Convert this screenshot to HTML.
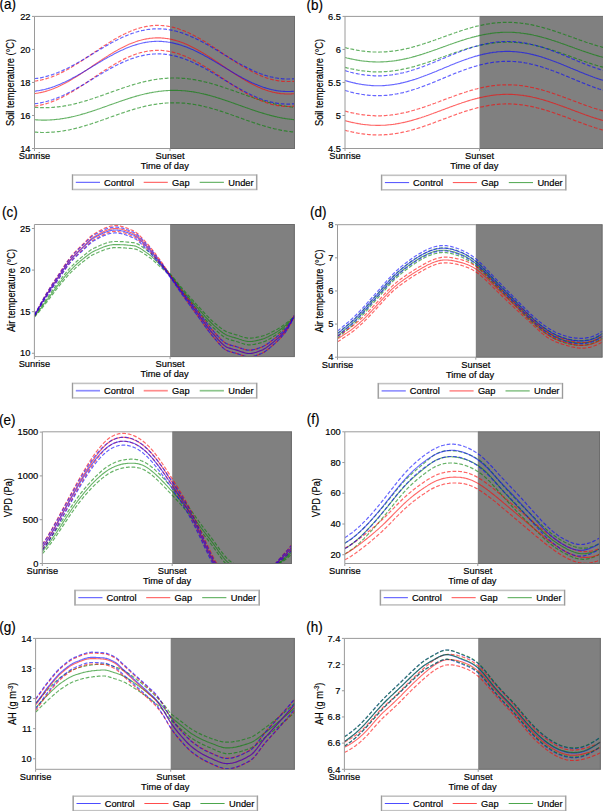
<!DOCTYPE html><html><head><meta charset="utf-8"><style>html,body{margin:0;padding:0;background:#fff;width:603px;height:811px;overflow:hidden}svg{display:block}text{font-family:"Liberation Sans", sans-serif;fill:#000;stroke:#000;stroke-width:0.18px}</style></head><body>
<svg width="603" height="811" viewBox="0 0 603 811">
<defs>
<clipPath id="cpa"><rect x="34.5" y="16.4" width="260.5" height="132.1"/></clipPath>
<clipPath id="cpb"><rect x="345" y="16.4" width="258" height="132.1"/></clipPath>
<clipPath id="cpc"><rect x="34.4" y="224.5" width="260.4" height="132.1"/></clipPath>
<clipPath id="cpd"><rect x="337.5" y="224.7" width="265" height="132.5"/></clipPath>
<clipPath id="cpe"><rect x="42.3" y="431.8" width="249.6" height="131.7"/></clipPath>
<clipPath id="cpf"><rect x="344.8" y="431.8" width="255.2" height="131.7"/></clipPath>
<clipPath id="cpg"><rect x="35.6" y="638.4" width="259.2" height="130.9"/></clipPath>
<clipPath id="cph"><rect x="344.4" y="638.4" width="256.4" height="130.9"/></clipPath>
</defs>
<g><rect x="170" y="16.4" width="125" height="132.1" fill="#808080"/><g clip-path="url(#cpa)" fill="none"><path d="M34.5,107.3 L35.5,107.4 L36.5,107.5 L37.5,107.5 L38.5,107.6 L39.5,107.6 L40.5,107.7 L41.5,107.7 L42.5,107.7 L43.5,107.7 L44.5,107.7 L45.5,107.7 L46.5,107.7 L47.5,107.7 L48.5,107.6 L49.5,107.6 L50.5,107.5 L51.5,107.5 L52.5,107.4 L53.5,107.3 L54.5,107.2 L55.5,107.1 L56.5,107 L57.5,106.9 L58.5,106.8 L59.5,106.7 L60.5,106.6 L61.5,106.4 L62.5,106.3 L63.5,106.1 L64.5,105.9 L65.5,105.8 L66.5,105.6 L67.5,105.4 L68.5,105.2 L69.5,105 L70.5,104.8 L71.5,104.6 L72.5,104.3 L73.5,104.1 L74.5,103.9 L75.5,103.6 L76.5,103.4 L77.5,103.1 L78.5,102.9 L79.5,102.6 L80.5,102.3 L81.5,102 L82.5,101.8 L83.5,101.5 L84.5,101.2 L85.5,100.9 L86.5,100.6 L87.5,100.3 L88.5,99.9 L89.5,99.6 L90.5,99.3 L91.5,99 L92.5,98.7 L93.5,98.3 L94.5,98 L95.5,97.6 L96.5,97.3 L97.5,97 L98.5,96.6 L99.5,96.3 L100.5,95.9 L101.5,95.6 L102.5,95.2 L103.5,94.9 L104.5,94.5 L105.5,94.2 L106.5,93.8 L107.5,93.4 L108.5,93.1 L109.5,92.7 L110.5,92.4 L111.5,92 L112.5,91.6 L113.5,91.3 L114.5,90.9 L115.5,90.6 L116.5,90.2 L117.5,89.9 L118.5,89.5 L119.5,89.2 L120.5,88.8 L121.5,88.5 L122.5,88.1 L123.5,87.8 L124.5,87.5 L125.5,87.1 L126.5,86.8 L127.5,86.5 L128.5,86.2 L129.5,85.8 L130.5,85.5 L131.5,85.2 L132.5,84.9 L133.5,84.6 L134.5,84.3 L135.5,84 L136.5,83.7 L137.5,83.5 L138.5,83.2 L139.5,82.9 L140.5,82.6 L141.5,82.4 L142.5,82.1 L143.5,81.9 L144.5,81.7 L145.5,81.4 L146.5,81.2 L147.5,81 L148.5,80.8 L149.5,80.6 L150.5,80.4 L151.5,80.2 L152.5,80 L153.5,79.8 L154.5,79.6 L155.5,79.5 L156.5,79.3 L157.5,79.2 L158.5,79.1 L159.5,78.9 L160.5,78.8 L161.5,78.7 L162.5,78.6 L163.5,78.5 L164.5,78.4 L165.5,78.3 L166.5,78.3 L167.5,78.2 L168.5,78.1 L169.5,78.1 L170.5,78.1 L171.5,78 L172.5,78 L173.5,78 L174.5,78 L175.5,78 L176.5,78 L177.5,78 L178.5,78.1 L179.5,78.1 L180.5,78.2 L181.5,78.2 L182.5,78.3 L183.5,78.4 L184.5,78.4 L185.5,78.5 L186.5,78.6 L187.5,78.7 L188.5,78.9 L189.5,79 L190.5,79.1 L191.5,79.3 L192.5,79.4 L193.5,79.6 L194.5,79.7 L195.5,79.9 L196.5,80.1 L197.5,80.3 L198.5,80.5 L199.5,80.7 L200.5,80.9 L201.5,81.1 L202.5,81.3 L203.5,81.5 L204.5,81.8 L205.5,82 L206.5,82.3 L207.5,82.5 L208.5,82.8 L209.5,83 L210.5,83.3 L211.5,83.6 L212.5,83.9 L213.5,84.2 L214.5,84.5 L215.5,84.8 L216.5,85.1 L217.5,85.4 L218.5,85.7 L219.5,86 L220.5,86.3 L221.5,86.6 L222.5,87 L223.5,87.3 L224.5,87.6 L225.5,88 L226.5,88.3 L227.5,88.7 L228.5,89 L229.5,89.3 L230.5,89.7 L231.5,90 L232.5,90.4 L233.5,90.8 L234.5,91.1 L235.5,91.5 L236.5,91.8 L237.5,92.2 L238.5,92.5 L239.5,92.9 L240.5,93.3 L241.5,93.6 L242.5,94 L243.5,94.3 L244.5,94.7 L245.5,95 L246.5,95.4 L247.5,95.7 L248.5,96.1 L249.5,96.4 L250.5,96.8 L251.5,97.1 L252.5,97.5 L253.5,97.8 L254.5,98.2 L255.5,98.5 L256.5,98.8 L257.5,99.1 L258.5,99.5 L259.5,99.8 L260.5,100.1 L261.5,100.4 L262.5,100.7 L263.5,101 L264.5,101.3 L265.5,101.6 L266.5,101.9 L267.5,102.2 L268.5,102.5 L269.5,102.7 L270.5,103 L271.5,103.2 L272.5,103.5 L273.5,103.7 L274.5,104 L275.5,104.2 L276.5,104.5 L277.5,104.7 L278.5,104.9 L279.5,105.1 L280.5,105.3 L281.5,105.5 L282.5,105.7 L283.5,105.8 L284.5,106 L285.5,106.2 L286.5,106.3 L287.5,106.5 L288.5,106.6 L289.5,106.8 L290.5,106.9 L291.5,107 L292.5,107.1 L293.5,107.2 L294.5,107.3" stroke="#008000" stroke-opacity="0.6" stroke-width="1.2" stroke-dasharray="3.8 1.8"/><path d="M34.5,132.1 L35.5,132.2 L36.5,132.2 L37.5,132.3 L38.5,132.4 L39.5,132.4 L40.5,132.4 L41.5,132.5 L42.5,132.5 L43.5,132.5 L44.5,132.5 L45.5,132.5 L46.5,132.5 L47.5,132.4 L48.5,132.4 L49.5,132.4 L50.5,132.3 L51.5,132.2 L52.5,132.2 L53.5,132.1 L54.5,132 L55.5,131.9 L56.5,131.8 L57.5,131.7 L58.5,131.6 L59.5,131.5 L60.5,131.3 L61.5,131.2 L62.5,131 L63.5,130.9 L64.5,130.7 L65.5,130.5 L66.5,130.3 L67.5,130.2 L68.5,130 L69.5,129.8 L70.5,129.5 L71.5,129.3 L72.5,129.1 L73.5,128.9 L74.5,128.6 L75.5,128.4 L76.5,128.1 L77.5,127.9 L78.5,127.6 L79.5,127.4 L80.5,127.1 L81.5,126.8 L82.5,126.5 L83.5,126.2 L84.5,125.9 L85.5,125.6 L86.5,125.3 L87.5,125 L88.5,124.7 L89.5,124.4 L90.5,124.1 L91.5,123.8 L92.5,123.4 L93.5,123.1 L94.5,122.8 L95.5,122.4 L96.5,122.1 L97.5,121.7 L98.5,121.4 L99.5,121 L100.5,120.7 L101.5,120.3 L102.5,120 L103.5,119.6 L104.5,119.3 L105.5,118.9 L106.5,118.6 L107.5,118.2 L108.5,117.8 L109.5,117.5 L110.5,117.1 L111.5,116.8 L112.5,116.4 L113.5,116.1 L114.5,115.7 L115.5,115.3 L116.5,115 L117.5,114.6 L118.5,114.3 L119.5,113.9 L120.5,113.6 L121.5,113.3 L122.5,112.9 L123.5,112.6 L124.5,112.2 L125.5,111.9 L126.5,111.6 L127.5,111.2 L128.5,110.9 L129.5,110.6 L130.5,110.3 L131.5,110 L132.5,109.7 L133.5,109.4 L134.5,109.1 L135.5,108.8 L136.5,108.5 L137.5,108.2 L138.5,108 L139.5,107.7 L140.5,107.4 L141.5,107.2 L142.5,106.9 L143.5,106.7 L144.5,106.4 L145.5,106.2 L146.5,106 L147.5,105.7 L148.5,105.5 L149.5,105.3 L150.5,105.1 L151.5,104.9 L152.5,104.8 L153.5,104.6 L154.5,104.4 L155.5,104.3 L156.5,104.1 L157.5,104 L158.5,103.8 L159.5,103.7 L160.5,103.6 L161.5,103.5 L162.5,103.4 L163.5,103.3 L164.5,103.2 L165.5,103.1 L166.5,103 L167.5,103 L168.5,102.9 L169.5,102.9 L170.5,102.8 L171.5,102.8 L172.5,102.8 L173.5,102.8 L174.5,102.8 L175.5,102.8 L176.5,102.8 L177.5,102.8 L178.5,102.8 L179.5,102.9 L180.5,102.9 L181.5,103 L182.5,103.1 L183.5,103.1 L184.5,103.2 L185.5,103.3 L186.5,103.4 L187.5,103.5 L188.5,103.6 L189.5,103.8 L190.5,103.9 L191.5,104 L192.5,104.2 L193.5,104.3 L194.5,104.5 L195.5,104.7 L196.5,104.8 L197.5,105 L198.5,105.2 L199.5,105.4 L200.5,105.6 L201.5,105.9 L202.5,106.1 L203.5,106.3 L204.5,106.5 L205.5,106.8 L206.5,107 L207.5,107.3 L208.5,107.5 L209.5,107.8 L210.5,108.1 L211.5,108.4 L212.5,108.6 L213.5,108.9 L214.5,109.2 L215.5,109.5 L216.5,109.8 L217.5,110.1 L218.5,110.5 L219.5,110.8 L220.5,111.1 L221.5,111.4 L222.5,111.7 L223.5,112.1 L224.5,112.4 L225.5,112.7 L226.5,113.1 L227.5,113.4 L228.5,113.8 L229.5,114.1 L230.5,114.5 L231.5,114.8 L232.5,115.2 L233.5,115.5 L234.5,115.9 L235.5,116.2 L236.5,116.6 L237.5,116.9 L238.5,117.3 L239.5,117.7 L240.5,118 L241.5,118.4 L242.5,118.7 L243.5,119.1 L244.5,119.5 L245.5,119.8 L246.5,120.2 L247.5,120.5 L248.5,120.9 L249.5,121.2 L250.5,121.6 L251.5,121.9 L252.5,122.2 L253.5,122.6 L254.5,122.9 L255.5,123.3 L256.5,123.6 L257.5,123.9 L258.5,124.2 L259.5,124.6 L260.5,124.9 L261.5,125.2 L262.5,125.5 L263.5,125.8 L264.5,126.1 L265.5,126.4 L266.5,126.7 L267.5,126.9 L268.5,127.2 L269.5,127.5 L270.5,127.8 L271.5,128 L272.5,128.3 L273.5,128.5 L274.5,128.8 L275.5,129 L276.5,129.2 L277.5,129.4 L278.5,129.7 L279.5,129.9 L280.5,130.1 L281.5,130.3 L282.5,130.4 L283.5,130.6 L284.5,130.8 L285.5,130.9 L286.5,131.1 L287.5,131.3 L288.5,131.4 L289.5,131.5 L290.5,131.6 L291.5,131.8 L292.5,131.9 L293.5,132 L294.5,132.1" stroke="#008000" stroke-opacity="0.6" stroke-width="1.2" stroke-dasharray="3.8 1.8"/><path d="M34.5,119.7 L35.5,119.8 L36.5,119.9 L37.5,119.9 L38.5,120 L39.5,120 L40.5,120 L41.5,120.1 L42.5,120.1 L43.5,120.1 L44.5,120.1 L45.5,120.1 L46.5,120.1 L47.5,120 L48.5,120 L49.5,120 L50.5,119.9 L51.5,119.9 L52.5,119.8 L53.5,119.7 L54.5,119.6 L55.5,119.5 L56.5,119.4 L57.5,119.3 L58.5,119.2 L59.5,119.1 L60.5,118.9 L61.5,118.8 L62.5,118.6 L63.5,118.5 L64.5,118.3 L65.5,118.1 L66.5,118 L67.5,117.8 L68.5,117.6 L69.5,117.4 L70.5,117.2 L71.5,116.9 L72.5,116.7 L73.5,116.5 L74.5,116.3 L75.5,116 L76.5,115.8 L77.5,115.5 L78.5,115.2 L79.5,115 L80.5,114.7 L81.5,114.4 L82.5,114.1 L83.5,113.8 L84.5,113.6 L85.5,113.3 L86.5,113 L87.5,112.6 L88.5,112.3 L89.5,112 L90.5,111.7 L91.5,111.4 L92.5,111 L93.5,110.7 L94.5,110.4 L95.5,110 L96.5,109.7 L97.5,109.3 L98.5,109 L99.5,108.7 L100.5,108.3 L101.5,108 L102.5,107.6 L103.5,107.2 L104.5,106.9 L105.5,106.5 L106.5,106.2 L107.5,105.8 L108.5,105.5 L109.5,105.1 L110.5,104.7 L111.5,104.4 L112.5,104 L113.5,103.7 L114.5,103.3 L115.5,103 L116.5,102.6 L117.5,102.3 L118.5,101.9 L119.5,101.6 L120.5,101.2 L121.5,100.9 L122.5,100.5 L123.5,100.2 L124.5,99.9 L125.5,99.5 L126.5,99.2 L127.5,98.9 L128.5,98.5 L129.5,98.2 L130.5,97.9 L131.5,97.6 L132.5,97.3 L133.5,97 L134.5,96.7 L135.5,96.4 L136.5,96.1 L137.5,95.8 L138.5,95.6 L139.5,95.3 L140.5,95 L141.5,94.8 L142.5,94.5 L143.5,94.3 L144.5,94 L145.5,93.8 L146.5,93.6 L147.5,93.4 L148.5,93.2 L149.5,92.9 L150.5,92.7 L151.5,92.6 L152.5,92.4 L153.5,92.2 L154.5,92 L155.5,91.9 L156.5,91.7 L157.5,91.6 L158.5,91.4 L159.5,91.3 L160.5,91.2 L161.5,91.1 L162.5,91 L163.5,90.9 L164.5,90.8 L165.5,90.7 L166.5,90.6 L167.5,90.6 L168.5,90.5 L169.5,90.5 L170.5,90.4 L171.5,90.4 L172.5,90.4 L173.5,90.4 L174.5,90.4 L175.5,90.4 L176.5,90.4 L177.5,90.4 L178.5,90.5 L179.5,90.5 L180.5,90.5 L181.5,90.6 L182.5,90.7 L183.5,90.7 L184.5,90.8 L185.5,90.9 L186.5,91 L187.5,91.1 L188.5,91.2 L189.5,91.4 L190.5,91.5 L191.5,91.6 L192.5,91.8 L193.5,91.9 L194.5,92.1 L195.5,92.3 L196.5,92.5 L197.5,92.7 L198.5,92.8 L199.5,93 L200.5,93.3 L201.5,93.5 L202.5,93.7 L203.5,93.9 L204.5,94.2 L205.5,94.4 L206.5,94.6 L207.5,94.9 L208.5,95.2 L209.5,95.4 L210.5,95.7 L211.5,96 L212.5,96.3 L213.5,96.6 L214.5,96.8 L215.5,97.1 L216.5,97.4 L217.5,97.8 L218.5,98.1 L219.5,98.4 L220.5,98.7 L221.5,99 L222.5,99.4 L223.5,99.7 L224.5,100 L225.5,100.4 L226.5,100.7 L227.5,101 L228.5,101.4 L229.5,101.7 L230.5,102.1 L231.5,102.4 L232.5,102.8 L233.5,103.1 L234.5,103.5 L235.5,103.9 L236.5,104.2 L237.5,104.6 L238.5,104.9 L239.5,105.3 L240.5,105.6 L241.5,106 L242.5,106.4 L243.5,106.7 L244.5,107.1 L245.5,107.4 L246.5,107.8 L247.5,108.1 L248.5,108.5 L249.5,108.8 L250.5,109.2 L251.5,109.5 L252.5,109.9 L253.5,110.2 L254.5,110.5 L255.5,110.9 L256.5,111.2 L257.5,111.5 L258.5,111.9 L259.5,112.2 L260.5,112.5 L261.5,112.8 L262.5,113.1 L263.5,113.4 L264.5,113.7 L265.5,114 L266.5,114.3 L267.5,114.6 L268.5,114.8 L269.5,115.1 L270.5,115.4 L271.5,115.6 L272.5,115.9 L273.5,116.1 L274.5,116.4 L275.5,116.6 L276.5,116.8 L277.5,117.1 L278.5,117.3 L279.5,117.5 L280.5,117.7 L281.5,117.9 L282.5,118.1 L283.5,118.2 L284.5,118.4 L285.5,118.6 L286.5,118.7 L287.5,118.9 L288.5,119 L289.5,119.1 L290.5,119.3 L291.5,119.4 L292.5,119.5 L293.5,119.6 L294.5,119.7" stroke="#008000" stroke-opacity="0.6" stroke-width="1.1"/><path d="M34.5,81.1 L35.5,81 L36.5,80.9 L37.5,80.7 L38.5,80.6 L39.5,80.4 L40.5,80.2 L41.5,80 L42.5,79.7 L43.5,79.5 L44.5,79.2 L45.5,78.9 L46.5,78.6 L47.5,78.3 L48.5,78 L49.5,77.7 L50.5,77.3 L51.5,77 L52.5,76.6 L53.5,76.2 L54.5,75.8 L55.5,75.4 L56.5,75 L57.5,74.5 L58.5,74.1 L59.5,73.6 L60.5,73.1 L61.5,72.6 L62.5,72.1 L63.5,71.6 L64.5,71.1 L65.5,70.6 L66.5,70 L67.5,69.5 L68.5,68.9 L69.5,68.3 L70.5,67.7 L71.5,67.2 L72.5,66.6 L73.5,66 L74.5,65.4 L75.5,64.7 L76.5,64.1 L77.5,63.5 L78.5,62.9 L79.5,62.2 L80.5,61.6 L81.5,60.9 L82.5,60.3 L83.5,59.6 L84.5,58.9 L85.5,58.3 L86.5,57.6 L87.5,56.9 L88.5,56.3 L89.5,55.6 L90.5,54.9 L91.5,54.2 L92.5,53.6 L93.5,52.9 L94.5,52.2 L95.5,51.5 L96.5,50.9 L97.5,50.2 L98.5,49.5 L99.5,48.8 L100.5,48.2 L101.5,47.5 L102.5,46.8 L103.5,46.2 L104.5,45.5 L105.5,44.9 L106.5,44.3 L107.5,43.6 L108.5,43 L109.5,42.4 L110.5,41.7 L111.5,41.1 L112.5,40.5 L113.5,39.9 L114.5,39.3 L115.5,38.8 L116.5,38.2 L117.5,37.6 L118.5,37.1 L119.5,36.5 L120.5,36 L121.5,35.5 L122.5,34.9 L123.5,34.4 L124.5,34 L125.5,33.5 L126.5,33 L127.5,32.5 L128.5,32.1 L129.5,31.7 L130.5,31.2 L131.5,30.8 L132.5,30.4 L133.5,30.1 L134.5,29.7 L135.5,29.3 L136.5,29 L137.5,28.7 L138.5,28.4 L139.5,28.1 L140.5,27.8 L141.5,27.5 L142.5,27.3 L143.5,27 L144.5,26.8 L145.5,26.6 L146.5,26.4 L147.5,26.3 L148.5,26.1 L149.5,26 L150.5,25.8 L151.5,25.7 L152.5,25.6 L153.5,25.5 L154.5,25.5 L155.5,25.4 L156.5,25.4 L157.5,25.4 L158.5,25.4 L159.5,25.4 L160.5,25.5 L161.5,25.5 L162.5,25.6 L163.5,25.7 L164.5,25.8 L165.5,25.9 L166.5,26 L167.5,26.2 L168.5,26.3 L169.5,26.5 L170.5,26.7 L171.5,26.9 L172.5,27.2 L173.5,27.4 L174.5,27.7 L175.5,27.9 L176.5,28.2 L177.5,28.5 L178.5,28.8 L179.5,29.2 L180.5,29.5 L181.5,29.9 L182.5,30.3 L183.5,30.6 L184.5,31 L185.5,31.5 L186.5,31.9 L187.5,32.3 L188.5,32.8 L189.5,33.2 L190.5,33.7 L191.5,34.2 L192.5,34.7 L193.5,35.2 L194.5,35.7 L195.5,36.3 L196.5,36.8 L197.5,37.3 L198.5,37.9 L199.5,38.5 L200.5,39 L201.5,39.6 L202.5,40.2 L203.5,40.8 L204.5,41.4 L205.5,42 L206.5,42.7 L207.5,43.3 L208.5,43.9 L209.5,44.6 L210.5,45.2 L211.5,45.9 L212.5,46.5 L213.5,47.2 L214.5,47.8 L215.5,48.5 L216.5,49.2 L217.5,49.8 L218.5,50.5 L219.5,51.2 L220.5,51.9 L221.5,52.5 L222.5,53.2 L223.5,53.9 L224.5,54.6 L225.5,55.2 L226.5,55.9 L227.5,56.6 L228.5,57.3 L229.5,57.9 L230.5,58.6 L231.5,59.3 L232.5,59.9 L233.5,60.6 L234.5,61.2 L235.5,61.9 L236.5,62.5 L237.5,63.2 L238.5,63.8 L239.5,64.4 L240.5,65 L241.5,65.7 L242.5,66.3 L243.5,66.9 L244.5,67.5 L245.5,68 L246.5,68.6 L247.5,69.2 L248.5,69.7 L249.5,70.3 L250.5,70.8 L251.5,71.3 L252.5,71.9 L253.5,72.4 L254.5,72.9 L255.5,73.3 L256.5,73.8 L257.5,74.3 L258.5,74.7 L259.5,75.2 L260.5,75.6 L261.5,76 L262.5,76.4 L263.5,76.8 L264.5,77.2 L265.5,77.5 L266.5,77.9 L267.5,78.2 L268.5,78.5 L269.5,78.8 L270.5,79.1 L271.5,79.3 L272.5,79.6 L273.5,79.8 L274.5,80.1 L275.5,80.3 L276.5,80.5 L277.5,80.6 L278.5,80.8 L279.5,81 L280.5,81.1 L281.5,81.2 L282.5,81.3 L283.5,81.4 L284.5,81.4 L285.5,81.5 L286.5,81.5 L287.5,81.5 L288.5,81.5 L289.5,81.5 L290.5,81.5 L291.5,81.4 L292.5,81.4 L293.5,81.3 L294.5,81.2" stroke="#ff0000" stroke-opacity="0.6" stroke-width="1.2" stroke-dasharray="3.8 1.8"/><path d="M34.5,106.1 L35.5,106 L36.5,105.8 L37.5,105.7 L38.5,105.5 L39.5,105.3 L40.5,105.1 L41.5,104.9 L42.5,104.7 L43.5,104.4 L44.5,104.1 L45.5,103.9 L46.5,103.6 L47.5,103.3 L48.5,103 L49.5,102.6 L50.5,102.3 L51.5,101.9 L52.5,101.5 L53.5,101.1 L54.5,100.7 L55.5,100.3 L56.5,99.9 L57.5,99.4 L58.5,99 L59.5,98.5 L60.5,98 L61.5,97.6 L62.5,97.1 L63.5,96.5 L64.5,96 L65.5,95.5 L66.5,94.9 L67.5,94.4 L68.5,93.8 L69.5,93.3 L70.5,92.7 L71.5,92.1 L72.5,91.5 L73.5,90.9 L74.5,90.3 L75.5,89.7 L76.5,89 L77.5,88.4 L78.5,87.8 L79.5,87.1 L80.5,86.5 L81.5,85.8 L82.5,85.2 L83.5,84.5 L84.5,83.9 L85.5,83.2 L86.5,82.5 L87.5,81.9 L88.5,81.2 L89.5,80.5 L90.5,79.8 L91.5,79.2 L92.5,78.5 L93.5,77.8 L94.5,77.1 L95.5,76.5 L96.5,75.8 L97.5,75.1 L98.5,74.4 L99.5,73.8 L100.5,73.1 L101.5,72.4 L102.5,71.8 L103.5,71.1 L104.5,70.5 L105.5,69.8 L106.5,69.2 L107.5,68.5 L108.5,67.9 L109.5,67.3 L110.5,66.7 L111.5,66.1 L112.5,65.5 L113.5,64.9 L114.5,64.3 L115.5,63.7 L116.5,63.1 L117.5,62.6 L118.5,62 L119.5,61.5 L120.5,60.9 L121.5,60.4 L122.5,59.9 L123.5,59.4 L124.5,58.9 L125.5,58.4 L126.5,57.9 L127.5,57.5 L128.5,57 L129.5,56.6 L130.5,56.2 L131.5,55.8 L132.5,55.4 L133.5,55 L134.5,54.6 L135.5,54.3 L136.5,53.9 L137.5,53.6 L138.5,53.3 L139.5,53 L140.5,52.7 L141.5,52.5 L142.5,52.2 L143.5,52 L144.5,51.8 L145.5,51.5 L146.5,51.4 L147.5,51.2 L148.5,51 L149.5,50.9 L150.5,50.8 L151.5,50.7 L152.5,50.6 L153.5,50.5 L154.5,50.4 L155.5,50.4 L156.5,50.3 L157.5,50.3 L158.5,50.3 L159.5,50.4 L160.5,50.4 L161.5,50.4 L162.5,50.5 L163.5,50.6 L164.5,50.7 L165.5,50.8 L166.5,51 L167.5,51.1 L168.5,51.3 L169.5,51.5 L170.5,51.7 L171.5,51.9 L172.5,52.1 L173.5,52.3 L174.5,52.6 L175.5,52.9 L176.5,53.2 L177.5,53.5 L178.5,53.8 L179.5,54.1 L180.5,54.5 L181.5,54.8 L182.5,55.2 L183.5,55.6 L184.5,56 L185.5,56.4 L186.5,56.8 L187.5,57.3 L188.5,57.7 L189.5,58.2 L190.5,58.6 L191.5,59.1 L192.5,59.6 L193.5,60.1 L194.5,60.7 L195.5,61.2 L196.5,61.7 L197.5,62.3 L198.5,62.8 L199.5,63.4 L200.5,64 L201.5,64.6 L202.5,65.2 L203.5,65.8 L204.5,66.4 L205.5,67 L206.5,67.6 L207.5,68.2 L208.5,68.9 L209.5,69.5 L210.5,70.1 L211.5,70.8 L212.5,71.5 L213.5,72.1 L214.5,72.8 L215.5,73.4 L216.5,74.1 L217.5,74.8 L218.5,75.4 L219.5,76.1 L220.5,76.8 L221.5,77.5 L222.5,78.2 L223.5,78.8 L224.5,79.5 L225.5,80.2 L226.5,80.9 L227.5,81.5 L228.5,82.2 L229.5,82.9 L230.5,83.5 L231.5,84.2 L232.5,84.9 L233.5,85.5 L234.5,86.2 L235.5,86.8 L236.5,87.5 L237.5,88.1 L238.5,88.7 L239.5,89.4 L240.5,90 L241.5,90.6 L242.5,91.2 L243.5,91.8 L244.5,92.4 L245.5,93 L246.5,93.5 L247.5,94.1 L248.5,94.7 L249.5,95.2 L250.5,95.8 L251.5,96.3 L252.5,96.8 L253.5,97.3 L254.5,97.8 L255.5,98.3 L256.5,98.8 L257.5,99.2 L258.5,99.7 L259.5,100.1 L260.5,100.5 L261.5,100.9 L262.5,101.3 L263.5,101.7 L264.5,102.1 L265.5,102.4 L266.5,102.8 L267.5,103.1 L268.5,103.4 L269.5,103.7 L270.5,104 L271.5,104.3 L272.5,104.5 L273.5,104.8 L274.5,105 L275.5,105.2 L276.5,105.4 L277.5,105.6 L278.5,105.7 L279.5,105.9 L280.5,106 L281.5,106.1 L282.5,106.2 L283.5,106.3 L284.5,106.4 L285.5,106.4 L286.5,106.5 L287.5,106.5 L288.5,106.5 L289.5,106.5 L290.5,106.4 L291.5,106.4 L292.5,106.3 L293.5,106.2 L294.5,106.1" stroke="#ff0000" stroke-opacity="0.6" stroke-width="1.2" stroke-dasharray="3.8 1.8"/><path d="M34.5,93.6 L35.5,93.5 L36.5,93.3 L37.5,93.2 L38.5,93 L39.5,92.8 L40.5,92.6 L41.5,92.4 L42.5,92.2 L43.5,91.9 L44.5,91.7 L45.5,91.4 L46.5,91.1 L47.5,90.8 L48.5,90.5 L49.5,90.1 L50.5,89.8 L51.5,89.4 L52.5,89.1 L53.5,88.7 L54.5,88.3 L55.5,87.8 L56.5,87.4 L57.5,87 L58.5,86.5 L59.5,86.1 L60.5,85.6 L61.5,85.1 L62.5,84.6 L63.5,84.1 L64.5,83.6 L65.5,83 L66.5,82.5 L67.5,81.9 L68.5,81.4 L69.5,80.8 L70.5,80.2 L71.5,79.6 L72.5,79 L73.5,78.4 L74.5,77.8 L75.5,77.2 L76.5,76.6 L77.5,76 L78.5,75.3 L79.5,74.7 L80.5,74 L81.5,73.4 L82.5,72.7 L83.5,72.1 L84.5,71.4 L85.5,70.7 L86.5,70.1 L87.5,69.4 L88.5,68.7 L89.5,68.1 L90.5,67.4 L91.5,66.7 L92.5,66 L93.5,65.3 L94.5,64.7 L95.5,64 L96.5,63.3 L97.5,62.6 L98.5,62 L99.5,61.3 L100.5,60.6 L101.5,60 L102.5,59.3 L103.5,58.7 L104.5,58 L105.5,57.4 L106.5,56.7 L107.5,56.1 L108.5,55.4 L109.5,54.8 L110.5,54.2 L111.5,53.6 L112.5,53 L113.5,52.4 L114.5,51.8 L115.5,51.2 L116.5,50.7 L117.5,50.1 L118.5,49.5 L119.5,49 L120.5,48.5 L121.5,47.9 L122.5,47.4 L123.5,46.9 L124.5,46.4 L125.5,45.9 L126.5,45.5 L127.5,45 L128.5,44.6 L129.5,44.1 L130.5,43.7 L131.5,43.3 L132.5,42.9 L133.5,42.5 L134.5,42.2 L135.5,41.8 L136.5,41.5 L137.5,41.1 L138.5,40.8 L139.5,40.5 L140.5,40.3 L141.5,40 L142.5,39.7 L143.5,39.5 L144.5,39.3 L145.5,39.1 L146.5,38.9 L147.5,38.7 L148.5,38.6 L149.5,38.4 L150.5,38.3 L151.5,38.2 L152.5,38.1 L153.5,38 L154.5,38 L155.5,37.9 L156.5,37.9 L157.5,37.9 L158.5,37.9 L159.5,37.9 L160.5,37.9 L161.5,38 L162.5,38.1 L163.5,38.1 L164.5,38.2 L165.5,38.4 L166.5,38.5 L167.5,38.6 L168.5,38.8 L169.5,39 L170.5,39.2 L171.5,39.4 L172.5,39.6 L173.5,39.9 L174.5,40.1 L175.5,40.4 L176.5,40.7 L177.5,41 L178.5,41.3 L179.5,41.6 L180.5,42 L181.5,42.3 L182.5,42.7 L183.5,43.1 L184.5,43.5 L185.5,43.9 L186.5,44.3 L187.5,44.8 L188.5,45.2 L189.5,45.7 L190.5,46.2 L191.5,46.7 L192.5,47.2 L193.5,47.7 L194.5,48.2 L195.5,48.7 L196.5,49.3 L197.5,49.8 L198.5,50.4 L199.5,50.9 L200.5,51.5 L201.5,52.1 L202.5,52.7 L203.5,53.3 L204.5,53.9 L205.5,54.5 L206.5,55.1 L207.5,55.8 L208.5,56.4 L209.5,57 L210.5,57.7 L211.5,58.3 L212.5,59 L213.5,59.6 L214.5,60.3 L215.5,61 L216.5,61.6 L217.5,62.3 L218.5,63 L219.5,63.7 L220.5,64.3 L221.5,65 L222.5,65.7 L223.5,66.4 L224.5,67 L225.5,67.7 L226.5,68.4 L227.5,69.1 L228.5,69.7 L229.5,70.4 L230.5,71.1 L231.5,71.7 L232.5,72.4 L233.5,73.1 L234.5,73.7 L235.5,74.4 L236.5,75 L237.5,75.6 L238.5,76.3 L239.5,76.9 L240.5,77.5 L241.5,78.1 L242.5,78.7 L243.5,79.3 L244.5,79.9 L245.5,80.5 L246.5,81.1 L247.5,81.6 L248.5,82.2 L249.5,82.8 L250.5,83.3 L251.5,83.8 L252.5,84.3 L253.5,84.8 L254.5,85.3 L255.5,85.8 L256.5,86.3 L257.5,86.7 L258.5,87.2 L259.5,87.6 L260.5,88.1 L261.5,88.5 L262.5,88.9 L263.5,89.2 L264.5,89.6 L265.5,90 L266.5,90.3 L267.5,90.6 L268.5,91 L269.5,91.3 L270.5,91.5 L271.5,91.8 L272.5,92.1 L273.5,92.3 L274.5,92.5 L275.5,92.7 L276.5,92.9 L277.5,93.1 L278.5,93.3 L279.5,93.4 L280.5,93.6 L281.5,93.7 L282.5,93.8 L283.5,93.8 L284.5,93.9 L285.5,94 L286.5,94 L287.5,94 L288.5,94 L289.5,94 L290.5,94 L291.5,93.9 L292.5,93.8 L293.5,93.8 L294.5,93.7" stroke="#ff0000" stroke-opacity="0.6" stroke-width="1.1"/><path d="M34.5,78.6 L35.5,78.5 L36.5,78.4 L37.5,78.3 L38.5,78.1 L39.5,77.9 L40.5,77.8 L41.5,77.6 L42.5,77.4 L43.5,77.1 L44.5,76.9 L45.5,76.7 L46.5,76.4 L47.5,76.1 L48.5,75.8 L49.5,75.5 L50.5,75.2 L51.5,74.9 L52.5,74.6 L53.5,74.2 L54.5,73.8 L55.5,73.5 L56.5,73.1 L57.5,72.7 L58.5,72.3 L59.5,71.9 L60.5,71.4 L61.5,71 L62.5,70.6 L63.5,70.1 L64.5,69.6 L65.5,69.2 L66.5,68.7 L67.5,68.2 L68.5,67.7 L69.5,67.2 L70.5,66.7 L71.5,66.1 L72.5,65.6 L73.5,65.1 L74.5,64.5 L75.5,64 L76.5,63.4 L77.5,62.8 L78.5,62.3 L79.5,61.7 L80.5,61.1 L81.5,60.5 L82.5,60 L83.5,59.4 L84.5,58.8 L85.5,58.2 L86.5,57.6 L87.5,57 L88.5,56.4 L89.5,55.8 L90.5,55.2 L91.5,54.6 L92.5,54 L93.5,53.4 L94.5,52.7 L95.5,52.1 L96.5,51.5 L97.5,50.9 L98.5,50.3 L99.5,49.7 L100.5,49.1 L101.5,48.6 L102.5,48 L103.5,47.4 L104.5,46.8 L105.5,46.2 L106.5,45.6 L107.5,45.1 L108.5,44.5 L109.5,43.9 L110.5,43.4 L111.5,42.8 L112.5,42.3 L113.5,41.8 L114.5,41.2 L115.5,40.7 L116.5,40.2 L117.5,39.7 L118.5,39.2 L119.5,38.7 L120.5,38.3 L121.5,37.8 L122.5,37.3 L123.5,36.9 L124.5,36.4 L125.5,36 L126.5,35.6 L127.5,35.2 L128.5,34.8 L129.5,34.4 L130.5,34 L131.5,33.6 L132.5,33.3 L133.5,33 L134.5,32.6 L135.5,32.3 L136.5,32 L137.5,31.7 L138.5,31.4 L139.5,31.2 L140.5,30.9 L141.5,30.7 L142.5,30.5 L143.5,30.3 L144.5,30.1 L145.5,29.9 L146.5,29.7 L147.5,29.5 L148.5,29.4 L149.5,29.3 L150.5,29.2 L151.5,29.1 L152.5,29 L153.5,28.9 L154.5,28.9 L155.5,28.8 L156.5,28.8 L157.5,28.8 L158.5,28.8 L159.5,28.8 L160.5,28.8 L161.5,28.9 L162.5,28.9 L163.5,29 L164.5,29.1 L165.5,29.2 L166.5,29.3 L167.5,29.5 L168.5,29.6 L169.5,29.8 L170.5,30 L171.5,30.2 L172.5,30.4 L173.5,30.6 L174.5,30.8 L175.5,31 L176.5,31.3 L177.5,31.6 L178.5,31.9 L179.5,32.2 L180.5,32.5 L181.5,32.8 L182.5,33.1 L183.5,33.5 L184.5,33.8 L185.5,34.2 L186.5,34.6 L187.5,35 L188.5,35.4 L189.5,35.8 L190.5,36.2 L191.5,36.7 L192.5,37.1 L193.5,37.6 L194.5,38 L195.5,38.5 L196.5,39 L197.5,39.5 L198.5,40 L199.5,40.5 L200.5,41 L201.5,41.5 L202.5,42 L203.5,42.6 L204.5,43.1 L205.5,43.7 L206.5,44.2 L207.5,44.8 L208.5,45.4 L209.5,45.9 L210.5,46.5 L211.5,47.1 L212.5,47.7 L213.5,48.3 L214.5,48.8 L215.5,49.4 L216.5,50 L217.5,50.6 L218.5,51.2 L219.5,51.8 L220.5,52.4 L221.5,53.1 L222.5,53.7 L223.5,54.3 L224.5,54.9 L225.5,55.5 L226.5,56.1 L227.5,56.7 L228.5,57.3 L229.5,57.9 L230.5,58.5 L231.5,59.1 L232.5,59.7 L233.5,60.2 L234.5,60.8 L235.5,61.4 L236.5,62 L237.5,62.6 L238.5,63.1 L239.5,63.7 L240.5,64.2 L241.5,64.8 L242.5,65.3 L243.5,65.9 L244.5,66.4 L245.5,66.9 L246.5,67.4 L247.5,67.9 L248.5,68.4 L249.5,68.9 L250.5,69.4 L251.5,69.9 L252.5,70.3 L253.5,70.8 L254.5,71.2 L255.5,71.7 L256.5,72.1 L257.5,72.5 L258.5,72.9 L259.5,73.3 L260.5,73.7 L261.5,74 L262.5,74.4 L263.5,74.7 L264.5,75.1 L265.5,75.4 L266.5,75.7 L267.5,76 L268.5,76.3 L269.5,76.5 L270.5,76.8 L271.5,77 L272.5,77.2 L273.5,77.5 L274.5,77.7 L275.5,77.9 L276.5,78 L277.5,78.2 L278.5,78.3 L279.5,78.5 L280.5,78.6 L281.5,78.7 L282.5,78.8 L283.5,78.8 L284.5,78.9 L285.5,78.9 L286.5,79 L287.5,79 L288.5,79 L289.5,79 L290.5,78.9 L291.5,78.9 L292.5,78.8 L293.5,78.8 L294.5,78.7" stroke="#0000ff" stroke-opacity="0.6" stroke-width="1.2" stroke-dasharray="3.8 1.8"/><path d="M34.5,103.7 L35.5,103.6 L36.5,103.5 L37.5,103.4 L38.5,103.2 L39.5,103 L40.5,102.9 L41.5,102.7 L42.5,102.5 L43.5,102.2 L44.5,102 L45.5,101.8 L46.5,101.5 L47.5,101.2 L48.5,100.9 L49.5,100.6 L50.5,100.3 L51.5,100 L52.5,99.7 L53.5,99.3 L54.5,98.9 L55.5,98.6 L56.5,98.2 L57.5,97.8 L58.5,97.4 L59.5,97 L60.5,96.5 L61.5,96.1 L62.5,95.7 L63.5,95.2 L64.5,94.7 L65.5,94.3 L66.5,93.8 L67.5,93.3 L68.5,92.8 L69.5,92.3 L70.5,91.7 L71.5,91.2 L72.5,90.7 L73.5,90.2 L74.5,89.6 L75.5,89.1 L76.5,88.5 L77.5,87.9 L78.5,87.4 L79.5,86.8 L80.5,86.2 L81.5,85.6 L82.5,85.1 L83.5,84.5 L84.5,83.9 L85.5,83.3 L86.5,82.7 L87.5,82.1 L88.5,81.5 L89.5,80.9 L90.5,80.3 L91.5,79.7 L92.5,79.1 L93.5,78.5 L94.5,77.8 L95.5,77.2 L96.5,76.6 L97.5,76 L98.5,75.4 L99.5,74.8 L100.5,74.2 L101.5,73.7 L102.5,73.1 L103.5,72.5 L104.5,71.9 L105.5,71.3 L106.5,70.7 L107.5,70.2 L108.5,69.6 L109.5,69 L110.5,68.5 L111.5,67.9 L112.5,67.4 L113.5,66.9 L114.5,66.3 L115.5,65.8 L116.5,65.3 L117.5,64.8 L118.5,64.3 L119.5,63.8 L120.5,63.4 L121.5,62.9 L122.5,62.4 L123.5,62 L124.5,61.5 L125.5,61.1 L126.5,60.7 L127.5,60.3 L128.5,59.9 L129.5,59.5 L130.5,59.1 L131.5,58.7 L132.5,58.4 L133.5,58.1 L134.5,57.7 L135.5,57.4 L136.5,57.1 L137.5,56.8 L138.5,56.5 L139.5,56.3 L140.5,56 L141.5,55.8 L142.5,55.6 L143.5,55.4 L144.5,55.2 L145.5,55 L146.5,54.8 L147.5,54.6 L148.5,54.5 L149.5,54.4 L150.5,54.3 L151.5,54.2 L152.5,54.1 L153.5,54 L154.5,54 L155.5,53.9 L156.5,53.9 L157.5,53.9 L158.5,53.9 L159.5,53.9 L160.5,53.9 L161.5,54 L162.5,54 L163.5,54.1 L164.5,54.2 L165.5,54.3 L166.5,54.4 L167.5,54.6 L168.5,54.7 L169.5,54.9 L170.5,55.1 L171.5,55.3 L172.5,55.5 L173.5,55.7 L174.5,55.9 L175.5,56.1 L176.5,56.4 L177.5,56.7 L178.5,57 L179.5,57.3 L180.5,57.6 L181.5,57.9 L182.5,58.2 L183.5,58.6 L184.5,58.9 L185.5,59.3 L186.5,59.7 L187.5,60.1 L188.5,60.5 L189.5,60.9 L190.5,61.3 L191.5,61.8 L192.5,62.2 L193.5,62.7 L194.5,63.1 L195.5,63.6 L196.5,64.1 L197.5,64.6 L198.5,65.1 L199.5,65.6 L200.5,66.1 L201.5,66.6 L202.5,67.1 L203.5,67.7 L204.5,68.2 L205.5,68.8 L206.5,69.3 L207.5,69.9 L208.5,70.5 L209.5,71 L210.5,71.6 L211.5,72.2 L212.5,72.8 L213.5,73.4 L214.5,73.9 L215.5,74.5 L216.5,75.1 L217.5,75.7 L218.5,76.3 L219.5,76.9 L220.5,77.5 L221.5,78.2 L222.5,78.8 L223.5,79.4 L224.5,80 L225.5,80.6 L226.5,81.2 L227.5,81.8 L228.5,82.4 L229.5,83 L230.5,83.6 L231.5,84.2 L232.5,84.8 L233.5,85.3 L234.5,85.9 L235.5,86.5 L236.5,87.1 L237.5,87.7 L238.5,88.2 L239.5,88.8 L240.5,89.3 L241.5,89.9 L242.5,90.4 L243.5,91 L244.5,91.5 L245.5,92 L246.5,92.5 L247.5,93 L248.5,93.5 L249.5,94 L250.5,94.5 L251.5,95 L252.5,95.4 L253.5,95.9 L254.5,96.3 L255.5,96.8 L256.5,97.2 L257.5,97.6 L258.5,98 L259.5,98.4 L260.5,98.8 L261.5,99.1 L262.5,99.5 L263.5,99.8 L264.5,100.2 L265.5,100.5 L266.5,100.8 L267.5,101.1 L268.5,101.4 L269.5,101.6 L270.5,101.9 L271.5,102.1 L272.5,102.3 L273.5,102.6 L274.5,102.8 L275.5,102.9 L276.5,103.1 L277.5,103.3 L278.5,103.4 L279.5,103.6 L280.5,103.7 L281.5,103.8 L282.5,103.9 L283.5,103.9 L284.5,104 L285.5,104 L286.5,104.1 L287.5,104.1 L288.5,104.1 L289.5,104.1 L290.5,104 L291.5,104 L292.5,103.9 L293.5,103.9 L294.5,103.8" stroke="#0000ff" stroke-opacity="0.6" stroke-width="1.2" stroke-dasharray="3.8 1.8"/><path d="M34.5,91.2 L35.5,91.1 L36.5,90.9 L37.5,90.8 L38.5,90.7 L39.5,90.5 L40.5,90.3 L41.5,90.1 L42.5,89.9 L43.5,89.7 L44.5,89.5 L45.5,89.2 L46.5,88.9 L47.5,88.7 L48.5,88.4 L49.5,88.1 L50.5,87.8 L51.5,87.4 L52.5,87.1 L53.5,86.8 L54.5,86.4 L55.5,86 L56.5,85.6 L57.5,85.2 L58.5,84.8 L59.5,84.4 L60.5,84 L61.5,83.6 L62.5,83.1 L63.5,82.6 L64.5,82.2 L65.5,81.7 L66.5,81.2 L67.5,80.7 L68.5,80.2 L69.5,79.7 L70.5,79.2 L71.5,78.7 L72.5,78.1 L73.5,77.6 L74.5,77.1 L75.5,76.5 L76.5,76 L77.5,75.4 L78.5,74.8 L79.5,74.2 L80.5,73.7 L81.5,73.1 L82.5,72.5 L83.5,71.9 L84.5,71.3 L85.5,70.7 L86.5,70.1 L87.5,69.5 L88.5,68.9 L89.5,68.3 L90.5,67.7 L91.5,67.1 L92.5,66.5 L93.5,65.9 L94.5,65.3 L95.5,64.7 L96.5,64.1 L97.5,63.5 L98.5,62.9 L99.5,62.3 L100.5,61.7 L101.5,61.1 L102.5,60.5 L103.5,59.9 L104.5,59.3 L105.5,58.8 L106.5,58.2 L107.5,57.6 L108.5,57.1 L109.5,56.5 L110.5,55.9 L111.5,55.4 L112.5,54.9 L113.5,54.3 L114.5,53.8 L115.5,53.3 L116.5,52.8 L117.5,52.3 L118.5,51.8 L119.5,51.3 L120.5,50.8 L121.5,50.3 L122.5,49.9 L123.5,49.4 L124.5,49 L125.5,48.6 L126.5,48.1 L127.5,47.7 L128.5,47.3 L129.5,46.9 L130.5,46.6 L131.5,46.2 L132.5,45.8 L133.5,45.5 L134.5,45.2 L135.5,44.9 L136.5,44.6 L137.5,44.3 L138.5,44 L139.5,43.7 L140.5,43.5 L141.5,43.2 L142.5,43 L143.5,42.8 L144.5,42.6 L145.5,42.4 L146.5,42.3 L147.5,42.1 L148.5,42 L149.5,41.8 L150.5,41.7 L151.5,41.6 L152.5,41.5 L153.5,41.5 L154.5,41.4 L155.5,41.4 L156.5,41.3 L157.5,41.3 L158.5,41.3 L159.5,41.4 L160.5,41.4 L161.5,41.4 L162.5,41.5 L163.5,41.6 L164.5,41.7 L165.5,41.8 L166.5,41.9 L167.5,42 L168.5,42.2 L169.5,42.3 L170.5,42.5 L171.5,42.7 L172.5,42.9 L173.5,43.1 L174.5,43.4 L175.5,43.6 L176.5,43.9 L177.5,44.1 L178.5,44.4 L179.5,44.7 L180.5,45 L181.5,45.3 L182.5,45.7 L183.5,46 L184.5,46.4 L185.5,46.7 L186.5,47.1 L187.5,47.5 L188.5,47.9 L189.5,48.3 L190.5,48.8 L191.5,49.2 L192.5,49.6 L193.5,50.1 L194.5,50.6 L195.5,51 L196.5,51.5 L197.5,52 L198.5,52.5 L199.5,53 L200.5,53.5 L201.5,54.1 L202.5,54.6 L203.5,55.1 L204.5,55.7 L205.5,56.2 L206.5,56.8 L207.5,57.3 L208.5,57.9 L209.5,58.5 L210.5,59.1 L211.5,59.6 L212.5,60.2 L213.5,60.8 L214.5,61.4 L215.5,62 L216.5,62.6 L217.5,63.2 L218.5,63.8 L219.5,64.4 L220.5,65 L221.5,65.6 L222.5,66.2 L223.5,66.8 L224.5,67.4 L225.5,68 L226.5,68.6 L227.5,69.2 L228.5,69.8 L229.5,70.4 L230.5,71 L231.5,71.6 L232.5,72.2 L233.5,72.8 L234.5,73.4 L235.5,74 L236.5,74.5 L237.5,75.1 L238.5,75.7 L239.5,76.2 L240.5,76.8 L241.5,77.3 L242.5,77.9 L243.5,78.4 L244.5,78.9 L245.5,79.5 L246.5,80 L247.5,80.5 L248.5,81 L249.5,81.5 L250.5,81.9 L251.5,82.4 L252.5,82.9 L253.5,83.3 L254.5,83.8 L255.5,84.2 L256.5,84.6 L257.5,85 L258.5,85.4 L259.5,85.8 L260.5,86.2 L261.5,86.6 L262.5,86.9 L263.5,87.3 L264.5,87.6 L265.5,87.9 L266.5,88.2 L267.5,88.5 L268.5,88.8 L269.5,89.1 L270.5,89.3 L271.5,89.6 L272.5,89.8 L273.5,90 L274.5,90.2 L275.5,90.4 L276.5,90.6 L277.5,90.7 L278.5,90.9 L279.5,91 L280.5,91.1 L281.5,91.2 L282.5,91.3 L283.5,91.4 L284.5,91.4 L285.5,91.5 L286.5,91.5 L287.5,91.5 L288.5,91.5 L289.5,91.5 L290.5,91.5 L291.5,91.4 L292.5,91.4 L293.5,91.3 L294.5,91.2" stroke="#0000ff" stroke-opacity="0.6" stroke-width="1.1"/></g><path d="M34.5,16.4 H170 M34.5,16.4 V148.5 H170" stroke="#9a9a9a" stroke-width="1" fill="none"/><path d="M170,16.4 H295 M170,148.5 H295" stroke="#6c6c6c" stroke-width="1" fill="none"/><path d="M294.5,16.4 V148.5" stroke="#6c6c6c" stroke-width="1" fill="none"/><path d="M32,148.5 H34.5" stroke="#9a9a9a" stroke-width="1"/><text x="30.5" y="151.7" font-size="9.3" text-anchor="end">14</text><path d="M32,115.47 H34.5" stroke="#9a9a9a" stroke-width="1"/><text x="30.5" y="118.67" font-size="9.3" text-anchor="end">16</text><path d="M32,82.45 H34.5" stroke="#9a9a9a" stroke-width="1"/><text x="30.5" y="85.65" font-size="9.3" text-anchor="end">18</text><path d="M32,49.43 H34.5" stroke="#9a9a9a" stroke-width="1"/><text x="30.5" y="52.63" font-size="9.3" text-anchor="end">20</text><path d="M32,16.4 H34.5" stroke="#9a9a9a" stroke-width="1"/><text x="30.5" y="19.6" font-size="9.3" text-anchor="end">22</text><path d="M34.5,148.5 V151 M170,148.5 V151" stroke="#9a9a9a" stroke-width="1"/><text x="34.5" y="159.3" font-size="9.3" text-anchor="middle">Sunrise</text><text x="170" y="159.1" font-size="9.3" text-anchor="middle">Sunset</text><text x="164.75" y="168.9" font-size="9.3" text-anchor="middle">Time of day</text><text transform="translate(13.6,82.45) rotate(-90) scale(0.92,1)" font-size="10.1" text-anchor="middle">Soil temperature (°C)</text><text transform="translate(-0.5,9.4) scale(0.93,1)" font-size="14.5">(a)</text><rect x="72.5" y="175" width="184.2" height="14.5" fill="#fff" stroke="#c2c2c2" stroke-width="1.6"/><path d="M72.5,174.5 V190 M256.7,174.5 V190" stroke="#9a9a9a" stroke-width="1" fill="none"/><path d="M75.8,182.3 H100" stroke="#0000ff" stroke-opacity="0.7" stroke-width="1.0"/><text x="104" y="185.5" font-size="9.3">Control</text><path d="M143.7,182.3 H167.8" stroke="#ff0000" stroke-opacity="0.7" stroke-width="1.0"/><text x="172.1" y="185.5" font-size="9.3">Gap</text><path d="M199.7,182.3 H223.9" stroke="#008000" stroke-opacity="0.7" stroke-width="1.0"/><text x="228.3" y="185.5" font-size="9.3">Under</text></g>
<g><rect x="479.5" y="16.4" width="123.5" height="132.1" fill="#808080"/><g clip-path="url(#cpb)" fill="none"><path d="M345,47.5 L346,47.8 L347,48.1 L348,48.3 L349,48.5 L350,48.8 L351,49 L352,49.2 L353,49.4 L354,49.6 L355,49.8 L356,50 L357,50.2 L358,50.3 L359,50.5 L360,50.7 L361,50.8 L362,51 L363,51.1 L364,51.2 L365,51.3 L366,51.4 L367,51.5 L368,51.6 L369,51.7 L370,51.8 L371,51.9 L372,51.9 L373,52 L374,52 L375,52 L376,52 L377,52.1 L378,52.1 L379,52.1 L380,52 L381,52 L382,52 L383,52 L384,51.9 L385,51.9 L386,51.8 L387,51.7 L388,51.6 L389,51.5 L390,51.4 L391,51.3 L392,51.2 L393,51.1 L394,51 L395,50.8 L396,50.7 L397,50.5 L398,50.3 L399,50.2 L400,50 L401,49.8 L402,49.6 L403,49.4 L404,49.2 L405,49 L406,48.8 L407,48.5 L408,48.3 L409,48.1 L410,47.8 L411,47.5 L412,47.3 L413,47 L414,46.7 L415,46.5 L416,46.2 L417,45.9 L418,45.6 L419,45.3 L420,45 L421,44.7 L422,44.4 L423,44 L424,43.7 L425,43.4 L426,43.1 L427,42.7 L428,42.4 L429,42.1 L430,41.7 L431,41.4 L432,41 L433,40.7 L434,40.3 L435,40 L436,39.6 L437,39.2 L438,38.9 L439,38.5 L440,38.2 L441,37.8 L442,37.4 L443,37.1 L444,36.7 L445,36.4 L446,36 L447,35.6 L448,35.3 L449,34.9 L450,34.6 L451,34.2 L452,33.9 L453,33.5 L454,33.2 L455,32.8 L456,32.5 L457,32.1 L458,31.8 L459,31.5 L460,31.1 L461,30.8 L462,30.5 L463,30.2 L464,29.8 L465,29.5 L466,29.2 L467,28.9 L468,28.6 L469,28.3 L470,28.1 L471,27.8 L472,27.5 L473,27.2 L474,27 L475,26.7 L476,26.4 L477,26.2 L478,26 L479,25.7 L480,25.5 L481,25.3 L482,25.1 L483,24.9 L484,24.7 L485,24.5 L486,24.3 L487,24.1 L488,24 L489,23.8 L490,23.6 L491,23.5 L492,23.4 L493,23.2 L494,23.1 L495,23 L496,22.9 L497,22.8 L498,22.7 L499,22.6 L500,22.6 L501,22.5 L502,22.5 L503,22.4 L504,22.4 L505,22.4 L506,22.4 L507,22.3 L508,22.3 L509,22.4 L510,22.4 L511,22.4 L512,22.4 L513,22.5 L514,22.5 L515,22.6 L516,22.7 L517,22.8 L518,22.8 L519,22.9 L520,23 L521,23.2 L522,23.3 L523,23.4 L524,23.5 L525,23.7 L526,23.8 L527,24 L528,24.2 L529,24.4 L530,24.5 L531,24.7 L532,24.9 L533,25.1 L534,25.4 L535,25.6 L536,25.8 L537,26 L538,26.3 L539,26.5 L540,26.8 L541,27 L542,27.3 L543,27.6 L544,27.9 L545,28.1 L546,28.4 L547,28.7 L548,29 L549,29.3 L550,29.6 L551,29.9 L552,30.3 L553,30.6 L554,30.9 L555,31.2 L556,31.6 L557,31.9 L558,32.2 L559,32.6 L560,32.9 L561,33.3 L562,33.6 L563,34 L564,34.3 L565,34.7 L566,35 L567,35.4 L568,35.8 L569,36.1 L570,36.5 L571,36.8 L572,37.2 L573,37.6 L574,37.9 L575,38.3 L576,38.6 L577,39 L578,39.4 L579,39.7 L580,40.1 L581,40.4 L582,40.8 L583,41.1 L584,41.5 L585,41.8 L586,42.2 L587,42.5 L588,42.8 L589,43.2 L590,43.5 L591,43.8 L592,44.1 L593,44.5 L594,44.8 L595,45.1 L596,45.4 L597,45.7 L598,46 L599,46.3 L600,46.5 L601,46.8 L602,47.1 L603,47.4" stroke="#008000" stroke-opacity="0.6" stroke-width="1.2" stroke-dasharray="3.8 1.8"/><path d="M345,67.4 L346,67.6 L347,67.9 L348,68.1 L349,68.3 L350,68.6 L351,68.8 L352,69 L353,69.2 L354,69.4 L355,69.6 L356,69.8 L357,70 L358,70.2 L359,70.3 L360,70.5 L361,70.6 L362,70.8 L363,70.9 L364,71 L365,71.1 L366,71.3 L367,71.4 L368,71.4 L369,71.5 L370,71.6 L371,71.7 L372,71.7 L373,71.8 L374,71.8 L375,71.8 L376,71.9 L377,71.9 L378,71.9 L379,71.9 L380,71.9 L381,71.8 L382,71.8 L383,71.8 L384,71.7 L385,71.7 L386,71.6 L387,71.5 L388,71.4 L389,71.4 L390,71.3 L391,71.1 L392,71 L393,70.9 L394,70.8 L395,70.6 L396,70.5 L397,70.3 L398,70.2 L399,70 L400,69.8 L401,69.6 L402,69.4 L403,69.2 L404,69 L405,68.8 L406,68.6 L407,68.3 L408,68.1 L409,67.9 L410,67.6 L411,67.4 L412,67.1 L413,66.8 L414,66.6 L415,66.3 L416,66 L417,65.7 L418,65.4 L419,65.1 L420,64.8 L421,64.5 L422,64.2 L423,63.9 L424,63.5 L425,63.2 L426,62.9 L427,62.5 L428,62.2 L429,61.9 L430,61.5 L431,61.2 L432,60.8 L433,60.5 L434,60.1 L435,59.8 L436,59.4 L437,59.1 L438,58.7 L439,58.3 L440,58 L441,57.6 L442,57.3 L443,56.9 L444,56.5 L445,56.2 L446,55.8 L447,55.5 L448,55.1 L449,54.7 L450,54.4 L451,54 L452,53.7 L453,53.3 L454,53 L455,52.6 L456,52.3 L457,52 L458,51.6 L459,51.3 L460,51 L461,50.6 L462,50.3 L463,50 L464,49.7 L465,49.4 L466,49 L467,48.7 L468,48.4 L469,48.2 L470,47.9 L471,47.6 L472,47.3 L473,47 L474,46.8 L475,46.5 L476,46.3 L477,46 L478,45.8 L479,45.5 L480,45.3 L481,45.1 L482,44.9 L483,44.7 L484,44.5 L485,44.3 L486,44.1 L487,43.9 L488,43.8 L489,43.6 L490,43.5 L491,43.3 L492,43.2 L493,43.1 L494,42.9 L495,42.8 L496,42.7 L497,42.6 L498,42.5 L499,42.5 L500,42.4 L501,42.3 L502,42.3 L503,42.2 L504,42.2 L505,42.2 L506,42.2 L507,42.2 L508,42.2 L509,42.2 L510,42.2 L511,42.2 L512,42.3 L513,42.3 L514,42.4 L515,42.4 L516,42.5 L517,42.6 L518,42.7 L519,42.8 L520,42.9 L521,43 L522,43.1 L523,43.2 L524,43.4 L525,43.5 L526,43.7 L527,43.8 L528,44 L529,44.2 L530,44.4 L531,44.5 L532,44.7 L533,45 L534,45.2 L535,45.4 L536,45.6 L537,45.8 L538,46.1 L539,46.3 L540,46.6 L541,46.9 L542,47.1 L543,47.4 L544,47.7 L545,48 L546,48.2 L547,48.5 L548,48.8 L549,49.1 L550,49.4 L551,49.8 L552,50.1 L553,50.4 L554,50.7 L555,51 L556,51.4 L557,51.7 L558,52.1 L559,52.4 L560,52.7 L561,53.1 L562,53.4 L563,53.8 L564,54.1 L565,54.5 L566,54.9 L567,55.2 L568,55.6 L569,55.9 L570,56.3 L571,56.7 L572,57 L573,57.4 L574,57.7 L575,58.1 L576,58.5 L577,58.8 L578,59.2 L579,59.5 L580,59.9 L581,60.2 L582,60.6 L583,60.9 L584,61.3 L585,61.6 L586,62 L587,62.3 L588,62.6 L589,63 L590,63.3 L591,63.6 L592,64 L593,64.3 L594,64.6 L595,64.9 L596,65.2 L597,65.5 L598,65.8 L599,66.1 L600,66.4 L601,66.6 L602,66.9 L603,67.2" stroke="#008000" stroke-opacity="0.6" stroke-width="1.2" stroke-dasharray="3.8 1.8"/><path d="M345,57.5 L346,57.7 L347,58 L348,58.2 L349,58.4 L350,58.7 L351,58.9 L352,59.1 L353,59.3 L354,59.5 L355,59.7 L356,59.9 L357,60.1 L358,60.3 L359,60.4 L360,60.6 L361,60.7 L362,60.9 L363,61 L364,61.1 L365,61.2 L366,61.3 L367,61.4 L368,61.5 L369,61.6 L370,61.7 L371,61.8 L372,61.8 L373,61.9 L374,61.9 L375,61.9 L376,62 L377,62 L378,62 L379,62 L380,62 L381,61.9 L382,61.9 L383,61.9 L384,61.8 L385,61.8 L386,61.7 L387,61.6 L388,61.5 L389,61.4 L390,61.3 L391,61.2 L392,61.1 L393,61 L394,60.9 L395,60.7 L396,60.6 L397,60.4 L398,60.3 L399,60.1 L400,59.9 L401,59.7 L402,59.5 L403,59.3 L404,59.1 L405,58.9 L406,58.7 L407,58.4 L408,58.2 L409,58 L410,57.7 L411,57.5 L412,57.2 L413,56.9 L414,56.6 L415,56.4 L416,56.1 L417,55.8 L418,55.5 L419,55.2 L420,54.9 L421,54.6 L422,54.3 L423,53.9 L424,53.6 L425,53.3 L426,53 L427,52.6 L428,52.3 L429,52 L430,51.6 L431,51.3 L432,50.9 L433,50.6 L434,50.2 L435,49.9 L436,49.5 L437,49.2 L438,48.8 L439,48.4 L440,48.1 L441,47.7 L442,47.4 L443,47 L444,46.6 L445,46.3 L446,45.9 L447,45.6 L448,45.2 L449,44.8 L450,44.5 L451,44.1 L452,43.8 L453,43.4 L454,43.1 L455,42.7 L456,42.4 L457,42 L458,41.7 L459,41.4 L460,41 L461,40.7 L462,40.4 L463,40.1 L464,39.8 L465,39.4 L466,39.1 L467,38.8 L468,38.5 L469,38.2 L470,38 L471,37.7 L472,37.4 L473,37.1 L474,36.9 L475,36.6 L476,36.4 L477,36.1 L478,35.9 L479,35.6 L480,35.4 L481,35.2 L482,35 L483,34.8 L484,34.6 L485,34.4 L486,34.2 L487,34 L488,33.9 L489,33.7 L490,33.6 L491,33.4 L492,33.3 L493,33.1 L494,33 L495,32.9 L496,32.8 L497,32.7 L498,32.6 L499,32.6 L500,32.5 L501,32.4 L502,32.4 L503,32.3 L504,32.3 L505,32.3 L506,32.3 L507,32.3 L508,32.3 L509,32.3 L510,32.3 L511,32.3 L512,32.3 L513,32.4 L514,32.4 L515,32.5 L516,32.6 L517,32.7 L518,32.7 L519,32.8 L520,32.9 L521,33.1 L522,33.2 L523,33.3 L524,33.5 L525,33.6 L526,33.8 L527,33.9 L528,34.1 L529,34.3 L530,34.4 L531,34.6 L532,34.8 L533,35 L534,35.3 L535,35.5 L536,35.7 L537,35.9 L538,36.2 L539,36.4 L540,36.7 L541,36.9 L542,37.2 L543,37.5 L544,37.8 L545,38 L546,38.3 L547,38.6 L548,38.9 L549,39.2 L550,39.5 L551,39.8 L552,40.2 L553,40.5 L554,40.8 L555,41.1 L556,41.5 L557,41.8 L558,42.1 L559,42.5 L560,42.8 L561,43.2 L562,43.5 L563,43.9 L564,44.2 L565,44.6 L566,44.9 L567,45.3 L568,45.7 L569,46 L570,46.4 L571,46.7 L572,47.1 L573,47.5 L574,47.8 L575,48.2 L576,48.5 L577,48.9 L578,49.3 L579,49.6 L580,50 L581,50.3 L582,50.7 L583,51 L584,51.4 L585,51.7 L586,52.1 L587,52.4 L588,52.7 L589,53.1 L590,53.4 L591,53.7 L592,54 L593,54.4 L594,54.7 L595,55 L596,55.3 L597,55.6 L598,55.9 L599,56.2 L600,56.5 L601,56.7 L602,57 L603,57.3" stroke="#008000" stroke-opacity="0.6" stroke-width="1.1"/><path d="M345,111.1 L346,111.3 L347,111.6 L348,111.9 L349,112.1 L350,112.4 L351,112.6 L352,112.8 L353,113 L354,113.2 L355,113.4 L356,113.6 L357,113.8 L358,114 L359,114.2 L360,114.3 L361,114.5 L362,114.6 L363,114.8 L364,114.9 L365,115 L366,115.2 L367,115.3 L368,115.3 L369,115.4 L370,115.5 L371,115.6 L372,115.6 L373,115.7 L374,115.7 L375,115.8 L376,115.8 L377,115.8 L378,115.8 L379,115.8 L380,115.8 L381,115.8 L382,115.7 L383,115.7 L384,115.6 L385,115.6 L386,115.5 L387,115.4 L388,115.3 L389,115.3 L390,115.2 L391,115 L392,114.9 L393,114.8 L394,114.6 L395,114.5 L396,114.3 L397,114.2 L398,114 L399,113.8 L400,113.6 L401,113.4 L402,113.2 L403,113 L404,112.8 L405,112.6 L406,112.4 L407,112.1 L408,111.9 L409,111.6 L410,111.3 L411,111.1 L412,110.8 L413,110.5 L414,110.2 L415,109.9 L416,109.7 L417,109.3 L418,109 L419,108.7 L420,108.4 L421,108.1 L422,107.8 L423,107.4 L424,107.1 L425,106.7 L426,106.4 L427,106.1 L428,105.7 L429,105.3 L430,105 L431,104.6 L432,104.3 L433,103.9 L434,103.5 L435,103.2 L436,102.8 L437,102.4 L438,102 L439,101.7 L440,101.3 L441,100.9 L442,100.5 L443,100.2 L444,99.8 L445,99.4 L446,99 L447,98.7 L448,98.3 L449,97.9 L450,97.5 L451,97.2 L452,96.8 L453,96.4 L454,96.1 L455,95.7 L456,95.3 L457,95 L458,94.6 L459,94.3 L460,93.9 L461,93.6 L462,93.3 L463,92.9 L464,92.6 L465,92.3 L466,92 L467,91.6 L468,91.3 L469,91 L470,90.7 L471,90.4 L472,90.1 L473,89.9 L474,89.6 L475,89.3 L476,89 L477,88.8 L478,88.5 L479,88.3 L480,88.1 L481,87.8 L482,87.6 L483,87.4 L484,87.2 L485,87 L486,86.8 L487,86.6 L488,86.4 L489,86.3 L490,86.1 L491,86 L492,85.8 L493,85.7 L494,85.6 L495,85.5 L496,85.3 L497,85.2 L498,85.2 L499,85.1 L500,85 L501,84.9 L502,84.9 L503,84.8 L504,84.8 L505,84.8 L506,84.8 L507,84.8 L508,84.8 L509,84.8 L510,84.8 L511,84.8 L512,84.9 L513,84.9 L514,85 L515,85 L516,85.1 L517,85.2 L518,85.3 L519,85.4 L520,85.5 L521,85.6 L522,85.7 L523,85.9 L524,86 L525,86.2 L526,86.3 L527,86.5 L528,86.7 L529,86.9 L530,87.1 L531,87.3 L532,87.5 L533,87.7 L534,87.9 L535,88.1 L536,88.4 L537,88.6 L538,88.9 L539,89.1 L540,89.4 L541,89.7 L542,89.9 L543,90.2 L544,90.5 L545,90.8 L546,91.1 L547,91.4 L548,91.7 L549,92 L550,92.4 L551,92.7 L552,93 L553,93.4 L554,93.7 L555,94 L556,94.4 L557,94.7 L558,95.1 L559,95.5 L560,95.8 L561,96.2 L562,96.5 L563,96.9 L564,97.3 L565,97.6 L566,98 L567,98.4 L568,98.8 L569,99.1 L570,99.5 L571,99.9 L572,100.3 L573,100.7 L574,101 L575,101.4 L576,101.8 L577,102.2 L578,102.5 L579,102.9 L580,103.3 L581,103.6 L582,104 L583,104.4 L584,104.7 L585,105.1 L586,105.5 L587,105.8 L588,106.2 L589,106.5 L590,106.8 L591,107.2 L592,107.5 L593,107.9 L594,108.2 L595,108.5 L596,108.8 L597,109.1 L598,109.4 L599,109.7 L600,110 L601,110.3 L602,110.6 L603,110.9" stroke="#ff0000" stroke-opacity="0.6" stroke-width="1.2" stroke-dasharray="3.8 1.8"/><path d="M345,130.2 L346,130.5 L347,130.8 L348,131 L349,131.3 L350,131.5 L351,131.7 L352,132 L353,132.2 L354,132.4 L355,132.6 L356,132.8 L357,133 L358,133.2 L359,133.3 L360,133.5 L361,133.7 L362,133.8 L363,133.9 L364,134.1 L365,134.2 L366,134.3 L367,134.4 L368,134.5 L369,134.6 L370,134.7 L371,134.7 L372,134.8 L373,134.8 L374,134.9 L375,134.9 L376,134.9 L377,135 L378,135 L379,135 L380,134.9 L381,134.9 L382,134.9 L383,134.8 L384,134.8 L385,134.7 L386,134.7 L387,134.6 L388,134.5 L389,134.4 L390,134.3 L391,134.2 L392,134.1 L393,133.9 L394,133.8 L395,133.7 L396,133.5 L397,133.3 L398,133.2 L399,133 L400,132.8 L401,132.6 L402,132.4 L403,132.2 L404,132 L405,131.7 L406,131.5 L407,131.3 L408,131 L409,130.8 L410,130.5 L411,130.2 L412,130 L413,129.7 L414,129.4 L415,129.1 L416,128.8 L417,128.5 L418,128.2 L419,127.9 L420,127.6 L421,127.2 L422,126.9 L423,126.6 L424,126.2 L425,125.9 L426,125.6 L427,125.2 L428,124.9 L429,124.5 L430,124.1 L431,123.8 L432,123.4 L433,123.1 L434,122.7 L435,122.3 L436,121.9 L437,121.6 L438,121.2 L439,120.8 L440,120.4 L441,120.1 L442,119.7 L443,119.3 L444,118.9 L445,118.6 L446,118.2 L447,117.8 L448,117.4 L449,117.1 L450,116.7 L451,116.3 L452,116 L453,115.6 L454,115.2 L455,114.9 L456,114.5 L457,114.1 L458,113.8 L459,113.4 L460,113.1 L461,112.8 L462,112.4 L463,112.1 L464,111.8 L465,111.4 L466,111.1 L467,110.8 L468,110.5 L469,110.2 L470,109.9 L471,109.6 L472,109.3 L473,109 L474,108.7 L475,108.5 L476,108.2 L477,107.9 L478,107.7 L479,107.5 L480,107.2 L481,107 L482,106.8 L483,106.6 L484,106.3 L485,106.1 L486,106 L487,105.8 L488,105.6 L489,105.4 L490,105.3 L491,105.1 L492,105 L493,104.8 L494,104.7 L495,104.6 L496,104.5 L497,104.4 L498,104.3 L499,104.2 L500,104.2 L501,104.1 L502,104 L503,104 L504,104 L505,103.9 L506,103.9 L507,103.9 L508,103.9 L509,103.9 L510,103.9 L511,104 L512,104 L513,104.1 L514,104.1 L515,104.2 L516,104.3 L517,104.3 L518,104.4 L519,104.5 L520,104.6 L521,104.8 L522,104.9 L523,105 L524,105.2 L525,105.3 L526,105.5 L527,105.7 L528,105.8 L529,106 L530,106.2 L531,106.4 L532,106.6 L533,106.8 L534,107.1 L535,107.3 L536,107.5 L537,107.8 L538,108 L539,108.3 L540,108.5 L541,108.8 L542,109.1 L543,109.4 L544,109.7 L545,110 L546,110.3 L547,110.6 L548,110.9 L549,111.2 L550,111.5 L551,111.9 L552,112.2 L553,112.5 L554,112.9 L555,113.2 L556,113.5 L557,113.9 L558,114.3 L559,114.6 L560,115 L561,115.3 L562,115.7 L563,116.1 L564,116.4 L565,116.8 L566,117.2 L567,117.5 L568,117.9 L569,118.3 L570,118.7 L571,119.1 L572,119.4 L573,119.8 L574,120.2 L575,120.6 L576,120.9 L577,121.3 L578,121.7 L579,122.1 L580,122.4 L581,122.8 L582,123.2 L583,123.5 L584,123.9 L585,124.2 L586,124.6 L587,125 L588,125.3 L589,125.7 L590,126 L591,126.3 L592,126.7 L593,127 L594,127.3 L595,127.7 L596,128 L597,128.3 L598,128.6 L599,128.9 L600,129.2 L601,129.5 L602,129.8 L603,130" stroke="#ff0000" stroke-opacity="0.6" stroke-width="1.2" stroke-dasharray="3.8 1.8"/><path d="M345,120.7 L346,120.9 L347,121.2 L348,121.4 L349,121.7 L350,121.9 L351,122.2 L352,122.4 L353,122.6 L354,122.8 L355,123 L356,123.2 L357,123.4 L358,123.6 L359,123.8 L360,123.9 L361,124.1 L362,124.2 L363,124.4 L364,124.5 L365,124.6 L366,124.7 L367,124.8 L368,124.9 L369,125 L370,125.1 L371,125.2 L372,125.2 L373,125.3 L374,125.3 L375,125.3 L376,125.4 L377,125.4 L378,125.4 L379,125.4 L380,125.4 L381,125.3 L382,125.3 L383,125.3 L384,125.2 L385,125.2 L386,125.1 L387,125 L388,124.9 L389,124.8 L390,124.7 L391,124.6 L392,124.5 L393,124.4 L394,124.2 L395,124.1 L396,123.9 L397,123.8 L398,123.6 L399,123.4 L400,123.2 L401,123 L402,122.8 L403,122.6 L404,122.4 L405,122.2 L406,121.9 L407,121.7 L408,121.4 L409,121.2 L410,120.9 L411,120.7 L412,120.4 L413,120.1 L414,119.8 L415,119.5 L416,119.2 L417,118.9 L418,118.6 L419,118.3 L420,118 L421,117.7 L422,117.3 L423,117 L424,116.7 L425,116.3 L426,116 L427,115.6 L428,115.3 L429,114.9 L430,114.6 L431,114.2 L432,113.8 L433,113.5 L434,113.1 L435,112.7 L436,112.4 L437,112 L438,111.6 L439,111.2 L440,110.9 L441,110.5 L442,110.1 L443,109.7 L444,109.4 L445,109 L446,108.6 L447,108.2 L448,107.9 L449,107.5 L450,107.1 L451,106.7 L452,106.4 L453,106 L454,105.6 L455,105.3 L456,104.9 L457,104.6 L458,104.2 L459,103.9 L460,103.5 L461,103.2 L462,102.8 L463,102.5 L464,102.2 L465,101.9 L466,101.5 L467,101.2 L468,100.9 L469,100.6 L470,100.3 L471,100 L472,99.7 L473,99.4 L474,99.2 L475,98.9 L476,98.6 L477,98.4 L478,98.1 L479,97.9 L480,97.6 L481,97.4 L482,97.2 L483,97 L484,96.8 L485,96.6 L486,96.4 L487,96.2 L488,96 L489,95.9 L490,95.7 L491,95.5 L492,95.4 L493,95.3 L494,95.1 L495,95 L496,94.9 L497,94.8 L498,94.7 L499,94.7 L500,94.6 L501,94.5 L502,94.5 L503,94.4 L504,94.4 L505,94.4 L506,94.3 L507,94.3 L508,94.3 L509,94.4 L510,94.4 L511,94.4 L512,94.4 L513,94.5 L514,94.5 L515,94.6 L516,94.7 L517,94.8 L518,94.9 L519,95 L520,95.1 L521,95.2 L522,95.3 L523,95.4 L524,95.6 L525,95.7 L526,95.9 L527,96.1 L528,96.3 L529,96.4 L530,96.6 L531,96.8 L532,97 L533,97.3 L534,97.5 L535,97.7 L536,97.9 L537,98.2 L538,98.4 L539,98.7 L540,99 L541,99.2 L542,99.5 L543,99.8 L544,100.1 L545,100.4 L546,100.7 L547,101 L548,101.3 L549,101.6 L550,101.9 L551,102.3 L552,102.6 L553,102.9 L554,103.3 L555,103.6 L556,104 L557,104.3 L558,104.7 L559,105 L560,105.4 L561,105.8 L562,106.1 L563,106.5 L564,106.9 L565,107.2 L566,107.6 L567,108 L568,108.3 L569,108.7 L570,109.1 L571,109.5 L572,109.9 L573,110.2 L574,110.6 L575,111 L576,111.4 L577,111.7 L578,112.1 L579,112.5 L580,112.8 L581,113.2 L582,113.6 L583,113.9 L584,114.3 L585,114.7 L586,115 L587,115.4 L588,115.7 L589,116.1 L590,116.4 L591,116.8 L592,117.1 L593,117.4 L594,117.8 L595,118.1 L596,118.4 L597,118.7 L598,119 L599,119.3 L600,119.6 L601,119.9 L602,120.2 L603,120.5" stroke="#ff0000" stroke-opacity="0.6" stroke-width="1.1"/><path d="M345,70.6 L346,70.9 L347,71.2 L348,71.5 L349,71.8 L350,72 L351,72.3 L352,72.5 L353,72.8 L354,73 L355,73.2 L356,73.5 L357,73.7 L358,73.9 L359,74 L360,74.2 L361,74.4 L362,74.6 L363,74.7 L364,74.9 L365,75 L366,75.1 L367,75.2 L368,75.3 L369,75.4 L370,75.5 L371,75.6 L372,75.7 L373,75.7 L374,75.8 L375,75.8 L376,75.8 L377,75.8 L378,75.8 L379,75.8 L380,75.8 L381,75.8 L382,75.8 L383,75.7 L384,75.7 L385,75.6 L386,75.5 L387,75.4 L388,75.3 L389,75.2 L390,75.1 L391,75 L392,74.9 L393,74.7 L394,74.6 L395,74.4 L396,74.2 L397,74 L398,73.9 L399,73.7 L400,73.5 L401,73.2 L402,73 L403,72.8 L404,72.5 L405,72.3 L406,72 L407,71.8 L408,71.5 L409,71.2 L410,70.9 L411,70.6 L412,70.3 L413,70 L414,69.7 L415,69.4 L416,69 L417,68.7 L418,68.4 L419,68 L420,67.7 L421,67.3 L422,66.9 L423,66.6 L424,66.2 L425,65.8 L426,65.4 L427,65.1 L428,64.7 L429,64.3 L430,63.9 L431,63.5 L432,63.1 L433,62.7 L434,62.3 L435,61.9 L436,61.4 L437,61 L438,60.6 L439,60.2 L440,59.8 L441,59.4 L442,59 L443,58.5 L444,58.1 L445,57.7 L446,57.3 L447,56.9 L448,56.5 L449,56 L450,55.6 L451,55.2 L452,54.8 L453,54.4 L454,54 L455,53.6 L456,53.2 L457,52.8 L458,52.4 L459,52 L460,51.7 L461,51.3 L462,50.9 L463,50.5 L464,50.2 L465,49.8 L466,49.5 L467,49.1 L468,48.8 L469,48.4 L470,48.1 L471,47.8 L472,47.4 L473,47.1 L474,46.8 L475,46.5 L476,46.2 L477,46 L478,45.7 L479,45.4 L480,45.2 L481,44.9 L482,44.7 L483,44.4 L484,44.2 L485,44 L486,43.8 L487,43.6 L488,43.4 L489,43.2 L490,43 L491,42.8 L492,42.7 L493,42.5 L494,42.4 L495,42.3 L496,42.1 L497,42 L498,41.9 L499,41.9 L500,41.8 L501,41.7 L502,41.6 L503,41.6 L504,41.6 L505,41.5 L506,41.5 L507,41.5 L508,41.5 L509,41.5 L510,41.5 L511,41.6 L512,41.6 L513,41.7 L514,41.7 L515,41.8 L516,41.9 L517,42 L518,42.1 L519,42.2 L520,42.3 L521,42.4 L522,42.6 L523,42.7 L524,42.9 L525,43.1 L526,43.2 L527,43.4 L528,43.6 L529,43.8 L530,44 L531,44.3 L532,44.5 L533,44.7 L534,45 L535,45.2 L536,45.5 L537,45.8 L538,46 L539,46.3 L540,46.6 L541,46.9 L542,47.2 L543,47.5 L544,47.9 L545,48.2 L546,48.5 L547,48.9 L548,49.2 L549,49.6 L550,49.9 L551,50.3 L552,50.6 L553,51 L554,51.4 L555,51.8 L556,52.2 L557,52.5 L558,52.9 L559,53.3 L560,53.7 L561,54.1 L562,54.5 L563,54.9 L564,55.3 L565,55.8 L566,56.2 L567,56.6 L568,57 L569,57.4 L570,57.8 L571,58.2 L572,58.7 L573,59.1 L574,59.5 L575,59.9 L576,60.3 L577,60.7 L578,61.2 L579,61.6 L580,62 L581,62.4 L582,62.8 L583,63.2 L584,63.6 L585,64 L586,64.4 L587,64.8 L588,65.2 L589,65.6 L590,65.9 L591,66.3 L592,66.7 L593,67 L594,67.4 L595,67.8 L596,68.1 L597,68.5 L598,68.8 L599,69.1 L600,69.5 L601,69.8 L602,70.1 L603,70.4" stroke="#0000ff" stroke-opacity="0.6" stroke-width="1.2" stroke-dasharray="3.8 1.8"/><path d="M345,90.4 L346,90.7 L347,91 L348,91.3 L349,91.6 L350,91.8 L351,92.1 L352,92.3 L353,92.6 L354,92.8 L355,93 L356,93.3 L357,93.5 L358,93.7 L359,93.9 L360,94 L361,94.2 L362,94.4 L363,94.5 L364,94.7 L365,94.8 L366,94.9 L367,95.1 L368,95.2 L369,95.3 L370,95.3 L371,95.4 L372,95.5 L373,95.5 L374,95.6 L375,95.6 L376,95.6 L377,95.7 L378,95.7 L379,95.7 L380,95.6 L381,95.6 L382,95.6 L383,95.5 L384,95.5 L385,95.4 L386,95.3 L387,95.3 L388,95.2 L389,95.1 L390,94.9 L391,94.8 L392,94.7 L393,94.5 L394,94.4 L395,94.2 L396,94 L397,93.9 L398,93.7 L399,93.5 L400,93.3 L401,93 L402,92.8 L403,92.6 L404,92.3 L405,92.1 L406,91.8 L407,91.6 L408,91.3 L409,91 L410,90.7 L411,90.4 L412,90.1 L413,89.8 L414,89.5 L415,89.2 L416,88.9 L417,88.5 L418,88.2 L419,87.8 L420,87.5 L421,87.1 L422,86.8 L423,86.4 L424,86 L425,85.6 L426,85.3 L427,84.9 L428,84.5 L429,84.1 L430,83.7 L431,83.3 L432,82.9 L433,82.5 L434,82.1 L435,81.7 L436,81.3 L437,80.8 L438,80.4 L439,80 L440,79.6 L441,79.2 L442,78.8 L443,78.4 L444,77.9 L445,77.5 L446,77.1 L447,76.7 L448,76.3 L449,75.9 L450,75.4 L451,75 L452,74.6 L453,74.2 L454,73.8 L455,73.4 L456,73 L457,72.6 L458,72.2 L459,71.9 L460,71.5 L461,71.1 L462,70.7 L463,70.3 L464,70 L465,69.6 L466,69.3 L467,68.9 L468,68.6 L469,68.2 L470,67.9 L471,67.6 L472,67.3 L473,67 L474,66.6 L475,66.3 L476,66.1 L477,65.8 L478,65.5 L479,65.2 L480,65 L481,64.7 L482,64.5 L483,64.2 L484,64 L485,63.8 L486,63.6 L487,63.4 L488,63.2 L489,63 L490,62.8 L491,62.7 L492,62.5 L493,62.3 L494,62.2 L495,62.1 L496,62 L497,61.9 L498,61.8 L499,61.7 L500,61.6 L501,61.5 L502,61.5 L503,61.4 L504,61.4 L505,61.3 L506,61.3 L507,61.3 L508,61.3 L509,61.3 L510,61.3 L511,61.4 L512,61.4 L513,61.5 L514,61.5 L515,61.6 L516,61.7 L517,61.8 L518,61.9 L519,62 L520,62.1 L521,62.2 L522,62.4 L523,62.5 L524,62.7 L525,62.9 L526,63 L527,63.2 L528,63.4 L529,63.6 L530,63.8 L531,64.1 L532,64.3 L533,64.5 L534,64.8 L535,65 L536,65.3 L537,65.6 L538,65.9 L539,66.1 L540,66.4 L541,66.7 L542,67 L543,67.4 L544,67.7 L545,68 L546,68.3 L547,68.7 L548,69 L549,69.4 L550,69.7 L551,70.1 L552,70.5 L553,70.8 L554,71.2 L555,71.6 L556,72 L557,72.4 L558,72.7 L559,73.1 L560,73.5 L561,73.9 L562,74.3 L563,74.8 L564,75.2 L565,75.6 L566,76 L567,76.4 L568,76.8 L569,77.2 L570,77.6 L571,78.1 L572,78.5 L573,78.9 L574,79.3 L575,79.7 L576,80.1 L577,80.6 L578,81 L579,81.4 L580,81.8 L581,82.2 L582,82.6 L583,83 L584,83.4 L585,83.8 L586,84.2 L587,84.6 L588,85 L589,85.4 L590,85.7 L591,86.1 L592,86.5 L593,86.9 L594,87.2 L595,87.6 L596,87.9 L597,88.3 L598,88.6 L599,89 L600,89.3 L601,89.6 L602,89.9 L603,90.2" stroke="#0000ff" stroke-opacity="0.6" stroke-width="1.2" stroke-dasharray="3.8 1.8"/><path d="M345,80.5 L346,80.8 L347,81.1 L348,81.4 L349,81.7 L350,81.9 L351,82.2 L352,82.4 L353,82.7 L354,82.9 L355,83.1 L356,83.4 L357,83.6 L358,83.8 L359,84 L360,84.1 L361,84.3 L362,84.5 L363,84.6 L364,84.8 L365,84.9 L366,85 L367,85.1 L368,85.2 L369,85.3 L370,85.4 L371,85.5 L372,85.6 L373,85.6 L374,85.7 L375,85.7 L376,85.7 L377,85.7 L378,85.8 L379,85.7 L380,85.7 L381,85.7 L382,85.7 L383,85.6 L384,85.6 L385,85.5 L386,85.4 L387,85.3 L388,85.2 L389,85.1 L390,85 L391,84.9 L392,84.8 L393,84.6 L394,84.5 L395,84.3 L396,84.1 L397,84 L398,83.8 L399,83.6 L400,83.4 L401,83.1 L402,82.9 L403,82.7 L404,82.4 L405,82.2 L406,81.9 L407,81.7 L408,81.4 L409,81.1 L410,80.8 L411,80.5 L412,80.2 L413,79.9 L414,79.6 L415,79.3 L416,78.9 L417,78.6 L418,78.3 L419,77.9 L420,77.6 L421,77.2 L422,76.8 L423,76.5 L424,76.1 L425,75.7 L426,75.3 L427,75 L428,74.6 L429,74.2 L430,73.8 L431,73.4 L432,73 L433,72.6 L434,72.2 L435,71.8 L436,71.4 L437,70.9 L438,70.5 L439,70.1 L440,69.7 L441,69.3 L442,68.9 L443,68.4 L444,68 L445,67.6 L446,67.2 L447,66.8 L448,66.4 L449,66 L450,65.5 L451,65.1 L452,64.7 L453,64.3 L454,63.9 L455,63.5 L456,63.1 L457,62.7 L458,62.3 L459,61.9 L460,61.6 L461,61.2 L462,60.8 L463,60.4 L464,60.1 L465,59.7 L466,59.4 L467,59 L468,58.7 L469,58.3 L470,58 L471,57.7 L472,57.4 L473,57 L474,56.7 L475,56.4 L476,56.1 L477,55.9 L478,55.6 L479,55.3 L480,55.1 L481,54.8 L482,54.6 L483,54.3 L484,54.1 L485,53.9 L486,53.7 L487,53.5 L488,53.3 L489,53.1 L490,52.9 L491,52.7 L492,52.6 L493,52.4 L494,52.3 L495,52.2 L496,52.1 L497,51.9 L498,51.8 L499,51.8 L500,51.7 L501,51.6 L502,51.6 L503,51.5 L504,51.5 L505,51.4 L506,51.4 L507,51.4 L508,51.4 L509,51.4 L510,51.4 L511,51.5 L512,51.5 L513,51.6 L514,51.6 L515,51.7 L516,51.8 L517,51.9 L518,52 L519,52.1 L520,52.2 L521,52.3 L522,52.5 L523,52.6 L524,52.8 L525,53 L526,53.1 L527,53.3 L528,53.5 L529,53.7 L530,53.9 L531,54.2 L532,54.4 L533,54.6 L534,54.9 L535,55.1 L536,55.4 L537,55.7 L538,55.9 L539,56.2 L540,56.5 L541,56.8 L542,57.1 L543,57.5 L544,57.8 L545,58.1 L546,58.4 L547,58.8 L548,59.1 L549,59.5 L550,59.8 L551,60.2 L552,60.6 L553,60.9 L554,61.3 L555,61.7 L556,62.1 L557,62.5 L558,62.8 L559,63.2 L560,63.6 L561,64 L562,64.4 L563,64.8 L564,65.3 L565,65.7 L566,66.1 L567,66.5 L568,66.9 L569,67.3 L570,67.7 L571,68.2 L572,68.6 L573,69 L574,69.4 L575,69.8 L576,70.2 L577,70.6 L578,71.1 L579,71.5 L580,71.9 L581,72.3 L582,72.7 L583,73.1 L584,73.5 L585,73.9 L586,74.3 L587,74.7 L588,75.1 L589,75.5 L590,75.8 L591,76.2 L592,76.6 L593,77 L594,77.3 L595,77.7 L596,78 L597,78.4 L598,78.7 L599,79 L600,79.4 L601,79.7 L602,80 L603,80.3" stroke="#0000ff" stroke-opacity="0.6" stroke-width="1.1"/></g><path d="M345,16.4 H479.5 M345,16.4 V148.5 H479.5" stroke="#9a9a9a" stroke-width="1" fill="none"/><path d="M479.5,16.4 H603 M479.5,148.5 H603" stroke="#6c6c6c" stroke-width="1" fill="none"/><path d="M342.5,148.5 H345" stroke="#9a9a9a" stroke-width="1"/><text x="341" y="151.7" font-size="9.3" text-anchor="end">4.5</text><path d="M342.5,115.47 H345" stroke="#9a9a9a" stroke-width="1"/><text x="341" y="118.67" font-size="9.3" text-anchor="end">5</text><path d="M342.5,82.45 H345" stroke="#9a9a9a" stroke-width="1"/><text x="341" y="85.65" font-size="9.3" text-anchor="end">5.5</text><path d="M342.5,49.43 H345" stroke="#9a9a9a" stroke-width="1"/><text x="341" y="52.63" font-size="9.3" text-anchor="end">6</text><path d="M342.5,16.4 H345" stroke="#9a9a9a" stroke-width="1"/><text x="341" y="19.6" font-size="9.3" text-anchor="end">6.5</text><path d="M345,148.5 V151 M479.5,148.5 V151" stroke="#9a9a9a" stroke-width="1"/><text x="345" y="159.3" font-size="9.3" text-anchor="middle">Sunrise</text><text x="479.5" y="159.1" font-size="9.3" text-anchor="middle">Sunset</text><text x="474.35" y="168.9" font-size="9.3" text-anchor="middle">Time of day</text><text transform="translate(322.6,82.45) rotate(-90) scale(0.92,1)" font-size="10.1" text-anchor="middle">Soil temperature (°C)</text><text transform="translate(306.6,9.6) scale(0.93,1)" font-size="14.5">(b)</text><rect x="381.6" y="175.3" width="184.2" height="14.5" fill="#fff" stroke="#c2c2c2" stroke-width="1.6"/><path d="M381.6,174.8 V190.3 M565.8,174.8 V190.3" stroke="#9a9a9a" stroke-width="1" fill="none"/><path d="M384.9,182.6 H409.1" stroke="#0000ff" stroke-opacity="0.7" stroke-width="1.0"/><text x="413.1" y="185.8" font-size="9.3">Control</text><path d="M452.8,182.6 H476.9" stroke="#ff0000" stroke-opacity="0.7" stroke-width="1.0"/><text x="481.2" y="185.8" font-size="9.3">Gap</text><path d="M508.8,182.6 H533" stroke="#008000" stroke-opacity="0.7" stroke-width="1.0"/><text x="537.4" y="185.8" font-size="9.3">Under</text></g>
<g><rect x="170.1" y="224.5" width="124.7" height="132.1" fill="#808080"/><g clip-path="url(#cpc)" fill="none"><path d="M34.4,315.4 L35.4,314.3 L36.4,313.1 L37.4,311.8 L38.4,310.5 L39.4,309.1 L40.4,307.7 L41.4,306.3 L42.4,304.9 L43.4,303.4 L44.4,302 L45.4,300.6 L46.4,299.2 L47.4,297.8 L48.4,296.4 L49.4,295 L50.4,293.6 L51.4,292.1 L52.4,290.7 L53.4,289.3 L54.4,287.8 L55.4,286.4 L56.4,285.1 L57.4,283.7 L58.4,282.4 L59.4,281.1 L60.4,279.8 L61.4,278.5 L62.4,277.2 L63.4,275.9 L64.4,274.6 L65.4,273.4 L66.4,272.2 L67.4,271 L68.4,269.8 L69.4,268.7 L70.4,267.6 L71.4,266.6 L72.4,265.6 L73.4,264.6 L74.4,263.6 L75.4,262.7 L76.4,261.7 L77.4,260.8 L78.4,260 L79.4,259.1 L80.4,258.2 L81.4,257.4 L82.4,256.6 L83.4,255.8 L84.4,255 L85.4,254.2 L86.4,253.4 L87.4,252.6 L88.4,251.8 L89.4,251 L90.4,250.3 L91.4,249.6 L92.4,249 L93.4,248.5 L94.4,248 L95.4,247.6 L96.4,247.1 L97.4,246.6 L98.4,246.2 L99.4,245.7 L100.4,245.3 L101.4,244.9 L102.4,244.5 L103.4,244.1 L104.4,243.7 L105.4,243.3 L106.4,243 L107.4,242.7 L108.4,242.4 L109.4,242.2 L110.4,242 L111.4,241.8 L112.4,241.6 L113.4,241.5 L114.4,241.5 L115.4,241.5 L116.4,241.5 L117.4,241.5 L118.4,241.5 L119.4,241.5 L120.4,241.6 L121.4,241.6 L122.4,241.7 L123.4,241.7 L124.4,241.8 L125.4,241.9 L126.4,242 L127.4,242.1 L128.4,242.2 L129.4,242.3 L130.4,242.4 L131.4,242.5 L132.4,242.6 L133.4,242.7 L134.4,242.9 L135.4,243.2 L136.4,243.5 L137.4,243.9 L138.4,244.4 L139.4,245 L140.4,245.6 L141.4,246.3 L142.4,247 L143.4,247.7 L144.4,248.5 L145.4,249.2 L146.4,249.9 L147.4,250.7 L148.4,251.4 L149.4,252.2 L150.4,253.1 L151.4,253.9 L152.4,254.9 L153.4,255.8 L154.4,256.8 L155.4,257.8 L156.4,258.8 L157.4,259.8 L158.4,260.8 L159.4,261.8 L160.4,262.9 L161.4,263.9 L162.4,265 L163.4,266.1 L164.4,267.3 L165.4,268.4 L166.4,269.6 L167.4,270.7 L168.4,271.9 L169.4,273.1 L170.4,274.2 L171.4,275.3 L172.4,276.5 L173.4,277.7 L174.4,278.9 L175.4,280.1 L176.4,281.4 L177.4,282.6 L178.4,283.8 L179.4,285.1 L180.4,286.3 L181.4,287.5 L182.4,288.7 L183.4,289.8 L184.4,291 L185.4,292.1 L186.4,293.3 L187.4,294.4 L188.4,295.5 L189.4,296.6 L190.4,297.7 L191.4,298.8 L192.4,299.9 L193.4,301 L194.4,302.1 L195.4,303.2 L196.4,304.3 L197.4,305.3 L198.4,306.4 L199.4,307.5 L200.4,308.6 L201.4,309.7 L202.4,310.8 L203.4,311.9 L204.4,313 L205.4,314.1 L206.4,315.2 L207.4,316.2 L208.4,317.2 L209.4,318.3 L210.4,319.2 L211.4,320.2 L212.4,321.1 L213.4,322 L214.4,322.8 L215.4,323.7 L216.4,324.5 L217.4,325.4 L218.4,326.2 L219.4,327 L220.4,327.8 L221.4,328.5 L222.4,329.3 L223.4,329.9 L224.4,330.5 L225.4,331.1 L226.4,331.6 L227.4,332.1 L228.4,332.5 L229.4,332.8 L230.4,333.1 L231.4,333.4 L232.4,333.7 L233.4,334 L234.4,334.3 L235.4,334.6 L236.4,334.8 L237.4,335.2 L238.4,335.5 L239.4,335.8 L240.4,336.2 L241.4,336.5 L242.4,336.9 L243.4,337.2 L244.4,337.5 L245.4,337.7 L246.4,337.9 L247.4,338.1 L248.4,338.2 L249.4,338.2 L250.4,338.2 L251.4,338.1 L252.4,338 L253.4,337.9 L254.4,337.8 L255.4,337.6 L256.4,337.4 L257.4,337.2 L258.4,337 L259.4,336.7 L260.4,336.5 L261.4,336.3 L262.4,336 L263.4,335.7 L264.4,335.4 L265.4,335 L266.4,334.6 L267.4,334.2 L268.4,333.8 L269.4,333.3 L270.4,332.8 L271.4,332.3 L272.4,331.8 L273.4,331.3 L274.4,330.8 L275.4,330.3 L276.4,329.7 L277.4,329.2 L278.4,328.6 L279.4,328 L280.4,327.3 L281.4,326.7 L282.4,326 L283.4,325.3 L284.4,324.5 L285.4,323.8 L286.4,323 L287.4,322.3 L288.4,321.5 L289.4,320.6 L290.4,319.8 L291.4,318.9 L292.4,317.9 L293.4,316.9 L294.4,315.9" stroke="#008000" stroke-opacity="0.6" stroke-width="1.2" stroke-dasharray="3.8 1.8"/><path d="M34.4,317.1 L35.4,316 L36.4,314.8 L37.4,313.6 L38.4,312.5 L39.4,311.3 L40.4,310 L41.4,308.8 L42.4,307.6 L43.4,306.3 L44.4,305 L45.4,303.8 L46.4,302.5 L47.4,301.3 L48.4,300 L49.4,298.6 L50.4,297.3 L51.4,296 L52.4,294.6 L53.4,293.3 L54.4,292 L55.4,290.7 L56.4,289.4 L57.4,288.1 L58.4,286.8 L59.4,285.6 L60.4,284.4 L61.4,283.2 L62.4,282 L63.4,280.8 L64.4,279.6 L65.4,278.4 L66.4,277.3 L67.4,276.1 L68.4,275 L69.4,274 L70.4,272.9 L71.4,271.9 L72.4,271 L73.4,270 L74.4,269.1 L75.4,268.1 L76.4,267.2 L77.4,266.3 L78.4,265.5 L79.4,264.6 L80.4,263.8 L81.4,263 L82.4,262.2 L83.4,261.4 L84.4,260.7 L85.4,259.9 L86.4,259.1 L87.4,258.4 L88.4,257.6 L89.4,256.9 L90.4,256.2 L91.4,255.6 L92.4,255 L93.4,254.5 L94.4,254 L95.4,253.6 L96.4,253.1 L97.4,252.7 L98.4,252.2 L99.4,251.8 L100.4,251.4 L101.4,251 L102.4,250.6 L103.4,250.2 L104.4,249.8 L105.4,249.5 L106.4,249.1 L107.4,248.8 L108.4,248.6 L109.4,248.3 L110.4,248.1 L111.4,247.9 L112.4,247.8 L113.4,247.7 L114.4,247.6 L115.4,247.6 L116.4,247.6 L117.4,247.6 L118.4,247.7 L119.4,247.7 L120.4,247.7 L121.4,247.8 L122.4,247.8 L123.4,247.9 L124.4,247.9 L125.4,248 L126.4,248.1 L127.4,248.1 L128.4,248.2 L129.4,248.3 L130.4,248.4 L131.4,248.5 L132.4,248.6 L133.4,248.7 L134.4,248.9 L135.4,249.1 L136.4,249.4 L137.4,249.8 L138.4,250.3 L139.4,250.8 L140.4,251.4 L141.4,252 L142.4,252.6 L143.4,253.3 L144.4,254 L145.4,254.6 L146.4,255.3 L147.4,256 L148.4,256.6 L149.4,257.4 L150.4,258.1 L151.4,258.9 L152.4,259.8 L153.4,260.6 L154.4,261.5 L155.4,262.4 L156.4,263.3 L157.4,264.2 L158.4,265.1 L159.4,266 L160.4,266.8 L161.4,267.7 L162.4,268.6 L163.4,269.5 L164.4,270.3 L165.4,271.2 L166.4,272.1 L167.4,273.1 L168.4,274 L169.4,275.1 L170.4,276.2 L171.4,277.4 L172.4,278.6 L173.4,279.8 L174.4,281.1 L175.4,282.5 L176.4,283.8 L177.4,285.2 L178.4,286.5 L179.4,287.9 L180.4,289.3 L181.4,290.6 L182.4,291.9 L183.4,293.2 L184.4,294.4 L185.4,295.7 L186.4,296.9 L187.4,298.1 L188.4,299.4 L189.4,300.6 L190.4,301.8 L191.4,303 L192.4,304.2 L193.4,305.4 L194.4,306.6 L195.4,307.7 L196.4,308.9 L197.4,310.1 L198.4,311.2 L199.4,312.4 L200.4,313.6 L201.4,314.8 L202.4,315.9 L203.4,317.1 L204.4,318.3 L205.4,319.4 L206.4,320.5 L207.4,321.6 L208.4,322.7 L209.4,323.8 L210.4,324.8 L211.4,325.9 L212.4,326.8 L213.4,327.8 L214.4,328.7 L215.4,329.6 L216.4,330.6 L217.4,331.5 L218.4,332.4 L219.4,333.3 L220.4,334.1 L221.4,335 L222.4,335.7 L223.4,336.5 L224.4,337.1 L225.4,337.7 L226.4,338.3 L227.4,338.7 L228.4,339.1 L229.4,339.5 L230.4,339.8 L231.4,340.1 L232.4,340.4 L233.4,340.7 L234.4,340.9 L235.4,341.2 L236.4,341.5 L237.4,341.8 L238.4,342.1 L239.4,342.5 L240.4,342.8 L241.4,343.2 L242.4,343.5 L243.4,343.8 L244.4,344.1 L245.4,344.4 L246.4,344.6 L247.4,344.7 L248.4,344.8 L249.4,344.9 L250.4,344.8 L251.4,344.8 L252.4,344.7 L253.4,344.5 L254.4,344.3 L255.4,344.1 L256.4,343.9 L257.4,343.6 L258.4,343.4 L259.4,343.1 L260.4,342.8 L261.4,342.6 L262.4,342.3 L263.4,341.9 L264.4,341.5 L265.4,341.1 L266.4,340.6 L267.4,340.1 L268.4,339.5 L269.4,339 L270.4,338.4 L271.4,337.8 L272.4,337.2 L273.4,336.6 L274.4,336 L275.4,335.3 L276.4,334.7 L277.4,334 L278.4,333.2 L279.4,332.5 L280.4,331.6 L281.4,330.8 L282.4,329.9 L283.4,329 L284.4,328.1 L285.4,327.2 L286.4,326.2 L287.4,325.3 L288.4,324.2 L289.4,323.1 L290.4,322 L291.4,320.9 L292.4,319.8 L293.4,318.7 L294.4,317.5" stroke="#008000" stroke-opacity="0.6" stroke-width="1.2" stroke-dasharray="3.8 1.8"/><path d="M34.4,316.3 L35.4,315.1 L36.4,313.9 L37.4,312.7 L38.4,311.5 L39.4,310.2 L40.4,308.9 L41.4,307.5 L42.4,306.2 L43.4,304.9 L44.4,303.5 L45.4,302.2 L46.4,300.9 L47.4,299.5 L48.4,298.2 L49.4,296.8 L50.4,295.4 L51.4,294.1 L52.4,292.7 L53.4,291.3 L54.4,289.9 L55.4,288.6 L56.4,287.2 L57.4,285.9 L58.4,284.6 L59.4,283.3 L60.4,282.1 L61.4,280.8 L62.4,279.6 L63.4,278.3 L64.4,277.1 L65.4,275.9 L66.4,274.7 L67.4,273.6 L68.4,272.4 L69.4,271.3 L70.4,270.3 L71.4,269.3 L72.4,268.3 L73.4,267.3 L74.4,266.3 L75.4,265.4 L76.4,264.5 L77.4,263.6 L78.4,262.7 L79.4,261.9 L80.4,261 L81.4,260.2 L82.4,259.4 L83.4,258.6 L84.4,257.8 L85.4,257 L86.4,256.2 L87.4,255.5 L88.4,254.7 L89.4,254 L90.4,253.3 L91.4,252.6 L92.4,252 L93.4,251.5 L94.4,251 L95.4,250.6 L96.4,250.1 L97.4,249.7 L98.4,249.2 L99.4,248.8 L100.4,248.3 L101.4,247.9 L102.4,247.5 L103.4,247.1 L104.4,246.7 L105.4,246.4 L106.4,246.1 L107.4,245.8 L108.4,245.5 L109.4,245.2 L110.4,245 L111.4,244.9 L112.4,244.7 L113.4,244.6 L114.4,244.6 L115.4,244.5 L116.4,244.6 L117.4,244.6 L118.4,244.6 L119.4,244.6 L120.4,244.7 L121.4,244.7 L122.4,244.8 L123.4,244.8 L124.4,244.9 L125.4,244.9 L126.4,245 L127.4,245.1 L128.4,245.2 L129.4,245.3 L130.4,245.4 L131.4,245.5 L132.4,245.6 L133.4,245.7 L134.4,245.9 L135.4,246.1 L136.4,246.5 L137.4,246.9 L138.4,247.4 L139.4,247.9 L140.4,248.5 L141.4,249.1 L142.4,249.8 L143.4,250.5 L144.4,251.2 L145.4,251.9 L146.4,252.6 L147.4,253.3 L148.4,254 L149.4,254.8 L150.4,255.6 L151.4,256.4 L152.4,257.3 L153.4,258.2 L154.4,259.1 L155.4,260.1 L156.4,261 L157.4,262 L158.4,262.9 L159.4,263.9 L160.4,264.9 L161.4,265.8 L162.4,266.8 L163.4,267.8 L164.4,268.8 L165.4,269.8 L166.4,270.8 L167.4,271.9 L168.4,273 L169.4,274.1 L170.4,275.2 L171.4,276.3 L172.4,277.5 L173.4,278.8 L174.4,280 L175.4,281.3 L176.4,282.6 L177.4,283.9 L178.4,285.2 L179.4,286.5 L180.4,287.8 L181.4,289 L182.4,290.3 L183.4,291.5 L184.4,292.7 L185.4,293.9 L186.4,295.1 L187.4,296.3 L188.4,297.4 L189.4,298.6 L190.4,299.8 L191.4,300.9 L192.4,302.1 L193.4,303.2 L194.4,304.3 L195.4,305.5 L196.4,306.6 L197.4,307.7 L198.4,308.8 L199.4,310 L200.4,311.1 L201.4,312.2 L202.4,313.4 L203.4,314.5 L204.4,315.6 L205.4,316.8 L206.4,317.8 L207.4,318.9 L208.4,320 L209.4,321 L210.4,322 L211.4,323 L212.4,324 L213.4,324.9 L214.4,325.8 L215.4,326.7 L216.4,327.5 L217.4,328.4 L218.4,329.3 L219.4,330.1 L220.4,331 L221.4,331.8 L222.4,332.5 L223.4,333.2 L224.4,333.8 L225.4,334.4 L226.4,334.9 L227.4,335.4 L228.4,335.8 L229.4,336.1 L230.4,336.5 L231.4,336.8 L232.4,337.1 L233.4,337.3 L234.4,337.6 L235.4,337.9 L236.4,338.2 L237.4,338.5 L238.4,338.8 L239.4,339.2 L240.4,339.5 L241.4,339.8 L242.4,340.2 L243.4,340.5 L244.4,340.8 L245.4,341 L246.4,341.2 L247.4,341.4 L248.4,341.5 L249.4,341.5 L250.4,341.5 L251.4,341.5 L252.4,341.4 L253.4,341.2 L254.4,341 L255.4,340.9 L256.4,340.6 L257.4,340.4 L258.4,340.2 L259.4,339.9 L260.4,339.7 L261.4,339.4 L262.4,339.1 L263.4,338.8 L264.4,338.4 L265.4,338 L266.4,337.6 L267.4,337.1 L268.4,336.7 L269.4,336.1 L270.4,335.6 L271.4,335.1 L272.4,334.5 L273.4,333.9 L274.4,333.4 L275.4,332.8 L276.4,332.2 L277.4,331.6 L278.4,330.9 L279.4,330.2 L280.4,329.5 L281.4,328.7 L282.4,328 L283.4,327.2 L284.4,326.3 L285.4,325.5 L286.4,324.6 L287.4,323.8 L288.4,322.8 L289.4,321.9 L290.4,320.9 L291.4,319.9 L292.4,318.9 L293.4,317.8 L294.4,316.7" stroke="#008000" stroke-opacity="0.6" stroke-width="1.1"/><path d="M34.4,314.6 L35.4,312.9 L36.4,311.2 L37.4,309.4 L38.4,307.7 L39.4,305.9 L40.4,304.1 L41.4,302.3 L42.4,300.5 L43.4,298.7 L44.4,296.9 L45.4,295.2 L46.4,293.5 L47.4,291.9 L48.4,290.3 L49.4,288.7 L50.4,287.1 L51.4,285.5 L52.4,283.9 L53.4,282.4 L54.4,280.8 L55.4,279.3 L56.4,277.8 L57.4,276.3 L58.4,274.8 L59.4,273.3 L60.4,271.8 L61.4,270.2 L62.4,268.7 L63.4,267.2 L64.4,265.6 L65.4,264.2 L66.4,262.7 L67.4,261.3 L68.4,259.9 L69.4,258.5 L70.4,257.3 L71.4,256 L72.4,254.9 L73.4,253.8 L74.4,252.7 L75.4,251.6 L76.4,250.6 L77.4,249.6 L78.4,248.6 L79.4,247.6 L80.4,246.6 L81.4,245.6 L82.4,244.7 L83.4,243.7 L84.4,242.7 L85.4,241.7 L86.4,240.7 L87.4,239.6 L88.4,238.6 L89.4,237.6 L90.4,236.7 L91.4,235.8 L92.4,235.1 L93.4,234.4 L94.4,233.8 L95.4,233.2 L96.4,232.6 L97.4,232 L98.4,231.4 L99.4,230.9 L100.4,230.3 L101.4,229.8 L102.4,229.3 L103.4,228.8 L104.4,228.3 L105.4,227.9 L106.4,227.5 L107.4,227.1 L108.4,226.8 L109.4,226.5 L110.4,226.2 L111.4,226 L112.4,225.8 L113.4,225.7 L114.4,225.6 L115.4,225.6 L116.4,225.6 L117.4,225.7 L118.4,225.8 L119.4,226 L120.4,226.1 L121.4,226.4 L122.4,226.6 L123.4,226.9 L124.4,227.2 L125.4,227.6 L126.4,227.9 L127.4,228.3 L128.4,228.7 L129.4,229.1 L130.4,229.5 L131.4,230 L132.4,230.4 L133.4,230.9 L134.4,231.4 L135.4,232 L136.4,232.7 L137.4,233.4 L138.4,234.3 L139.4,235.3 L140.4,236.3 L141.4,237.3 L142.4,238.4 L143.4,239.5 L144.4,240.6 L145.4,241.7 L146.4,242.8 L147.4,243.9 L148.4,245 L149.4,246.2 L150.4,247.4 L151.4,248.6 L152.4,249.8 L153.4,251.1 L154.4,252.4 L155.4,253.7 L156.4,255.1 L157.4,256.4 L158.4,257.8 L159.4,259.1 L160.4,260.5 L161.4,261.9 L162.4,263.3 L163.4,264.8 L164.4,266.3 L165.4,267.8 L166.4,269.4 L167.4,270.9 L168.4,272.3 L169.4,273.8 L170.4,275.2 L171.4,276.6 L172.4,278 L173.4,279.3 L174.4,280.7 L175.4,282.1 L176.4,283.4 L177.4,284.7 L178.4,286.1 L179.4,287.4 L180.4,288.7 L181.4,290 L182.4,291.4 L183.4,292.7 L184.4,294 L185.4,295.3 L186.4,296.6 L187.4,297.9 L188.4,299.2 L189.4,300.4 L190.4,301.7 L191.4,303 L192.4,304.3 L193.4,305.5 L194.4,306.8 L195.4,308.1 L196.4,309.4 L197.4,310.7 L198.4,312 L199.4,313.3 L200.4,314.7 L201.4,316 L202.4,317.4 L203.4,318.7 L204.4,320 L205.4,321.4 L206.4,322.7 L207.4,324 L208.4,325.3 L209.4,326.5 L210.4,327.8 L211.4,329 L212.4,330.1 L213.4,331.2 L214.4,332.3 L215.4,333.4 L216.4,334.5 L217.4,335.6 L218.4,336.7 L219.4,337.7 L220.4,338.8 L221.4,339.8 L222.4,340.7 L223.4,341.5 L224.4,342.3 L225.4,343 L226.4,343.6 L227.4,344 L228.4,344.4 L229.4,344.8 L230.4,345.1 L231.4,345.4 L232.4,345.7 L233.4,345.9 L234.4,346.2 L235.4,346.4 L236.4,346.7 L237.4,347 L238.4,347.4 L239.4,347.7 L240.4,348.1 L241.4,348.4 L242.4,348.8 L243.4,349.1 L244.4,349.4 L245.4,349.7 L246.4,349.9 L247.4,350.1 L248.4,350.2 L249.4,350.2 L250.4,350.2 L251.4,350.1 L252.4,349.9 L253.4,349.7 L254.4,349.5 L255.4,349.2 L256.4,348.9 L257.4,348.6 L258.4,348.2 L259.4,347.9 L260.4,347.5 L261.4,347.2 L262.4,346.8 L263.4,346.3 L264.4,345.8 L265.4,345.2 L266.4,344.6 L267.4,343.9 L268.4,343.2 L269.4,342.5 L270.4,341.7 L271.4,341 L272.4,340.2 L273.4,339.4 L274.4,338.6 L275.4,337.9 L276.4,337.1 L277.4,336.3 L278.4,335.5 L279.4,334.7 L280.4,333.8 L281.4,332.9 L282.4,332 L283.4,331 L284.4,330 L285.4,328.9 L286.4,327.7 L287.4,326.4 L288.4,325 L289.4,323.5 L290.4,321.9 L291.4,320.3 L292.4,318.6 L293.4,316.9 L294.4,315.3" stroke="#ff0000" stroke-opacity="0.6" stroke-width="1.2" stroke-dasharray="3.8 1.8"/><path d="M34.4,316.3 L35.4,314.6 L36.4,312.9 L37.4,311.2 L38.4,309.6 L39.4,307.9 L40.4,306.2 L41.4,304.6 L42.4,302.9 L43.4,301.3 L44.4,299.7 L45.4,298.1 L46.4,296.5 L47.4,295 L48.4,293.5 L49.4,291.9 L50.4,290.4 L51.4,288.9 L52.4,287.5 L53.4,286 L54.4,284.5 L55.4,283.1 L56.4,281.6 L57.4,280.2 L58.4,278.8 L59.4,277.3 L60.4,275.8 L61.4,274.4 L62.4,272.9 L63.4,271.4 L64.4,270 L65.4,268.5 L66.4,267.1 L67.4,265.7 L68.4,264.4 L69.4,263.1 L70.4,261.9 L71.4,260.7 L72.4,259.6 L73.4,258.5 L74.4,257.5 L75.4,256.5 L76.4,255.5 L77.4,254.6 L78.4,253.6 L79.4,252.7 L80.4,251.8 L81.4,250.9 L82.4,250 L83.4,249 L84.4,248.1 L85.4,247.1 L86.4,246.1 L87.4,245.1 L88.4,244.1 L89.4,243.2 L90.4,242.3 L91.4,241.4 L92.4,240.7 L93.4,240 L94.4,239.4 L95.4,238.8 L96.4,238.3 L97.4,237.7 L98.4,237.2 L99.4,236.6 L100.4,236.1 L101.4,235.6 L102.4,235.1 L103.4,234.6 L104.4,234.1 L105.4,233.7 L106.4,233.3 L107.4,232.9 L108.4,232.6 L109.4,232.3 L110.4,232 L111.4,231.8 L112.4,231.6 L113.4,231.5 L114.4,231.4 L115.4,231.4 L116.4,231.4 L117.4,231.5 L118.4,231.6 L119.4,231.8 L120.4,232 L121.4,232.2 L122.4,232.4 L123.4,232.7 L124.4,233 L125.4,233.3 L126.4,233.7 L127.4,234 L128.4,234.4 L129.4,234.8 L130.4,235.2 L131.4,235.7 L132.4,236.1 L133.4,236.6 L134.4,237 L135.4,237.6 L136.4,238.2 L137.4,239 L138.4,239.8 L139.4,240.7 L140.4,241.7 L141.4,242.6 L142.4,243.7 L143.4,244.7 L144.4,245.8 L145.4,246.8 L146.4,247.8 L147.4,248.9 L148.4,249.9 L149.4,251 L150.4,252.1 L151.4,253.2 L152.4,254.4 L153.4,255.6 L154.4,256.8 L155.4,258 L156.4,259.2 L157.4,260.4 L158.4,261.7 L159.4,262.9 L160.4,264.1 L161.4,265.4 L162.4,266.6 L163.4,267.9 L164.4,269.2 L165.4,270.5 L166.4,271.8 L167.4,273.1 L168.4,274.5 L169.4,275.8 L170.4,277.2 L171.4,278.6 L172.4,280 L173.4,281.5 L174.4,282.9 L175.4,284.4 L176.4,285.8 L177.4,287.3 L178.4,288.8 L179.4,290.2 L180.4,291.7 L181.4,293.2 L182.4,294.6 L183.4,296 L184.4,297.4 L185.4,298.8 L186.4,300.2 L187.4,301.6 L188.4,303 L189.4,304.4 L190.4,305.8 L191.4,307.2 L192.4,308.6 L193.4,309.9 L194.4,311.3 L195.4,312.7 L196.4,314 L197.4,315.4 L198.4,316.8 L199.4,318.2 L200.4,319.6 L201.4,321 L202.4,322.5 L203.4,323.9 L204.4,325.3 L205.4,326.7 L206.4,328.1 L207.4,329.4 L208.4,330.8 L209.4,332.1 L210.4,333.4 L211.4,334.6 L212.4,335.8 L213.4,337 L214.4,338.2 L215.4,339.3 L216.4,340.5 L217.4,341.7 L218.4,342.9 L219.4,344 L220.4,345.1 L221.4,346.2 L222.4,347.2 L223.4,348.1 L224.4,348.9 L225.4,349.6 L226.4,350.2 L227.4,350.7 L228.4,351.1 L229.4,351.5 L230.4,351.8 L231.4,352.1 L232.4,352.3 L233.4,352.6 L234.4,352.8 L235.4,353.1 L236.4,353.4 L237.4,353.7 L238.4,354 L239.4,354.4 L240.4,354.7 L241.4,355.1 L242.4,355.4 L243.4,355.8 L244.4,356.1 L245.4,356.3 L246.4,356.5 L247.4,356.7 L248.4,356.8 L249.4,356.8 L250.4,356.8 L251.4,356.7 L252.4,356.5 L253.4,356.3 L254.4,356.1 L255.4,355.8 L256.4,355.4 L257.4,355.1 L258.4,354.7 L259.4,354.3 L260.4,353.9 L261.4,353.5 L262.4,353 L263.4,352.5 L264.4,351.9 L265.4,351.2 L266.4,350.5 L267.4,349.8 L268.4,349 L269.4,348.2 L270.4,347.3 L271.4,346.5 L272.4,345.6 L273.4,344.7 L274.4,343.8 L275.4,342.9 L276.4,342 L277.4,341.1 L278.4,340.1 L279.4,339.1 L280.4,338.1 L281.4,337 L282.4,335.9 L283.4,334.7 L284.4,333.5 L285.4,332.3 L286.4,330.9 L287.4,329.4 L288.4,327.7 L289.4,326 L290.4,324.2 L291.4,322.3 L292.4,320.5 L293.4,318.7 L294.4,316.9" stroke="#ff0000" stroke-opacity="0.6" stroke-width="1.2" stroke-dasharray="3.8 1.8"/><path d="M34.4,315.4 L35.4,313.7 L36.4,312.1 L37.4,310.3 L38.4,308.6 L39.4,306.9 L40.4,305.2 L41.4,303.4 L42.4,301.7 L43.4,300 L44.4,298.3 L45.4,296.7 L46.4,295 L47.4,293.4 L48.4,291.9 L49.4,290.3 L50.4,288.8 L51.4,287.2 L52.4,285.7 L53.4,284.2 L54.4,282.7 L55.4,281.2 L56.4,279.7 L57.4,278.2 L58.4,276.8 L59.4,275.3 L60.4,273.8 L61.4,272.3 L62.4,270.8 L63.4,269.3 L64.4,267.8 L65.4,266.3 L66.4,264.9 L67.4,263.5 L68.4,262.1 L69.4,260.8 L70.4,259.6 L71.4,258.4 L72.4,257.2 L73.4,256.2 L74.4,255.1 L75.4,254.1 L76.4,253.1 L77.4,252.1 L78.4,251.1 L79.4,250.1 L80.4,249.2 L81.4,248.3 L82.4,247.3 L83.4,246.4 L84.4,245.4 L85.4,244.4 L86.4,243.4 L87.4,242.4 L88.4,241.4 L89.4,240.4 L90.4,239.5 L91.4,238.6 L92.4,237.9 L93.4,237.2 L94.4,236.6 L95.4,236 L96.4,235.4 L97.4,234.9 L98.4,234.3 L99.4,233.8 L100.4,233.2 L101.4,232.7 L102.4,232.2 L103.4,231.7 L104.4,231.2 L105.4,230.8 L106.4,230.4 L107.4,230 L108.4,229.7 L109.4,229.4 L110.4,229.1 L111.4,228.9 L112.4,228.7 L113.4,228.6 L114.4,228.5 L115.4,228.5 L116.4,228.5 L117.4,228.6 L118.4,228.7 L119.4,228.9 L120.4,229 L121.4,229.3 L122.4,229.5 L123.4,229.8 L124.4,230.1 L125.4,230.4 L126.4,230.8 L127.4,231.2 L128.4,231.6 L129.4,232 L130.4,232.4 L131.4,232.8 L132.4,233.3 L133.4,233.7 L134.4,234.2 L135.4,234.8 L136.4,235.5 L137.4,236.2 L138.4,237.1 L139.4,238 L140.4,239 L141.4,240 L142.4,241 L143.4,242.1 L144.4,243.2 L145.4,244.3 L146.4,245.3 L147.4,246.4 L148.4,247.5 L149.4,248.6 L150.4,249.7 L151.4,250.9 L152.4,252.1 L153.4,253.3 L154.4,254.6 L155.4,255.8 L156.4,257.1 L157.4,258.4 L158.4,259.7 L159.4,261 L160.4,262.3 L161.4,263.6 L162.4,265 L163.4,266.4 L164.4,267.8 L165.4,269.2 L166.4,270.6 L167.4,272 L168.4,273.4 L169.4,274.8 L170.4,276.2 L171.4,277.6 L172.4,279 L173.4,280.4 L174.4,281.8 L175.4,283.2 L176.4,284.6 L177.4,286 L178.4,287.4 L179.4,288.8 L180.4,290.2 L181.4,291.6 L182.4,293 L183.4,294.3 L184.4,295.7 L185.4,297.1 L186.4,298.4 L187.4,299.8 L188.4,301.1 L189.4,302.4 L190.4,303.8 L191.4,305.1 L192.4,306.4 L193.4,307.7 L194.4,309.1 L195.4,310.4 L196.4,311.7 L197.4,313 L198.4,314.4 L199.4,315.8 L200.4,317.1 L201.4,318.5 L202.4,319.9 L203.4,321.3 L204.4,322.7 L205.4,324 L206.4,325.4 L207.4,326.7 L208.4,328 L209.4,329.3 L210.4,330.6 L211.4,331.8 L212.4,333 L213.4,334.1 L214.4,335.2 L215.4,336.4 L216.4,337.5 L217.4,338.6 L218.4,339.8 L219.4,340.9 L220.4,342 L221.4,343 L222.4,343.9 L223.4,344.8 L224.4,345.6 L225.4,346.3 L226.4,346.9 L227.4,347.4 L228.4,347.8 L229.4,348.1 L230.4,348.4 L231.4,348.7 L232.4,349 L233.4,349.3 L234.4,349.5 L235.4,349.8 L236.4,350.1 L237.4,350.4 L238.4,350.7 L239.4,351.1 L240.4,351.4 L241.4,351.8 L242.4,352.1 L243.4,352.4 L244.4,352.7 L245.4,353 L246.4,353.2 L247.4,353.4 L248.4,353.5 L249.4,353.5 L250.4,353.5 L251.4,353.4 L252.4,353.2 L253.4,353 L254.4,352.8 L255.4,352.5 L256.4,352.2 L257.4,351.8 L258.4,351.5 L259.4,351.1 L260.4,350.7 L261.4,350.3 L262.4,349.9 L263.4,349.4 L264.4,348.8 L265.4,348.2 L266.4,347.6 L267.4,346.8 L268.4,346.1 L269.4,345.3 L270.4,344.5 L271.4,343.7 L272.4,342.9 L273.4,342.1 L274.4,341.2 L275.4,340.4 L276.4,339.5 L277.4,338.7 L278.4,337.8 L279.4,336.9 L280.4,336 L281.4,335 L282.4,333.9 L283.4,332.9 L284.4,331.7 L285.4,330.6 L286.4,329.3 L287.4,327.9 L288.4,326.4 L289.4,324.7 L290.4,323 L291.4,321.3 L292.4,319.6 L293.4,317.8 L294.4,316.1" stroke="#ff0000" stroke-opacity="0.6" stroke-width="1.1"/><path d="M34.4,314.6 L35.4,312.9 L36.4,311.2 L37.4,309.5 L38.4,307.7 L39.4,305.9 L40.4,304.2 L41.4,302.4 L42.4,300.6 L43.4,298.9 L44.4,297.1 L45.4,295.4 L46.4,293.8 L47.4,292.2 L48.4,290.6 L49.4,289 L50.4,287.4 L51.4,285.9 L52.4,284.4 L53.4,282.8 L54.4,281.3 L55.4,279.8 L56.4,278.3 L57.4,276.8 L58.4,275.4 L59.4,273.9 L60.4,272.4 L61.4,270.8 L62.4,269.3 L63.4,267.8 L64.4,266.3 L65.4,264.8 L66.4,263.3 L67.4,261.9 L68.4,260.5 L69.4,259.2 L70.4,257.9 L71.4,256.7 L72.4,255.6 L73.4,254.4 L74.4,253.4 L75.4,252.3 L76.4,251.3 L77.4,250.3 L78.4,249.3 L79.4,248.3 L80.4,247.4 L81.4,246.4 L82.4,245.5 L83.4,244.5 L84.4,243.6 L85.4,242.6 L86.4,241.6 L87.4,240.6 L88.4,239.6 L89.4,238.6 L90.4,237.7 L91.4,236.9 L92.4,236.1 L93.4,235.4 L94.4,234.8 L95.4,234.3 L96.4,233.7 L97.4,233.2 L98.4,232.6 L99.4,232.1 L100.4,231.6 L101.4,231.1 L102.4,230.6 L103.4,230.1 L104.4,229.7 L105.4,229.3 L106.4,228.9 L107.4,228.5 L108.4,228.2 L109.4,227.9 L110.4,227.7 L111.4,227.4 L112.4,227.3 L113.4,227.2 L114.4,227.1 L115.4,227.1 L116.4,227.1 L117.4,227.2 L118.4,227.3 L119.4,227.4 L120.4,227.6 L121.4,227.9 L122.4,228.1 L123.4,228.4 L124.4,228.7 L125.4,229 L126.4,229.4 L127.4,229.8 L128.4,230.1 L129.4,230.6 L130.4,231 L131.4,231.4 L132.4,231.9 L133.4,232.3 L134.4,232.8 L135.4,233.4 L136.4,234 L137.4,234.8 L138.4,235.7 L139.4,236.6 L140.4,237.6 L141.4,238.6 L142.4,239.7 L143.4,240.8 L144.4,241.9 L145.4,243 L146.4,244.1 L147.4,245.1 L148.4,246.2 L149.4,247.4 L150.4,248.6 L151.4,249.8 L152.4,251 L153.4,252.3 L154.4,253.6 L155.4,254.9 L156.4,256.2 L157.4,257.5 L158.4,258.8 L159.4,260.2 L160.4,261.5 L161.4,262.8 L162.4,264.2 L163.4,265.6 L164.4,267.1 L165.4,268.5 L166.4,270 L167.4,271.4 L168.4,272.8 L169.4,274.3 L170.4,275.6 L171.4,277 L172.4,278.4 L173.4,279.7 L174.4,281.1 L175.4,282.4 L176.4,283.8 L177.4,285.1 L178.4,286.5 L179.4,287.8 L180.4,289.1 L181.4,290.5 L182.4,291.8 L183.4,293.1 L184.4,294.4 L185.4,295.7 L186.4,297 L187.4,298.2 L188.4,299.5 L189.4,300.8 L190.4,302 L191.4,303.3 L192.4,304.5 L193.4,305.8 L194.4,307 L195.4,308.3 L196.4,309.6 L197.4,310.8 L198.4,312.1 L199.4,313.4 L200.4,314.8 L201.4,316.1 L202.4,317.4 L203.4,318.8 L204.4,320.1 L205.4,321.4 L206.4,322.7 L207.4,324 L208.4,325.3 L209.4,326.6 L210.4,327.8 L211.4,329 L212.4,330.1 L213.4,331.2 L214.4,332.3 L215.4,333.4 L216.4,334.5 L217.4,335.6 L218.4,336.7 L219.4,337.7 L220.4,338.8 L221.4,339.8 L222.4,340.7 L223.4,341.5 L224.4,342.3 L225.4,343 L226.4,343.6 L227.4,344 L228.4,344.4 L229.4,344.8 L230.4,345.1 L231.4,345.4 L232.4,345.7 L233.4,345.9 L234.4,346.2 L235.4,346.4 L236.4,346.7 L237.4,347 L238.4,347.4 L239.4,347.7 L240.4,348.1 L241.4,348.4 L242.4,348.8 L243.4,349.1 L244.4,349.4 L245.4,349.7 L246.4,349.9 L247.4,350.1 L248.4,350.2 L249.4,350.2 L250.4,350.2 L251.4,350.1 L252.4,349.9 L253.4,349.7 L254.4,349.5 L255.4,349.2 L256.4,348.9 L257.4,348.6 L258.4,348.2 L259.4,347.9 L260.4,347.5 L261.4,347.2 L262.4,346.8 L263.4,346.3 L264.4,345.8 L265.4,345.2 L266.4,344.6 L267.4,343.9 L268.4,343.2 L269.4,342.5 L270.4,341.7 L271.4,341 L272.4,340.2 L273.4,339.4 L274.4,338.6 L275.4,337.9 L276.4,337.1 L277.4,336.3 L278.4,335.5 L279.4,334.7 L280.4,333.8 L281.4,332.9 L282.4,332 L283.4,331 L284.4,330 L285.4,328.9 L286.4,327.7 L287.4,326.4 L288.4,325 L289.4,323.5 L290.4,321.9 L291.4,320.3 L292.4,318.6 L293.4,316.9 L294.4,315.3" stroke="#0000ff" stroke-opacity="0.6" stroke-width="1.2" stroke-dasharray="3.8 1.8"/><path d="M34.4,316.3 L35.4,314.6 L36.4,312.9 L37.4,311.3 L38.4,309.6 L39.4,308 L40.4,306.3 L41.4,304.7 L42.4,303.1 L43.4,301.5 L44.4,299.9 L45.4,298.3 L46.4,296.8 L47.4,295.3 L48.4,293.8 L49.4,292.3 L50.4,290.8 L51.4,289.3 L52.4,287.9 L53.4,286.4 L54.4,285 L55.4,283.6 L56.4,282.2 L57.4,280.7 L58.4,279.3 L59.4,277.9 L60.4,276.5 L61.4,275 L62.4,273.5 L63.4,272.1 L64.4,270.6 L65.4,269.2 L66.4,267.7 L67.4,266.4 L68.4,265 L69.4,263.8 L70.4,262.5 L71.4,261.4 L72.4,260.3 L73.4,259.2 L74.4,258.2 L75.4,257.2 L76.4,256.3 L77.4,255.3 L78.4,254.4 L79.4,253.5 L80.4,252.6 L81.4,251.7 L82.4,250.8 L83.4,249.9 L84.4,248.9 L85.4,248 L86.4,247 L87.4,246 L88.4,245.1 L89.4,244.2 L90.4,243.3 L91.4,242.5 L92.4,241.7 L93.4,241.1 L94.4,240.5 L95.4,240 L96.4,239.4 L97.4,238.9 L98.4,238.4 L99.4,237.8 L100.4,237.3 L101.4,236.8 L102.4,236.4 L103.4,235.9 L104.4,235.5 L105.4,235.1 L106.4,234.7 L107.4,234.3 L108.4,234 L109.4,233.7 L110.4,233.5 L111.4,233.3 L112.4,233.1 L113.4,233 L114.4,232.9 L115.4,232.9 L116.4,232.9 L117.4,233 L118.4,233.1 L119.4,233.3 L120.4,233.4 L121.4,233.7 L122.4,233.9 L123.4,234.2 L124.4,234.5 L125.4,234.8 L126.4,235.1 L127.4,235.5 L128.4,235.9 L129.4,236.3 L130.4,236.7 L131.4,237.1 L132.4,237.5 L133.4,238 L134.4,238.4 L135.4,239 L136.4,239.6 L137.4,240.4 L138.4,241.2 L139.4,242.1 L140.4,243 L141.4,244 L142.4,245 L143.4,246 L144.4,247 L145.4,248.1 L146.4,249.1 L147.4,250.1 L148.4,251.1 L149.4,252.2 L150.4,253.3 L151.4,254.4 L152.4,255.6 L153.4,256.7 L154.4,257.9 L155.4,259.1 L156.4,260.3 L157.4,261.5 L158.4,262.7 L159.4,263.9 L160.4,265.1 L161.4,266.3 L162.4,267.5 L163.4,268.7 L164.4,270 L165.4,271.2 L166.4,272.4 L167.4,273.7 L168.4,275 L169.4,276.3 L170.4,277.6 L171.4,279 L172.4,280.4 L173.4,281.8 L174.4,283.3 L175.4,284.8 L176.4,286.2 L177.4,287.7 L178.4,289.2 L179.4,290.7 L180.4,292.1 L181.4,293.6 L182.4,295 L183.4,296.4 L184.4,297.8 L185.4,299.2 L186.4,300.6 L187.4,302 L188.4,303.4 L189.4,304.7 L190.4,306.1 L191.4,307.4 L192.4,308.8 L193.4,310.2 L194.4,311.5 L195.4,312.9 L196.4,314.2 L197.4,315.6 L198.4,316.9 L199.4,318.3 L200.4,319.7 L201.4,321.1 L202.4,322.5 L203.4,323.9 L204.4,325.3 L205.4,326.7 L206.4,328.1 L207.4,329.5 L208.4,330.8 L209.4,332.1 L210.4,333.4 L211.4,334.6 L212.4,335.8 L213.4,337 L214.4,338.2 L215.4,339.3 L216.4,340.5 L217.4,341.7 L218.4,342.9 L219.4,344 L220.4,345.1 L221.4,346.2 L222.4,347.2 L223.4,348.1 L224.4,348.9 L225.4,349.6 L226.4,350.2 L227.4,350.7 L228.4,351.1 L229.4,351.5 L230.4,351.8 L231.4,352.1 L232.4,352.3 L233.4,352.6 L234.4,352.8 L235.4,353.1 L236.4,353.4 L237.4,353.7 L238.4,354 L239.4,354.4 L240.4,354.7 L241.4,355.1 L242.4,355.4 L243.4,355.8 L244.4,356.1 L245.4,356.3 L246.4,356.5 L247.4,356.7 L248.4,356.8 L249.4,356.8 L250.4,356.8 L251.4,356.7 L252.4,356.5 L253.4,356.3 L254.4,356.1 L255.4,355.8 L256.4,355.4 L257.4,355.1 L258.4,354.7 L259.4,354.3 L260.4,353.9 L261.4,353.5 L262.4,353 L263.4,352.5 L264.4,351.9 L265.4,351.2 L266.4,350.5 L267.4,349.8 L268.4,349 L269.4,348.2 L270.4,347.3 L271.4,346.5 L272.4,345.6 L273.4,344.7 L274.4,343.8 L275.4,342.9 L276.4,342 L277.4,341.1 L278.4,340.1 L279.4,339.1 L280.4,338.1 L281.4,337 L282.4,335.9 L283.4,334.7 L284.4,333.5 L285.4,332.3 L286.4,330.9 L287.4,329.4 L288.4,327.7 L289.4,326 L290.4,324.2 L291.4,322.3 L292.4,320.5 L293.4,318.7 L294.4,316.9" stroke="#0000ff" stroke-opacity="0.6" stroke-width="1.2" stroke-dasharray="3.8 1.8"/><path d="M34.4,315.4 L35.4,313.8 L36.4,312.1 L37.4,310.4 L38.4,308.7 L39.4,307 L40.4,305.3 L41.4,303.5 L42.4,301.9 L43.4,300.2 L44.4,298.5 L45.4,296.9 L46.4,295.3 L47.4,293.7 L48.4,292.2 L49.4,290.6 L50.4,289.1 L51.4,287.6 L52.4,286.1 L53.4,284.6 L54.4,283.2 L55.4,281.7 L56.4,280.3 L57.4,278.8 L58.4,277.3 L59.4,275.9 L60.4,274.4 L61.4,272.9 L62.4,271.4 L63.4,269.9 L64.4,268.4 L65.4,267 L66.4,265.5 L67.4,264.1 L68.4,262.8 L69.4,261.5 L70.4,260.2 L71.4,259.1 L72.4,257.9 L73.4,256.8 L74.4,255.8 L75.4,254.8 L76.4,253.8 L77.4,252.8 L78.4,251.9 L79.4,250.9 L80.4,250 L81.4,249.1 L82.4,248.1 L83.4,247.2 L84.4,246.3 L85.4,245.3 L86.4,244.3 L87.4,243.3 L88.4,242.3 L89.4,241.4 L90.4,240.5 L91.4,239.7 L92.4,238.9 L93.4,238.2 L94.4,237.7 L95.4,237.1 L96.4,236.6 L97.4,236 L98.4,235.5 L99.4,235 L100.4,234.5 L101.4,234 L102.4,233.5 L103.4,233 L104.4,232.6 L105.4,232.2 L106.4,231.8 L107.4,231.4 L108.4,231.1 L109.4,230.8 L110.4,230.6 L111.4,230.4 L112.4,230.2 L113.4,230.1 L114.4,230 L115.4,230 L116.4,230 L117.4,230.1 L118.4,230.2 L119.4,230.4 L120.4,230.5 L121.4,230.8 L122.4,231 L123.4,231.3 L124.4,231.6 L125.4,231.9 L126.4,232.3 L127.4,232.6 L128.4,233 L129.4,233.4 L130.4,233.8 L131.4,234.3 L132.4,234.7 L133.4,235.1 L134.4,235.6 L135.4,236.2 L136.4,236.8 L137.4,237.6 L138.4,238.4 L139.4,239.3 L140.4,240.3 L141.4,241.3 L142.4,242.3 L143.4,243.4 L144.4,244.5 L145.4,245.5 L146.4,246.6 L147.4,247.6 L148.4,248.7 L149.4,249.8 L150.4,250.9 L151.4,252.1 L152.4,253.3 L153.4,254.5 L154.4,255.7 L155.4,257 L156.4,258.2 L157.4,259.5 L158.4,260.8 L159.4,262 L160.4,263.3 L161.4,264.6 L162.4,265.9 L163.4,267.2 L164.4,268.5 L165.4,269.9 L166.4,271.2 L167.4,272.5 L168.4,273.9 L169.4,275.3 L170.4,276.6 L171.4,278 L172.4,279.4 L173.4,280.8 L174.4,282.2 L175.4,283.6 L176.4,285 L177.4,286.4 L178.4,287.8 L179.4,289.2 L180.4,290.6 L181.4,292 L182.4,293.4 L183.4,294.8 L184.4,296.1 L185.4,297.5 L186.4,298.8 L187.4,300.1 L188.4,301.4 L189.4,302.7 L190.4,304 L191.4,305.4 L192.4,306.7 L193.4,308 L194.4,309.3 L195.4,310.6 L196.4,311.9 L197.4,313.2 L198.4,314.5 L199.4,315.9 L200.4,317.3 L201.4,318.6 L202.4,320 L203.4,321.4 L204.4,322.7 L205.4,324.1 L206.4,325.4 L207.4,326.8 L208.4,328.1 L209.4,329.3 L210.4,330.6 L211.4,331.8 L212.4,333 L213.4,334.1 L214.4,335.2 L215.4,336.3 L216.4,337.5 L217.4,338.6 L218.4,339.8 L219.4,340.9 L220.4,341.9 L221.4,343 L222.4,343.9 L223.4,344.8 L224.4,345.6 L225.4,346.3 L226.4,346.9 L227.4,347.4 L228.4,347.8 L229.4,348.1 L230.4,348.4 L231.4,348.7 L232.4,349 L233.4,349.3 L234.4,349.5 L235.4,349.8 L236.4,350.1 L237.4,350.4 L238.4,350.7 L239.4,351.1 L240.4,351.4 L241.4,351.8 L242.4,352.1 L243.4,352.4 L244.4,352.7 L245.4,353 L246.4,353.2 L247.4,353.4 L248.4,353.5 L249.4,353.5 L250.4,353.5 L251.4,353.4 L252.4,353.2 L253.4,353 L254.4,352.8 L255.4,352.5 L256.4,352.2 L257.4,351.8 L258.4,351.5 L259.4,351.1 L260.4,350.7 L261.4,350.3 L262.4,349.9 L263.4,349.4 L264.4,348.8 L265.4,348.2 L266.4,347.6 L267.4,346.8 L268.4,346.1 L269.4,345.3 L270.4,344.5 L271.4,343.7 L272.4,342.9 L273.4,342.1 L274.4,341.2 L275.4,340.4 L276.4,339.5 L277.4,338.7 L278.4,337.8 L279.4,336.9 L280.4,336 L281.4,335 L282.4,333.9 L283.4,332.9 L284.4,331.7 L285.4,330.6 L286.4,329.3 L287.4,327.9 L288.4,326.4 L289.4,324.7 L290.4,323 L291.4,321.3 L292.4,319.5 L293.4,317.8 L294.4,316.1" stroke="#0000ff" stroke-opacity="0.6" stroke-width="1.1"/></g><path d="M34.4,224.5 H170.1 M34.4,224.5 V356.6 H170.1" stroke="#9a9a9a" stroke-width="1" fill="none"/><path d="M170.1,224.5 H294.8 M170.1,356.6 H294.8" stroke="#6c6c6c" stroke-width="1" fill="none"/><path d="M294.3,224.5 V356.6" stroke="#6c6c6c" stroke-width="1" fill="none"/><path d="M31.9,353.27 H34.4" stroke="#9a9a9a" stroke-width="1"/><text x="30.4" y="356.47" font-size="9.3" text-anchor="end">10</text><path d="M31.9,311.68 H34.4" stroke="#9a9a9a" stroke-width="1"/><text x="30.4" y="314.88" font-size="9.3" text-anchor="end">15</text><path d="M31.9,270.09 H34.4" stroke="#9a9a9a" stroke-width="1"/><text x="30.4" y="273.29" font-size="9.3" text-anchor="end">20</text><path d="M31.9,228.49 H34.4" stroke="#9a9a9a" stroke-width="1"/><text x="30.4" y="231.69" font-size="9.3" text-anchor="end">25</text><path d="M34.4,356.6 V359.1 M170.1,356.6 V359.1" stroke="#9a9a9a" stroke-width="1"/><text x="34.4" y="367.4" font-size="9.3" text-anchor="middle">Sunrise</text><text x="170.1" y="367.2" font-size="9.3" text-anchor="middle">Sunset</text><text x="164.6" y="377" font-size="9.3" text-anchor="middle">Time of day</text><text transform="translate(14.7,290.55) rotate(-90) scale(0.92,1)" font-size="10.1" text-anchor="middle">Air temperature (°C)</text><text transform="translate(1.9,216.9) scale(0.93,1)" font-size="14.5">(c)</text><rect x="72.5" y="383.4" width="184.2" height="14.5" fill="#fff" stroke="#c2c2c2" stroke-width="1.6"/><path d="M72.5,382.9 V398.4 M256.7,382.9 V398.4" stroke="#9a9a9a" stroke-width="1" fill="none"/><path d="M75.8,390.7 H100" stroke="#0000ff" stroke-opacity="0.45" stroke-width="1.7"/><text x="104" y="393.9" font-size="9.3">Control</text><path d="M143.7,390.7 H167.8" stroke="#ff0000" stroke-opacity="0.45" stroke-width="1.7"/><text x="172.1" y="393.9" font-size="9.3">Gap</text><path d="M199.7,390.7 H223.9" stroke="#008000" stroke-opacity="0.45" stroke-width="1.7"/><text x="228.3" y="393.9" font-size="9.3">Under</text></g>
<g><rect x="475.8" y="224.7" width="126.7" height="132.5" fill="#808080"/><g clip-path="url(#cpd)" fill="none"><path d="M337.5,333.3 L338.5,332.6 L339.5,331.8 L340.5,330.9 L341.5,330.1 L342.5,329.2 L343.5,328.3 L344.5,327.5 L345.5,326.6 L346.5,325.8 L347.5,325 L348.5,324.2 L349.5,323.4 L350.5,322.5 L351.5,321.6 L352.5,320.7 L353.5,319.8 L354.5,318.8 L355.5,317.8 L356.5,316.8 L357.5,315.8 L358.5,314.8 L359.5,313.7 L360.5,312.7 L361.5,311.7 L362.5,310.6 L363.5,309.5 L364.5,308.4 L365.5,307.3 L366.5,306.1 L367.5,305 L368.5,303.8 L369.5,302.7 L370.5,301.5 L371.5,300.4 L372.5,299.3 L373.5,298.2 L374.5,297.1 L375.5,296 L376.5,294.9 L377.5,293.8 L378.5,292.6 L379.5,291.5 L380.5,290.4 L381.5,289.2 L382.5,288.1 L383.5,286.9 L384.5,285.8 L385.5,284.7 L386.5,283.5 L387.5,282.4 L388.5,281.3 L389.5,280.2 L390.5,279.1 L391.5,278 L392.5,277 L393.5,276 L394.5,275 L395.5,274.1 L396.5,273.1 L397.5,272.2 L398.5,271.3 L399.5,270.5 L400.5,269.6 L401.5,268.8 L402.5,267.9 L403.5,267.1 L404.5,266.3 L405.5,265.6 L406.5,264.8 L407.5,264 L408.5,263.3 L409.5,262.6 L410.5,261.8 L411.5,261.1 L412.5,260.5 L413.5,259.8 L414.5,259.1 L415.5,258.5 L416.5,257.8 L417.5,257.2 L418.5,256.6 L419.5,256 L420.5,255.4 L421.5,254.8 L422.5,254.2 L423.5,253.7 L424.5,253.2 L425.5,252.7 L426.5,252.2 L427.5,251.7 L428.5,251.3 L429.5,250.9 L430.5,250.5 L431.5,250.1 L432.5,249.7 L433.5,249.4 L434.5,249.1 L435.5,248.9 L436.5,248.6 L437.5,248.4 L438.5,248.2 L439.5,248.1 L440.5,248 L441.5,247.9 L442.5,247.9 L443.5,247.9 L444.5,247.9 L445.5,248 L446.5,248.1 L447.5,248.2 L448.5,248.3 L449.5,248.5 L450.5,248.7 L451.5,249 L452.5,249.2 L453.5,249.5 L454.5,249.8 L455.5,250.1 L456.5,250.4 L457.5,250.8 L458.5,251.2 L459.5,251.5 L460.5,251.9 L461.5,252.4 L462.5,252.8 L463.5,253.3 L464.5,253.8 L465.5,254.3 L466.5,254.8 L467.5,255.4 L468.5,256 L469.5,256.6 L470.5,257.2 L471.5,257.9 L472.5,258.6 L473.5,259.3 L474.5,260.1 L475.5,260.9 L476.5,261.7 L477.5,262.6 L478.5,263.5 L479.5,264.4 L480.5,265.3 L481.5,266.3 L482.5,267.2 L483.5,268.2 L484.5,269.3 L485.5,270.3 L486.5,271.3 L487.5,272.4 L488.5,273.4 L489.5,274.5 L490.5,275.6 L491.5,276.6 L492.5,277.7 L493.5,278.8 L494.5,279.8 L495.5,280.9 L496.5,281.9 L497.5,283 L498.5,284 L499.5,285 L500.5,286 L501.5,287.1 L502.5,288.1 L503.5,289.1 L504.5,290.1 L505.5,291.1 L506.5,292.1 L507.5,293.1 L508.5,294.1 L509.5,295.1 L510.5,296.1 L511.5,297.2 L512.5,298.2 L513.5,299.2 L514.5,300.2 L515.5,301.2 L516.5,302.2 L517.5,303.3 L518.5,304.3 L519.5,305.3 L520.5,306.3 L521.5,307.3 L522.5,308.3 L523.5,309.4 L524.5,310.4 L525.5,311.3 L526.5,312.3 L527.5,313.3 L528.5,314.3 L529.5,315.2 L530.5,316.2 L531.5,317.1 L532.5,318 L533.5,318.9 L534.5,319.8 L535.5,320.7 L536.5,321.6 L537.5,322.4 L538.5,323.3 L539.5,324.1 L540.5,324.9 L541.5,325.6 L542.5,326.4 L543.5,327.2 L544.5,327.9 L545.5,328.6 L546.5,329.3 L547.5,329.9 L548.5,330.6 L549.5,331.2 L550.5,331.8 L551.5,332.4 L552.5,332.9 L553.5,333.5 L554.5,334 L555.5,334.5 L556.5,334.9 L557.5,335.4 L558.5,335.8 L559.5,336.2 L560.5,336.6 L561.5,337 L562.5,337.4 L563.5,337.7 L564.5,338 L565.5,338.3 L566.5,338.6 L567.5,338.9 L568.5,339.1 L569.5,339.4 L570.5,339.6 L571.5,339.8 L572.5,340 L573.5,340.1 L574.5,340.3 L575.5,340.4 L576.5,340.5 L577.5,340.6 L578.5,340.6 L579.5,340.6 L580.5,340.7 L581.5,340.7 L582.5,340.6 L583.5,340.6 L584.5,340.5 L585.5,340.4 L586.5,340.2 L587.5,340.1 L588.5,339.9 L589.5,339.6 L590.5,339.4 L591.5,339.1 L592.5,338.8 L593.5,338.4 L594.5,338 L595.5,337.6 L596.5,337.1 L597.5,336.6 L598.5,336 L599.5,335.4 L600.5,334.8 L601.5,334.1 L602.5,333.3" stroke="#008000" stroke-opacity="0.6" stroke-width="1.2" stroke-dasharray="3.8 1.8"/><path d="M337.5,338 L338.5,337.2 L339.5,336.4 L340.5,335.6 L341.5,334.7 L342.5,333.8 L343.5,333 L344.5,332.1 L345.5,331.3 L346.5,330.5 L347.5,329.6 L348.5,328.8 L349.5,328 L350.5,327.1 L351.5,326.3 L352.5,325.3 L353.5,324.4 L354.5,323.4 L355.5,322.4 L356.5,321.4 L357.5,320.4 L358.5,319.4 L359.5,318.4 L360.5,317.3 L361.5,316.3 L362.5,315.2 L363.5,314.1 L364.5,313 L365.5,311.9 L366.5,310.8 L367.5,309.6 L368.5,308.5 L369.5,307.3 L370.5,306.2 L371.5,305.1 L372.5,303.9 L373.5,302.8 L374.5,301.7 L375.5,300.6 L376.5,299.5 L377.5,298.4 L378.5,297.3 L379.5,296.2 L380.5,295 L381.5,293.9 L382.5,292.7 L383.5,291.6 L384.5,290.4 L385.5,289.3 L386.5,288.2 L387.5,287 L388.5,285.9 L389.5,284.8 L390.5,283.7 L391.5,282.7 L392.5,281.7 L393.5,280.7 L394.5,279.7 L395.5,278.7 L396.5,277.8 L397.5,276.9 L398.5,276 L399.5,275.1 L400.5,274.2 L401.5,273.4 L402.5,272.6 L403.5,271.8 L404.5,271 L405.5,270.2 L406.5,269.4 L407.5,268.7 L408.5,267.9 L409.5,267.2 L410.5,266.5 L411.5,265.8 L412.5,265.1 L413.5,264.4 L414.5,263.7 L415.5,263.1 L416.5,262.4 L417.5,261.8 L418.5,261.2 L419.5,260.6 L420.5,260 L421.5,259.4 L422.5,258.9 L423.5,258.3 L424.5,257.8 L425.5,257.3 L426.5,256.8 L427.5,256.4 L428.5,255.9 L429.5,255.5 L430.5,255.1 L431.5,254.7 L432.5,254.4 L433.5,254.1 L434.5,253.8 L435.5,253.5 L436.5,253.3 L437.5,253.1 L438.5,252.9 L439.5,252.7 L440.5,252.6 L441.5,252.6 L442.5,252.5 L443.5,252.5 L444.5,252.5 L445.5,252.6 L446.5,252.7 L447.5,252.8 L448.5,253 L449.5,253.2 L450.5,253.4 L451.5,253.6 L452.5,253.8 L453.5,254.1 L454.5,254.4 L455.5,254.7 L456.5,255.1 L457.5,255.4 L458.5,255.8 L459.5,256.2 L460.5,256.6 L461.5,257 L462.5,257.5 L463.5,257.9 L464.5,258.4 L465.5,258.9 L466.5,259.5 L467.5,260 L468.5,260.6 L469.5,261.2 L470.5,261.9 L471.5,262.5 L472.5,263.2 L473.5,264 L474.5,264.7 L475.5,265.5 L476.5,266.4 L477.5,267.2 L478.5,268.1 L479.5,269 L480.5,269.9 L481.5,270.9 L482.5,271.9 L483.5,272.9 L484.5,273.9 L485.5,274.9 L486.5,276 L487.5,277 L488.5,278.1 L489.5,279.1 L490.5,280.2 L491.5,281.3 L492.5,282.3 L493.5,283.4 L494.5,284.5 L495.5,285.5 L496.5,286.6 L497.5,287.6 L498.5,288.6 L499.5,289.7 L500.5,290.7 L501.5,291.7 L502.5,292.7 L503.5,293.7 L504.5,294.7 L505.5,295.7 L506.5,296.8 L507.5,297.8 L508.5,298.8 L509.5,299.8 L510.5,300.8 L511.5,301.8 L512.5,302.8 L513.5,303.8 L514.5,304.8 L515.5,305.9 L516.5,306.9 L517.5,307.9 L518.5,308.9 L519.5,309.9 L520.5,311 L521.5,312 L522.5,313 L523.5,314 L524.5,315 L525.5,316 L526.5,317 L527.5,317.9 L528.5,318.9 L529.5,319.9 L530.5,320.8 L531.5,321.7 L532.5,322.7 L533.5,323.6 L534.5,324.5 L535.5,325.3 L536.5,326.2 L537.5,327.1 L538.5,327.9 L539.5,328.7 L540.5,329.5 L541.5,330.3 L542.5,331 L543.5,331.8 L544.5,332.5 L545.5,333.2 L546.5,333.9 L547.5,334.6 L548.5,335.2 L549.5,335.8 L550.5,336.4 L551.5,337 L552.5,337.6 L553.5,338.1 L554.5,338.6 L555.5,339.1 L556.5,339.6 L557.5,340 L558.5,340.5 L559.5,340.9 L560.5,341.3 L561.5,341.7 L562.5,342 L563.5,342.3 L564.5,342.7 L565.5,343 L566.5,343.3 L567.5,343.5 L568.5,343.8 L569.5,344 L570.5,344.2 L571.5,344.4 L572.5,344.6 L573.5,344.8 L574.5,344.9 L575.5,345 L576.5,345.1 L577.5,345.2 L578.5,345.2 L579.5,345.3 L580.5,345.3 L581.5,345.3 L582.5,345.3 L583.5,345.2 L584.5,345.1 L585.5,345 L586.5,344.9 L587.5,344.7 L588.5,344.5 L589.5,344.3 L590.5,344 L591.5,343.7 L592.5,343.4 L593.5,343 L594.5,342.6 L595.5,342.2 L596.5,341.7 L597.5,341.2 L598.5,340.6 L599.5,340 L600.5,339.4 L601.5,338.7 L602.5,338" stroke="#008000" stroke-opacity="0.6" stroke-width="1.2" stroke-dasharray="3.8 1.8"/><path d="M337.5,335.7 L338.5,334.9 L339.5,334.1 L340.5,333.2 L341.5,332.4 L342.5,331.5 L343.5,330.7 L344.5,329.8 L345.5,329 L346.5,328.1 L347.5,327.3 L348.5,326.5 L349.5,325.7 L350.5,324.8 L351.5,323.9 L352.5,323 L353.5,322.1 L354.5,321.1 L355.5,320.1 L356.5,319.1 L357.5,318.1 L358.5,317.1 L359.5,316.1 L360.5,315 L361.5,314 L362.5,312.9 L363.5,311.8 L364.5,310.7 L365.5,309.6 L366.5,308.5 L367.5,307.3 L368.5,306.2 L369.5,305 L370.5,303.9 L371.5,302.7 L372.5,301.6 L373.5,300.5 L374.5,299.4 L375.5,298.3 L376.5,297.2 L377.5,296.1 L378.5,295 L379.5,293.8 L380.5,292.7 L381.5,291.6 L382.5,290.4 L383.5,289.3 L384.5,288.1 L385.5,287 L386.5,285.8 L387.5,284.7 L388.5,283.6 L389.5,282.5 L390.5,281.4 L391.5,280.4 L392.5,279.3 L393.5,278.3 L394.5,277.4 L395.5,276.4 L396.5,275.5 L397.5,274.6 L398.5,273.7 L399.5,272.8 L400.5,271.9 L401.5,271.1 L402.5,270.3 L403.5,269.5 L404.5,268.7 L405.5,267.9 L406.5,267.1 L407.5,266.4 L408.5,265.6 L409.5,264.9 L410.5,264.2 L411.5,263.5 L412.5,262.8 L413.5,262.1 L414.5,261.4 L415.5,260.8 L416.5,260.1 L417.5,259.5 L418.5,258.9 L419.5,258.3 L420.5,257.7 L421.5,257.1 L422.5,256.6 L423.5,256 L424.5,255.5 L425.5,255 L426.5,254.5 L427.5,254 L428.5,253.6 L429.5,253.2 L430.5,252.8 L431.5,252.4 L432.5,252.1 L433.5,251.7 L434.5,251.4 L435.5,251.2 L436.5,250.9 L437.5,250.7 L438.5,250.6 L439.5,250.4 L440.5,250.3 L441.5,250.2 L442.5,250.2 L443.5,250.2 L444.5,250.2 L445.5,250.3 L446.5,250.4 L447.5,250.5 L448.5,250.7 L449.5,250.8 L450.5,251 L451.5,251.3 L452.5,251.5 L453.5,251.8 L454.5,252.1 L455.5,252.4 L456.5,252.8 L457.5,253.1 L458.5,253.5 L459.5,253.9 L460.5,254.3 L461.5,254.7 L462.5,255.1 L463.5,255.6 L464.5,256.1 L465.5,256.6 L466.5,257.1 L467.5,257.7 L468.5,258.3 L469.5,258.9 L470.5,259.5 L471.5,260.2 L472.5,260.9 L473.5,261.6 L474.5,262.4 L475.5,263.2 L476.5,264 L477.5,264.9 L478.5,265.8 L479.5,266.7 L480.5,267.6 L481.5,268.6 L482.5,269.6 L483.5,270.6 L484.5,271.6 L485.5,272.6 L486.5,273.6 L487.5,274.7 L488.5,275.7 L489.5,276.8 L490.5,277.9 L491.5,278.9 L492.5,280 L493.5,281.1 L494.5,282.1 L495.5,283.2 L496.5,284.2 L497.5,285.3 L498.5,286.3 L499.5,287.3 L500.5,288.4 L501.5,289.4 L502.5,290.4 L503.5,291.4 L504.5,292.4 L505.5,293.4 L506.5,294.4 L507.5,295.4 L508.5,296.4 L509.5,297.5 L510.5,298.5 L511.5,299.5 L512.5,300.5 L513.5,301.5 L514.5,302.5 L515.5,303.5 L516.5,304.6 L517.5,305.6 L518.5,306.6 L519.5,307.6 L520.5,308.6 L521.5,309.7 L522.5,310.7 L523.5,311.7 L524.5,312.7 L525.5,313.7 L526.5,314.6 L527.5,315.6 L528.5,316.6 L529.5,317.5 L530.5,318.5 L531.5,319.4 L532.5,320.3 L533.5,321.3 L534.5,322.1 L535.5,323 L536.5,323.9 L537.5,324.7 L538.5,325.6 L539.5,326.4 L540.5,327.2 L541.5,328 L542.5,328.7 L543.5,329.5 L544.5,330.2 L545.5,330.9 L546.5,331.6 L547.5,332.3 L548.5,332.9 L549.5,333.5 L550.5,334.1 L551.5,334.7 L552.5,335.2 L553.5,335.8 L554.5,336.3 L555.5,336.8 L556.5,337.3 L557.5,337.7 L558.5,338.1 L559.5,338.6 L560.5,339 L561.5,339.3 L562.5,339.7 L563.5,340 L564.5,340.4 L565.5,340.7 L566.5,340.9 L567.5,341.2 L568.5,341.5 L569.5,341.7 L570.5,341.9 L571.5,342.1 L572.5,342.3 L573.5,342.4 L574.5,342.6 L575.5,342.7 L576.5,342.8 L577.5,342.9 L578.5,342.9 L579.5,343 L580.5,343 L581.5,343 L582.5,342.9 L583.5,342.9 L584.5,342.8 L585.5,342.7 L586.5,342.6 L587.5,342.4 L588.5,342.2 L589.5,342 L590.5,341.7 L591.5,341.4 L592.5,341.1 L593.5,340.7 L594.5,340.3 L595.5,339.9 L596.5,339.4 L597.5,338.9 L598.5,338.3 L599.5,337.7 L600.5,337.1 L601.5,336.4 L602.5,335.7" stroke="#008000" stroke-opacity="0.6" stroke-width="1.1"/><path d="M337.5,336.2 L338.5,335.5 L339.5,334.9 L340.5,334.2 L341.5,333.5 L342.5,332.9 L343.5,332.2 L344.5,331.5 L345.5,330.9 L346.5,330.2 L347.5,329.6 L348.5,329 L349.5,328.3 L350.5,327.6 L351.5,326.9 L352.5,326.1 L353.5,325.3 L354.5,324.5 L355.5,323.6 L356.5,322.8 L357.5,321.9 L358.5,321.1 L359.5,320.2 L360.5,319.3 L361.5,318.4 L362.5,317.5 L363.5,316.5 L364.5,315.6 L365.5,314.6 L366.5,313.6 L367.5,312.5 L368.5,311.5 L369.5,310.4 L370.5,309.3 L371.5,308.3 L372.5,307.2 L373.5,306.1 L374.5,305 L375.5,304 L376.5,302.9 L377.5,301.8 L378.5,300.7 L379.5,299.6 L380.5,298.5 L381.5,297.4 L382.5,296.3 L383.5,295.2 L384.5,294.1 L385.5,293 L386.5,291.9 L387.5,290.9 L388.5,289.8 L389.5,288.8 L390.5,287.8 L391.5,286.9 L392.5,285.9 L393.5,285 L394.5,284.1 L395.5,283.3 L396.5,282.4 L397.5,281.6 L398.5,280.8 L399.5,280.1 L400.5,279.3 L401.5,278.6 L402.5,277.8 L403.5,277.1 L404.5,276.4 L405.5,275.7 L406.5,275 L407.5,274.4 L408.5,273.7 L409.5,273 L410.5,272.4 L411.5,271.7 L412.5,271.1 L413.5,270.4 L414.5,269.8 L415.5,269.2 L416.5,268.6 L417.5,268 L418.5,267.3 L419.5,266.7 L420.5,266.2 L421.5,265.6 L422.5,265 L423.5,264.4 L424.5,263.9 L425.5,263.3 L426.5,262.8 L427.5,262.3 L428.5,261.8 L429.5,261.3 L430.5,260.9 L431.5,260.4 L432.5,260 L433.5,259.6 L434.5,259.2 L435.5,258.9 L436.5,258.6 L437.5,258.3 L438.5,258 L439.5,257.8 L440.5,257.6 L441.5,257.4 L442.5,257.3 L443.5,257.2 L444.5,257.2 L445.5,257.1 L446.5,257.2 L447.5,257.2 L448.5,257.3 L449.5,257.4 L450.5,257.5 L451.5,257.6 L452.5,257.8 L453.5,258 L454.5,258.2 L455.5,258.4 L456.5,258.6 L457.5,258.8 L458.5,259 L459.5,259.3 L460.5,259.5 L461.5,259.8 L462.5,260.1 L463.5,260.4 L464.5,260.7 L465.5,261.1 L466.5,261.4 L467.5,261.8 L468.5,262.2 L469.5,262.7 L470.5,263.2 L471.5,263.7 L472.5,264.2 L473.5,264.8 L474.5,265.4 L475.5,266 L476.5,266.7 L477.5,267.4 L478.5,268.1 L479.5,268.9 L480.5,269.7 L481.5,270.6 L482.5,271.4 L483.5,272.3 L484.5,273.2 L485.5,274.2 L486.5,275.1 L487.5,276.1 L488.5,277 L489.5,278 L490.5,279 L491.5,280 L492.5,281 L493.5,282 L494.5,283 L495.5,284 L496.5,285 L497.5,286 L498.5,287 L499.5,287.9 L500.5,288.9 L501.5,289.9 L502.5,290.9 L503.5,291.8 L504.5,292.8 L505.5,293.7 L506.5,294.7 L507.5,295.6 L508.5,296.6 L509.5,297.5 L510.5,298.5 L511.5,299.4 L512.5,300.3 L513.5,301.3 L514.5,302.2 L515.5,303.1 L516.5,304.1 L517.5,305 L518.5,305.9 L519.5,306.8 L520.5,307.7 L521.5,308.7 L522.5,309.6 L523.5,310.5 L524.5,311.4 L525.5,312.3 L526.5,313.3 L527.5,314.2 L528.5,315.1 L529.5,316.1 L530.5,317 L531.5,317.9 L532.5,318.9 L533.5,319.8 L534.5,320.8 L535.5,321.7 L536.5,322.6 L537.5,323.6 L538.5,324.5 L539.5,325.4 L540.5,326.2 L541.5,327.1 L542.5,327.9 L543.5,328.7 L544.5,329.5 L545.5,330.3 L546.5,331 L547.5,331.7 L548.5,332.4 L549.5,333 L550.5,333.6 L551.5,334.2 L552.5,334.7 L553.5,335.2 L554.5,335.7 L555.5,336.1 L556.5,336.5 L557.5,336.9 L558.5,337.3 L559.5,337.6 L560.5,338 L561.5,338.3 L562.5,338.6 L563.5,338.9 L564.5,339.2 L565.5,339.5 L566.5,339.8 L567.5,340.1 L568.5,340.3 L569.5,340.6 L570.5,340.9 L571.5,341.1 L572.5,341.4 L573.5,341.6 L574.5,341.8 L575.5,342 L576.5,342.1 L577.5,342.3 L578.5,342.4 L579.5,342.5 L580.5,342.5 L581.5,342.6 L582.5,342.6 L583.5,342.5 L584.5,342.5 L585.5,342.4 L586.5,342.2 L587.5,342.1 L588.5,341.9 L589.5,341.7 L590.5,341.4 L591.5,341.2 L592.5,340.8 L593.5,340.5 L594.5,340.1 L595.5,339.8 L596.5,339.3 L597.5,338.9 L598.5,338.4 L599.5,337.9 L600.5,337.3 L601.5,336.8 L602.5,336.2" stroke="#ff0000" stroke-opacity="0.6" stroke-width="1.2" stroke-dasharray="3.8 1.8"/><path d="M337.5,341.8 L338.5,341.2 L339.5,340.5 L340.5,339.9 L341.5,339.2 L342.5,338.5 L343.5,337.8 L344.5,337.2 L345.5,336.5 L346.5,335.9 L347.5,335.2 L348.5,334.6 L349.5,333.9 L350.5,333.3 L351.5,332.5 L352.5,331.8 L353.5,331 L354.5,330.1 L355.5,329.3 L356.5,328.4 L357.5,327.6 L358.5,326.7 L359.5,325.8 L360.5,324.9 L361.5,324 L362.5,323.1 L363.5,322.2 L364.5,321.2 L365.5,320.2 L366.5,319.2 L367.5,318.1 L368.5,317.1 L369.5,316 L370.5,315 L371.5,313.9 L372.5,312.8 L373.5,311.8 L374.5,310.7 L375.5,309.6 L376.5,308.5 L377.5,307.4 L378.5,306.3 L379.5,305.2 L380.5,304.1 L381.5,303 L382.5,301.9 L383.5,300.8 L384.5,299.7 L385.5,298.6 L386.5,297.6 L387.5,296.5 L388.5,295.5 L389.5,294.4 L390.5,293.5 L391.5,292.5 L392.5,291.5 L393.5,290.6 L394.5,289.8 L395.5,288.9 L396.5,288.1 L397.5,287.3 L398.5,286.5 L399.5,285.7 L400.5,284.9 L401.5,284.2 L402.5,283.5 L403.5,282.8 L404.5,282.1 L405.5,281.4 L406.5,280.7 L407.5,280 L408.5,279.3 L409.5,278.7 L410.5,278 L411.5,277.3 L412.5,276.7 L413.5,276.1 L414.5,275.4 L415.5,274.8 L416.5,274.2 L417.5,273.6 L418.5,273 L419.5,272.4 L420.5,271.8 L421.5,271.2 L422.5,270.6 L423.5,270.1 L424.5,269.5 L425.5,269 L426.5,268.5 L427.5,267.9 L428.5,267.5 L429.5,267 L430.5,266.5 L431.5,266.1 L432.5,265.6 L433.5,265.2 L434.5,264.9 L435.5,264.5 L436.5,264.2 L437.5,263.9 L438.5,263.6 L439.5,263.4 L440.5,263.2 L441.5,263.1 L442.5,262.9 L443.5,262.8 L444.5,262.8 L445.5,262.8 L446.5,262.8 L447.5,262.8 L448.5,262.9 L449.5,263 L450.5,263.1 L451.5,263.3 L452.5,263.4 L453.5,263.6 L454.5,263.8 L455.5,264 L456.5,264.2 L457.5,264.4 L458.5,264.7 L459.5,264.9 L460.5,265.2 L461.5,265.4 L462.5,265.7 L463.5,266 L464.5,266.4 L465.5,266.7 L466.5,267.1 L467.5,267.5 L468.5,267.9 L469.5,268.3 L470.5,268.8 L471.5,269.3 L472.5,269.8 L473.5,270.4 L474.5,271 L475.5,271.6 L476.5,272.3 L477.5,273 L478.5,273.8 L479.5,274.6 L480.5,275.4 L481.5,276.2 L482.5,277.1 L483.5,278 L484.5,278.9 L485.5,279.8 L486.5,280.7 L487.5,281.7 L488.5,282.7 L489.5,283.7 L490.5,284.6 L491.5,285.6 L492.5,286.6 L493.5,287.6 L494.5,288.6 L495.5,289.6 L496.5,290.6 L497.5,291.6 L498.5,292.6 L499.5,293.6 L500.5,294.5 L501.5,295.5 L502.5,296.5 L503.5,297.5 L504.5,298.4 L505.5,299.4 L506.5,300.3 L507.5,301.3 L508.5,302.2 L509.5,303.2 L510.5,304.1 L511.5,305 L512.5,306 L513.5,306.9 L514.5,307.8 L515.5,308.8 L516.5,309.7 L517.5,310.6 L518.5,311.5 L519.5,312.5 L520.5,313.4 L521.5,314.3 L522.5,315.2 L523.5,316.1 L524.5,317.1 L525.5,318 L526.5,318.9 L527.5,319.8 L528.5,320.8 L529.5,321.7 L530.5,322.6 L531.5,323.6 L532.5,324.5 L533.5,325.5 L534.5,326.4 L535.5,327.3 L536.5,328.3 L537.5,329.2 L538.5,330.1 L539.5,331 L540.5,331.9 L541.5,332.7 L542.5,333.6 L543.5,334.4 L544.5,335.2 L545.5,335.9 L546.5,336.7 L547.5,337.4 L548.5,338 L549.5,338.7 L550.5,339.2 L551.5,339.8 L552.5,340.3 L553.5,340.8 L554.5,341.3 L555.5,341.7 L556.5,342.1 L557.5,342.5 L558.5,342.9 L559.5,343.3 L560.5,343.6 L561.5,343.9 L562.5,344.2 L563.5,344.5 L564.5,344.8 L565.5,345.1 L566.5,345.4 L567.5,345.7 L568.5,346 L569.5,346.2 L570.5,346.5 L571.5,346.8 L572.5,347 L573.5,347.2 L574.5,347.4 L575.5,347.6 L576.5,347.8 L577.5,347.9 L578.5,348 L579.5,348.1 L580.5,348.2 L581.5,348.2 L582.5,348.2 L583.5,348.1 L584.5,348.1 L585.5,348 L586.5,347.9 L587.5,347.7 L588.5,347.5 L589.5,347.3 L590.5,347.1 L591.5,346.8 L592.5,346.5 L593.5,346.1 L594.5,345.8 L595.5,345.4 L596.5,345 L597.5,344.5 L598.5,344 L599.5,343.5 L600.5,343 L601.5,342.4 L602.5,341.8" stroke="#ff0000" stroke-opacity="0.6" stroke-width="1.2" stroke-dasharray="3.8 1.8"/><path d="M337.5,339 L338.5,338.4 L339.5,337.7 L340.5,337 L341.5,336.4 L342.5,335.7 L343.5,335 L344.5,334.3 L345.5,333.7 L346.5,333.1 L347.5,332.4 L348.5,331.8 L349.5,331.1 L350.5,330.4 L351.5,329.7 L352.5,328.9 L353.5,328.1 L354.5,327.3 L355.5,326.5 L356.5,325.6 L357.5,324.7 L358.5,323.9 L359.5,323 L360.5,322.1 L361.5,321.2 L362.5,320.3 L363.5,319.4 L364.5,318.4 L365.5,317.4 L366.5,316.4 L367.5,315.3 L368.5,314.3 L369.5,313.2 L370.5,312.1 L371.5,311.1 L372.5,310 L373.5,308.9 L374.5,307.9 L375.5,306.8 L376.5,305.7 L377.5,304.6 L378.5,303.5 L379.5,302.4 L380.5,301.3 L381.5,300.2 L382.5,299.1 L383.5,298 L384.5,296.9 L385.5,295.8 L386.5,294.8 L387.5,293.7 L388.5,292.7 L389.5,291.6 L390.5,290.6 L391.5,289.7 L392.5,288.7 L393.5,287.8 L394.5,286.9 L395.5,286.1 L396.5,285.3 L397.5,284.4 L398.5,283.6 L399.5,282.9 L400.5,282.1 L401.5,281.4 L402.5,280.7 L403.5,279.9 L404.5,279.2 L405.5,278.5 L406.5,277.9 L407.5,277.2 L408.5,276.5 L409.5,275.8 L410.5,275.2 L411.5,274.5 L412.5,273.9 L413.5,273.3 L414.5,272.6 L415.5,272 L416.5,271.4 L417.5,270.8 L418.5,270.2 L419.5,269.6 L420.5,269 L421.5,268.4 L422.5,267.8 L423.5,267.3 L424.5,266.7 L425.5,266.2 L426.5,265.6 L427.5,265.1 L428.5,264.6 L429.5,264.2 L430.5,263.7 L431.5,263.3 L432.5,262.8 L433.5,262.4 L434.5,262.1 L435.5,261.7 L436.5,261.4 L437.5,261.1 L438.5,260.8 L439.5,260.6 L440.5,260.4 L441.5,260.2 L442.5,260.1 L443.5,260 L444.5,260 L445.5,260 L446.5,260 L447.5,260 L448.5,260.1 L449.5,260.2 L450.5,260.3 L451.5,260.4 L452.5,260.6 L453.5,260.8 L454.5,261 L455.5,261.2 L456.5,261.4 L457.5,261.6 L458.5,261.9 L459.5,262.1 L460.5,262.4 L461.5,262.6 L462.5,262.9 L463.5,263.2 L464.5,263.5 L465.5,263.9 L466.5,264.3 L467.5,264.6 L468.5,265.1 L469.5,265.5 L470.5,266 L471.5,266.5 L472.5,267 L473.5,267.6 L474.5,268.2 L475.5,268.8 L476.5,269.5 L477.5,270.2 L478.5,271 L479.5,271.7 L480.5,272.6 L481.5,273.4 L482.5,274.3 L483.5,275.1 L484.5,276.1 L485.5,277 L486.5,277.9 L487.5,278.9 L488.5,279.9 L489.5,280.8 L490.5,281.8 L491.5,282.8 L492.5,283.8 L493.5,284.8 L494.5,285.8 L495.5,286.8 L496.5,287.8 L497.5,288.8 L498.5,289.8 L499.5,290.8 L500.5,291.7 L501.5,292.7 L502.5,293.7 L503.5,294.6 L504.5,295.6 L505.5,296.6 L506.5,297.5 L507.5,298.5 L508.5,299.4 L509.5,300.4 L510.5,301.3 L511.5,302.2 L512.5,303.2 L513.5,304.1 L514.5,305 L515.5,306 L516.5,306.9 L517.5,307.8 L518.5,308.7 L519.5,309.6 L520.5,310.6 L521.5,311.5 L522.5,312.4 L523.5,313.3 L524.5,314.2 L525.5,315.2 L526.5,316.1 L527.5,317 L528.5,317.9 L529.5,318.9 L530.5,319.8 L531.5,320.8 L532.5,321.7 L533.5,322.6 L534.5,323.6 L535.5,324.5 L536.5,325.5 L537.5,326.4 L538.5,327.3 L539.5,328.2 L540.5,329.1 L541.5,329.9 L542.5,330.7 L543.5,331.6 L544.5,332.4 L545.5,333.1 L546.5,333.8 L547.5,334.5 L548.5,335.2 L549.5,335.8 L550.5,336.4 L551.5,337 L552.5,337.5 L553.5,338 L554.5,338.5 L555.5,338.9 L556.5,339.3 L557.5,339.7 L558.5,340.1 L559.5,340.4 L560.5,340.8 L561.5,341.1 L562.5,341.4 L563.5,341.7 L564.5,342 L565.5,342.3 L566.5,342.6 L567.5,342.9 L568.5,343.2 L569.5,343.4 L570.5,343.7 L571.5,343.9 L572.5,344.2 L573.5,344.4 L574.5,344.6 L575.5,344.8 L576.5,345 L577.5,345.1 L578.5,345.2 L579.5,345.3 L580.5,345.4 L581.5,345.4 L582.5,345.4 L583.5,345.3 L584.5,345.3 L585.5,345.2 L586.5,345 L587.5,344.9 L588.5,344.7 L589.5,344.5 L590.5,344.2 L591.5,344 L592.5,343.7 L593.5,343.3 L594.5,343 L595.5,342.6 L596.5,342.1 L597.5,341.7 L598.5,341.2 L599.5,340.7 L600.5,340.2 L601.5,339.6 L602.5,339" stroke="#ff0000" stroke-opacity="0.6" stroke-width="1.1"/><path d="M337.5,331 L338.5,330.3 L339.5,329.4 L340.5,328.6 L341.5,327.7 L342.5,326.9 L343.5,326 L344.5,325.2 L345.5,324.3 L346.5,323.5 L347.5,322.7 L348.5,321.9 L349.5,321 L350.5,320.2 L351.5,319.3 L352.5,318.4 L353.5,317.4 L354.5,316.5 L355.5,315.5 L356.5,314.5 L357.5,313.5 L358.5,312.5 L359.5,311.4 L360.5,310.4 L361.5,309.3 L362.5,308.3 L363.5,307.2 L364.5,306.1 L365.5,305 L366.5,303.8 L367.5,302.7 L368.5,301.5 L369.5,300.4 L370.5,299.2 L371.5,298.1 L372.5,297 L373.5,295.9 L374.5,294.8 L375.5,293.6 L376.5,292.5 L377.5,291.4 L378.5,290.3 L379.5,289.2 L380.5,288.1 L381.5,286.9 L382.5,285.8 L383.5,284.6 L384.5,283.5 L385.5,282.3 L386.5,281.2 L387.5,280.1 L388.5,279 L389.5,277.9 L390.5,276.8 L391.5,275.7 L392.5,274.7 L393.5,273.7 L394.5,272.7 L395.5,271.8 L396.5,270.8 L397.5,269.9 L398.5,269 L399.5,268.1 L400.5,267.3 L401.5,266.4 L402.5,265.6 L403.5,264.8 L404.5,264 L405.5,263.2 L406.5,262.5 L407.5,261.7 L408.5,261 L409.5,260.2 L410.5,259.5 L411.5,258.8 L412.5,258.1 L413.5,257.5 L414.5,256.8 L415.5,256.1 L416.5,255.5 L417.5,254.9 L418.5,254.2 L419.5,253.6 L420.5,253.1 L421.5,252.5 L422.5,251.9 L423.5,251.4 L424.5,250.9 L425.5,250.3 L426.5,249.9 L427.5,249.4 L428.5,249 L429.5,248.5 L430.5,248.1 L431.5,247.8 L432.5,247.4 L433.5,247.1 L434.5,246.8 L435.5,246.5 L436.5,246.3 L437.5,246.1 L438.5,245.9 L439.5,245.8 L440.5,245.7 L441.5,245.6 L442.5,245.6 L443.5,245.6 L444.5,245.6 L445.5,245.6 L446.5,245.7 L447.5,245.9 L448.5,246 L449.5,246.2 L450.5,246.4 L451.5,246.6 L452.5,246.9 L453.5,247.2 L454.5,247.5 L455.5,247.8 L456.5,248.1 L457.5,248.5 L458.5,248.8 L459.5,249.2 L460.5,249.6 L461.5,250.1 L462.5,250.5 L463.5,251 L464.5,251.5 L465.5,252 L466.5,252.5 L467.5,253.1 L468.5,253.7 L469.5,254.3 L470.5,254.9 L471.5,255.6 L472.5,256.3 L473.5,257 L474.5,257.8 L475.5,258.6 L476.5,259.4 L477.5,260.3 L478.5,261.1 L479.5,262.1 L480.5,263 L481.5,263.9 L482.5,264.9 L483.5,265.9 L484.5,266.9 L485.5,268 L486.5,269 L487.5,270.1 L488.5,271.1 L489.5,272.2 L490.5,273.2 L491.5,274.3 L492.5,275.4 L493.5,276.4 L494.5,277.5 L495.5,278.6 L496.5,279.6 L497.5,280.6 L498.5,281.7 L499.5,282.7 L500.5,283.7 L501.5,284.7 L502.5,285.8 L503.5,286.8 L504.5,287.8 L505.5,288.8 L506.5,289.8 L507.5,290.8 L508.5,291.8 L509.5,292.8 L510.5,293.8 L511.5,294.8 L512.5,295.8 L513.5,296.9 L514.5,297.9 L515.5,298.9 L516.5,299.9 L517.5,300.9 L518.5,302 L519.5,303 L520.5,304 L521.5,305 L522.5,306 L523.5,307 L524.5,308 L525.5,309 L526.5,310 L527.5,311 L528.5,312 L529.5,312.9 L530.5,313.9 L531.5,314.8 L532.5,315.7 L533.5,316.6 L534.5,317.5 L535.5,318.4 L536.5,319.3 L537.5,320.1 L538.5,320.9 L539.5,321.7 L540.5,322.5 L541.5,323.3 L542.5,324.1 L543.5,324.8 L544.5,325.6 L545.5,326.3 L546.5,326.9 L547.5,327.6 L548.5,328.3 L549.5,328.9 L550.5,329.5 L551.5,330.1 L552.5,330.6 L553.5,331.1 L554.5,331.7 L555.5,332.2 L556.5,332.6 L557.5,333.1 L558.5,333.5 L559.5,333.9 L560.5,334.3 L561.5,334.7 L562.5,335.1 L563.5,335.4 L564.5,335.7 L565.5,336 L566.5,336.3 L567.5,336.6 L568.5,336.8 L569.5,337.1 L570.5,337.3 L571.5,337.5 L572.5,337.6 L573.5,337.8 L574.5,337.9 L575.5,338.1 L576.5,338.2 L577.5,338.2 L578.5,338.3 L579.5,338.3 L580.5,338.3 L581.5,338.3 L582.5,338.3 L583.5,338.2 L584.5,338.2 L585.5,338.1 L586.5,337.9 L587.5,337.7 L588.5,337.5 L589.5,337.3 L590.5,337.1 L591.5,336.8 L592.5,336.4 L593.5,336.1 L594.5,335.7 L595.5,335.2 L596.5,334.8 L597.5,334.2 L598.5,333.7 L599.5,333.1 L600.5,332.4 L601.5,331.8 L602.5,331" stroke="#0000ff" stroke-opacity="0.6" stroke-width="1.2" stroke-dasharray="3.8 1.8"/><path d="M337.5,336.3 L338.5,335.6 L339.5,334.7 L340.5,333.9 L341.5,333 L342.5,332.2 L343.5,331.3 L344.5,330.5 L345.5,329.6 L346.5,328.8 L347.5,328 L348.5,327.2 L349.5,326.3 L350.5,325.5 L351.5,324.6 L352.5,323.7 L353.5,322.7 L354.5,321.8 L355.5,320.8 L356.5,319.8 L357.5,318.8 L358.5,317.8 L359.5,316.7 L360.5,315.7 L361.5,314.6 L362.5,313.6 L363.5,312.5 L364.5,311.4 L365.5,310.3 L366.5,309.1 L367.5,308 L368.5,306.8 L369.5,305.7 L370.5,304.5 L371.5,303.4 L372.5,302.3 L373.5,301.2 L374.5,300.1 L375.5,298.9 L376.5,297.8 L377.5,296.7 L378.5,295.6 L379.5,294.5 L380.5,293.4 L381.5,292.2 L382.5,291.1 L383.5,289.9 L384.5,288.8 L385.5,287.6 L386.5,286.5 L387.5,285.4 L388.5,284.3 L389.5,283.2 L390.5,282.1 L391.5,281 L392.5,280 L393.5,279 L394.5,278 L395.5,277.1 L396.5,276.1 L397.5,275.2 L398.5,274.3 L399.5,273.4 L400.5,272.6 L401.5,271.7 L402.5,270.9 L403.5,270.1 L404.5,269.3 L405.5,268.5 L406.5,267.8 L407.5,267 L408.5,266.3 L409.5,265.5 L410.5,264.8 L411.5,264.1 L412.5,263.4 L413.5,262.8 L414.5,262.1 L415.5,261.4 L416.5,260.8 L417.5,260.2 L418.5,259.5 L419.5,258.9 L420.5,258.4 L421.5,257.8 L422.5,257.2 L423.5,256.7 L424.5,256.2 L425.5,255.6 L426.5,255.2 L427.5,254.7 L428.5,254.3 L429.5,253.8 L430.5,253.4 L431.5,253.1 L432.5,252.7 L433.5,252.4 L434.5,252.1 L435.5,251.8 L436.5,251.6 L437.5,251.4 L438.5,251.2 L439.5,251.1 L440.5,251 L441.5,250.9 L442.5,250.9 L443.5,250.9 L444.5,250.9 L445.5,250.9 L446.5,251 L447.5,251.2 L448.5,251.3 L449.5,251.5 L450.5,251.7 L451.5,251.9 L452.5,252.2 L453.5,252.5 L454.5,252.8 L455.5,253.1 L456.5,253.4 L457.5,253.8 L458.5,254.1 L459.5,254.5 L460.5,254.9 L461.5,255.4 L462.5,255.8 L463.5,256.3 L464.5,256.8 L465.5,257.3 L466.5,257.8 L467.5,258.4 L468.5,259 L469.5,259.6 L470.5,260.2 L471.5,260.9 L472.5,261.6 L473.5,262.3 L474.5,263.1 L475.5,263.9 L476.5,264.7 L477.5,265.6 L478.5,266.4 L479.5,267.4 L480.5,268.3 L481.5,269.2 L482.5,270.2 L483.5,271.2 L484.5,272.2 L485.5,273.3 L486.5,274.3 L487.5,275.4 L488.5,276.4 L489.5,277.5 L490.5,278.5 L491.5,279.6 L492.5,280.7 L493.5,281.7 L494.5,282.8 L495.5,283.9 L496.5,284.9 L497.5,285.9 L498.5,287 L499.5,288 L500.5,289 L501.5,290 L502.5,291.1 L503.5,292.1 L504.5,293.1 L505.5,294.1 L506.5,295.1 L507.5,296.1 L508.5,297.1 L509.5,298.1 L510.5,299.1 L511.5,300.1 L512.5,301.1 L513.5,302.2 L514.5,303.2 L515.5,304.2 L516.5,305.2 L517.5,306.2 L518.5,307.3 L519.5,308.3 L520.5,309.3 L521.5,310.3 L522.5,311.3 L523.5,312.3 L524.5,313.3 L525.5,314.3 L526.5,315.3 L527.5,316.3 L528.5,317.3 L529.5,318.2 L530.5,319.2 L531.5,320.1 L532.5,321 L533.5,321.9 L534.5,322.8 L535.5,323.7 L536.5,324.6 L537.5,325.4 L538.5,326.2 L539.5,327 L540.5,327.8 L541.5,328.6 L542.5,329.4 L543.5,330.1 L544.5,330.9 L545.5,331.6 L546.5,332.2 L547.5,332.9 L548.5,333.6 L549.5,334.2 L550.5,334.8 L551.5,335.4 L552.5,335.9 L553.5,336.4 L554.5,337 L555.5,337.5 L556.5,337.9 L557.5,338.4 L558.5,338.8 L559.5,339.2 L560.5,339.6 L561.5,340 L562.5,340.4 L563.5,340.7 L564.5,341 L565.5,341.3 L566.5,341.6 L567.5,341.9 L568.5,342.1 L569.5,342.4 L570.5,342.6 L571.5,342.8 L572.5,342.9 L573.5,343.1 L574.5,343.2 L575.5,343.4 L576.5,343.5 L577.5,343.5 L578.5,343.6 L579.5,343.6 L580.5,343.6 L581.5,343.6 L582.5,343.6 L583.5,343.5 L584.5,343.5 L585.5,343.4 L586.5,343.2 L587.5,343 L588.5,342.8 L589.5,342.6 L590.5,342.4 L591.5,342.1 L592.5,341.7 L593.5,341.4 L594.5,341 L595.5,340.5 L596.5,340.1 L597.5,339.5 L598.5,339 L599.5,338.4 L600.5,337.7 L601.5,337.1 L602.5,336.3" stroke="#0000ff" stroke-opacity="0.6" stroke-width="1.2" stroke-dasharray="3.8 1.8"/><path d="M337.5,333.7 L338.5,332.9 L339.5,332.1 L340.5,331.3 L341.5,330.4 L342.5,329.5 L343.5,328.7 L344.5,327.8 L345.5,327 L346.5,326.1 L347.5,325.3 L348.5,324.5 L349.5,323.7 L350.5,322.8 L351.5,322 L352.5,321 L353.5,320.1 L354.5,319.1 L355.5,318.1 L356.5,317.1 L357.5,316.1 L358.5,315.1 L359.5,314.1 L360.5,313 L361.5,312 L362.5,310.9 L363.5,309.8 L364.5,308.7 L365.5,307.6 L366.5,306.5 L367.5,305.3 L368.5,304.2 L369.5,303 L370.5,301.9 L371.5,300.8 L372.5,299.6 L373.5,298.5 L374.5,297.4 L375.5,296.3 L376.5,295.2 L377.5,294.1 L378.5,293 L379.5,291.8 L380.5,290.7 L381.5,289.6 L382.5,288.4 L383.5,287.3 L384.5,286.1 L385.5,285 L386.5,283.8 L387.5,282.7 L388.5,281.6 L389.5,280.5 L390.5,279.4 L391.5,278.4 L392.5,277.4 L393.5,276.4 L394.5,275.4 L395.5,274.4 L396.5,273.5 L397.5,272.6 L398.5,271.7 L399.5,270.8 L400.5,269.9 L401.5,269.1 L402.5,268.3 L403.5,267.5 L404.5,266.7 L405.5,265.9 L406.5,265.1 L407.5,264.4 L408.5,263.6 L409.5,262.9 L410.5,262.2 L411.5,261.5 L412.5,260.8 L413.5,260.1 L414.5,259.4 L415.5,258.8 L416.5,258.1 L417.5,257.5 L418.5,256.9 L419.5,256.3 L420.5,255.7 L421.5,255.1 L422.5,254.6 L423.5,254 L424.5,253.5 L425.5,253 L426.5,252.5 L427.5,252.1 L428.5,251.6 L429.5,251.2 L430.5,250.8 L431.5,250.4 L432.5,250.1 L433.5,249.8 L434.5,249.5 L435.5,249.2 L436.5,249 L437.5,248.8 L438.5,248.6 L439.5,248.4 L440.5,248.3 L441.5,248.3 L442.5,248.2 L443.5,248.2 L444.5,248.2 L445.5,248.3 L446.5,248.4 L447.5,248.5 L448.5,248.7 L449.5,248.8 L450.5,249.1 L451.5,249.3 L452.5,249.5 L453.5,249.8 L454.5,250.1 L455.5,250.4 L456.5,250.8 L457.5,251.1 L458.5,251.5 L459.5,251.9 L460.5,252.3 L461.5,252.7 L462.5,253.1 L463.5,253.6 L464.5,254.1 L465.5,254.6 L466.5,255.2 L467.5,255.7 L468.5,256.3 L469.5,256.9 L470.5,257.6 L471.5,258.2 L472.5,258.9 L473.5,259.7 L474.5,260.4 L475.5,261.2 L476.5,262 L477.5,262.9 L478.5,263.8 L479.5,264.7 L480.5,265.6 L481.5,266.6 L482.5,267.6 L483.5,268.6 L484.5,269.6 L485.5,270.6 L486.5,271.7 L487.5,272.7 L488.5,273.8 L489.5,274.8 L490.5,275.9 L491.5,277 L492.5,278 L493.5,279.1 L494.5,280.2 L495.5,281.2 L496.5,282.3 L497.5,283.3 L498.5,284.3 L499.5,285.4 L500.5,286.4 L501.5,287.4 L502.5,288.4 L503.5,289.4 L504.5,290.4 L505.5,291.4 L506.5,292.4 L507.5,293.5 L508.5,294.5 L509.5,295.5 L510.5,296.5 L511.5,297.5 L512.5,298.5 L513.5,299.5 L514.5,300.5 L515.5,301.5 L516.5,302.6 L517.5,303.6 L518.5,304.6 L519.5,305.6 L520.5,306.7 L521.5,307.7 L522.5,308.7 L523.5,309.7 L524.5,310.7 L525.5,311.7 L526.5,312.7 L527.5,313.6 L528.5,314.6 L529.5,315.6 L530.5,316.5 L531.5,317.4 L532.5,318.4 L533.5,319.3 L534.5,320.2 L535.5,321 L536.5,321.9 L537.5,322.8 L538.5,323.6 L539.5,324.4 L540.5,325.2 L541.5,326 L542.5,326.7 L543.5,327.5 L544.5,328.2 L545.5,328.9 L546.5,329.6 L547.5,330.3 L548.5,330.9 L549.5,331.5 L550.5,332.1 L551.5,332.7 L552.5,333.3 L553.5,333.8 L554.5,334.3 L555.5,334.8 L556.5,335.3 L557.5,335.7 L558.5,336.2 L559.5,336.6 L560.5,337 L561.5,337.3 L562.5,337.7 L563.5,338 L564.5,338.4 L565.5,338.7 L566.5,339 L567.5,339.2 L568.5,339.5 L569.5,339.7 L570.5,339.9 L571.5,340.1 L572.5,340.3 L573.5,340.5 L574.5,340.6 L575.5,340.7 L576.5,340.8 L577.5,340.9 L578.5,340.9 L579.5,341 L580.5,341 L581.5,341 L582.5,341 L583.5,340.9 L584.5,340.8 L585.5,340.7 L586.5,340.6 L587.5,340.4 L588.5,340.2 L589.5,340 L590.5,339.7 L591.5,339.4 L592.5,339.1 L593.5,338.7 L594.5,338.3 L595.5,337.9 L596.5,337.4 L597.5,336.9 L598.5,336.3 L599.5,335.7 L600.5,335.1 L601.5,334.4 L602.5,333.7" stroke="#0000ff" stroke-opacity="0.6" stroke-width="1.1"/></g><path d="M337.5,224.7 H475.8 M337.5,224.7 V357.2 H475.8" stroke="#9a9a9a" stroke-width="1" fill="none"/><path d="M475.8,224.7 H602.5 M475.8,357.2 H602.5" stroke="#6c6c6c" stroke-width="1" fill="none"/><path d="M602,224.7 V357.2" stroke="#6c6c6c" stroke-width="1" fill="none"/><path d="M335,357.2 H337.5" stroke="#9a9a9a" stroke-width="1"/><text x="333.5" y="360.4" font-size="9.3" text-anchor="end">4</text><path d="M335,324.07 H337.5" stroke="#9a9a9a" stroke-width="1"/><text x="333.5" y="327.27" font-size="9.3" text-anchor="end">5</text><path d="M335,290.95 H337.5" stroke="#9a9a9a" stroke-width="1"/><text x="333.5" y="294.15" font-size="9.3" text-anchor="end">6</text><path d="M335,257.82 H337.5" stroke="#9a9a9a" stroke-width="1"/><text x="333.5" y="261.02" font-size="9.3" text-anchor="end">7</text><path d="M335,224.7 H337.5" stroke="#9a9a9a" stroke-width="1"/><text x="333.5" y="227.9" font-size="9.3" text-anchor="end">8</text><path d="M337.5,357.2 V359.7 M475.8,357.2 V359.7" stroke="#9a9a9a" stroke-width="1"/><text x="337.5" y="368" font-size="9.3" text-anchor="middle">Sunrise</text><text x="475.8" y="367.8" font-size="9.3" text-anchor="middle">Sunset</text><text x="470" y="377.6" font-size="9.3" text-anchor="middle">Time of day</text><text transform="translate(323.2,290.95) rotate(-90) scale(0.92,1)" font-size="10.1" text-anchor="middle">Air temperature (°C)</text><text transform="translate(309.9,216.6) scale(0.93,1)" font-size="14.5">(d)</text><rect x="378.3" y="383.6" width="184.2" height="14.5" fill="#fff" stroke="#c2c2c2" stroke-width="1.6"/><path d="M378.3,383.1 V398.6 M562.5,383.1 V398.6" stroke="#9a9a9a" stroke-width="1" fill="none"/><path d="M381.6,390.9 H405.8" stroke="#0000ff" stroke-opacity="0.55" stroke-width="1.3"/><text x="409.8" y="394.1" font-size="9.3">Control</text><path d="M449.5,390.9 H473.6" stroke="#ff0000" stroke-opacity="0.55" stroke-width="1.3"/><text x="477.9" y="394.1" font-size="9.3">Gap</text><path d="M505.5,390.9 H529.7" stroke="#008000" stroke-opacity="0.55" stroke-width="1.3"/><text x="534.1" y="394.1" font-size="9.3">Under</text></g>
<g><rect x="172.2" y="431.8" width="119.7" height="131.7" fill="#808080"/><g clip-path="url(#cpe)" fill="none"><path d="M42.3,549.4 L43.3,548.1 L44.3,546.8 L45.3,545.5 L46.3,544.2 L47.3,542.8 L48.3,541.4 L49.3,540 L50.3,538.6 L51.3,537.2 L52.3,535.7 L53.3,534.2 L54.3,532.8 L55.3,531.3 L56.3,529.7 L57.3,528.2 L58.3,526.7 L59.3,525.1 L60.3,523.6 L61.3,522 L62.3,520.5 L63.3,518.9 L64.3,517.3 L65.3,515.8 L66.3,514.2 L67.3,512.7 L68.3,511.1 L69.3,509.6 L70.3,508.1 L71.3,506.6 L72.3,505.1 L73.3,503.6 L74.3,502.2 L75.3,500.8 L76.3,499.4 L77.3,498 L78.3,496.6 L79.3,495.3 L80.3,494 L81.3,492.7 L82.3,491.5 L83.3,490.2 L84.3,489 L85.3,487.8 L86.3,486.7 L87.3,485.5 L88.3,484.4 L89.3,483.3 L90.3,482.2 L91.3,481.1 L92.3,480 L93.3,479 L94.3,477.9 L95.3,476.9 L96.3,475.9 L97.3,475 L98.3,474 L99.3,473.1 L100.3,472.2 L101.3,471.3 L102.3,470.5 L103.3,469.6 L104.3,468.8 L105.3,468.1 L106.3,467.3 L107.3,466.6 L108.3,466 L109.3,465.4 L110.3,464.8 L111.3,464.2 L112.3,463.7 L113.3,463.2 L114.3,462.7 L115.3,462.3 L116.3,461.9 L117.3,461.5 L118.3,461.2 L119.3,460.9 L120.3,460.6 L121.3,460.4 L122.3,460.2 L123.3,460 L124.3,459.8 L125.3,459.6 L126.3,459.5 L127.3,459.4 L128.3,459.3 L129.3,459.3 L130.3,459.2 L131.3,459.2 L132.3,459.2 L133.3,459.3 L134.3,459.3 L135.3,459.4 L136.3,459.6 L137.3,459.7 L138.3,459.9 L139.3,460.2 L140.3,460.4 L141.3,460.8 L142.3,461.1 L143.3,461.6 L144.3,462.1 L145.3,462.6 L146.3,463.2 L147.3,463.8 L148.3,464.5 L149.3,465.2 L150.3,465.9 L151.3,466.7 L152.3,467.5 L153.3,468.4 L154.3,469.2 L155.3,470.1 L156.3,471.1 L157.3,472 L158.3,473 L159.3,474 L160.3,475 L161.3,476.1 L162.3,477.1 L163.3,478.2 L164.3,479.2 L165.3,480.3 L166.3,481.4 L167.3,482.5 L168.3,483.6 L169.3,484.7 L170.3,485.8 L171.3,486.9 L172.3,487.9 L173.3,489 L174.3,490.1 L175.3,491.2 L176.3,492.3 L177.3,493.4 L178.3,494.5 L179.3,495.6 L180.3,496.7 L181.3,497.9 L182.3,499 L183.3,500.2 L184.3,501.4 L185.3,502.7 L186.3,503.9 L187.3,505.2 L188.3,506.6 L189.3,507.9 L190.3,509.3 L191.3,510.7 L192.3,512.1 L193.3,513.5 L194.3,514.9 L195.3,516.4 L196.3,517.8 L197.3,519.2 L198.3,520.6 L199.3,522 L200.3,523.4 L201.3,524.7 L202.3,526.1 L203.3,527.4 L204.3,528.7 L205.3,530 L206.3,531.3 L207.3,532.6 L208.3,533.8 L209.3,535.1 L210.3,536.4 L211.3,537.7 L212.3,539.1 L213.3,540.4 L214.3,541.8 L215.3,543.2 L216.3,544.6 L217.3,546 L218.3,547.4 L219.3,548.8 L220.3,550.2 L221.3,551.5 L222.3,552.8 L223.3,554.1 L224.3,555.4 L225.3,556.5 L226.3,557.6 L227.3,558.7 L228.3,559.6 L229.3,560.5 L230.3,561.3 L231.3,562.1 L232.3,562.8 L233.3,563.4 L234.3,563.5 L235.3,563.5 L236.3,563.5 L237.3,563.5 L238.3,563.5 L239.3,563.5 L240.3,563.5 L241.3,563.5 L242.3,563.5 L243.3,563.5 L244.3,563.5 L245.3,563.5 L246.3,563.5 L247.3,563.5 L248.3,563.5 L249.3,563.5 L250.3,563.5 L251.3,563.5 L252.3,563.5 L253.3,563.5 L254.3,563.5 L255.3,563.5 L256.3,563.5 L257.3,563.5 L258.3,563.5 L259.3,563.5 L260.3,563.5 L261.3,563.5 L262.3,563.5 L263.3,563.5 L264.3,563.5 L265.3,563.5 L266.3,563.5 L267.3,563.5 L268.3,563.5 L269.3,563.5 L270.3,563.5 L271.3,563.5 L272.3,563.5 L273.3,563.5 L274.3,563.5 L275.3,563.5 L276.3,563.5 L277.3,563.5 L278.3,563.1 L279.3,562.4 L280.3,561.6 L281.3,560.8 L282.3,559.9 L283.3,559 L284.3,558 L285.3,557 L286.3,555.9 L287.3,554.9 L288.3,553.7 L289.3,552.6 L290.3,551.4 L291.3,550.1" stroke="#008000" stroke-opacity="0.6" stroke-width="1.2" stroke-dasharray="3.8 1.8"/><path d="M42.3,553.8 L43.3,552.7 L44.3,551.6 L45.3,550.5 L46.3,549.3 L47.3,548.1 L48.3,546.8 L49.3,545.5 L50.3,544.2 L51.3,542.8 L52.3,541.5 L53.3,540.1 L54.3,538.6 L55.3,537.2 L56.3,535.7 L57.3,534.3 L58.3,532.8 L59.3,531.3 L60.3,529.8 L61.3,528.3 L62.3,526.8 L63.3,525.3 L64.3,523.8 L65.3,522.3 L66.3,520.8 L67.3,519.3 L68.3,517.8 L69.3,516.3 L70.3,514.9 L71.3,513.4 L72.3,512 L73.3,510.6 L74.3,509.1 L75.3,507.8 L76.3,506.4 L77.3,505.1 L78.3,503.7 L79.3,502.4 L80.3,501.1 L81.3,499.9 L82.3,498.7 L83.3,497.4 L84.3,496.2 L85.3,495.1 L86.3,493.9 L87.3,492.8 L88.3,491.6 L89.3,490.6 L90.3,489.5 L91.3,488.4 L92.3,487.4 L93.3,486.4 L94.3,485.4 L95.3,484.4 L96.3,483.4 L97.3,482.5 L98.3,481.6 L99.3,480.7 L100.3,479.8 L101.3,479 L102.3,478.1 L103.3,477.4 L104.3,476.6 L105.3,475.9 L106.3,475.2 L107.3,474.5 L108.3,473.8 L109.3,473.2 L110.3,472.7 L111.3,472.1 L112.3,471.6 L113.3,471.1 L114.3,470.7 L115.3,470.3 L116.3,469.9 L117.3,469.5 L118.3,469.2 L119.3,468.9 L120.3,468.6 L121.3,468.3 L122.3,468.1 L123.3,467.9 L124.3,467.7 L125.3,467.6 L126.3,467.4 L127.3,467.3 L128.3,467.2 L129.3,467.2 L130.3,467.1 L131.3,467.1 L132.3,467.1 L133.3,467.1 L134.3,467.2 L135.3,467.3 L136.3,467.4 L137.3,467.6 L138.3,467.8 L139.3,468 L140.3,468.3 L141.3,468.6 L142.3,469 L143.3,469.5 L144.3,469.9 L145.3,470.5 L146.3,471.1 L147.3,471.7 L148.3,472.4 L149.3,473.1 L150.3,473.8 L151.3,474.6 L152.3,475.4 L153.3,476.3 L154.3,477.1 L155.3,478 L156.3,479 L157.3,479.9 L158.3,480.9 L159.3,481.8 L160.3,482.8 L161.3,483.8 L162.3,484.8 L163.3,485.8 L164.3,486.9 L165.3,487.9 L166.3,488.9 L167.3,490 L168.3,491.1 L169.3,492.1 L170.3,493.2 L171.3,494.2 L172.3,495.3 L173.3,496.3 L174.3,497.4 L175.3,498.5 L176.3,499.5 L177.3,500.6 L178.3,501.7 L179.3,502.8 L180.3,503.9 L181.3,505 L182.3,506.2 L183.3,507.3 L184.3,508.5 L185.3,509.7 L186.3,511 L187.3,512.2 L188.3,513.5 L189.3,514.9 L190.3,516.2 L191.3,517.6 L192.3,519 L193.3,520.3 L194.3,521.7 L195.3,523.1 L196.3,524.5 L197.3,525.9 L198.3,527.3 L199.3,528.7 L200.3,530 L201.3,531.4 L202.3,532.7 L203.3,534 L204.3,535.3 L205.3,536.6 L206.3,537.9 L207.3,539.2 L208.3,540.4 L209.3,541.7 L210.3,543 L211.3,544.4 L212.3,545.7 L213.3,547.1 L214.3,548.4 L215.3,549.8 L216.3,551.3 L217.3,552.7 L218.3,554.1 L219.3,555.5 L220.3,556.9 L221.3,558.2 L222.3,559.6 L223.3,560.8 L224.3,562 L225.3,563.1 L226.3,563.5 L227.3,563.5 L228.3,563.5 L229.3,563.5 L230.3,563.5 L231.3,563.5 L232.3,563.5 L233.3,563.5 L234.3,563.5 L235.3,563.5 L236.3,563.5 L237.3,563.5 L238.3,563.5 L239.3,563.5 L240.3,563.5 L241.3,563.5 L242.3,563.5 L243.3,563.5 L244.3,563.5 L245.3,563.5 L246.3,563.5 L247.3,563.5 L248.3,563.5 L249.3,563.5 L250.3,563.5 L251.3,563.5 L252.3,563.5 L253.3,563.5 L254.3,563.5 L255.3,563.5 L256.3,563.5 L257.3,563.5 L258.3,563.5 L259.3,563.5 L260.3,563.5 L261.3,563.5 L262.3,563.5 L263.3,563.5 L264.3,563.5 L265.3,563.5 L266.3,563.5 L267.3,563.5 L268.3,563.5 L269.3,563.5 L270.3,563.5 L271.3,563.5 L272.3,563.5 L273.3,563.5 L274.3,563.5 L275.3,563.5 L276.3,563.5 L277.3,563.5 L278.3,563.5 L279.3,563.4 L280.3,562.9 L281.3,562.3 L282.3,561.7 L283.3,561.1 L284.3,560.4 L285.3,559.6 L286.3,558.9 L287.3,558.1 L288.3,557.2 L289.3,556.3 L290.3,555.4 L291.3,554.4" stroke="#008000" stroke-opacity="0.6" stroke-width="1.2" stroke-dasharray="3.8 1.8"/><path d="M42.3,551.6 L43.3,550.4 L44.3,549.2 L45.3,548 L46.3,546.7 L47.3,545.4 L48.3,544.1 L49.3,542.8 L50.3,541.4 L51.3,540 L52.3,538.6 L53.3,537.1 L54.3,535.7 L55.3,534.2 L56.3,532.7 L57.3,531.2 L58.3,529.7 L59.3,528.2 L60.3,526.7 L61.3,525.2 L62.3,523.6 L63.3,522.1 L64.3,520.6 L65.3,519 L66.3,517.5 L67.3,516 L68.3,514.5 L69.3,513 L70.3,511.5 L71.3,510 L72.3,508.5 L73.3,507.1 L74.3,505.7 L75.3,504.3 L76.3,502.9 L77.3,501.5 L78.3,500.2 L79.3,498.9 L80.3,497.6 L81.3,496.3 L82.3,495.1 L83.3,493.8 L84.3,492.6 L85.3,491.4 L86.3,490.3 L87.3,489.1 L88.3,488 L89.3,486.9 L90.3,485.8 L91.3,484.7 L92.3,483.7 L93.3,482.7 L94.3,481.6 L95.3,480.6 L96.3,479.7 L97.3,478.7 L98.3,477.8 L99.3,476.9 L100.3,476 L101.3,475.1 L102.3,474.3 L103.3,473.5 L104.3,472.7 L105.3,472 L106.3,471.3 L107.3,470.6 L108.3,469.9 L109.3,469.3 L110.3,468.7 L111.3,468.2 L112.3,467.6 L113.3,467.2 L114.3,466.7 L115.3,466.3 L116.3,465.9 L117.3,465.5 L118.3,465.2 L119.3,464.9 L120.3,464.6 L121.3,464.3 L122.3,464.1 L123.3,463.9 L124.3,463.7 L125.3,463.6 L126.3,463.5 L127.3,463.4 L128.3,463.3 L129.3,463.2 L130.3,463.2 L131.3,463.2 L132.3,463.2 L133.3,463.2 L134.3,463.3 L135.3,463.4 L136.3,463.5 L137.3,463.6 L138.3,463.8 L139.3,464.1 L140.3,464.4 L141.3,464.7 L142.3,465.1 L143.3,465.5 L144.3,466 L145.3,466.5 L146.3,467.1 L147.3,467.7 L148.3,468.4 L149.3,469.1 L150.3,469.9 L151.3,470.7 L152.3,471.5 L153.3,472.3 L154.3,473.2 L155.3,474.1 L156.3,475 L157.3,476 L158.3,476.9 L159.3,477.9 L160.3,478.9 L161.3,479.9 L162.3,481 L163.3,482 L164.3,483 L165.3,484.1 L166.3,485.2 L167.3,486.2 L168.3,487.3 L169.3,488.4 L170.3,489.5 L171.3,490.5 L172.3,491.6 L173.3,492.7 L174.3,493.7 L175.3,494.8 L176.3,495.9 L177.3,497 L178.3,498.1 L179.3,499.2 L180.3,500.3 L181.3,501.4 L182.3,502.6 L183.3,503.8 L184.3,505 L185.3,506.2 L186.3,507.5 L187.3,508.7 L188.3,510.1 L189.3,511.4 L190.3,512.8 L191.3,514.1 L192.3,515.5 L193.3,516.9 L194.3,518.3 L195.3,519.8 L196.3,521.2 L197.3,522.6 L198.3,524 L199.3,525.3 L200.3,526.7 L201.3,528.1 L202.3,529.4 L203.3,530.7 L204.3,532 L205.3,533.3 L206.3,534.6 L207.3,535.9 L208.3,537.1 L209.3,538.4 L210.3,539.7 L211.3,541.1 L212.3,542.4 L213.3,543.7 L214.3,545.1 L215.3,546.5 L216.3,547.9 L217.3,549.3 L218.3,550.7 L219.3,552.2 L220.3,553.5 L221.3,554.9 L222.3,556.2 L223.3,557.5 L224.3,558.7 L225.3,559.8 L226.3,560.9 L227.3,561.8 L228.3,562.7 L229.3,563.5 L230.3,563.5 L231.3,563.5 L232.3,563.5 L233.3,563.5 L234.3,563.5 L235.3,563.5 L236.3,563.5 L237.3,563.5 L238.3,563.5 L239.3,563.5 L240.3,563.5 L241.3,563.5 L242.3,563.5 L243.3,563.5 L244.3,563.5 L245.3,563.5 L246.3,563.5 L247.3,563.5 L248.3,563.5 L249.3,563.5 L250.3,563.5 L251.3,563.5 L252.3,563.5 L253.3,563.5 L254.3,563.5 L255.3,563.5 L256.3,563.5 L257.3,563.5 L258.3,563.5 L259.3,563.5 L260.3,563.5 L261.3,563.5 L262.3,563.5 L263.3,563.5 L264.3,563.5 L265.3,563.5 L266.3,563.5 L267.3,563.5 L268.3,563.5 L269.3,563.5 L270.3,563.5 L271.3,563.5 L272.3,563.5 L273.3,563.5 L274.3,563.5 L275.3,563.5 L276.3,563.5 L277.3,563.5 L278.3,563.5 L279.3,562.9 L280.3,562.2 L281.3,561.5 L282.3,560.8 L283.3,560 L284.3,559.2 L285.3,558.3 L286.3,557.4 L287.3,556.5 L288.3,555.5 L289.3,554.4 L290.3,553.4 L291.3,552.3" stroke="#008000" stroke-opacity="0.6" stroke-width="1.1"/><path d="M42.3,544.2 L43.3,542.8 L44.3,541.4 L45.3,539.9 L46.3,538.3 L47.3,536.7 L48.3,535.1 L49.3,533.4 L50.3,531.7 L51.3,530 L52.3,528.2 L53.3,526.4 L54.3,524.6 L55.3,522.8 L56.3,521 L57.3,519.2 L58.3,517.3 L59.3,515.4 L60.3,513.6 L61.3,511.7 L62.3,509.9 L63.3,508 L64.3,506.1 L65.3,504.3 L66.3,502.4 L67.3,500.6 L68.3,498.7 L69.3,496.9 L70.3,495 L71.3,493.2 L72.3,491.4 L73.3,489.5 L74.3,487.7 L75.3,485.9 L76.3,484.1 L77.3,482.3 L78.3,480.5 L79.3,478.8 L80.3,477 L81.3,475.3 L82.3,473.6 L83.3,471.9 L84.3,470.2 L85.3,468.5 L86.3,466.9 L87.3,465.2 L88.3,463.6 L89.3,462.1 L90.3,460.5 L91.3,459 L92.3,457.5 L93.3,456 L94.3,454.6 L95.3,453.2 L96.3,451.8 L97.3,450.5 L98.3,449.2 L99.3,448 L100.3,446.8 L101.3,445.6 L102.3,444.5 L103.3,443.4 L104.3,442.4 L105.3,441.4 L106.3,440.5 L107.3,439.6 L108.3,438.8 L109.3,438.1 L110.3,437.4 L111.3,436.8 L112.3,436.2 L113.3,435.7 L114.3,435.2 L115.3,434.8 L116.3,434.5 L117.3,434.2 L118.3,433.9 L119.3,433.7 L120.3,433.6 L121.3,433.5 L122.3,433.4 L123.3,433.4 L124.3,433.4 L125.3,433.5 L126.3,433.6 L127.3,433.8 L128.3,434 L129.3,434.2 L130.3,434.5 L131.3,434.8 L132.3,435.1 L133.3,435.5 L134.3,435.9 L135.3,436.4 L136.3,436.9 L137.3,437.4 L138.3,438 L139.3,438.6 L140.3,439.3 L141.3,440 L142.3,440.7 L143.3,441.5 L144.3,442.3 L145.3,443.1 L146.3,444 L147.3,445 L148.3,445.9 L149.3,446.9 L150.3,448 L151.3,449.1 L152.3,450.2 L153.3,451.4 L154.3,452.6 L155.3,453.8 L156.3,455.1 L157.3,456.4 L158.3,457.8 L159.3,459.1 L160.3,460.6 L161.3,462 L162.3,463.5 L163.3,465 L164.3,466.5 L165.3,468 L166.3,469.5 L167.3,471.1 L168.3,472.7 L169.3,474.2 L170.3,475.8 L171.3,477.4 L172.3,478.9 L173.3,480.5 L174.3,482.1 L175.3,483.7 L176.3,485.2 L177.3,486.8 L178.3,488.4 L179.3,490.1 L180.3,491.7 L181.3,493.3 L182.3,495 L183.3,496.7 L184.3,498.4 L185.3,500.2 L186.3,502 L187.3,503.8 L188.3,505.6 L189.3,507.5 L190.3,509.4 L191.3,511.4 L192.3,513.3 L193.3,515.3 L194.3,517.4 L195.3,519.4 L196.3,521.5 L197.3,523.6 L198.3,525.7 L199.3,527.8 L200.3,529.9 L201.3,532.1 L202.3,534.3 L203.3,536.4 L204.3,538.6 L205.3,540.8 L206.3,542.9 L207.3,545 L208.3,547.1 L209.3,549.2 L210.3,551.3 L211.3,553.3 L212.3,555.3 L213.3,557.2 L214.3,559.1 L215.3,561 L216.3,562.7 L217.3,563.5 L218.3,563.5 L219.3,563.5 L220.3,563.5 L221.3,563.5 L222.3,563.5 L223.3,563.5 L224.3,563.5 L225.3,563.5 L226.3,563.5 L227.3,563.5 L228.3,563.5 L229.3,563.5 L230.3,563.5 L231.3,563.5 L232.3,563.5 L233.3,563.5 L234.3,563.5 L235.3,563.5 L236.3,563.5 L237.3,563.5 L238.3,563.5 L239.3,563.5 L240.3,563.5 L241.3,563.5 L242.3,563.5 L243.3,563.5 L244.3,563.5 L245.3,563.5 L246.3,563.5 L247.3,563.5 L248.3,563.5 L249.3,563.5 L250.3,563.5 L251.3,563.5 L252.3,563.5 L253.3,563.5 L254.3,563.5 L255.3,563.5 L256.3,563.5 L257.3,563.5 L258.3,563.5 L259.3,563.5 L260.3,563.5 L261.3,563.5 L262.3,563.5 L263.3,563.5 L264.3,563.5 L265.3,563.5 L266.3,563.5 L267.3,563.5 L268.3,563.5 L269.3,563.5 L270.3,563.5 L271.3,563.5 L272.3,563.5 L273.3,563.5 L274.3,563.5 L275.3,563.5 L276.3,562.6 L277.3,561.4 L278.3,560.2 L279.3,559.1 L280.3,558 L281.3,556.8 L282.3,555.7 L283.3,554.6 L284.3,553.5 L285.3,552.4 L286.3,551.2 L287.3,550.1 L288.3,548.9 L289.3,547.6 L290.3,546.4 L291.3,545" stroke="#ff0000" stroke-opacity="0.6" stroke-width="1.2" stroke-dasharray="3.8 1.8"/><path d="M42.3,549.5 L43.3,548.3 L44.3,547 L45.3,545.6 L46.3,544.2 L47.3,542.7 L48.3,541.1 L49.3,539.6 L50.3,537.9 L51.3,536.3 L52.3,534.6 L53.3,532.9 L54.3,531.1 L55.3,529.3 L56.3,527.6 L57.3,525.7 L58.3,523.9 L59.3,522.1 L60.3,520.3 L61.3,518.5 L62.3,516.7 L63.3,514.8 L64.3,513 L65.3,511.2 L66.3,509.4 L67.3,507.6 L68.3,505.8 L69.3,504 L70.3,502.2 L71.3,500.4 L72.3,498.6 L73.3,496.8 L74.3,495 L75.3,493.2 L76.3,491.5 L77.3,489.7 L78.3,488 L79.3,486.3 L80.3,484.6 L81.3,482.9 L82.3,481.2 L83.3,479.5 L84.3,477.9 L85.3,476.2 L86.3,474.6 L87.3,473 L88.3,471.4 L89.3,469.9 L90.3,468.4 L91.3,466.9 L92.3,465.4 L93.3,463.9 L94.3,462.5 L95.3,461.1 L96.3,459.8 L97.3,458.4 L98.3,457.1 L99.3,455.9 L100.3,454.7 L101.3,453.5 L102.3,452.4 L103.3,451.3 L104.3,450.3 L105.3,449.3 L106.3,448.4 L107.3,447.5 L108.3,446.7 L109.3,446 L110.3,445.3 L111.3,444.6 L112.3,444.1 L113.3,443.6 L114.3,443.1 L115.3,442.7 L116.3,442.3 L117.3,442 L118.3,441.8 L119.3,441.6 L120.3,441.4 L121.3,441.3 L122.3,441.3 L123.3,441.3 L124.3,441.3 L125.3,441.4 L126.3,441.5 L127.3,441.7 L128.3,441.8 L129.3,442.1 L130.3,442.3 L131.3,442.6 L132.3,443 L133.3,443.4 L134.3,443.8 L135.3,444.3 L136.3,444.8 L137.3,445.3 L138.3,445.9 L139.3,446.5 L140.3,447.1 L141.3,447.8 L142.3,448.6 L143.3,449.3 L144.3,450.2 L145.3,451 L146.3,451.9 L147.3,452.9 L148.3,453.8 L149.3,454.9 L150.3,455.9 L151.3,457 L152.3,458.1 L153.3,459.3 L154.3,460.5 L155.3,461.7 L156.3,463 L157.3,464.3 L158.3,465.6 L159.3,467 L160.3,468.4 L161.3,469.8 L162.3,471.2 L163.3,472.6 L164.3,474.1 L165.3,475.6 L166.3,477.1 L167.3,478.6 L168.3,480.1 L169.3,481.7 L170.3,483.2 L171.3,484.7 L172.3,486.3 L173.3,487.8 L174.3,489.4 L175.3,490.9 L176.3,492.5 L177.3,494 L178.3,495.6 L179.3,497.2 L180.3,498.8 L181.3,500.5 L182.3,502.1 L183.3,503.8 L184.3,505.5 L185.3,507.2 L186.3,509 L187.3,510.8 L188.3,512.6 L189.3,514.5 L190.3,516.4 L191.3,518.3 L192.3,520.2 L193.3,522.2 L194.3,524.2 L195.3,526.2 L196.3,528.3 L197.3,530.3 L198.3,532.4 L199.3,534.5 L200.3,536.6 L201.3,538.7 L202.3,540.8 L203.3,543 L204.3,545.1 L205.3,547.2 L206.3,549.3 L207.3,551.3 L208.3,553.3 L209.3,555.3 L210.3,557.3 L211.3,559.1 L212.3,560.9 L213.3,562.7 L214.3,563.5 L215.3,563.5 L216.3,563.5 L217.3,563.5 L218.3,563.5 L219.3,563.5 L220.3,563.5 L221.3,563.5 L222.3,563.5 L223.3,563.5 L224.3,563.5 L225.3,563.5 L226.3,563.5 L227.3,563.5 L228.3,563.5 L229.3,563.5 L230.3,563.5 L231.3,563.5 L232.3,563.5 L233.3,563.5 L234.3,563.5 L235.3,563.5 L236.3,563.5 L237.3,563.5 L238.3,563.5 L239.3,563.5 L240.3,563.5 L241.3,563.5 L242.3,563.5 L243.3,563.5 L244.3,563.5 L245.3,563.5 L246.3,563.5 L247.3,563.5 L248.3,563.5 L249.3,563.5 L250.3,563.5 L251.3,563.5 L252.3,563.5 L253.3,563.5 L254.3,563.5 L255.3,563.5 L256.3,563.5 L257.3,563.5 L258.3,563.5 L259.3,563.5 L260.3,563.5 L261.3,563.5 L262.3,563.5 L263.3,563.5 L264.3,563.5 L265.3,563.5 L266.3,563.5 L267.3,563.5 L268.3,563.5 L269.3,563.5 L270.3,563.5 L271.3,563.5 L272.3,563.5 L273.3,563.5 L274.3,563.5 L275.3,563.5 L276.3,563.5 L277.3,563.4 L278.3,562.4 L279.3,561.5 L280.3,560.6 L281.3,559.7 L282.3,558.8 L283.3,557.9 L284.3,557.1 L285.3,556.2 L286.3,555.3 L287.3,554.3 L288.3,553.4 L289.3,552.4 L290.3,551.3 L291.3,550.2" stroke="#ff0000" stroke-opacity="0.6" stroke-width="1.2" stroke-dasharray="3.8 1.8"/><path d="M42.3,546.9 L43.3,545.5 L44.3,544.2 L45.3,542.7 L46.3,541.2 L47.3,539.7 L48.3,538.1 L49.3,536.5 L50.3,534.8 L51.3,533.1 L52.3,531.4 L53.3,529.7 L54.3,527.9 L55.3,526.1 L56.3,524.3 L57.3,522.4 L58.3,520.6 L59.3,518.8 L60.3,516.9 L61.3,515.1 L62.3,513.3 L63.3,511.4 L64.3,509.6 L65.3,507.7 L66.3,505.9 L67.3,504.1 L68.3,502.2 L69.3,500.4 L70.3,498.6 L71.3,496.8 L72.3,495 L73.3,493.2 L74.3,491.4 L75.3,489.6 L76.3,487.8 L77.3,486 L78.3,484.3 L79.3,482.5 L80.3,480.8 L81.3,479.1 L82.3,477.4 L83.3,475.7 L84.3,474 L85.3,472.4 L86.3,470.7 L87.3,469.1 L88.3,467.5 L89.3,466 L90.3,464.4 L91.3,462.9 L92.3,461.4 L93.3,460 L94.3,458.6 L95.3,457.2 L96.3,455.8 L97.3,454.5 L98.3,453.2 L99.3,451.9 L100.3,450.7 L101.3,449.6 L102.3,448.4 L103.3,447.4 L104.3,446.3 L105.3,445.4 L106.3,444.4 L107.3,443.6 L108.3,442.8 L109.3,442 L110.3,441.3 L111.3,440.7 L112.3,440.1 L113.3,439.6 L114.3,439.2 L115.3,438.8 L116.3,438.4 L117.3,438.1 L118.3,437.9 L119.3,437.7 L120.3,437.5 L121.3,437.4 L122.3,437.3 L123.3,437.3 L124.3,437.4 L125.3,437.4 L126.3,437.6 L127.3,437.7 L128.3,437.9 L129.3,438.1 L130.3,438.4 L131.3,438.7 L132.3,439.1 L133.3,439.4 L134.3,439.9 L135.3,440.3 L136.3,440.8 L137.3,441.4 L138.3,441.9 L139.3,442.5 L140.3,443.2 L141.3,443.9 L142.3,444.6 L143.3,445.4 L144.3,446.2 L145.3,447.1 L146.3,448 L147.3,448.9 L148.3,449.9 L149.3,450.9 L150.3,451.9 L151.3,453 L152.3,454.2 L153.3,455.3 L154.3,456.5 L155.3,457.8 L156.3,459 L157.3,460.3 L158.3,461.7 L159.3,463.1 L160.3,464.5 L161.3,465.9 L162.3,467.3 L163.3,468.8 L164.3,470.3 L165.3,471.8 L166.3,473.3 L167.3,474.9 L168.3,476.4 L169.3,477.9 L170.3,479.5 L171.3,481.1 L172.3,482.6 L173.3,484.2 L174.3,485.7 L175.3,487.3 L176.3,488.9 L177.3,490.4 L178.3,492 L179.3,493.6 L180.3,495.3 L181.3,496.9 L182.3,498.6 L183.3,500.3 L184.3,502 L185.3,503.7 L186.3,505.5 L187.3,507.3 L188.3,509.1 L189.3,511 L190.3,512.9 L191.3,514.8 L192.3,516.8 L193.3,518.8 L194.3,520.8 L195.3,522.8 L196.3,524.9 L197.3,527 L198.3,529 L199.3,531.2 L200.3,533.3 L201.3,535.4 L202.3,537.6 L203.3,539.7 L204.3,541.8 L205.3,544 L206.3,546.1 L207.3,548.2 L208.3,550.2 L209.3,552.3 L210.3,554.3 L211.3,556.2 L212.3,558.1 L213.3,560 L214.3,561.7 L215.3,563.5 L216.3,563.5 L217.3,563.5 L218.3,563.5 L219.3,563.5 L220.3,563.5 L221.3,563.5 L222.3,563.5 L223.3,563.5 L224.3,563.5 L225.3,563.5 L226.3,563.5 L227.3,563.5 L228.3,563.5 L229.3,563.5 L230.3,563.5 L231.3,563.5 L232.3,563.5 L233.3,563.5 L234.3,563.5 L235.3,563.5 L236.3,563.5 L237.3,563.5 L238.3,563.5 L239.3,563.5 L240.3,563.5 L241.3,563.5 L242.3,563.5 L243.3,563.5 L244.3,563.5 L245.3,563.5 L246.3,563.5 L247.3,563.5 L248.3,563.5 L249.3,563.5 L250.3,563.5 L251.3,563.5 L252.3,563.5 L253.3,563.5 L254.3,563.5 L255.3,563.5 L256.3,563.5 L257.3,563.5 L258.3,563.5 L259.3,563.5 L260.3,563.5 L261.3,563.5 L262.3,563.5 L263.3,563.5 L264.3,563.5 L265.3,563.5 L266.3,563.5 L267.3,563.5 L268.3,563.5 L269.3,563.5 L270.3,563.5 L271.3,563.5 L272.3,563.5 L273.3,563.5 L274.3,563.5 L275.3,563.5 L276.3,563.5 L277.3,562.4 L278.3,561.3 L279.3,560.3 L280.3,559.3 L281.3,558.3 L282.3,557.3 L283.3,556.3 L284.3,555.3 L285.3,554.3 L286.3,553.3 L287.3,552.2 L288.3,551.1 L289.3,550 L290.3,548.8 L291.3,547.6" stroke="#ff0000" stroke-opacity="0.6" stroke-width="1.1"/><path d="M42.3,544.8 L43.3,543.4 L44.3,541.9 L45.3,540.5 L46.3,538.9 L47.3,537.4 L48.3,535.8 L49.3,534.1 L50.3,532.4 L51.3,530.7 L52.3,529 L53.3,527.2 L54.3,525.4 L55.3,523.6 L56.3,521.8 L57.3,520 L58.3,518.2 L59.3,516.3 L60.3,514.5 L61.3,512.7 L62.3,510.8 L63.3,509 L64.3,507.2 L65.3,505.3 L66.3,503.5 L67.3,501.7 L68.3,499.9 L69.3,498.1 L70.3,496.2 L71.3,494.4 L72.3,492.6 L73.3,490.9 L74.3,489.1 L75.3,487.3 L76.3,485.5 L77.3,483.8 L78.3,482 L79.3,480.3 L80.3,478.6 L81.3,476.9 L82.3,475.2 L83.3,473.5 L84.3,471.9 L85.3,470.3 L86.3,468.7 L87.3,467.1 L88.3,465.5 L89.3,464 L90.3,462.6 L91.3,461.1 L92.3,459.7 L93.3,458.3 L94.3,457 L95.3,455.7 L96.3,454.4 L97.3,453.2 L98.3,452 L99.3,450.9 L100.3,449.8 L101.3,448.7 L102.3,447.7 L103.3,446.7 L104.3,445.8 L105.3,444.9 L106.3,444.1 L107.3,443.3 L108.3,442.6 L109.3,441.9 L110.3,441.2 L111.3,440.6 L112.3,440.1 L113.3,439.6 L114.3,439.2 L115.3,438.8 L116.3,438.4 L117.3,438.1 L118.3,437.9 L119.3,437.7 L120.3,437.5 L121.3,437.4 L122.3,437.3 L123.3,437.3 L124.3,437.3 L125.3,437.3 L126.3,437.4 L127.3,437.6 L128.3,437.7 L129.3,437.9 L130.3,438.2 L131.3,438.5 L132.3,438.8 L133.3,439.2 L134.3,439.6 L135.3,440.1 L136.3,440.6 L137.3,441.2 L138.3,441.7 L139.3,442.4 L140.3,443 L141.3,443.8 L142.3,444.5 L143.3,445.3 L144.3,446.2 L145.3,447 L146.3,448 L147.3,448.9 L148.3,449.9 L149.3,451 L150.3,452 L151.3,453.1 L152.3,454.3 L153.3,455.5 L154.3,456.6 L155.3,457.9 L156.3,459.1 L157.3,460.4 L158.3,461.7 L159.3,463 L160.3,464.4 L161.3,465.7 L162.3,467.1 L163.3,468.5 L164.3,469.9 L165.3,471.4 L166.3,472.8 L167.3,474.3 L168.3,475.7 L169.3,477.2 L170.3,478.7 L171.3,480.1 L172.3,481.6 L173.3,483.1 L174.3,484.6 L175.3,486.1 L176.3,487.6 L177.3,489.1 L178.3,490.6 L179.3,492.2 L180.3,493.7 L181.3,495.3 L182.3,496.9 L183.3,498.6 L184.3,500.2 L185.3,501.9 L186.3,503.7 L187.3,505.4 L188.3,507.2 L189.3,509.1 L190.3,510.9 L191.3,512.8 L192.3,514.8 L193.3,516.8 L194.3,518.7 L195.3,520.8 L196.3,522.8 L197.3,524.9 L198.3,527 L199.3,529.1 L200.3,531.3 L201.3,533.4 L202.3,535.6 L203.3,537.8 L204.3,540 L205.3,542.2 L206.3,544.4 L207.3,546.5 L208.3,548.7 L209.3,550.8 L210.3,552.9 L211.3,555 L212.3,557 L213.3,559 L214.3,560.9 L215.3,562.7 L216.3,563.5 L217.3,563.5 L218.3,563.5 L219.3,563.5 L220.3,563.5 L221.3,563.5 L222.3,563.5 L223.3,563.5 L224.3,563.5 L225.3,563.5 L226.3,563.5 L227.3,563.5 L228.3,563.5 L229.3,563.5 L230.3,563.5 L231.3,563.5 L232.3,563.5 L233.3,563.5 L234.3,563.5 L235.3,563.5 L236.3,563.5 L237.3,563.5 L238.3,563.5 L239.3,563.5 L240.3,563.5 L241.3,563.5 L242.3,563.5 L243.3,563.5 L244.3,563.5 L245.3,563.5 L246.3,563.5 L247.3,563.5 L248.3,563.5 L249.3,563.5 L250.3,563.5 L251.3,563.5 L252.3,563.5 L253.3,563.5 L254.3,563.5 L255.3,563.5 L256.3,563.5 L257.3,563.5 L258.3,563.5 L259.3,563.5 L260.3,563.5 L261.3,563.5 L262.3,563.5 L263.3,563.5 L264.3,563.5 L265.3,563.5 L266.3,563.5 L267.3,563.5 L268.3,563.5 L269.3,563.5 L270.3,563.5 L271.3,563.5 L272.3,563.5 L273.3,563.5 L274.3,563.5 L275.3,563.5 L276.3,562.6 L277.3,561.5 L278.3,560.3 L279.3,559.2 L280.3,558.1 L281.3,557 L282.3,555.9 L283.3,554.9 L284.3,553.8 L285.3,552.7 L286.3,551.6 L287.3,550.4 L288.3,549.3 L289.3,548.1 L290.3,546.8 L291.3,545.6" stroke="#0000ff" stroke-opacity="0.6" stroke-width="1.2" stroke-dasharray="3.8 1.8"/><path d="M42.3,550 L43.3,548.8 L44.3,547.5 L45.3,546.2 L46.3,544.8 L47.3,543.3 L48.3,541.8 L49.3,540.3 L50.3,538.6 L51.3,537 L52.3,535.3 L53.3,533.6 L54.3,531.9 L55.3,530.1 L56.3,528.4 L57.3,526.6 L58.3,524.8 L59.3,523 L60.3,521.2 L61.3,519.4 L62.3,517.6 L63.3,515.8 L64.3,514.1 L65.3,512.3 L66.3,510.5 L67.3,508.7 L68.3,506.9 L69.3,505.2 L70.3,503.4 L71.3,501.6 L72.3,499.9 L73.3,498.1 L74.3,496.4 L75.3,494.6 L76.3,492.9 L77.3,491.2 L78.3,489.5 L79.3,487.8 L80.3,486.1 L81.3,484.5 L82.3,482.8 L83.3,481.2 L84.3,479.6 L85.3,478 L86.3,476.4 L87.3,474.9 L88.3,473.4 L89.3,471.9 L90.3,470.4 L91.3,469 L92.3,467.6 L93.3,466.2 L94.3,464.9 L95.3,463.6 L96.3,462.3 L97.3,461.1 L98.3,459.9 L99.3,458.8 L100.3,457.7 L101.3,456.6 L102.3,455.6 L103.3,454.6 L104.3,453.7 L105.3,452.8 L106.3,452 L107.3,451.2 L108.3,450.4 L109.3,449.7 L110.3,449.1 L111.3,448.5 L112.3,448 L113.3,447.5 L114.3,447 L115.3,446.6 L116.3,446.3 L117.3,446 L118.3,445.7 L119.3,445.5 L120.3,445.4 L121.3,445.3 L122.3,445.2 L123.3,445.1 L124.3,445.2 L125.3,445.2 L126.3,445.3 L127.3,445.4 L128.3,445.6 L129.3,445.8 L130.3,446.1 L131.3,446.4 L132.3,446.7 L133.3,447.1 L134.3,447.5 L135.3,448 L136.3,448.5 L137.3,449 L138.3,449.6 L139.3,450.3 L140.3,450.9 L141.3,451.6 L142.3,452.4 L143.3,453.2 L144.3,454.1 L145.3,454.9 L146.3,455.9 L147.3,456.8 L148.3,457.8 L149.3,458.9 L150.3,460 L151.3,461.1 L152.3,462.2 L153.3,463.4 L154.3,464.6 L155.3,465.8 L156.3,467 L157.3,468.3 L158.3,469.6 L159.3,470.8 L160.3,472.2 L161.3,473.5 L162.3,474.8 L163.3,476.2 L164.3,477.6 L165.3,479 L166.3,480.4 L167.3,481.8 L168.3,483.2 L169.3,484.6 L170.3,486.1 L171.3,487.5 L172.3,488.9 L173.3,490.4 L174.3,491.8 L175.3,493.3 L176.3,494.8 L177.3,496.3 L178.3,497.8 L179.3,499.3 L180.3,500.9 L181.3,502.4 L182.3,504 L183.3,505.6 L184.3,507.3 L185.3,509 L186.3,510.7 L187.3,512.4 L188.3,514.2 L189.3,516 L190.3,517.9 L191.3,519.8 L192.3,521.7 L193.3,523.6 L194.3,525.6 L195.3,527.6 L196.3,529.6 L197.3,531.7 L198.3,533.7 L199.3,535.8 L200.3,537.9 L201.3,540 L202.3,542.2 L203.3,544.3 L204.3,546.5 L205.3,548.6 L206.3,550.7 L207.3,552.8 L208.3,554.9 L209.3,556.9 L210.3,558.9 L211.3,560.8 L212.3,562.6 L213.3,563.5 L214.3,563.5 L215.3,563.5 L216.3,563.5 L217.3,563.5 L218.3,563.5 L219.3,563.5 L220.3,563.5 L221.3,563.5 L222.3,563.5 L223.3,563.5 L224.3,563.5 L225.3,563.5 L226.3,563.5 L227.3,563.5 L228.3,563.5 L229.3,563.5 L230.3,563.5 L231.3,563.5 L232.3,563.5 L233.3,563.5 L234.3,563.5 L235.3,563.5 L236.3,563.5 L237.3,563.5 L238.3,563.5 L239.3,563.5 L240.3,563.5 L241.3,563.5 L242.3,563.5 L243.3,563.5 L244.3,563.5 L245.3,563.5 L246.3,563.5 L247.3,563.5 L248.3,563.5 L249.3,563.5 L250.3,563.5 L251.3,563.5 L252.3,563.5 L253.3,563.5 L254.3,563.5 L255.3,563.5 L256.3,563.5 L257.3,563.5 L258.3,563.5 L259.3,563.5 L260.3,563.5 L261.3,563.5 L262.3,563.5 L263.3,563.5 L264.3,563.5 L265.3,563.5 L266.3,563.5 L267.3,563.5 L268.3,563.5 L269.3,563.5 L270.3,563.5 L271.3,563.5 L272.3,563.5 L273.3,563.5 L274.3,563.5 L275.3,563.5 L276.3,563.5 L277.3,563.4 L278.3,562.5 L279.3,561.6 L280.3,560.7 L281.3,559.8 L282.3,559 L283.3,558.2 L284.3,557.3 L285.3,556.5 L286.3,555.6 L287.3,554.7 L288.3,553.8 L289.3,552.8 L290.3,551.8 L291.3,550.7" stroke="#0000ff" stroke-opacity="0.6" stroke-width="1.2" stroke-dasharray="3.8 1.8"/><path d="M42.3,547.4 L43.3,546.1 L44.3,544.7 L45.3,543.3 L46.3,541.9 L47.3,540.3 L48.3,538.8 L49.3,537.2 L50.3,535.5 L51.3,533.9 L52.3,532.2 L53.3,530.4 L54.3,528.7 L55.3,526.9 L56.3,525.1 L57.3,523.3 L58.3,521.5 L59.3,519.7 L60.3,517.9 L61.3,516 L62.3,514.2 L63.3,512.4 L64.3,510.6 L65.3,508.8 L66.3,507 L67.3,505.2 L68.3,503.4 L69.3,501.6 L70.3,499.8 L71.3,498 L72.3,496.3 L73.3,494.5 L74.3,492.7 L75.3,491 L76.3,489.2 L77.3,487.5 L78.3,485.8 L79.3,484 L80.3,482.3 L81.3,480.7 L82.3,479 L83.3,477.3 L84.3,475.7 L85.3,474.1 L86.3,472.5 L87.3,471 L88.3,469.4 L89.3,467.9 L90.3,466.5 L91.3,465 L92.3,463.6 L93.3,462.3 L94.3,460.9 L95.3,459.6 L96.3,458.4 L97.3,457.1 L98.3,456 L99.3,454.8 L100.3,453.7 L101.3,452.7 L102.3,451.6 L103.3,450.7 L104.3,449.7 L105.3,448.9 L106.3,448 L107.3,447.2 L108.3,446.5 L109.3,445.8 L110.3,445.2 L111.3,444.6 L112.3,444 L113.3,443.5 L114.3,443.1 L115.3,442.7 L116.3,442.4 L117.3,442.1 L118.3,441.8 L119.3,441.6 L120.3,441.4 L121.3,441.3 L122.3,441.2 L123.3,441.2 L124.3,441.2 L125.3,441.3 L126.3,441.4 L127.3,441.5 L128.3,441.7 L129.3,441.9 L130.3,442.1 L131.3,442.4 L132.3,442.8 L133.3,443.2 L134.3,443.6 L135.3,444 L136.3,444.5 L137.3,445.1 L138.3,445.7 L139.3,446.3 L140.3,447 L141.3,447.7 L142.3,448.5 L143.3,449.3 L144.3,450.1 L145.3,451 L146.3,451.9 L147.3,452.9 L148.3,453.9 L149.3,454.9 L150.3,456 L151.3,457.1 L152.3,458.2 L153.3,459.4 L154.3,460.6 L155.3,461.8 L156.3,463.1 L157.3,464.3 L158.3,465.6 L159.3,466.9 L160.3,468.3 L161.3,469.6 L162.3,471 L163.3,472.4 L164.3,473.8 L165.3,475.2 L166.3,476.6 L167.3,478 L168.3,479.5 L169.3,480.9 L170.3,482.4 L171.3,483.8 L172.3,485.3 L173.3,486.7 L174.3,488.2 L175.3,489.7 L176.3,491.2 L177.3,492.7 L178.3,494.2 L179.3,495.7 L180.3,497.3 L181.3,498.9 L182.3,500.5 L183.3,502.1 L184.3,503.8 L185.3,505.5 L186.3,507.2 L187.3,508.9 L188.3,510.7 L189.3,512.6 L190.3,514.4 L191.3,516.3 L192.3,518.2 L193.3,520.2 L194.3,522.2 L195.3,524.2 L196.3,526.2 L197.3,528.3 L198.3,530.4 L199.3,532.5 L200.3,534.6 L201.3,536.7 L202.3,538.9 L203.3,541.1 L204.3,543.2 L205.3,545.4 L206.3,547.5 L207.3,549.7 L208.3,551.8 L209.3,553.8 L210.3,555.9 L211.3,557.9 L212.3,559.8 L213.3,561.7 L214.3,563.5 L215.3,563.5 L216.3,563.5 L217.3,563.5 L218.3,563.5 L219.3,563.5 L220.3,563.5 L221.3,563.5 L222.3,563.5 L223.3,563.5 L224.3,563.5 L225.3,563.5 L226.3,563.5 L227.3,563.5 L228.3,563.5 L229.3,563.5 L230.3,563.5 L231.3,563.5 L232.3,563.5 L233.3,563.5 L234.3,563.5 L235.3,563.5 L236.3,563.5 L237.3,563.5 L238.3,563.5 L239.3,563.5 L240.3,563.5 L241.3,563.5 L242.3,563.5 L243.3,563.5 L244.3,563.5 L245.3,563.5 L246.3,563.5 L247.3,563.5 L248.3,563.5 L249.3,563.5 L250.3,563.5 L251.3,563.5 L252.3,563.5 L253.3,563.5 L254.3,563.5 L255.3,563.5 L256.3,563.5 L257.3,563.5 L258.3,563.5 L259.3,563.5 L260.3,563.5 L261.3,563.5 L262.3,563.5 L263.3,563.5 L264.3,563.5 L265.3,563.5 L266.3,563.5 L267.3,563.5 L268.3,563.5 L269.3,563.5 L270.3,563.5 L271.3,563.5 L272.3,563.5 L273.3,563.5 L274.3,563.5 L275.3,563.5 L276.3,563.5 L277.3,562.4 L278.3,561.4 L279.3,560.4 L280.3,559.4 L281.3,558.4 L282.3,557.5 L283.3,556.5 L284.3,555.6 L285.3,554.6 L286.3,553.6 L287.3,552.6 L288.3,551.5 L289.3,550.4 L290.3,549.3 L291.3,548.1" stroke="#0000ff" stroke-opacity="0.6" stroke-width="1.1"/></g><path d="M42.3,431.8 H172.2 M42.3,431.8 V563.5 H172.2" stroke="#9a9a9a" stroke-width="1" fill="none"/><path d="M172.2,431.8 H291.9 M172.2,563.5 H291.9" stroke="#6c6c6c" stroke-width="1" fill="none"/><path d="M291.4,431.8 V563.5" stroke="#6c6c6c" stroke-width="1" fill="none"/><path d="M39.8,563.5 H42.3" stroke="#9a9a9a" stroke-width="1"/><text x="38.3" y="566.7" font-size="9.3" text-anchor="end">0</text><path d="M39.8,519.7 H42.3" stroke="#9a9a9a" stroke-width="1"/><text x="38.3" y="522.9" font-size="9.3" text-anchor="end">500</text><path d="M39.8,475.9 H42.3" stroke="#9a9a9a" stroke-width="1"/><text x="38.3" y="479.1" font-size="9.3" text-anchor="end">1000</text><path d="M39.8,432.1 H42.3" stroke="#9a9a9a" stroke-width="1"/><text x="38.3" y="435.3" font-size="9.3" text-anchor="end">1500</text><path d="M42.3,563.5 V566 M172.2,563.5 V566" stroke="#9a9a9a" stroke-width="1"/><text x="42.3" y="574.3" font-size="9.3" text-anchor="middle">Sunrise</text><text x="172.2" y="574.1" font-size="9.3" text-anchor="middle">Sunset</text><text x="167.1" y="583.9" font-size="9.3" text-anchor="middle">Time of day</text><text transform="translate(11.6,497.65) rotate(-90) scale(0.92,1)" font-size="10.1" text-anchor="middle">VPD (Pa)</text><text transform="translate(-1,424.9) scale(0.93,1)" font-size="14.5">(e)</text><rect x="75" y="590.4" width="184.2" height="14.5" fill="#fff" stroke="#c2c2c2" stroke-width="1.6"/><path d="M75,589.9 V605.4 M259.2,589.9 V605.4" stroke="#9a9a9a" stroke-width="1" fill="none"/><path d="M78.3,597.7 H102.5" stroke="#0000ff" stroke-opacity="0.7" stroke-width="1.0"/><text x="106.5" y="600.9" font-size="9.3">Control</text><path d="M146.2,597.7 H170.3" stroke="#ff0000" stroke-opacity="0.7" stroke-width="1.0"/><text x="174.6" y="600.9" font-size="9.3">Gap</text><path d="M202.2,597.7 H226.4" stroke="#008000" stroke-opacity="0.7" stroke-width="1.0"/><text x="230.8" y="600.9" font-size="9.3">Under</text></g>
<g><rect x="477.8" y="431.8" width="122.2" height="131.7" fill="#808080"/><g clip-path="url(#cpf)" fill="none"><path d="M344.8,543.2 L345.8,542.6 L346.8,542 L347.8,541.4 L348.8,540.8 L349.8,540.1 L350.8,539.4 L351.8,538.7 L352.8,537.9 L353.8,537.1 L354.8,536.3 L355.8,535.5 L356.8,534.6 L357.8,533.7 L358.8,532.8 L359.8,531.9 L360.8,530.9 L361.8,530 L362.8,529 L363.8,528 L364.8,527 L365.8,525.9 L366.8,524.9 L367.8,523.8 L368.8,522.8 L369.8,521.7 L370.8,520.6 L371.8,519.5 L372.8,518.4 L373.8,517.3 L374.8,516.2 L375.8,515.1 L376.8,514 L377.8,512.8 L378.8,511.7 L379.8,510.5 L380.8,509.4 L381.8,508.2 L382.8,507 L383.8,505.8 L384.8,504.6 L385.8,503.4 L386.8,502.1 L387.8,500.9 L388.8,499.6 L389.8,498.4 L390.8,497.1 L391.8,495.9 L392.8,494.7 L393.8,493.4 L394.8,492.2 L395.8,490.9 L396.8,489.7 L397.8,488.5 L398.8,487.3 L399.8,486.1 L400.8,485 L401.8,483.8 L402.8,482.7 L403.8,481.6 L404.8,480.6 L405.8,479.5 L406.8,478.5 L407.8,477.5 L408.8,476.6 L409.8,475.6 L410.8,474.7 L411.8,473.8 L412.8,472.9 L413.8,472 L414.8,471.1 L415.8,470.3 L416.8,469.4 L417.8,468.6 L418.8,467.7 L419.8,466.9 L420.8,466 L421.8,465.2 L422.8,464.3 L423.8,463.5 L424.8,462.6 L425.8,461.7 L426.8,460.9 L427.8,460 L428.8,459.2 L429.8,458.3 L430.8,457.5 L431.8,456.7 L432.8,456 L433.8,455.3 L434.8,454.7 L435.8,454.1 L436.8,453.5 L437.8,453 L438.8,452.6 L439.8,452.2 L440.8,451.9 L441.8,451.6 L442.8,451.3 L443.8,451.1 L444.8,450.9 L445.8,450.8 L446.8,450.7 L447.8,450.6 L448.8,450.6 L449.8,450.6 L450.8,450.6 L451.8,450.6 L452.8,450.7 L453.8,450.8 L454.8,450.9 L455.8,451 L456.8,451.2 L457.8,451.3 L458.8,451.5 L459.8,451.7 L460.8,452 L461.8,452.2 L462.8,452.5 L463.8,452.8 L464.8,453.1 L465.8,453.4 L466.8,453.7 L467.8,454.1 L468.8,454.5 L469.8,454.9 L470.8,455.3 L471.8,455.8 L472.8,456.3 L473.8,456.8 L474.8,457.3 L475.8,457.9 L476.8,458.5 L477.8,459.1 L478.8,459.8 L479.8,460.5 L480.8,461.2 L481.8,462 L482.8,462.8 L483.8,463.7 L484.8,464.6 L485.8,465.6 L486.8,466.6 L487.8,467.6 L488.8,468.7 L489.8,469.8 L490.8,471 L491.8,472.1 L492.8,473.3 L493.8,474.5 L494.8,475.7 L495.8,476.9 L496.8,478.1 L497.8,479.3 L498.8,480.5 L499.8,481.7 L500.8,482.8 L501.8,484 L502.8,485.2 L503.8,486.3 L504.8,487.4 L505.8,488.5 L506.8,489.6 L507.8,490.7 L508.8,491.8 L509.8,492.9 L510.8,494 L511.8,495 L512.8,496.1 L513.8,497.1 L514.8,498.2 L515.8,499.2 L516.8,500.2 L517.8,501.3 L518.8,502.3 L519.8,503.3 L520.8,504.3 L521.8,505.3 L522.8,506.3 L523.8,507.3 L524.8,508.3 L525.8,509.3 L526.8,510.3 L527.8,511.3 L528.8,512.3 L529.8,513.2 L530.8,514.2 L531.8,515.2 L532.8,516.2 L533.8,517.2 L534.8,518.2 L535.8,519.2 L536.8,520.2 L537.8,521.2 L538.8,522.2 L539.8,523.2 L540.8,524.2 L541.8,525.1 L542.8,526.1 L543.8,527 L544.8,527.9 L545.8,528.9 L546.8,529.7 L547.8,530.6 L548.8,531.5 L549.8,532.3 L550.8,533.1 L551.8,533.9 L552.8,534.7 L553.8,535.4 L554.8,536.1 L555.8,536.8 L556.8,537.5 L557.8,538.1 L558.8,538.8 L559.8,539.4 L560.8,540 L561.8,540.6 L562.8,541.2 L563.8,541.7 L564.8,542.3 L565.8,542.8 L566.8,543.3 L567.8,543.8 L568.8,544.3 L569.8,544.8 L570.8,545.2 L571.8,545.7 L572.8,546.1 L573.8,546.5 L574.8,546.8 L575.8,547.1 L576.8,547.4 L577.8,547.6 L578.8,547.8 L579.8,548 L580.8,548.1 L581.8,548.2 L582.8,548.2 L583.8,548.2 L584.8,548.2 L585.8,548.1 L586.8,548 L587.8,547.8 L588.8,547.6 L589.8,547.4 L590.8,547.1 L591.8,546.8 L592.8,546.5 L593.8,546.1 L594.8,545.7 L595.8,545.3 L596.8,544.9 L597.8,544.4 L598.8,543.9 L599.8,543.3" stroke="#008000" stroke-opacity="0.6" stroke-width="1.2" stroke-dasharray="3.8 1.8"/><path d="M344.8,554 L345.8,553.4 L346.8,552.8 L347.8,552.2 L348.8,551.5 L349.8,550.8 L350.8,550.1 L351.8,549.4 L352.8,548.7 L353.8,547.9 L354.8,547.1 L355.8,546.2 L356.8,545.4 L357.8,544.5 L358.8,543.6 L359.8,542.7 L360.8,541.7 L361.8,540.7 L362.8,539.8 L363.8,538.8 L364.8,537.7 L365.8,536.7 L366.8,535.7 L367.8,534.6 L368.8,533.5 L369.8,532.5 L370.8,531.4 L371.8,530.3 L372.8,529.2 L373.8,528.1 L374.8,527 L375.8,525.8 L376.8,524.7 L377.8,523.6 L378.8,522.4 L379.8,521.3 L380.8,520.1 L381.8,518.9 L382.8,517.7 L383.8,516.5 L384.8,515.3 L385.8,514.1 L386.8,512.9 L387.8,511.7 L388.8,510.4 L389.8,509.2 L390.8,508 L391.8,506.7 L392.8,505.5 L393.8,504.2 L394.8,503 L395.8,501.8 L396.8,500.6 L397.8,499.4 L398.8,498.2 L399.8,497 L400.8,495.8 L401.8,494.7 L402.8,493.5 L403.8,492.4 L404.8,491.3 L405.8,490.3 L406.8,489.2 L407.8,488.2 L408.8,487.2 L409.8,486.2 L410.8,485.2 L411.8,484.3 L412.8,483.4 L413.8,482.5 L414.8,481.6 L415.8,480.7 L416.8,479.8 L417.8,479 L418.8,478.2 L419.8,477.4 L420.8,476.5 L421.8,475.8 L422.8,475 L423.8,474.2 L424.8,473.5 L425.8,472.7 L426.8,472 L427.8,471.3 L428.8,470.6 L429.8,469.9 L430.8,469.2 L431.8,468.6 L432.8,468 L433.8,467.5 L434.8,466.9 L435.8,466.4 L436.8,466 L437.8,465.6 L438.8,465.2 L439.8,464.8 L440.8,464.5 L441.8,464.2 L442.8,464 L443.8,463.7 L444.8,463.5 L445.8,463.4 L446.8,463.3 L447.8,463.2 L448.8,463.1 L449.8,463 L450.8,463 L451.8,463 L452.8,463 L453.8,463.1 L454.8,463.2 L455.8,463.3 L456.8,463.4 L457.8,463.6 L458.8,463.7 L459.8,463.9 L460.8,464.2 L461.8,464.4 L462.8,464.7 L463.8,465 L464.8,465.3 L465.8,465.6 L466.8,466 L467.8,466.4 L468.8,466.8 L469.8,467.2 L470.8,467.6 L471.8,468.1 L472.8,468.6 L473.8,469.1 L474.8,469.7 L475.8,470.3 L476.8,470.9 L477.8,471.5 L478.8,472.2 L479.8,472.9 L480.8,473.6 L481.8,474.4 L482.8,475.2 L483.8,476 L484.8,476.9 L485.8,477.8 L486.8,478.7 L487.8,479.7 L488.8,480.7 L489.8,481.7 L490.8,482.7 L491.8,483.8 L492.8,484.9 L493.8,486 L494.8,487.1 L495.8,488.2 L496.8,489.3 L497.8,490.5 L498.8,491.6 L499.8,492.7 L500.8,493.9 L501.8,495 L502.8,496.1 L503.8,497.2 L504.8,498.4 L505.8,499.5 L506.8,500.6 L507.8,501.7 L508.8,502.8 L509.8,503.9 L510.8,504.9 L511.8,506 L512.8,507.1 L513.8,508.2 L514.8,509.2 L515.8,510.3 L516.8,511.3 L517.8,512.3 L518.8,513.4 L519.8,514.4 L520.8,515.4 L521.8,516.4 L522.8,517.4 L523.8,518.4 L524.8,519.4 L525.8,520.4 L526.8,521.4 L527.8,522.4 L528.8,523.3 L529.8,524.3 L530.8,525.3 L531.8,526.3 L532.8,527.3 L533.8,528.3 L534.8,529.3 L535.8,530.3 L536.8,531.3 L537.8,532.3 L538.8,533.3 L539.8,534.2 L540.8,535.2 L541.8,536.2 L542.8,537.1 L543.8,538.1 L544.8,539 L545.8,539.9 L546.8,540.8 L547.8,541.7 L548.8,542.5 L549.8,543.4 L550.8,544.2 L551.8,545 L552.8,545.7 L553.8,546.5 L554.8,547.2 L555.8,547.9 L556.8,548.5 L557.8,549.2 L558.8,549.8 L559.8,550.5 L560.8,551.1 L561.8,551.7 L562.8,552.2 L563.8,552.8 L564.8,553.3 L565.8,553.9 L566.8,554.4 L567.8,554.9 L568.8,555.4 L569.8,555.9 L570.8,556.3 L571.8,556.7 L572.8,557.2 L573.8,557.5 L574.8,557.9 L575.8,558.2 L576.8,558.5 L577.8,558.7 L578.8,558.9 L579.8,559.1 L580.8,559.2 L581.8,559.2 L582.8,559.3 L583.8,559.3 L584.8,559.2 L585.8,559.1 L586.8,559 L587.8,558.8 L588.8,558.6 L589.8,558.3 L590.8,558 L591.8,557.7 L592.8,557.4 L593.8,557 L594.8,556.6 L595.8,556.1 L596.8,555.7 L597.8,555.2 L598.8,554.6 L599.8,554.1" stroke="#008000" stroke-opacity="0.6" stroke-width="1.2" stroke-dasharray="3.8 1.8"/><path d="M344.8,548.6 L345.8,548 L346.8,547.4 L347.8,546.8 L348.8,546.1 L349.8,545.5 L350.8,544.8 L351.8,544 L352.8,543.3 L353.8,542.5 L354.8,541.7 L355.8,540.9 L356.8,540 L357.8,539.1 L358.8,538.2 L359.8,537.3 L360.8,536.3 L361.8,535.4 L362.8,534.4 L363.8,533.4 L364.8,532.4 L365.8,531.3 L366.8,530.3 L367.8,529.2 L368.8,528.2 L369.8,527.1 L370.8,526 L371.8,524.9 L372.8,523.8 L373.8,522.7 L374.8,521.6 L375.8,520.5 L376.8,519.3 L377.8,518.2 L378.8,517 L379.8,515.9 L380.8,514.7 L381.8,513.5 L382.8,512.4 L383.8,511.2 L384.8,510 L385.8,508.7 L386.8,507.5 L387.8,506.3 L388.8,505 L389.8,503.8 L390.8,502.6 L391.8,501.3 L392.8,500.1 L393.8,498.8 L394.8,497.6 L395.8,496.4 L396.8,495.1 L397.8,493.9 L398.8,492.7 L399.8,491.6 L400.8,490.4 L401.8,489.3 L402.8,488.1 L403.8,487 L404.8,486 L405.8,484.9 L406.8,483.9 L407.8,482.9 L408.8,481.9 L409.8,480.9 L410.8,480 L411.8,479 L412.8,478.1 L413.8,477.2 L414.8,476.4 L415.8,475.5 L416.8,474.6 L417.8,473.8 L418.8,472.9 L419.8,472.1 L420.8,471.3 L421.8,470.5 L422.8,469.7 L423.8,468.8 L424.8,468 L425.8,467.2 L426.8,466.4 L427.8,465.6 L428.8,464.9 L429.8,464.1 L430.8,463.4 L431.8,462.7 L432.8,462 L433.8,461.4 L434.8,460.8 L435.8,460.3 L436.8,459.8 L437.8,459.3 L438.8,458.9 L439.8,458.5 L440.8,458.2 L441.8,457.9 L442.8,457.6 L443.8,457.4 L444.8,457.2 L445.8,457.1 L446.8,457 L447.8,456.9 L448.8,456.8 L449.8,456.8 L450.8,456.8 L451.8,456.8 L452.8,456.9 L453.8,456.9 L454.8,457 L455.8,457.1 L456.8,457.3 L457.8,457.4 L458.8,457.6 L459.8,457.8 L460.8,458.1 L461.8,458.3 L462.8,458.6 L463.8,458.9 L464.8,459.2 L465.8,459.5 L466.8,459.9 L467.8,460.2 L468.8,460.6 L469.8,461 L470.8,461.5 L471.8,461.9 L472.8,462.4 L473.8,463 L474.8,463.5 L475.8,464.1 L476.8,464.7 L477.8,465.3 L478.8,466 L479.8,466.7 L480.8,467.4 L481.8,468.2 L482.8,469 L483.8,469.8 L484.8,470.7 L485.8,471.7 L486.8,472.7 L487.8,473.7 L488.8,474.7 L489.8,475.8 L490.8,476.9 L491.8,478 L492.8,479.1 L493.8,480.2 L494.8,481.4 L495.8,482.5 L496.8,483.7 L497.8,484.9 L498.8,486 L499.8,487.2 L500.8,488.4 L501.8,489.5 L502.8,490.6 L503.8,491.8 L504.8,492.9 L505.8,494 L506.8,495.1 L507.8,496.2 L508.8,497.3 L509.8,498.4 L510.8,499.5 L511.8,500.5 L512.8,501.6 L513.8,502.6 L514.8,503.7 L515.8,504.7 L516.8,505.8 L517.8,506.8 L518.8,507.8 L519.8,508.8 L520.8,509.8 L521.8,510.8 L522.8,511.8 L523.8,512.8 L524.8,513.8 L525.8,514.8 L526.8,515.8 L527.8,516.8 L528.8,517.8 L529.8,518.8 L530.8,519.8 L531.8,520.8 L532.8,521.8 L533.8,522.8 L534.8,523.8 L535.8,524.8 L536.8,525.8 L537.8,526.7 L538.8,527.7 L539.8,528.7 L540.8,529.7 L541.8,530.7 L542.8,531.6 L543.8,532.6 L544.8,533.5 L545.8,534.4 L546.8,535.3 L547.8,536.2 L548.8,537 L549.8,537.8 L550.8,538.6 L551.8,539.4 L552.8,540.2 L553.8,540.9 L554.8,541.6 L555.8,542.3 L556.8,543 L557.8,543.7 L558.8,544.3 L559.8,544.9 L560.8,545.5 L561.8,546.1 L562.8,546.7 L563.8,547.3 L564.8,547.8 L565.8,548.3 L566.8,548.9 L567.8,549.4 L568.8,549.9 L569.8,550.3 L570.8,550.8 L571.8,551.2 L572.8,551.6 L573.8,552 L574.8,552.3 L575.8,552.7 L576.8,552.9 L577.8,553.2 L578.8,553.4 L579.8,553.5 L580.8,553.7 L581.8,553.7 L582.8,553.8 L583.8,553.7 L584.8,553.7 L585.8,553.6 L586.8,553.5 L587.8,553.3 L588.8,553.1 L589.8,552.9 L590.8,552.6 L591.8,552.3 L592.8,551.9 L593.8,551.6 L594.8,551.2 L595.8,550.7 L596.8,550.3 L597.8,549.8 L598.8,549.3 L599.8,548.7" stroke="#008000" stroke-opacity="0.6" stroke-width="1.1"/><path d="M344.8,548.1 L345.8,547.6 L346.8,547.1 L347.8,546.5 L348.8,545.9 L349.8,545.3 L350.8,544.7 L351.8,544 L352.8,543.4 L353.8,542.7 L354.8,542 L355.8,541.3 L356.8,540.5 L357.8,539.8 L358.8,539.1 L359.8,538.3 L360.8,537.6 L361.8,536.8 L362.8,536.1 L363.8,535.3 L364.8,534.5 L365.8,533.7 L366.8,532.9 L367.8,532.1 L368.8,531.3 L369.8,530.5 L370.8,529.6 L371.8,528.8 L372.8,528 L373.8,527.1 L374.8,526.3 L375.8,525.4 L376.8,524.5 L377.8,523.6 L378.8,522.7 L379.8,521.8 L380.8,520.9 L381.8,520 L382.8,519 L383.8,518.1 L384.8,517.1 L385.8,516.2 L386.8,515.2 L387.8,514.2 L388.8,513.2 L389.8,512.2 L390.8,511.1 L391.8,510.1 L392.8,509.1 L393.8,508.1 L394.8,507 L395.8,506 L396.8,505 L397.8,504 L398.8,503 L399.8,502 L400.8,501 L401.8,500 L402.8,499 L403.8,498.1 L404.8,497.1 L405.8,496.2 L406.8,495.3 L407.8,494.4 L408.8,493.6 L409.8,492.7 L410.8,491.9 L411.8,491.1 L412.8,490.2 L413.8,489.5 L414.8,488.7 L415.8,487.9 L416.8,487.2 L417.8,486.4 L418.8,485.7 L419.8,485 L420.8,484.3 L421.8,483.6 L422.8,482.9 L423.8,482.2 L424.8,481.5 L425.8,480.9 L426.8,480.2 L427.8,479.6 L428.8,479 L429.8,478.4 L430.8,477.8 L431.8,477.2 L432.8,476.7 L433.8,476.2 L434.8,475.7 L435.8,475.2 L436.8,474.8 L437.8,474.4 L438.8,474 L439.8,473.7 L440.8,473.4 L441.8,473.1 L442.8,472.8 L443.8,472.6 L444.8,472.3 L445.8,472.1 L446.8,472 L447.8,471.8 L448.8,471.7 L449.8,471.6 L450.8,471.5 L451.8,471.4 L452.8,471.3 L453.8,471.3 L454.8,471.3 L455.8,471.3 L456.8,471.3 L457.8,471.4 L458.8,471.4 L459.8,471.5 L460.8,471.6 L461.8,471.7 L462.8,471.9 L463.8,472.1 L464.8,472.3 L465.8,472.5 L466.8,472.7 L467.8,473 L468.8,473.3 L469.8,473.7 L470.8,474.1 L471.8,474.5 L472.8,474.9 L473.8,475.4 L474.8,475.9 L475.8,476.4 L476.8,476.9 L477.8,477.5 L478.8,478.1 L479.8,478.7 L480.8,479.3 L481.8,480 L482.8,480.7 L483.8,481.4 L484.8,482.1 L485.8,482.8 L486.8,483.5 L487.8,484.2 L488.8,485 L489.8,485.8 L490.8,486.5 L491.8,487.3 L492.8,488.1 L493.8,488.9 L494.8,489.7 L495.8,490.6 L496.8,491.4 L497.8,492.2 L498.8,493 L499.8,493.9 L500.8,494.7 L501.8,495.5 L502.8,496.4 L503.8,497.2 L504.8,498.1 L505.8,498.9 L506.8,499.7 L507.8,500.6 L508.8,501.4 L509.8,502.3 L510.8,503.1 L511.8,504 L512.8,504.8 L513.8,505.7 L514.8,506.5 L515.8,507.3 L516.8,508.2 L517.8,509 L518.8,509.9 L519.8,510.7 L520.8,511.6 L521.8,512.4 L522.8,513.3 L523.8,514.1 L524.8,515 L525.8,515.8 L526.8,516.6 L527.8,517.5 L528.8,518.3 L529.8,519.2 L530.8,520 L531.8,520.8 L532.8,521.7 L533.8,522.5 L534.8,523.3 L535.8,524.2 L536.8,525 L537.8,525.8 L538.8,526.7 L539.8,527.5 L540.8,528.3 L541.8,529.1 L542.8,529.9 L543.8,530.7 L544.8,531.5 L545.8,532.3 L546.8,533.1 L547.8,533.9 L548.8,534.6 L549.8,535.4 L550.8,536.1 L551.8,536.9 L552.8,537.6 L553.8,538.3 L554.8,539 L555.8,539.7 L556.8,540.4 L557.8,541.1 L558.8,541.7 L559.8,542.4 L560.8,543 L561.8,543.6 L562.8,544.2 L563.8,544.8 L564.8,545.3 L565.8,545.9 L566.8,546.4 L567.8,546.9 L568.8,547.4 L569.8,547.8 L570.8,548.3 L571.8,548.7 L572.8,549.1 L573.8,549.5 L574.8,549.8 L575.8,550.1 L576.8,550.4 L577.8,550.7 L578.8,550.9 L579.8,551.1 L580.8,551.3 L581.8,551.4 L582.8,551.5 L583.8,551.6 L584.8,551.6 L585.8,551.6 L586.8,551.6 L587.8,551.5 L588.8,551.4 L589.8,551.3 L590.8,551.2 L591.8,551 L592.8,550.7 L593.8,550.5 L594.8,550.2 L595.8,549.9 L596.8,549.5 L597.8,549.1 L598.8,548.7 L599.8,548.2" stroke="#ff0000" stroke-opacity="0.6" stroke-width="1.2" stroke-dasharray="3.8 1.8"/><path d="M344.8,559.8 L345.8,559.3 L346.8,558.8 L347.8,558.2 L348.8,557.6 L349.8,557 L350.8,556.4 L351.8,555.7 L352.8,555 L353.8,554.4 L354.8,553.7 L355.8,552.9 L356.8,552.2 L357.8,551.5 L358.8,550.8 L359.8,550 L360.8,549.3 L361.8,548.5 L362.8,547.7 L363.8,547 L364.8,546.2 L365.8,545.4 L366.8,544.6 L367.8,543.8 L368.8,543 L369.8,542.1 L370.8,541.3 L371.8,540.5 L372.8,539.6 L373.8,538.8 L374.8,537.9 L375.8,537.1 L376.8,536.2 L377.8,535.3 L378.8,534.4 L379.8,533.5 L380.8,532.6 L381.8,531.7 L382.8,530.7 L383.8,529.8 L384.8,528.8 L385.8,527.8 L386.8,526.8 L387.8,525.8 L388.8,524.8 L389.8,523.8 L390.8,522.8 L391.8,521.8 L392.8,520.8 L393.8,519.7 L394.8,518.7 L395.8,517.7 L396.8,516.7 L397.8,515.7 L398.8,514.6 L399.8,513.6 L400.8,512.7 L401.8,511.7 L402.8,510.7 L403.8,509.8 L404.8,508.8 L405.8,507.9 L406.8,507 L407.8,506.1 L408.8,505.2 L409.8,504.4 L410.8,503.6 L411.8,502.7 L412.8,501.9 L413.8,501.1 L414.8,500.4 L415.8,499.6 L416.8,498.8 L417.8,498.1 L418.8,497.4 L419.8,496.6 L420.8,495.9 L421.8,495.2 L422.8,494.5 L423.8,493.9 L424.8,493.2 L425.8,492.5 L426.8,491.9 L427.8,491.3 L428.8,490.6 L429.8,490 L430.8,489.5 L431.8,488.9 L432.8,488.4 L433.8,487.9 L434.8,487.4 L435.8,486.9 L436.8,486.5 L437.8,486.1 L438.8,485.7 L439.8,485.4 L440.8,485 L441.8,484.8 L442.8,484.5 L443.8,484.2 L444.8,484 L445.8,483.8 L446.8,483.6 L447.8,483.5 L448.8,483.4 L449.8,483.2 L450.8,483.1 L451.8,483.1 L452.8,483 L453.8,483 L454.8,483 L455.8,483 L456.8,483 L457.8,483 L458.8,483.1 L459.8,483.2 L460.8,483.3 L461.8,483.4 L462.8,483.6 L463.8,483.7 L464.8,483.9 L465.8,484.2 L466.8,484.4 L467.8,484.7 L468.8,485 L469.8,485.4 L470.8,485.7 L471.8,486.1 L472.8,486.6 L473.8,487.1 L474.8,487.5 L475.8,488.1 L476.8,488.6 L477.8,489.2 L478.8,489.8 L479.8,490.4 L480.8,491 L481.8,491.7 L482.8,492.3 L483.8,493 L484.8,493.7 L485.8,494.5 L486.8,495.2 L487.8,495.9 L488.8,496.7 L489.8,497.5 L490.8,498.2 L491.8,499 L492.8,499.8 L493.8,500.6 L494.8,501.4 L495.8,502.2 L496.8,503.1 L497.8,503.9 L498.8,504.7 L499.8,505.6 L500.8,506.4 L501.8,507.2 L502.8,508.1 L503.8,508.9 L504.8,509.7 L505.8,510.6 L506.8,511.4 L507.8,512.3 L508.8,513.1 L509.8,514 L510.8,514.8 L511.8,515.6 L512.8,516.5 L513.8,517.3 L514.8,518.2 L515.8,519 L516.8,519.9 L517.8,520.7 L518.8,521.6 L519.8,522.4 L520.8,523.3 L521.8,524.1 L522.8,524.9 L523.8,525.8 L524.8,526.6 L525.8,527.5 L526.8,528.3 L527.8,529.2 L528.8,530 L529.8,530.8 L530.8,531.7 L531.8,532.5 L532.8,533.4 L533.8,534.2 L534.8,535 L535.8,535.9 L536.8,536.7 L537.8,537.5 L538.8,538.3 L539.8,539.2 L540.8,540 L541.8,540.8 L542.8,541.6 L543.8,542.4 L544.8,543.2 L545.8,544 L546.8,544.8 L547.8,545.5 L548.8,546.3 L549.8,547.1 L550.8,547.8 L551.8,548.5 L552.8,549.3 L553.8,550 L554.8,550.7 L555.8,551.4 L556.8,552.1 L557.8,552.7 L558.8,553.4 L559.8,554 L560.8,554.7 L561.8,555.3 L562.8,555.9 L563.8,556.4 L564.8,557 L565.8,557.5 L566.8,558.1 L567.8,558.6 L568.8,559.1 L569.8,559.5 L570.8,560 L571.8,560.4 L572.8,560.8 L573.8,561.1 L574.8,561.5 L575.8,561.8 L576.8,562.1 L577.8,562.3 L578.8,562.6 L579.8,562.8 L580.8,562.9 L581.8,563.1 L582.8,563.2 L583.8,563.2 L584.8,563.3 L585.8,563.3 L586.8,563.3 L587.8,563.2 L588.8,563.1 L589.8,563 L590.8,562.8 L591.8,562.6 L592.8,562.4 L593.8,562.2 L594.8,561.9 L595.8,561.5 L596.8,561.2 L597.8,560.8 L598.8,560.4 L599.8,559.9" stroke="#ff0000" stroke-opacity="0.6" stroke-width="1.2" stroke-dasharray="3.8 1.8"/><path d="M344.8,554 L345.8,553.5 L346.8,552.9 L347.8,552.4 L348.8,551.8 L349.8,551.2 L350.8,550.5 L351.8,549.9 L352.8,549.2 L353.8,548.5 L354.8,547.8 L355.8,547.1 L356.8,546.4 L357.8,545.7 L358.8,544.9 L359.8,544.2 L360.8,543.4 L361.8,542.7 L362.8,541.9 L363.8,541.1 L364.8,540.3 L365.8,539.5 L366.8,538.7 L367.8,537.9 L368.8,537.1 L369.8,536.3 L370.8,535.5 L371.8,534.6 L372.8,533.8 L373.8,532.9 L374.8,532.1 L375.8,531.2 L376.8,530.3 L377.8,529.5 L378.8,528.6 L379.8,527.7 L380.8,526.7 L381.8,525.8 L382.8,524.9 L383.8,523.9 L384.8,523 L385.8,522 L386.8,521 L387.8,520 L388.8,519 L389.8,518 L390.8,517 L391.8,516 L392.8,514.9 L393.8,513.9 L394.8,512.9 L395.8,511.9 L396.8,510.8 L397.8,509.8 L398.8,508.8 L399.8,507.8 L400.8,506.8 L401.8,505.8 L402.8,504.9 L403.8,503.9 L404.8,503 L405.8,502.1 L406.8,501.2 L407.8,500.3 L408.8,499.4 L409.8,498.6 L410.8,497.7 L411.8,496.9 L412.8,496.1 L413.8,495.3 L414.8,494.5 L415.8,493.7 L416.8,493 L417.8,492.2 L418.8,491.5 L419.8,490.8 L420.8,490.1 L421.8,489.4 L422.8,488.7 L423.8,488 L424.8,487.4 L425.8,486.7 L426.8,486.1 L427.8,485.4 L428.8,484.8 L429.8,484.2 L430.8,483.6 L431.8,483.1 L432.8,482.5 L433.8,482 L434.8,481.5 L435.8,481.1 L436.8,480.6 L437.8,480.2 L438.8,479.9 L439.8,479.5 L440.8,479.2 L441.8,478.9 L442.8,478.6 L443.8,478.4 L444.8,478.2 L445.8,478 L446.8,477.8 L447.8,477.6 L448.8,477.5 L449.8,477.4 L450.8,477.3 L451.8,477.2 L452.8,477.2 L453.8,477.1 L454.8,477.1 L455.8,477.1 L456.8,477.2 L457.8,477.2 L458.8,477.3 L459.8,477.3 L460.8,477.4 L461.8,477.6 L462.8,477.7 L463.8,477.9 L464.8,478.1 L465.8,478.3 L466.8,478.6 L467.8,478.9 L468.8,479.2 L469.8,479.5 L470.8,479.9 L471.8,480.3 L472.8,480.7 L473.8,481.2 L474.8,481.7 L475.8,482.2 L476.8,482.8 L477.8,483.3 L478.8,483.9 L479.8,484.5 L480.8,485.2 L481.8,485.8 L482.8,486.5 L483.8,487.2 L484.8,487.9 L485.8,488.6 L486.8,489.3 L487.8,490.1 L488.8,490.8 L489.8,491.6 L490.8,492.4 L491.8,493.2 L492.8,494 L493.8,494.8 L494.8,495.6 L495.8,496.4 L496.8,497.2 L497.8,498 L498.8,498.9 L499.8,499.7 L500.8,500.5 L501.8,501.4 L502.8,502.2 L503.8,503.1 L504.8,503.9 L505.8,504.7 L506.8,505.6 L507.8,506.4 L508.8,507.3 L509.8,508.1 L510.8,509 L511.8,509.8 L512.8,510.6 L513.8,511.5 L514.8,512.3 L515.8,513.2 L516.8,514 L517.8,514.9 L518.8,515.7 L519.8,516.6 L520.8,517.4 L521.8,518.3 L522.8,519.1 L523.8,519.9 L524.8,520.8 L525.8,521.6 L526.8,522.5 L527.8,523.3 L528.8,524.2 L529.8,525 L530.8,525.8 L531.8,526.7 L532.8,527.5 L533.8,528.3 L534.8,529.2 L535.8,530 L536.8,530.8 L537.8,531.7 L538.8,532.5 L539.8,533.3 L540.8,534.1 L541.8,534.9 L542.8,535.8 L543.8,536.6 L544.8,537.4 L545.8,538.1 L546.8,538.9 L547.8,539.7 L548.8,540.5 L549.8,541.2 L550.8,542 L551.8,542.7 L552.8,543.4 L553.8,544.2 L554.8,544.9 L555.8,545.6 L556.8,546.2 L557.8,546.9 L558.8,547.6 L559.8,548.2 L560.8,548.8 L561.8,549.4 L562.8,550 L563.8,550.6 L564.8,551.2 L565.8,551.7 L566.8,552.2 L567.8,552.7 L568.8,553.2 L569.8,553.7 L570.8,554.1 L571.8,554.5 L572.8,554.9 L573.8,555.3 L574.8,555.6 L575.8,556 L576.8,556.2 L577.8,556.5 L578.8,556.7 L579.8,556.9 L580.8,557.1 L581.8,557.2 L582.8,557.3 L583.8,557.4 L584.8,557.4 L585.8,557.4 L586.8,557.4 L587.8,557.4 L588.8,557.3 L589.8,557.1 L590.8,557 L591.8,556.8 L592.8,556.6 L593.8,556.3 L594.8,556 L595.8,555.7 L596.8,555.3 L597.8,555 L598.8,554.5 L599.8,554.1" stroke="#ff0000" stroke-opacity="0.6" stroke-width="1.1"/><path d="M344.8,537.7 L345.8,537.1 L346.8,536.4 L347.8,535.7 L348.8,535 L349.8,534.3 L350.8,533.6 L351.8,532.9 L352.8,532.1 L353.8,531.3 L354.8,530.5 L355.8,529.6 L356.8,528.8 L357.8,527.9 L358.8,527 L359.8,526.1 L360.8,525.1 L361.8,524.2 L362.8,523.2 L363.8,522.2 L364.8,521.2 L365.8,520.1 L366.8,519.1 L367.8,518 L368.8,517 L369.8,515.9 L370.8,514.8 L371.8,513.6 L372.8,512.5 L373.8,511.3 L374.8,510.2 L375.8,509 L376.8,507.8 L377.8,506.6 L378.8,505.4 L379.8,504.2 L380.8,503 L381.8,501.7 L382.8,500.5 L383.8,499.2 L384.8,498 L385.8,496.7 L386.8,495.4 L387.8,494.2 L388.8,492.9 L389.8,491.6 L390.8,490.3 L391.8,489 L392.8,487.8 L393.8,486.5 L394.8,485.2 L395.8,484 L396.8,482.7 L397.8,481.5 L398.8,480.2 L399.8,479 L400.8,477.8 L401.8,476.6 L402.8,475.5 L403.8,474.3 L404.8,473.2 L405.8,472.1 L406.8,471 L407.8,470 L408.8,468.9 L409.8,467.9 L410.8,466.9 L411.8,466 L412.8,465 L413.8,464.1 L414.8,463.2 L415.8,462.3 L416.8,461.4 L417.8,460.6 L418.8,459.7 L419.8,458.9 L420.8,458.1 L421.8,457.3 L422.8,456.5 L423.8,455.8 L424.8,455 L425.8,454.3 L426.8,453.6 L427.8,452.9 L428.8,452.2 L429.8,451.6 L430.8,450.9 L431.8,450.3 L432.8,449.7 L433.8,449.2 L434.8,448.7 L435.8,448.2 L436.8,447.7 L437.8,447.2 L438.8,446.8 L439.8,446.4 L440.8,446.1 L441.8,445.7 L442.8,445.5 L443.8,445.2 L444.8,444.9 L445.8,444.7 L446.8,444.6 L447.8,444.4 L448.8,444.3 L449.8,444.2 L450.8,444.2 L451.8,444.1 L452.8,444.2 L453.8,444.2 L454.8,444.3 L455.8,444.4 L456.8,444.5 L457.8,444.7 L458.8,444.9 L459.8,445.1 L460.8,445.4 L461.8,445.6 L462.8,446 L463.8,446.3 L464.8,446.7 L465.8,447 L466.8,447.5 L467.8,447.9 L468.8,448.4 L469.8,448.9 L470.8,449.4 L471.8,449.9 L472.8,450.5 L473.8,451.1 L474.8,451.7 L475.8,452.3 L476.8,453 L477.8,453.7 L478.8,454.4 L479.8,455.1 L480.8,455.9 L481.8,456.7 L482.8,457.6 L483.8,458.5 L484.8,459.4 L485.8,460.3 L486.8,461.3 L487.8,462.3 L488.8,463.3 L489.8,464.4 L490.8,465.5 L491.8,466.5 L492.8,467.6 L493.8,468.7 L494.8,469.8 L495.8,470.9 L496.8,472.1 L497.8,473.2 L498.8,474.3 L499.8,475.4 L500.8,476.5 L501.8,477.6 L502.8,478.6 L503.8,479.7 L504.8,480.7 L505.8,481.8 L506.8,482.8 L507.8,483.9 L508.8,484.9 L509.8,486 L510.8,487 L511.8,488.1 L512.8,489.1 L513.8,490.2 L514.8,491.2 L515.8,492.3 L516.8,493.3 L517.8,494.4 L518.8,495.5 L519.8,496.6 L520.8,497.6 L521.8,498.7 L522.8,499.8 L523.8,500.9 L524.8,502 L525.8,503.1 L526.8,504.3 L527.8,505.4 L528.8,506.5 L529.8,507.6 L530.8,508.7 L531.8,509.8 L532.8,511 L533.8,512.1 L534.8,513.2 L535.8,514.3 L536.8,515.4 L537.8,516.5 L538.8,517.6 L539.8,518.7 L540.8,519.8 L541.8,520.9 L542.8,521.9 L543.8,523 L544.8,524 L545.8,525 L546.8,526 L547.8,526.9 L548.8,527.9 L549.8,528.8 L550.8,529.7 L551.8,530.5 L552.8,531.4 L553.8,532.2 L554.8,533 L555.8,533.7 L556.8,534.4 L557.8,535.2 L558.8,535.9 L559.8,536.5 L560.8,537.2 L561.8,537.8 L562.8,538.4 L563.8,539 L564.8,539.5 L565.8,540 L566.8,540.5 L567.8,541 L568.8,541.5 L569.8,541.9 L570.8,542.3 L571.8,542.7 L572.8,543.1 L573.8,543.4 L574.8,543.7 L575.8,543.9 L576.8,544.1 L577.8,544.3 L578.8,544.4 L579.8,544.5 L580.8,544.5 L581.8,544.5 L582.8,544.4 L583.8,544.3 L584.8,544.1 L585.8,543.9 L586.8,543.7 L587.8,543.4 L588.8,543.1 L589.8,542.8 L590.8,542.4 L591.8,542 L592.8,541.6 L593.8,541.1 L594.8,540.6 L595.8,540.1 L596.8,539.6 L597.8,539 L598.8,538.4 L599.8,537.8" stroke="#0000ff" stroke-opacity="0.6" stroke-width="1.2" stroke-dasharray="3.8 1.8"/><path d="M344.8,548.7 L345.8,548.1 L346.8,547.5 L347.8,546.9 L348.8,546.2 L349.8,545.5 L350.8,544.8 L351.8,544.1 L352.8,543.4 L353.8,542.6 L354.8,541.8 L355.8,541 L356.8,540.2 L357.8,539.4 L358.8,538.5 L359.8,537.6 L360.8,536.7 L361.8,535.7 L362.8,534.8 L363.8,533.8 L364.8,532.8 L365.8,531.8 L366.8,530.7 L367.8,529.7 L368.8,528.6 L369.8,527.5 L370.8,526.4 L371.8,525.3 L372.8,524.2 L373.8,523.1 L374.8,522 L375.8,520.8 L376.8,519.6 L377.8,518.5 L378.8,517.3 L379.8,516.1 L380.8,514.9 L381.8,513.7 L382.8,512.4 L383.8,511.2 L384.8,510 L385.8,508.7 L386.8,507.5 L387.8,506.2 L388.8,504.9 L389.8,503.7 L390.8,502.4 L391.8,501.2 L392.8,499.9 L393.8,498.6 L394.8,497.4 L395.8,496.1 L396.8,494.9 L397.8,493.7 L398.8,492.5 L399.8,491.3 L400.8,490.1 L401.8,488.9 L402.8,487.8 L403.8,486.6 L404.8,485.5 L405.8,484.4 L406.8,483.3 L407.8,482.3 L408.8,481.3 L409.8,480.2 L410.8,479.3 L411.8,478.3 L412.8,477.3 L413.8,476.4 L414.8,475.5 L415.8,474.6 L416.8,473.7 L417.8,472.9 L418.8,472 L419.8,471.2 L420.8,470.4 L421.8,469.6 L422.8,468.8 L423.8,468.1 L424.8,467.3 L425.8,466.6 L426.8,465.9 L427.8,465.2 L428.8,464.5 L429.8,463.9 L430.8,463.2 L431.8,462.6 L432.8,462 L433.8,461.5 L434.8,460.9 L435.8,460.4 L436.8,460 L437.8,459.5 L438.8,459.1 L439.8,458.7 L440.8,458.4 L441.8,458 L442.8,457.7 L443.8,457.5 L444.8,457.2 L445.8,457 L446.8,456.9 L447.8,456.7 L448.8,456.6 L449.8,456.5 L450.8,456.5 L451.8,456.4 L452.8,456.5 L453.8,456.5 L454.8,456.6 L455.8,456.7 L456.8,456.8 L457.8,457 L458.8,457.2 L459.8,457.4 L460.8,457.6 L461.8,457.9 L462.8,458.2 L463.8,458.6 L464.8,458.9 L465.8,459.3 L466.8,459.8 L467.8,460.2 L468.8,460.7 L469.8,461.2 L470.8,461.7 L471.8,462.2 L472.8,462.8 L473.8,463.4 L474.8,464 L475.8,464.6 L476.8,465.3 L477.8,466 L478.8,466.7 L479.8,467.5 L480.8,468.2 L481.8,469 L482.8,469.9 L483.8,470.8 L484.8,471.7 L485.8,472.6 L486.8,473.6 L487.8,474.6 L488.8,475.6 L489.8,476.6 L490.8,477.7 L491.8,478.7 L492.8,479.8 L493.8,480.9 L494.8,481.9 L495.8,483 L496.8,484.1 L497.8,485.2 L498.8,486.3 L499.8,487.4 L500.8,488.4 L501.8,489.5 L502.8,490.5 L503.8,491.6 L504.8,492.6 L505.8,493.7 L506.8,494.7 L507.8,495.7 L508.8,496.7 L509.8,497.8 L510.8,498.8 L511.8,499.8 L512.8,500.8 L513.8,501.9 L514.8,502.9 L515.8,504 L516.8,505 L517.8,506.1 L518.8,507.1 L519.8,508.2 L520.8,509.3 L521.8,510.4 L522.8,511.5 L523.8,512.6 L524.8,513.7 L525.8,514.8 L526.8,515.9 L527.8,517 L528.8,518.1 L529.8,519.3 L530.8,520.4 L531.8,521.5 L532.8,522.6 L533.8,523.8 L534.8,524.9 L535.8,526 L536.8,527.1 L537.8,528.2 L538.8,529.3 L539.8,530.4 L540.8,531.5 L541.8,532.5 L542.8,533.6 L543.8,534.6 L544.8,535.7 L545.8,536.7 L546.8,537.6 L547.8,538.6 L548.8,539.5 L549.8,540.4 L550.8,541.3 L551.8,542.2 L552.8,543 L553.8,543.8 L554.8,544.6 L555.8,545.4 L556.8,546.1 L557.8,546.8 L558.8,547.5 L559.8,548.2 L560.8,548.8 L561.8,549.4 L562.8,550 L563.8,550.6 L564.8,551.2 L565.8,551.7 L566.8,552.2 L567.8,552.7 L568.8,553.2 L569.8,553.6 L570.8,554.1 L571.8,554.4 L572.8,554.8 L573.8,555.1 L574.8,555.4 L575.8,555.6 L576.8,555.8 L577.8,556 L578.8,556.1 L579.8,556.1 L580.8,556.1 L581.8,556.1 L582.8,556 L583.8,555.8 L584.8,555.6 L585.8,555.4 L586.8,555.1 L587.8,554.8 L588.8,554.5 L589.8,554.1 L590.8,553.7 L591.8,553.2 L592.8,552.8 L593.8,552.3 L594.8,551.7 L595.8,551.2 L596.8,550.6 L597.8,550.1 L598.8,549.5 L599.8,548.9" stroke="#0000ff" stroke-opacity="0.6" stroke-width="1.2" stroke-dasharray="3.8 1.8"/><path d="M344.8,543.2 L345.8,542.6 L346.8,541.9 L347.8,541.3 L348.8,540.6 L349.8,539.9 L350.8,539.2 L351.8,538.5 L352.8,537.7 L353.8,537 L354.8,536.2 L355.8,535.3 L356.8,534.5 L357.8,533.6 L358.8,532.7 L359.8,531.8 L360.8,530.9 L361.8,529.9 L362.8,529 L363.8,528 L364.8,527 L365.8,526 L366.8,524.9 L367.8,523.9 L368.8,522.8 L369.8,521.7 L370.8,520.6 L371.8,519.5 L372.8,518.4 L373.8,517.2 L374.8,516.1 L375.8,514.9 L376.8,513.7 L377.8,512.5 L378.8,511.3 L379.8,510.1 L380.8,508.9 L381.8,507.7 L382.8,506.5 L383.8,505.2 L384.8,504 L385.8,502.7 L386.8,501.4 L387.8,500.2 L388.8,498.9 L389.8,497.6 L390.8,496.4 L391.8,495.1 L392.8,493.8 L393.8,492.6 L394.8,491.3 L395.8,490 L396.8,488.8 L397.8,487.6 L398.8,486.3 L399.8,485.1 L400.8,483.9 L401.8,482.8 L402.8,481.6 L403.8,480.5 L404.8,479.4 L405.8,478.3 L406.8,477.2 L407.8,476.1 L408.8,475.1 L409.8,474.1 L410.8,473.1 L411.8,472.1 L412.8,471.2 L413.8,470.2 L414.8,469.3 L415.8,468.4 L416.8,467.6 L417.8,466.7 L418.8,465.9 L419.8,465 L420.8,464.2 L421.8,463.5 L422.8,462.7 L423.8,461.9 L424.8,461.2 L425.8,460.4 L426.8,459.7 L427.8,459 L428.8,458.4 L429.8,457.7 L430.8,457.1 L431.8,456.5 L432.8,455.9 L433.8,455.3 L434.8,454.8 L435.8,454.3 L436.8,453.8 L437.8,453.4 L438.8,453 L439.8,452.6 L440.8,452.2 L441.8,451.9 L442.8,451.6 L443.8,451.3 L444.8,451.1 L445.8,450.9 L446.8,450.7 L447.8,450.6 L448.8,450.5 L449.8,450.4 L450.8,450.3 L451.8,450.3 L452.8,450.3 L453.8,450.3 L454.8,450.4 L455.8,450.5 L456.8,450.7 L457.8,450.8 L458.8,451 L459.8,451.2 L460.8,451.5 L461.8,451.8 L462.8,452.1 L463.8,452.4 L464.8,452.8 L465.8,453.2 L466.8,453.6 L467.8,454 L468.8,454.5 L469.8,455 L470.8,455.5 L471.8,456.1 L472.8,456.6 L473.8,457.2 L474.8,457.8 L475.8,458.5 L476.8,459.1 L477.8,459.8 L478.8,460.5 L479.8,461.3 L480.8,462.1 L481.8,462.9 L482.8,463.7 L483.8,464.6 L484.8,465.5 L485.8,466.5 L486.8,467.4 L487.8,468.4 L488.8,469.5 L489.8,470.5 L490.8,471.6 L491.8,472.6 L492.8,473.7 L493.8,474.8 L494.8,475.9 L495.8,477 L496.8,478.1 L497.8,479.2 L498.8,480.3 L499.8,481.4 L500.8,482.5 L501.8,483.5 L502.8,484.6 L503.8,485.6 L504.8,486.7 L505.8,487.7 L506.8,488.8 L507.8,489.8 L508.8,490.8 L509.8,491.9 L510.8,492.9 L511.8,493.9 L512.8,495 L513.8,496 L514.8,497.1 L515.8,498.1 L516.8,499.2 L517.8,500.2 L518.8,501.3 L519.8,502.4 L520.8,503.5 L521.8,504.6 L522.8,505.7 L523.8,506.8 L524.8,507.9 L525.8,509 L526.8,510.1 L527.8,511.2 L528.8,512.3 L529.8,513.4 L530.8,514.6 L531.8,515.7 L532.8,516.8 L533.8,517.9 L534.8,519 L535.8,520.2 L536.8,521.3 L537.8,522.4 L538.8,523.5 L539.8,524.6 L540.8,525.6 L541.8,526.7 L542.8,527.8 L543.8,528.8 L544.8,529.8 L545.8,530.8 L546.8,531.8 L547.8,532.8 L548.8,533.7 L549.8,534.6 L550.8,535.5 L551.8,536.4 L552.8,537.2 L553.8,538 L554.8,538.8 L555.8,539.5 L556.8,540.3 L557.8,541 L558.8,541.7 L559.8,542.3 L560.8,543 L561.8,543.6 L562.8,544.2 L563.8,544.8 L564.8,545.3 L565.8,545.9 L566.8,546.4 L567.8,546.9 L568.8,547.3 L569.8,547.8 L570.8,548.2 L571.8,548.6 L572.8,548.9 L573.8,549.3 L574.8,549.5 L575.8,549.8 L576.8,550 L577.8,550.1 L578.8,550.2 L579.8,550.3 L580.8,550.3 L581.8,550.3 L582.8,550.2 L583.8,550.1 L584.8,549.9 L585.8,549.7 L586.8,549.4 L587.8,549.1 L588.8,548.8 L589.8,548.4 L590.8,548 L591.8,547.6 L592.8,547.2 L593.8,546.7 L594.8,546.2 L595.8,545.7 L596.8,545.1 L597.8,544.5 L598.8,543.9 L599.8,543.3" stroke="#0000ff" stroke-opacity="0.6" stroke-width="1.1"/></g><path d="M344.8,431.8 H477.8 M344.8,431.8 V563.5 H477.8" stroke="#9a9a9a" stroke-width="1" fill="none"/><path d="M477.8,431.8 H600 M477.8,563.5 H600" stroke="#6c6c6c" stroke-width="1" fill="none"/><path d="M599.5,431.8 V563.5" stroke="#6c6c6c" stroke-width="1" fill="none"/><path d="M342.3,554.74 H344.8" stroke="#9a9a9a" stroke-width="1"/><text x="340.8" y="557.94" font-size="9.3" text-anchor="end">20</text><path d="M342.3,524.01 H344.8" stroke="#9a9a9a" stroke-width="1"/><text x="340.8" y="527.21" font-size="9.3" text-anchor="end">40</text><path d="M342.3,493.27 H344.8" stroke="#9a9a9a" stroke-width="1"/><text x="340.8" y="496.47" font-size="9.3" text-anchor="end">60</text><path d="M342.3,462.54 H344.8" stroke="#9a9a9a" stroke-width="1"/><text x="340.8" y="465.74" font-size="9.3" text-anchor="end">80</text><path d="M342.3,431.8 H344.8" stroke="#9a9a9a" stroke-width="1"/><text x="340.8" y="435" font-size="9.3" text-anchor="end">100</text><path d="M344.8,563.5 V566 M477.8,563.5 V566" stroke="#9a9a9a" stroke-width="1"/><text x="344.8" y="574.3" font-size="9.3" text-anchor="middle">Sunrise</text><text x="477.8" y="574.1" font-size="9.3" text-anchor="middle">Sunset</text><text x="472.4" y="583.9" font-size="9.3" text-anchor="middle">Time of day</text><text transform="translate(319.6,497.65) rotate(-90) scale(0.92,1)" font-size="10.1" text-anchor="middle">VPD (Pa)</text><text transform="translate(306.7,424.4) scale(0.93,1)" font-size="14.5">(f)</text><rect x="380.4" y="590.4" width="184.2" height="14.5" fill="#fff" stroke="#c2c2c2" stroke-width="1.6"/><path d="M380.4,589.9 V605.4 M564.6,589.9 V605.4" stroke="#9a9a9a" stroke-width="1" fill="none"/><path d="M383.7,597.7 H407.9" stroke="#0000ff" stroke-opacity="0.7" stroke-width="1.0"/><text x="411.9" y="600.9" font-size="9.3">Control</text><path d="M451.6,597.7 H475.7" stroke="#ff0000" stroke-opacity="0.7" stroke-width="1.0"/><text x="480" y="600.9" font-size="9.3">Gap</text><path d="M507.6,597.7 H531.8" stroke="#008000" stroke-opacity="0.7" stroke-width="1.0"/><text x="536.2" y="600.9" font-size="9.3">Under</text></g>
<g><rect x="170.7" y="638.4" width="124.1" height="130.9" fill="#808080"/><g clip-path="url(#cpg)" fill="none"><path d="M35.6,703.1 L36.6,702.1 L37.6,701.1 L38.6,700 L39.6,698.9 L40.6,697.7 L41.6,696.5 L42.6,695.4 L43.6,694.2 L44.6,693 L45.6,691.9 L46.6,690.8 L47.6,689.7 L48.6,688.6 L49.6,687.6 L50.6,686.6 L51.6,685.6 L52.6,684.5 L53.6,683.5 L54.6,682.5 L55.6,681.6 L56.6,680.6 L57.6,679.7 L58.6,678.9 L59.6,678 L60.6,677.3 L61.6,676.5 L62.6,675.9 L63.6,675.2 L64.6,674.5 L65.6,673.9 L66.6,673.2 L67.6,672.6 L68.6,672 L69.6,671.5 L70.6,670.9 L71.6,670.4 L72.6,670 L73.6,669.5 L74.6,669.2 L75.6,668.8 L76.6,668.5 L77.6,668.2 L78.6,667.8 L79.6,667.5 L80.6,667.2 L81.6,667 L82.6,666.7 L83.6,666.4 L84.6,666.2 L85.6,666 L86.6,665.7 L87.6,665.5 L88.6,665.4 L89.6,665.2 L90.6,665.1 L91.6,664.9 L92.6,664.8 L93.6,664.7 L94.6,664.6 L95.6,664.5 L96.6,664.4 L97.6,664.3 L98.6,664.2 L99.6,664.1 L100.6,664.1 L101.6,664 L102.6,664 L103.6,664 L104.6,664 L105.6,664.1 L106.6,664.2 L107.6,664.5 L108.6,664.7 L109.6,665 L110.6,665.3 L111.6,665.7 L112.6,666 L113.6,666.4 L114.6,666.7 L115.6,667 L116.6,667.4 L117.6,667.7 L118.6,668.1 L119.6,668.6 L120.6,669 L121.6,669.5 L122.6,669.9 L123.6,670.5 L124.6,671 L125.6,671.6 L126.6,672.2 L127.6,672.8 L128.6,673.5 L129.6,674.2 L130.6,674.9 L131.6,675.6 L132.6,676.4 L133.6,677.1 L134.6,677.9 L135.6,678.6 L136.6,679.4 L137.6,680.2 L138.6,680.9 L139.6,681.7 L140.6,682.5 L141.6,683.3 L142.6,684.2 L143.6,685 L144.6,685.9 L145.6,686.7 L146.6,687.6 L147.6,688.5 L148.6,689.4 L149.6,690.3 L150.6,691.2 L151.6,692.1 L152.6,693.1 L153.6,694.1 L154.6,695.1 L155.6,696.1 L156.6,697.1 L157.6,698 L158.6,699 L159.6,700 L160.6,701 L161.6,702.1 L162.6,703.2 L163.6,704.3 L164.6,705.5 L165.6,706.8 L166.6,708.2 L167.6,709.5 L168.6,710.9 L169.6,712.1 L170.6,713.2 L171.6,714.2 L172.6,715.1 L173.6,715.9 L174.6,716.7 L175.6,717.4 L176.6,718.1 L177.6,718.8 L178.6,719.5 L179.6,720.3 L180.6,721 L181.6,721.8 L182.6,722.6 L183.6,723.3 L184.6,724.1 L185.6,724.9 L186.6,725.7 L187.6,726.4 L188.6,727.2 L189.6,727.9 L190.6,728.6 L191.6,729.2 L192.6,729.8 L193.6,730.4 L194.6,731 L195.6,731.5 L196.6,732.1 L197.6,732.6 L198.6,733.1 L199.6,733.6 L200.6,734.1 L201.6,734.6 L202.6,735 L203.6,735.5 L204.6,735.9 L205.6,736.3 L206.6,736.7 L207.6,737.1 L208.6,737.5 L209.6,737.9 L210.6,738.2 L211.6,738.6 L212.6,738.9 L213.6,739.3 L214.6,739.6 L215.6,739.9 L216.6,740.3 L217.6,740.6 L218.6,740.9 L219.6,741.1 L220.6,741.4 L221.6,741.6 L222.6,741.8 L223.6,742 L224.6,742.1 L225.6,742.2 L226.6,742.2 L227.6,742.2 L228.6,742.2 L229.6,742.1 L230.6,742.1 L231.6,742 L232.6,741.9 L233.6,741.7 L234.6,741.6 L235.6,741.4 L236.6,741.2 L237.6,741 L238.6,740.8 L239.6,740.6 L240.6,740.3 L241.6,740.1 L242.6,739.8 L243.6,739.5 L244.6,739.2 L245.6,738.9 L246.6,738.6 L247.6,738.3 L248.6,738 L249.6,737.7 L250.6,737.4 L251.6,736.9 L252.6,736.5 L253.6,735.9 L254.6,735.3 L255.6,734.7 L256.6,734.1 L257.6,733.4 L258.6,732.6 L259.6,731.9 L260.6,731.1 L261.6,730.4 L262.6,729.6 L263.6,728.9 L264.6,728.1 L265.6,727.4 L266.6,726.7 L267.6,725.9 L268.6,725.2 L269.6,724.4 L270.6,723.7 L271.6,722.9 L272.6,722.1 L273.6,721.3 L274.6,720.5 L275.6,719.7 L276.6,718.9 L277.6,718.1 L278.6,717.3 L279.6,716.4 L280.6,715.6 L281.6,714.8 L282.6,713.9 L283.6,713.1 L284.6,712.2 L285.6,711.4 L286.6,710.5 L287.6,709.6 L288.6,708.8 L289.6,707.9 L290.6,707 L291.6,706.1 L292.6,705.2 L293.6,704.2 L294.6,703.3" stroke="#008000" stroke-opacity="0.6" stroke-width="1.2" stroke-dasharray="3.8 1.8"/><path d="M35.6,712.1 L36.6,711.2 L37.6,710.2 L38.6,709.2 L39.6,708.2 L40.6,707.2 L41.6,706.2 L42.6,705.2 L43.6,704.2 L44.6,703.3 L45.6,702.3 L46.6,701.4 L47.6,700.4 L48.6,699.5 L49.6,698.6 L50.6,697.7 L51.6,696.8 L52.6,695.9 L53.6,695 L54.6,694.1 L55.6,693.3 L56.6,692.4 L57.6,691.6 L58.6,690.8 L59.6,690 L60.6,689.3 L61.6,688.6 L62.6,687.9 L63.6,687.2 L64.6,686.5 L65.6,685.9 L66.6,685.3 L67.6,684.6 L68.6,684.1 L69.6,683.5 L70.6,683 L71.6,682.5 L72.6,682 L73.6,681.6 L74.6,681.2 L75.6,680.9 L76.6,680.5 L77.6,680.2 L78.6,679.9 L79.6,679.6 L80.6,679.3 L81.6,679 L82.6,678.7 L83.6,678.5 L84.6,678.2 L85.6,678 L86.6,677.8 L87.6,677.6 L88.6,677.4 L89.6,677.2 L90.6,677.1 L91.6,677 L92.6,676.9 L93.6,676.7 L94.6,676.6 L95.6,676.5 L96.6,676.4 L97.6,676.3 L98.6,676.2 L99.6,676.2 L100.6,676.1 L101.6,676.1 L102.6,676 L103.6,676 L104.6,676 L105.6,676.1 L106.6,676.3 L107.6,676.5 L108.6,676.8 L109.6,677.1 L110.6,677.4 L111.6,677.7 L112.6,678.1 L113.6,678.4 L114.6,678.7 L115.6,679 L116.6,679.3 L117.6,679.7 L118.6,680 L119.6,680.3 L120.6,680.7 L121.6,681 L122.6,681.4 L123.6,681.9 L124.6,682.3 L125.6,682.8 L126.6,683.4 L127.6,683.9 L128.6,684.5 L129.6,685.1 L130.6,685.7 L131.6,686.4 L132.6,687 L133.6,687.7 L134.6,688.3 L135.6,689 L136.6,689.6 L137.6,690.3 L138.6,690.9 L139.6,691.6 L140.6,692.3 L141.6,693 L142.6,693.7 L143.6,694.4 L144.6,695.1 L145.6,695.8 L146.6,696.5 L147.6,697.3 L148.6,698 L149.6,698.7 L150.6,699.5 L151.6,700.2 L152.6,701 L153.6,701.7 L154.6,702.5 L155.6,703.4 L156.6,704.2 L157.6,705.1 L158.6,705.9 L159.6,706.8 L160.6,707.8 L161.6,708.7 L162.6,709.8 L163.6,710.9 L164.6,712.1 L165.6,713.4 L166.6,714.8 L167.6,716.2 L168.6,717.5 L169.6,718.7 L170.6,719.8 L171.6,720.9 L172.6,721.8 L173.6,722.8 L174.6,723.7 L175.6,724.6 L176.6,725.4 L177.6,726.3 L178.6,727.2 L179.6,728 L180.6,728.9 L181.6,729.8 L182.6,730.7 L183.6,731.5 L184.6,732.4 L185.6,733.3 L186.6,734.2 L187.6,735 L188.6,735.9 L189.6,736.7 L190.6,737.4 L191.6,738.1 L192.6,738.8 L193.6,739.5 L194.6,740.1 L195.6,740.7 L196.6,741.2 L197.6,741.8 L198.6,742.4 L199.6,742.9 L200.6,743.4 L201.6,743.9 L202.6,744.4 L203.6,744.9 L204.6,745.3 L205.6,745.8 L206.6,746.2 L207.6,746.7 L208.6,747.1 L209.6,747.5 L210.6,747.9 L211.6,748.3 L212.6,748.8 L213.6,749.2 L214.6,749.7 L215.6,750.2 L216.6,750.6 L217.6,751.1 L218.6,751.5 L219.6,751.9 L220.6,752.3 L221.6,752.7 L222.6,753 L223.6,753.2 L224.6,753.4 L225.6,753.6 L226.6,753.6 L227.6,753.6 L228.6,753.6 L229.6,753.6 L230.6,753.5 L231.6,753.4 L232.6,753.2 L233.6,753.1 L234.6,752.9 L235.6,752.7 L236.6,752.5 L237.6,752.3 L238.6,752 L239.6,751.8 L240.6,751.5 L241.6,751.2 L242.6,750.9 L243.6,750.6 L244.6,750.3 L245.6,749.9 L246.6,749.6 L247.6,749.2 L248.6,748.9 L249.6,748.5 L250.6,748.1 L251.6,747.7 L252.6,747.1 L253.6,746.5 L254.6,745.9 L255.6,745.2 L256.6,744.4 L257.6,743.6 L258.6,742.8 L259.6,742 L260.6,741.2 L261.6,740.3 L262.6,739.5 L263.6,738.6 L264.6,737.8 L265.6,737 L266.6,736.3 L267.6,735.5 L268.6,734.7 L269.6,733.9 L270.6,733.1 L271.6,732.2 L272.6,731.4 L273.6,730.6 L274.6,729.7 L275.6,728.9 L276.6,728 L277.6,727.2 L278.6,726.3 L279.6,725.5 L280.6,724.6 L281.6,723.8 L282.6,722.9 L283.6,722.1 L284.6,721.2 L285.6,720.4 L286.6,719.5 L287.6,718.7 L288.6,717.8 L289.6,716.9 L290.6,716 L291.6,715.1 L292.6,714.2 L293.6,713.3 L294.6,712.3" stroke="#008000" stroke-opacity="0.6" stroke-width="1.2" stroke-dasharray="3.8 1.8"/><path d="M35.6,707.6 L36.6,706.6 L37.6,705.6 L38.6,704.6 L39.6,703.5 L40.6,702.5 L41.6,701.4 L42.6,700.3 L43.6,699.2 L44.6,698.1 L45.6,697.1 L46.6,696.1 L47.6,695.1 L48.6,694.1 L49.6,693.1 L50.6,692.1 L51.6,691.2 L52.6,690.2 L53.6,689.3 L54.6,688.3 L55.6,687.4 L56.6,686.5 L57.6,685.7 L58.6,684.8 L59.6,684 L60.6,683.3 L61.6,682.6 L62.6,681.9 L63.6,681.2 L64.6,680.5 L65.6,679.9 L66.6,679.2 L67.6,678.6 L68.6,678 L69.6,677.5 L70.6,676.9 L71.6,676.4 L72.6,676 L73.6,675.6 L74.6,675.2 L75.6,674.8 L76.6,674.5 L77.6,674.2 L78.6,673.9 L79.6,673.6 L80.6,673.3 L81.6,673 L82.6,672.7 L83.6,672.4 L84.6,672.2 L85.6,672 L86.6,671.8 L87.6,671.6 L88.6,671.4 L89.6,671.2 L90.6,671.1 L91.6,670.9 L92.6,670.8 L93.6,670.7 L94.6,670.6 L95.6,670.5 L96.6,670.4 L97.6,670.3 L98.6,670.2 L99.6,670.2 L100.6,670.1 L101.6,670 L102.6,670 L103.6,670 L104.6,670 L105.6,670.1 L106.6,670.3 L107.6,670.5 L108.6,670.7 L109.6,671 L110.6,671.4 L111.6,671.7 L112.6,672 L113.6,672.4 L114.6,672.7 L115.6,673 L116.6,673.3 L117.6,673.7 L118.6,674.1 L119.6,674.4 L120.6,674.8 L121.6,675.3 L122.6,675.7 L123.6,676.2 L124.6,676.7 L125.6,677.2 L126.6,677.8 L127.6,678.4 L128.6,679 L129.6,679.7 L130.6,680.3 L131.6,681 L132.6,681.7 L133.6,682.4 L134.6,683.1 L135.6,683.8 L136.6,684.5 L137.6,685.2 L138.6,685.9 L139.6,686.7 L140.6,687.4 L141.6,688.2 L142.6,688.9 L143.6,689.7 L144.6,690.5 L145.6,691.3 L146.6,692.1 L147.6,692.9 L148.6,693.7 L149.6,694.5 L150.6,695.3 L151.6,696.2 L152.6,697 L153.6,697.9 L154.6,698.8 L155.6,699.7 L156.6,700.6 L157.6,701.6 L158.6,702.5 L159.6,703.4 L160.6,704.4 L161.6,705.4 L162.6,706.5 L163.6,707.6 L164.6,708.8 L165.6,710.1 L166.6,711.5 L167.6,712.9 L168.6,714.2 L169.6,715.4 L170.6,716.5 L171.6,717.5 L172.6,718.5 L173.6,719.3 L174.6,720.2 L175.6,721 L176.6,721.8 L177.6,722.6 L178.6,723.3 L179.6,724.1 L180.6,725 L181.6,725.8 L182.6,726.6 L183.6,727.4 L184.6,728.3 L185.6,729.1 L186.6,729.9 L187.6,730.7 L188.6,731.5 L189.6,732.3 L190.6,733 L191.6,733.7 L192.6,734.3 L193.6,734.9 L194.6,735.5 L195.6,736.1 L196.6,736.7 L197.6,737.2 L198.6,737.7 L199.6,738.2 L200.6,738.8 L201.6,739.2 L202.6,739.7 L203.6,740.2 L204.6,740.6 L205.6,741.1 L206.6,741.5 L207.6,741.9 L208.6,742.3 L209.6,742.7 L210.6,743 L211.6,743.4 L212.6,743.8 L213.6,744.2 L214.6,744.6 L215.6,745 L216.6,745.4 L217.6,745.8 L218.6,746.2 L219.6,746.5 L220.6,746.8 L221.6,747.1 L222.6,747.4 L223.6,747.6 L224.6,747.8 L225.6,747.9 L226.6,747.9 L227.6,747.9 L228.6,747.9 L229.6,747.9 L230.6,747.8 L231.6,747.7 L232.6,747.6 L233.6,747.4 L234.6,747.2 L235.6,747.1 L236.6,746.9 L237.6,746.6 L238.6,746.4 L239.6,746.2 L240.6,745.9 L241.6,745.6 L242.6,745.3 L243.6,745 L244.6,744.7 L245.6,744.4 L246.6,744.1 L247.6,743.8 L248.6,743.5 L249.6,743.1 L250.6,742.7 L251.6,742.3 L252.6,741.8 L253.6,741.2 L254.6,740.6 L255.6,739.9 L256.6,739.2 L257.6,738.5 L258.6,737.7 L259.6,736.9 L260.6,736.2 L261.6,735.3 L262.6,734.5 L263.6,733.8 L264.6,733 L265.6,732.2 L266.6,731.5 L267.6,730.7 L268.6,729.9 L269.6,729.2 L270.6,728.4 L271.6,727.6 L272.6,726.8 L273.6,726 L274.6,725.1 L275.6,724.3 L276.6,723.5 L277.6,722.6 L278.6,721.8 L279.6,721 L280.6,720.1 L281.6,719.3 L282.6,718.4 L283.6,717.6 L284.6,716.7 L285.6,715.9 L286.6,715 L287.6,714.2 L288.6,713.3 L289.6,712.4 L290.6,711.5 L291.6,710.6 L292.6,709.7 L293.6,708.7 L294.6,707.8" stroke="#008000" stroke-opacity="0.6" stroke-width="1.1"/><path d="M35.6,699.5 L36.6,698.2 L37.6,696.9 L38.6,695.6 L39.6,694.2 L40.6,692.8 L41.6,691.4 L42.6,690 L43.6,688.6 L44.6,687.2 L45.6,685.8 L46.6,684.5 L47.6,683.2 L48.6,682 L49.6,680.7 L50.6,679.5 L51.6,678.3 L52.6,677.1 L53.6,675.9 L54.6,674.7 L55.6,673.6 L56.6,672.4 L57.6,671.4 L58.6,670.3 L59.6,669.3 L60.6,668.4 L61.6,667.5 L62.6,666.6 L63.6,665.8 L64.6,665 L65.6,664.2 L66.6,663.4 L67.6,662.6 L68.6,661.9 L69.6,661.2 L70.6,660.5 L71.6,659.9 L72.6,659.3 L73.6,658.8 L74.6,658.3 L75.6,657.9 L76.6,657.5 L77.6,657.1 L78.6,656.6 L79.6,656.2 L80.6,655.8 L81.6,655.4 L82.6,655.1 L83.6,654.7 L84.6,654.4 L85.6,654.1 L86.6,653.8 L87.6,653.6 L88.6,653.4 L89.6,653.3 L90.6,653.2 L91.6,653.1 L92.6,653.1 L93.6,653.2 L94.6,653.2 L95.6,653.2 L96.6,653.2 L97.6,653.3 L98.6,653.3 L99.6,653.4 L100.6,653.5 L101.6,653.5 L102.6,653.6 L103.6,653.7 L104.6,653.8 L105.6,654 L106.6,654.2 L107.6,654.5 L108.6,654.9 L109.6,655.2 L110.6,655.7 L111.6,656.1 L112.6,656.6 L113.6,657.1 L114.6,657.7 L115.6,658.3 L116.6,659 L117.6,659.8 L118.6,660.7 L119.6,661.6 L120.6,662.6 L121.6,663.6 L122.6,664.5 L123.6,665.4 L124.6,666.3 L125.6,667.2 L126.6,668.1 L127.6,669.1 L128.6,670 L129.6,670.9 L130.6,671.8 L131.6,672.7 L132.6,673.6 L133.6,674.6 L134.6,675.5 L135.6,676.4 L136.6,677.3 L137.6,678.2 L138.6,679.1 L139.6,680 L140.6,680.9 L141.6,681.8 L142.6,682.7 L143.6,683.6 L144.6,684.5 L145.6,685.4 L146.6,686.3 L147.6,687.2 L148.6,688.1 L149.6,689.1 L150.6,690 L151.6,690.9 L152.6,691.8 L153.6,692.8 L154.6,693.8 L155.6,694.8 L156.6,696 L157.6,697.1 L158.6,698.4 L159.6,699.7 L160.6,701 L161.6,702.4 L162.6,703.9 L163.6,705.4 L164.6,707 L165.6,708.6 L166.6,710.4 L167.6,712.2 L168.6,713.9 L169.6,715.5 L170.6,717.1 L171.6,718.5 L172.6,719.9 L173.6,721.3 L174.6,722.7 L175.6,724 L176.6,725.2 L177.6,726.5 L178.6,727.7 L179.6,728.8 L180.6,730 L181.6,731.1 L182.6,732.2 L183.6,733.3 L184.6,734.4 L185.6,735.5 L186.6,736.5 L187.6,737.6 L188.6,738.5 L189.6,739.5 L190.6,740.4 L191.6,741.2 L192.6,742.1 L193.6,742.8 L194.6,743.6 L195.6,744.3 L196.6,745 L197.6,745.6 L198.6,746.3 L199.6,746.9 L200.6,747.6 L201.6,748.2 L202.6,748.7 L203.6,749.3 L204.6,749.9 L205.6,750.4 L206.6,750.9 L207.6,751.4 L208.6,751.8 L209.6,752.3 L210.6,752.7 L211.6,753.2 L212.6,753.6 L213.6,754.1 L214.6,754.5 L215.6,755 L216.6,755.4 L217.6,755.8 L218.6,756.2 L219.6,756.6 L220.6,757 L221.6,757.3 L222.6,757.6 L223.6,757.8 L224.6,758 L225.6,758.1 L226.6,758.2 L227.6,758.2 L228.6,758.1 L229.6,758 L230.6,757.9 L231.6,757.7 L232.6,757.6 L233.6,757.3 L234.6,757.1 L235.6,756.8 L236.6,756.4 L237.6,756.1 L238.6,755.7 L239.6,755.3 L240.6,754.9 L241.6,754.4 L242.6,754 L243.6,753.5 L244.6,753 L245.6,752.5 L246.6,752 L247.6,751.4 L248.6,750.9 L249.6,750.3 L250.6,749.7 L251.6,749 L252.6,748.1 L253.6,747.1 L254.6,746 L255.6,744.8 L256.6,743.5 L257.6,742.3 L258.6,740.9 L259.6,739.6 L260.6,738.2 L261.6,736.8 L262.6,735.5 L263.6,734.2 L264.6,732.9 L265.6,731.7 L266.6,730.6 L267.6,729.5 L268.6,728.3 L269.6,727.2 L270.6,726.1 L271.6,725 L272.6,723.9 L273.6,722.8 L274.6,721.7 L275.6,720.6 L276.6,719.5 L277.6,718.4 L278.6,717.3 L279.6,716.2 L280.6,715.1 L281.6,714 L282.6,712.9 L283.6,711.8 L284.6,710.7 L285.6,709.7 L286.6,708.6 L287.6,707.6 L288.6,706.5 L289.6,705.4 L290.6,704.3 L291.6,703.2 L292.6,702.1 L293.6,700.9 L294.6,699.7" stroke="#ff0000" stroke-opacity="0.6" stroke-width="1.2" stroke-dasharray="3.8 1.8"/><path d="M35.6,710.3 L36.6,709.1 L37.6,707.8 L38.6,706.4 L39.6,705.1 L40.6,703.7 L41.6,702.3 L42.6,700.8 L43.6,699.4 L44.6,698 L45.6,696.7 L46.6,695.3 L47.6,694 L48.6,692.8 L49.6,691.6 L50.6,690.3 L51.6,689.1 L52.6,687.9 L53.6,686.7 L54.6,685.5 L55.6,684.4 L56.6,683.3 L57.6,682.2 L58.6,681.2 L59.6,680.2 L60.6,679.2 L61.6,678.3 L62.6,677.5 L63.6,676.6 L64.6,675.8 L65.6,675 L66.6,674.2 L67.6,673.4 L68.6,672.7 L69.6,672 L70.6,671.4 L71.6,670.7 L72.6,670.2 L73.6,669.6 L74.6,669.2 L75.6,668.8 L76.6,668.3 L77.6,667.9 L78.6,667.5 L79.6,667.1 L80.6,666.7 L81.6,666.3 L82.6,665.9 L83.6,665.6 L84.6,665.2 L85.6,664.9 L86.6,664.7 L87.6,664.5 L88.6,664.3 L89.6,664.1 L90.6,664 L91.6,664 L92.6,664 L93.6,664 L94.6,664 L95.6,664 L96.6,664.1 L97.6,664.1 L98.6,664.2 L99.6,664.2 L100.6,664.3 L101.6,664.4 L102.6,664.5 L103.6,664.5 L104.6,664.6 L105.6,664.8 L106.6,665.1 L107.6,665.3 L108.6,665.7 L109.6,666.1 L110.6,666.5 L111.6,667 L112.6,667.5 L113.6,668 L114.6,668.5 L115.6,669.1 L116.6,669.8 L117.6,670.6 L118.6,671.5 L119.6,672.5 L120.6,673.5 L121.6,674.4 L122.6,675.4 L123.6,676.3 L124.6,677.2 L125.6,678.1 L126.6,679 L127.6,679.9 L128.6,680.8 L129.6,681.7 L130.6,682.6 L131.6,683.6 L132.6,684.5 L133.6,685.4 L134.6,686.3 L135.6,687.2 L136.6,688.1 L137.6,689 L138.6,689.9 L139.6,690.8 L140.6,691.7 L141.6,692.6 L142.6,693.5 L143.6,694.4 L144.6,695.3 L145.6,696.2 L146.6,697.1 L147.6,698 L148.6,699 L149.6,699.9 L150.6,700.8 L151.6,701.8 L152.6,702.7 L153.6,703.6 L154.6,704.6 L155.6,705.7 L156.6,706.8 L157.6,708 L158.6,709.2 L159.6,710.5 L160.6,711.9 L161.6,713.3 L162.6,714.7 L163.6,716.2 L164.6,717.8 L165.6,719.5 L166.6,721.2 L167.6,723 L168.6,724.7 L169.6,726.4 L170.6,727.9 L171.6,729.4 L172.6,730.8 L173.6,732.2 L174.6,733.5 L175.6,734.8 L176.6,736.1 L177.6,737.3 L178.6,738.5 L179.6,739.7 L180.6,740.8 L181.6,741.9 L182.6,743 L183.6,744.2 L184.6,745.3 L185.6,746.3 L186.6,747.4 L187.6,748.4 L188.6,749.4 L189.6,750.3 L190.6,751.2 L191.6,752.1 L192.6,752.9 L193.6,753.7 L194.6,754.4 L195.6,755.1 L196.6,755.8 L197.6,756.5 L198.6,757.1 L199.6,757.8 L200.6,758.4 L201.6,759 L202.6,759.6 L203.6,760.1 L204.6,760.7 L205.6,761.2 L206.6,761.7 L207.6,762.2 L208.6,762.7 L209.6,763.1 L210.6,763.5 L211.6,764 L212.6,764.4 L213.6,764.9 L214.6,765.4 L215.6,765.8 L216.6,766.2 L217.6,766.7 L218.6,767.1 L219.6,767.5 L220.6,767.8 L221.6,768.1 L222.6,768.4 L223.6,768.6 L224.6,768.8 L225.6,768.9 L226.6,769 L227.6,769 L228.6,769 L229.6,768.9 L230.6,768.7 L231.6,768.6 L232.6,768.4 L233.6,768.2 L234.6,767.9 L235.6,767.6 L236.6,767.3 L237.6,766.9 L238.6,766.5 L239.6,766.1 L240.6,765.7 L241.6,765.3 L242.6,764.8 L243.6,764.3 L244.6,763.8 L245.6,763.3 L246.6,762.8 L247.6,762.3 L248.6,761.7 L249.6,761.2 L250.6,760.5 L251.6,759.8 L252.6,758.9 L253.6,757.9 L254.6,756.8 L255.6,755.6 L256.6,754.4 L257.6,753.1 L258.6,751.8 L259.6,750.4 L260.6,749 L261.6,747.7 L262.6,746.3 L263.6,745 L264.6,743.8 L265.6,742.6 L266.6,741.4 L267.6,740.3 L268.6,739.2 L269.6,738 L270.6,736.9 L271.6,735.8 L272.6,734.7 L273.6,733.6 L274.6,732.5 L275.6,731.4 L276.6,730.3 L277.6,729.2 L278.6,728.1 L279.6,727 L280.6,725.9 L281.6,724.8 L282.6,723.7 L283.6,722.6 L284.6,721.6 L285.6,720.5 L286.6,719.5 L287.6,718.4 L288.6,717.3 L289.6,716.2 L290.6,715.2 L291.6,714 L292.6,712.9 L293.6,711.8 L294.6,710.6" stroke="#ff0000" stroke-opacity="0.6" stroke-width="1.2" stroke-dasharray="3.8 1.8"/><path d="M35.6,704.9 L36.6,703.7 L37.6,702.4 L38.6,701 L39.6,699.7 L40.6,698.3 L41.6,696.8 L42.6,695.4 L43.6,694 L44.6,692.6 L45.6,691.2 L46.6,689.9 L47.6,688.6 L48.6,687.4 L49.6,686.2 L50.6,684.9 L51.6,683.7 L52.6,682.5 L53.6,681.3 L54.6,680.1 L55.6,679 L56.6,677.9 L57.6,676.8 L58.6,675.7 L59.6,674.7 L60.6,673.8 L61.6,672.9 L62.6,672.1 L63.6,671.2 L64.6,670.4 L65.6,669.6 L66.6,668.8 L67.6,668 L68.6,667.3 L69.6,666.6 L70.6,665.9 L71.6,665.3 L72.6,664.7 L73.6,664.2 L74.6,663.8 L75.6,663.3 L76.6,662.9 L77.6,662.5 L78.6,662.1 L79.6,661.6 L80.6,661.2 L81.6,660.9 L82.6,660.5 L83.6,660.1 L84.6,659.8 L85.6,659.5 L86.6,659.3 L87.6,659 L88.6,658.9 L89.6,658.7 L90.6,658.6 L91.6,658.6 L92.6,658.6 L93.6,658.6 L94.6,658.6 L95.6,658.6 L96.6,658.7 L97.6,658.7 L98.6,658.8 L99.6,658.8 L100.6,658.9 L101.6,659 L102.6,659 L103.6,659.1 L104.6,659.2 L105.6,659.4 L106.6,659.6 L107.6,659.9 L108.6,660.3 L109.6,660.7 L110.6,661.1 L111.6,661.6 L112.6,662 L113.6,662.6 L114.6,663.1 L115.6,663.7 L116.6,664.4 L117.6,665.2 L118.6,666.1 L119.6,667.1 L120.6,668 L121.6,669 L122.6,670 L123.6,670.9 L124.6,671.8 L125.6,672.7 L126.6,673.6 L127.6,674.5 L128.6,675.4 L129.6,676.3 L130.6,677.2 L131.6,678.1 L132.6,679.1 L133.6,680 L134.6,680.9 L135.6,681.8 L136.6,682.7 L137.6,683.6 L138.6,684.5 L139.6,685.4 L140.6,686.3 L141.6,687.2 L142.6,688.1 L143.6,689 L144.6,689.9 L145.6,690.8 L146.6,691.7 L147.6,692.6 L148.6,693.6 L149.6,694.5 L150.6,695.4 L151.6,696.3 L152.6,697.3 L153.6,698.2 L154.6,699.2 L155.6,700.3 L156.6,701.4 L157.6,702.6 L158.6,703.8 L159.6,705.1 L160.6,706.5 L161.6,707.9 L162.6,709.3 L163.6,710.8 L164.6,712.4 L165.6,714.1 L166.6,715.8 L167.6,717.6 L168.6,719.3 L169.6,721 L170.6,722.5 L171.6,724 L172.6,725.4 L173.6,726.7 L174.6,728.1 L175.6,729.4 L176.6,730.6 L177.6,731.9 L178.6,733.1 L179.6,734.2 L180.6,735.4 L181.6,736.5 L182.6,737.6 L183.6,738.7 L184.6,739.8 L185.6,740.9 L186.6,742 L187.6,743 L188.6,744 L189.6,744.9 L190.6,745.8 L191.6,746.7 L192.6,747.5 L193.6,748.2 L194.6,749 L195.6,749.7 L196.6,750.4 L197.6,751.1 L198.6,751.7 L199.6,752.4 L200.6,753 L201.6,753.6 L202.6,754.2 L203.6,754.7 L204.6,755.3 L205.6,755.8 L206.6,756.3 L207.6,756.8 L208.6,757.2 L209.6,757.7 L210.6,758.1 L211.6,758.6 L212.6,759 L213.6,759.5 L214.6,759.9 L215.6,760.4 L216.6,760.8 L217.6,761.3 L218.6,761.7 L219.6,762 L220.6,762.4 L221.6,762.7 L222.6,763 L223.6,763.2 L224.6,763.4 L225.6,763.5 L226.6,763.6 L227.6,763.6 L228.6,763.5 L229.6,763.5 L230.6,763.3 L231.6,763.2 L232.6,763 L233.6,762.7 L234.6,762.5 L235.6,762.2 L236.6,761.9 L237.6,761.5 L238.6,761.1 L239.6,760.7 L240.6,760.3 L241.6,759.9 L242.6,759.4 L243.6,758.9 L244.6,758.4 L245.6,757.9 L246.6,757.4 L247.6,756.8 L248.6,756.3 L249.6,755.8 L250.6,755.1 L251.6,754.4 L252.6,753.5 L253.6,752.5 L254.6,751.4 L255.6,750.2 L256.6,749 L257.6,747.7 L258.6,746.3 L259.6,745 L260.6,743.6 L261.6,742.2 L262.6,740.9 L263.6,739.6 L264.6,738.3 L265.6,737.1 L266.6,736 L267.6,734.9 L268.6,733.8 L269.6,732.6 L270.6,731.5 L271.6,730.4 L272.6,729.3 L273.6,728.2 L274.6,727.1 L275.6,726 L276.6,724.9 L277.6,723.8 L278.6,722.7 L279.6,721.6 L280.6,720.5 L281.6,719.4 L282.6,718.3 L283.6,717.2 L284.6,716.2 L285.6,715.1 L286.6,714 L287.6,713 L288.6,711.9 L289.6,710.8 L290.6,709.7 L291.6,708.6 L292.6,707.5 L293.6,706.3 L294.6,705.1" stroke="#ff0000" stroke-opacity="0.6" stroke-width="1.1"/><path d="M35.6,698.6 L36.6,697.3 L37.6,696 L38.6,694.6 L39.6,693.2 L40.6,691.8 L41.6,690.4 L42.6,689 L43.6,687.6 L44.6,686.3 L45.6,684.9 L46.6,683.6 L47.6,682.3 L48.6,681.1 L49.6,679.8 L50.6,678.6 L51.6,677.4 L52.6,676.2 L53.6,675 L54.6,673.8 L55.6,672.7 L56.6,671.5 L57.6,670.5 L58.6,669.4 L59.6,668.4 L60.6,667.5 L61.6,666.6 L62.6,665.7 L63.6,664.9 L64.6,664.1 L65.6,663.3 L66.6,662.5 L67.6,661.7 L68.6,661 L69.6,660.3 L70.6,659.6 L71.6,659 L72.6,658.4 L73.6,657.9 L74.6,657.4 L75.6,657 L76.6,656.6 L77.6,656.2 L78.6,655.7 L79.6,655.3 L80.6,654.9 L81.6,654.5 L82.6,654.2 L83.6,653.8 L84.6,653.5 L85.6,653.2 L86.6,652.9 L87.6,652.7 L88.6,652.5 L89.6,652.4 L90.6,652.3 L91.6,652.2 L92.6,652.2 L93.6,652.3 L94.6,652.3 L95.6,652.3 L96.6,652.3 L97.6,652.4 L98.6,652.4 L99.6,652.5 L100.6,652.6 L101.6,652.6 L102.6,652.7 L103.6,652.8 L104.6,652.9 L105.6,653.1 L106.6,653.3 L107.6,653.6 L108.6,654 L109.6,654.3 L110.6,654.8 L111.6,655.2 L112.6,655.7 L113.6,656.2 L114.6,656.8 L115.6,657.4 L116.6,658.1 L117.6,658.9 L118.6,659.8 L119.6,660.7 L120.6,661.7 L121.6,662.7 L122.6,663.6 L123.6,664.5 L124.6,665.4 L125.6,666.3 L126.6,667.2 L127.6,668.2 L128.6,669.1 L129.6,670 L130.6,670.9 L131.6,671.8 L132.6,672.7 L133.6,673.7 L134.6,674.6 L135.6,675.5 L136.6,676.4 L137.6,677.3 L138.6,678.2 L139.6,679.1 L140.6,680 L141.6,680.9 L142.6,681.8 L143.6,682.7 L144.6,683.6 L145.6,684.5 L146.6,685.4 L147.6,686.3 L148.6,687.2 L149.6,688.2 L150.6,689.1 L151.6,690 L152.6,690.9 L153.6,691.8 L154.6,692.8 L155.6,693.9 L156.6,695.1 L157.6,696.4 L158.6,697.8 L159.6,699.4 L160.6,700.9 L161.6,702.5 L162.6,704.1 L163.6,705.7 L164.6,707.4 L165.6,709.1 L166.6,710.8 L167.6,712.5 L168.6,714.2 L169.6,715.9 L170.6,717.4 L171.6,718.8 L172.6,720.3 L173.6,721.6 L174.6,723 L175.6,724.3 L176.6,725.5 L177.6,726.8 L178.6,728 L179.6,729.1 L180.6,730.3 L181.6,731.4 L182.6,732.5 L183.6,733.6 L184.6,734.7 L185.6,735.8 L186.6,736.8 L187.6,737.9 L188.6,738.8 L189.6,739.8 L190.6,740.7 L191.6,741.5 L192.6,742.4 L193.6,743.1 L194.6,743.9 L195.6,744.6 L196.6,745.3 L197.6,745.9 L198.6,746.6 L199.6,747.2 L200.6,747.9 L201.6,748.5 L202.6,749 L203.6,749.6 L204.6,750.2 L205.6,750.7 L206.6,751.2 L207.6,751.7 L208.6,752.1 L209.6,752.6 L210.6,753 L211.6,753.5 L212.6,753.9 L213.6,754.4 L214.6,754.8 L215.6,755.3 L216.6,755.7 L217.6,756.1 L218.6,756.5 L219.6,756.9 L220.6,757.3 L221.6,757.6 L222.6,757.9 L223.6,758.1 L224.6,758.3 L225.6,758.4 L226.6,758.5 L227.6,758.5 L228.6,758.4 L229.6,758.3 L230.6,758.2 L231.6,758.1 L232.6,757.9 L233.6,757.6 L234.6,757.4 L235.6,757.1 L236.6,756.7 L237.6,756.4 L238.6,756 L239.6,755.6 L240.6,755.2 L241.6,754.7 L242.6,754.3 L243.6,753.8 L244.6,753.3 L245.6,752.8 L246.6,752.3 L247.6,751.7 L248.6,751.2 L249.6,750.6 L250.6,750 L251.6,749.3 L252.6,748.4 L253.6,747.4 L254.6,746.3 L255.6,745.1 L256.6,743.8 L257.6,742.6 L258.6,741.2 L259.6,739.9 L260.6,738.5 L261.6,737.1 L262.6,735.8 L263.6,734.5 L264.6,733.2 L265.6,732 L266.6,730.9 L267.6,729.8 L268.6,728.7 L269.6,727.5 L270.6,726.4 L271.6,725.3 L272.6,724.2 L273.6,723.2 L274.6,722.1 L275.6,721 L276.6,719.9 L277.6,718.7 L278.6,717.6 L279.6,716.5 L280.6,715.4 L281.6,714.2 L282.6,713.1 L283.6,711.9 L284.6,710.8 L285.6,709.6 L286.6,708.5 L287.6,707.3 L288.6,706.1 L289.6,704.9 L290.6,703.7 L291.6,702.5 L292.6,701.3 L293.6,700.1 L294.6,698.8" stroke="#0000ff" stroke-opacity="0.6" stroke-width="1.2" stroke-dasharray="3.8 1.8"/><path d="M35.6,708.8 L36.6,707.5 L37.6,706.2 L38.6,704.8 L39.6,703.5 L40.6,702.1 L41.6,700.7 L42.6,699.3 L43.6,697.9 L44.6,696.5 L45.6,695.1 L46.6,693.8 L47.6,692.5 L48.6,691.3 L49.6,690.1 L50.6,688.8 L51.6,687.6 L52.6,686.4 L53.6,685.2 L54.6,684 L55.6,682.9 L56.6,681.8 L57.6,680.7 L58.6,679.7 L59.6,678.7 L60.6,677.7 L61.6,676.8 L62.6,676 L63.6,675.1 L64.6,674.3 L65.6,673.5 L66.6,672.7 L67.6,671.9 L68.6,671.2 L69.6,670.5 L70.6,669.8 L71.6,669.2 L72.6,668.7 L73.6,668.1 L74.6,667.7 L75.6,667.2 L76.6,666.8 L77.6,666.4 L78.6,666 L79.6,665.6 L80.6,665.2 L81.6,664.8 L82.6,664.4 L83.6,664.1 L84.6,663.7 L85.6,663.4 L86.6,663.2 L87.6,663 L88.6,662.8 L89.6,662.6 L90.6,662.5 L91.6,662.5 L92.6,662.5 L93.6,662.5 L94.6,662.5 L95.6,662.5 L96.6,662.6 L97.6,662.6 L98.6,662.7 L99.6,662.7 L100.6,662.8 L101.6,662.9 L102.6,663 L103.6,663 L104.6,663.1 L105.6,663.3 L106.6,663.5 L107.6,663.8 L108.6,664.2 L109.6,664.6 L110.6,665 L111.6,665.5 L112.6,666 L113.6,666.5 L114.6,667 L115.6,667.6 L116.6,668.3 L117.6,669.1 L118.6,670 L119.6,671 L120.6,672 L121.6,672.9 L122.6,673.9 L123.6,674.8 L124.6,675.7 L125.6,676.6 L126.6,677.5 L127.6,678.4 L128.6,679.3 L129.6,680.2 L130.6,681.1 L131.6,682.1 L132.6,683 L133.6,683.9 L134.6,684.8 L135.6,685.7 L136.6,686.6 L137.6,687.5 L138.6,688.4 L139.6,689.3 L140.6,690.2 L141.6,691.1 L142.6,692 L143.6,692.9 L144.6,693.8 L145.6,694.7 L146.6,695.6 L147.6,696.5 L148.6,697.5 L149.6,698.4 L150.6,699.3 L151.6,700.2 L152.6,701.1 L153.6,702.1 L154.6,703.1 L155.6,704.1 L156.6,705.3 L157.6,706.6 L158.6,708.1 L159.6,709.6 L160.6,711.2 L161.6,712.8 L162.6,714.3 L163.6,715.9 L164.6,717.6 L165.6,719.3 L166.6,721 L167.6,722.8 L168.6,724.5 L169.6,726.1 L170.6,727.6 L171.6,729.1 L172.6,730.5 L173.6,731.9 L174.6,733.2 L175.6,734.5 L176.6,735.8 L177.6,737 L178.6,738.2 L179.6,739.4 L180.6,740.5 L181.6,741.6 L182.6,742.7 L183.6,743.9 L184.6,745 L185.6,746 L186.6,747.1 L187.6,748.1 L188.6,749.1 L189.6,750 L190.6,750.9 L191.6,751.8 L192.6,752.6 L193.6,753.3 L194.6,754.1 L195.6,754.8 L196.6,755.5 L197.6,756.2 L198.6,756.8 L199.6,757.5 L200.6,758.1 L201.6,758.7 L202.6,759.3 L203.6,759.8 L204.6,760.4 L205.6,760.9 L206.6,761.4 L207.6,761.9 L208.6,762.4 L209.6,762.8 L210.6,763.2 L211.6,763.7 L212.6,764.1 L213.6,764.6 L214.6,765.1 L215.6,765.5 L216.6,765.9 L217.6,766.4 L218.6,766.8 L219.6,767.2 L220.6,767.5 L221.6,767.8 L222.6,768.1 L223.6,768.3 L224.6,768.5 L225.6,768.6 L226.6,768.7 L227.6,768.7 L228.6,768.6 L229.6,768.6 L230.6,768.4 L231.6,768.3 L232.6,768.1 L233.6,767.9 L234.6,767.6 L235.6,767.3 L236.6,767 L237.6,766.6 L238.6,766.2 L239.6,765.8 L240.6,765.4 L241.6,765 L242.6,764.5 L243.6,764 L244.6,763.5 L245.6,763 L246.6,762.5 L247.6,762 L248.6,761.4 L249.6,760.9 L250.6,760.2 L251.6,759.5 L252.6,758.6 L253.6,757.6 L254.6,756.5 L255.6,755.3 L256.6,754.1 L257.6,752.8 L258.6,751.5 L259.6,750.1 L260.6,748.7 L261.6,747.4 L262.6,746 L263.6,744.7 L264.6,743.5 L265.6,742.3 L266.6,741.1 L267.6,740 L268.6,738.9 L269.6,737.8 L270.6,736.7 L271.6,735.6 L272.6,734.5 L273.6,733.4 L274.6,732.3 L275.6,731.2 L276.6,730.1 L277.6,729 L278.6,727.9 L279.6,726.7 L280.6,725.6 L281.6,724.4 L282.6,723.3 L283.6,722.2 L284.6,721 L285.6,719.9 L286.6,718.7 L287.6,717.5 L288.6,716.4 L289.6,715.2 L290.6,714 L291.6,712.8 L292.6,711.6 L293.6,710.3 L294.6,709.1" stroke="#0000ff" stroke-opacity="0.6" stroke-width="1.2" stroke-dasharray="3.8 1.8"/><path d="M35.6,703.7 L36.6,702.4 L37.6,701.1 L38.6,699.7 L39.6,698.4 L40.6,697 L41.6,695.6 L42.6,694.2 L43.6,692.8 L44.6,691.4 L45.6,690 L46.6,688.7 L47.6,687.4 L48.6,686.2 L49.6,685 L50.6,683.7 L51.6,682.5 L52.6,681.3 L53.6,680.1 L54.6,678.9 L55.6,677.8 L56.6,676.7 L57.6,675.6 L58.6,674.5 L59.6,673.5 L60.6,672.6 L61.6,671.7 L62.6,670.9 L63.6,670 L64.6,669.2 L65.6,668.4 L66.6,667.6 L67.6,666.8 L68.6,666.1 L69.6,665.4 L70.6,664.7 L71.6,664.1 L72.6,663.5 L73.6,663 L74.6,662.6 L75.6,662.1 L76.6,661.7 L77.6,661.3 L78.6,660.9 L79.6,660.4 L80.6,660 L81.6,659.7 L82.6,659.3 L83.6,658.9 L84.6,658.6 L85.6,658.3 L86.6,658.1 L87.6,657.8 L88.6,657.6 L89.6,657.5 L90.6,657.4 L91.6,657.4 L92.6,657.4 L93.6,657.4 L94.6,657.4 L95.6,657.4 L96.6,657.5 L97.6,657.5 L98.6,657.6 L99.6,657.6 L100.6,657.7 L101.6,657.8 L102.6,657.8 L103.6,657.9 L104.6,658 L105.6,658.2 L106.6,658.4 L107.6,658.7 L108.6,659.1 L109.6,659.5 L110.6,659.9 L111.6,660.4 L112.6,660.8 L113.6,661.4 L114.6,661.9 L115.6,662.5 L116.6,663.2 L117.6,664 L118.6,664.9 L119.6,665.9 L120.6,666.8 L121.6,667.8 L122.6,668.8 L123.6,669.7 L124.6,670.6 L125.6,671.5 L126.6,672.4 L127.6,673.3 L128.6,674.2 L129.6,675.1 L130.6,676 L131.6,676.9 L132.6,677.9 L133.6,678.8 L134.6,679.7 L135.6,680.6 L136.6,681.5 L137.6,682.4 L138.6,683.3 L139.6,684.2 L140.6,685.1 L141.6,686 L142.6,686.9 L143.6,687.8 L144.6,688.7 L145.6,689.6 L146.6,690.5 L147.6,691.4 L148.6,692.3 L149.6,693.3 L150.6,694.2 L151.6,695.1 L152.6,696 L153.6,697 L154.6,698 L155.6,699 L156.6,700.2 L157.6,701.5 L158.6,703 L159.6,704.5 L160.6,706 L161.6,707.6 L162.6,709.2 L163.6,710.8 L164.6,712.5 L165.6,714.2 L166.6,715.9 L167.6,717.6 L168.6,719.3 L169.6,721 L170.6,722.5 L171.6,724 L172.6,725.4 L173.6,726.7 L174.6,728.1 L175.6,729.4 L176.6,730.6 L177.6,731.9 L178.6,733.1 L179.6,734.2 L180.6,735.4 L181.6,736.5 L182.6,737.6 L183.6,738.7 L184.6,739.8 L185.6,740.9 L186.6,742 L187.6,743 L188.6,744 L189.6,744.9 L190.6,745.8 L191.6,746.7 L192.6,747.5 L193.6,748.2 L194.6,749 L195.6,749.7 L196.6,750.4 L197.6,751.1 L198.6,751.7 L199.6,752.4 L200.6,753 L201.6,753.6 L202.6,754.2 L203.6,754.7 L204.6,755.3 L205.6,755.8 L206.6,756.3 L207.6,756.8 L208.6,757.2 L209.6,757.7 L210.6,758.1 L211.6,758.6 L212.6,759 L213.6,759.5 L214.6,759.9 L215.6,760.4 L216.6,760.8 L217.6,761.3 L218.6,761.7 L219.6,762 L220.6,762.4 L221.6,762.7 L222.6,763 L223.6,763.2 L224.6,763.4 L225.6,763.5 L226.6,763.6 L227.6,763.6 L228.6,763.5 L229.6,763.5 L230.6,763.3 L231.6,763.2 L232.6,763 L233.6,762.7 L234.6,762.5 L235.6,762.2 L236.6,761.9 L237.6,761.5 L238.6,761.1 L239.6,760.7 L240.6,760.3 L241.6,759.9 L242.6,759.4 L243.6,758.9 L244.6,758.4 L245.6,757.9 L246.6,757.4 L247.6,756.8 L248.6,756.3 L249.6,755.8 L250.6,755.1 L251.6,754.4 L252.6,753.5 L253.6,752.5 L254.6,751.4 L255.6,750.2 L256.6,749 L257.6,747.7 L258.6,746.3 L259.6,745 L260.6,743.6 L261.6,742.2 L262.6,740.9 L263.6,739.6 L264.6,738.3 L265.6,737.1 L266.6,736 L267.6,734.9 L268.6,733.8 L269.6,732.7 L270.6,731.6 L271.6,730.5 L272.6,729.4 L273.6,728.3 L274.6,727.2 L275.6,726.1 L276.6,725 L277.6,723.9 L278.6,722.7 L279.6,721.6 L280.6,720.5 L281.6,719.3 L282.6,718.2 L283.6,717 L284.6,715.9 L285.6,714.7 L286.6,713.6 L287.6,712.4 L288.6,711.2 L289.6,710.1 L290.6,708.9 L291.6,707.7 L292.6,706.4 L293.6,705.2 L294.6,704" stroke="#0000ff" stroke-opacity="0.6" stroke-width="1.1"/></g><path d="M35.6,638.4 H170.7 M35.6,638.4 V769.3 H170.7" stroke="#9a9a9a" stroke-width="1" fill="none"/><path d="M170.7,638.4 H294.8 M170.7,769.3 H294.8" stroke="#6c6c6c" stroke-width="1" fill="none"/><path d="M294.3,638.4 V769.3" stroke="#6c6c6c" stroke-width="1" fill="none"/><path d="M33.1,758.77 H35.6" stroke="#9a9a9a" stroke-width="1"/><text x="31.6" y="761.97" font-size="9.3" text-anchor="end">10</text><path d="M33.1,728.68 H35.6" stroke="#9a9a9a" stroke-width="1"/><text x="31.6" y="731.88" font-size="9.3" text-anchor="end">11</text><path d="M33.1,698.58 H35.6" stroke="#9a9a9a" stroke-width="1"/><text x="31.6" y="701.78" font-size="9.3" text-anchor="end">12</text><path d="M33.1,668.49 H35.6" stroke="#9a9a9a" stroke-width="1"/><text x="31.6" y="671.69" font-size="9.3" text-anchor="end">13</text><path d="M33.1,638.4 H35.6" stroke="#9a9a9a" stroke-width="1"/><text x="31.6" y="641.6" font-size="9.3" text-anchor="end">14</text><path d="M35.6,769.3 V771.8 M170.7,769.3 V771.8" stroke="#9a9a9a" stroke-width="1"/><text x="35.6" y="780.1" font-size="9.3" text-anchor="middle">Sunrise</text><text x="170.7" y="779.9" font-size="9.3" text-anchor="middle">Sunset</text><text x="165.2" y="789.7" font-size="9.3" text-anchor="middle">Time of day</text><text transform="translate(16.3,703.85) rotate(-90) scale(0.92,1)" font-size="10.1" text-anchor="middle">AH (g m<tspan font-size="6.5" dy="-3.8">-3</tspan><tspan dy="3.8">)</tspan></text><text transform="translate(-0.75,631.7) scale(0.93,1)" font-size="14.5">(g)</text><rect x="73.2" y="796.2" width="184.2" height="14.5" fill="#fff" stroke="#c2c2c2" stroke-width="1.6"/><path d="M73.2,795.7 V811.2 M257.4,795.7 V811.2" stroke="#9a9a9a" stroke-width="1" fill="none"/><path d="M76.5,803.5 H100.7" stroke="#0000ff" stroke-opacity="0.7" stroke-width="1.0"/><text x="104.7" y="806.7" font-size="9.3">Control</text><path d="M144.4,803.5 H168.5" stroke="#ff0000" stroke-opacity="0.7" stroke-width="1.0"/><text x="172.8" y="806.7" font-size="9.3">Gap</text><path d="M200.4,803.5 H224.6" stroke="#008000" stroke-opacity="0.7" stroke-width="1.0"/><text x="229" y="806.7" font-size="9.3">Under</text></g>
<g><rect x="478.2" y="638.4" width="122.6" height="130.9" fill="#808080"/><g clip-path="url(#cph)" fill="none"><path d="M344.4,742.1 L345.4,741.6 L346.4,741 L347.4,740.5 L348.4,739.9 L349.4,739.3 L350.4,738.7 L351.4,738.1 L352.4,737.5 L353.4,736.8 L354.4,736.1 L355.4,735.4 L356.4,734.7 L357.4,733.9 L358.4,733.1 L359.4,732.2 L360.4,731.4 L361.4,730.5 L362.4,729.6 L363.4,728.6 L364.4,727.7 L365.4,726.7 L366.4,725.6 L367.4,724.6 L368.4,723.5 L369.4,722.4 L370.4,721.2 L371.4,720.1 L372.4,718.9 L373.4,717.8 L374.4,716.6 L375.4,715.5 L376.4,714.3 L377.4,713.2 L378.4,712.1 L379.4,711 L380.4,710 L381.4,709 L382.4,708 L383.4,707 L384.4,706.1 L385.4,705.1 L386.4,704.2 L387.4,703.3 L388.4,702.4 L389.4,701.5 L390.4,700.6 L391.4,699.7 L392.4,698.7 L393.4,697.8 L394.4,696.9 L395.4,695.9 L396.4,695 L397.4,694 L398.4,693 L399.4,692 L400.4,691 L401.4,690 L402.4,689 L403.4,688 L404.4,687 L405.4,686 L406.4,685 L407.4,683.9 L408.4,682.9 L409.4,681.9 L410.4,680.9 L411.4,679.9 L412.4,678.9 L413.4,678 L414.4,677 L415.4,676 L416.4,675.1 L417.4,674.1 L418.4,673.2 L419.4,672.3 L420.4,671.4 L421.4,670.5 L422.4,669.6 L423.4,668.7 L424.4,667.8 L425.4,666.9 L426.4,666.1 L427.4,665.2 L428.4,664.4 L429.4,663.6 L430.4,662.8 L431.4,662 L432.4,661.3 L433.4,660.6 L434.4,659.9 L435.4,659.2 L436.4,658.6 L437.4,658 L438.4,657.4 L439.4,656.9 L440.4,656.4 L441.4,656 L442.4,655.6 L443.4,655.2 L444.4,655 L445.4,654.7 L446.4,654.5 L447.4,654.4 L448.4,654.3 L449.4,654.3 L450.4,654.3 L451.4,654.4 L452.4,654.5 L453.4,654.6 L454.4,654.8 L455.4,654.9 L456.4,655.2 L457.4,655.4 L458.4,655.7 L459.4,656 L460.4,656.3 L461.4,656.6 L462.4,656.9 L463.4,657.2 L464.4,657.6 L465.4,658 L466.4,658.4 L467.4,658.9 L468.4,659.3 L469.4,659.8 L470.4,660.4 L471.4,660.9 L472.4,661.6 L473.4,662.2 L474.4,662.9 L475.4,663.6 L476.4,664.4 L477.4,665.2 L478.4,666 L479.4,666.9 L480.4,667.9 L481.4,668.9 L482.4,669.9 L483.4,670.9 L484.4,672 L485.4,673.1 L486.4,674.3 L487.4,675.4 L488.4,676.6 L489.4,677.7 L490.4,678.9 L491.4,680.1 L492.4,681.2 L493.4,682.4 L494.4,683.5 L495.4,684.7 L496.4,685.8 L497.4,686.9 L498.4,688 L499.4,689.1 L500.4,690.1 L501.4,691.2 L502.4,692.2 L503.4,693.3 L504.4,694.3 L505.4,695.4 L506.4,696.5 L507.4,697.5 L508.4,698.6 L509.4,699.7 L510.4,700.8 L511.4,701.9 L512.4,703 L513.4,704.2 L514.4,705.3 L515.4,706.5 L516.4,707.7 L517.4,708.9 L518.4,710.1 L519.4,711.3 L520.4,712.5 L521.4,713.7 L522.4,715 L523.4,716.2 L524.4,717.4 L525.4,718.6 L526.4,719.8 L527.4,720.9 L528.4,722.1 L529.4,723.2 L530.4,724.4 L531.4,725.4 L532.4,726.5 L533.4,727.6 L534.4,728.6 L535.4,729.6 L536.4,730.6 L537.4,731.5 L538.4,732.4 L539.4,733.4 L540.4,734.2 L541.4,735.1 L542.4,735.9 L543.4,736.8 L544.4,737.6 L545.4,738.3 L546.4,739.1 L547.4,739.8 L548.4,740.6 L549.4,741.2 L550.4,741.9 L551.4,742.6 L552.4,743.2 L553.4,743.8 L554.4,744.4 L555.4,745 L556.4,745.5 L557.4,746 L558.4,746.5 L559.4,746.9 L560.4,747.4 L561.4,747.8 L562.4,748.1 L563.4,748.5 L564.4,748.8 L565.4,749.1 L566.4,749.3 L567.4,749.5 L568.4,749.7 L569.4,749.8 L570.4,749.9 L571.4,750 L572.4,750.1 L573.4,750.1 L574.4,750 L575.4,750 L576.4,749.9 L577.4,749.8 L578.4,749.7 L579.4,749.5 L580.4,749.3 L581.4,749.1 L582.4,748.9 L583.4,748.7 L584.4,748.4 L585.4,748.1 L586.4,747.9 L587.4,747.6 L588.4,747.2 L589.4,746.9 L590.4,746.6 L591.4,746.2 L592.4,745.9 L593.4,745.5 L594.4,745.1 L595.4,744.7 L596.4,744.2 L597.4,743.8 L598.4,743.3 L599.4,742.9 L600.4,742.4" stroke="#ff0000" stroke-opacity="0.6" stroke-width="1.2" stroke-dasharray="3.8 1.8"/><path d="M344.4,752.5 L345.4,752 L346.4,751.5 L347.4,751 L348.4,750.4 L349.4,749.8 L350.4,749.2 L351.4,748.6 L352.4,747.9 L353.4,747.3 L354.4,746.6 L355.4,745.9 L356.4,745.1 L357.4,744.4 L358.4,743.6 L359.4,742.7 L360.4,741.9 L361.4,741 L362.4,740.1 L363.4,739.1 L364.4,738.1 L365.4,737.1 L366.4,736.1 L367.4,735.1 L368.4,734 L369.4,732.8 L370.4,731.7 L371.4,730.6 L372.4,729.4 L373.4,728.3 L374.4,727.1 L375.4,726 L376.4,724.8 L377.4,723.7 L378.4,722.6 L379.4,721.5 L380.4,720.5 L381.4,719.4 L382.4,718.4 L383.4,717.5 L384.4,716.5 L385.4,715.6 L386.4,714.7 L387.4,713.8 L388.4,712.9 L389.4,712 L390.4,711 L391.4,710.1 L392.4,709.2 L393.4,708.3 L394.4,707.3 L395.4,706.4 L396.4,705.4 L397.4,704.5 L398.4,703.5 L399.4,702.5 L400.4,701.5 L401.4,700.5 L402.4,699.5 L403.4,698.5 L404.4,697.5 L405.4,696.4 L406.4,695.4 L407.4,694.4 L408.4,693.4 L409.4,692.4 L410.4,691.4 L411.4,690.4 L412.4,689.4 L413.4,688.4 L414.4,687.5 L415.4,686.5 L416.4,685.6 L417.4,684.6 L418.4,683.7 L419.4,682.8 L420.4,681.8 L421.4,680.9 L422.4,680 L423.4,679.2 L424.4,678.3 L425.4,677.4 L426.4,676.6 L427.4,675.7 L428.4,674.9 L429.4,674.1 L430.4,673.3 L431.4,672.5 L432.4,671.8 L433.4,671.1 L434.4,670.4 L435.4,669.7 L436.4,669.1 L437.4,668.5 L438.4,667.9 L439.4,667.4 L440.4,666.9 L441.4,666.5 L442.4,666.1 L443.4,665.7 L444.4,665.4 L445.4,665.2 L446.4,665 L447.4,664.9 L448.4,664.8 L449.4,664.8 L450.4,664.8 L451.4,664.8 L452.4,664.9 L453.4,665.1 L454.4,665.2 L455.4,665.4 L456.4,665.6 L457.4,665.9 L458.4,666.1 L459.4,666.4 L460.4,666.7 L461.4,667 L462.4,667.4 L463.4,667.7 L464.4,668.1 L465.4,668.5 L466.4,668.9 L467.4,669.3 L468.4,669.8 L469.4,670.3 L470.4,670.9 L471.4,671.4 L472.4,672 L473.4,672.7 L474.4,673.3 L475.4,674.1 L476.4,674.8 L477.4,675.6 L478.4,676.5 L479.4,677.4 L480.4,678.3 L481.4,679.3 L482.4,680.3 L483.4,681.4 L484.4,682.5 L485.4,683.6 L486.4,684.7 L487.4,685.9 L488.4,687 L489.4,688.2 L490.4,689.4 L491.4,690.5 L492.4,691.7 L493.4,692.9 L494.4,694 L495.4,695.1 L496.4,696.3 L497.4,697.4 L498.4,698.4 L499.4,699.5 L500.4,700.6 L501.4,701.7 L502.4,702.7 L503.4,703.8 L504.4,704.8 L505.4,705.9 L506.4,706.9 L507.4,708 L508.4,709.1 L509.4,710.2 L510.4,711.3 L511.4,712.4 L512.4,713.5 L513.4,714.6 L514.4,715.8 L515.4,717 L516.4,718.2 L517.4,719.4 L518.4,720.6 L519.4,721.8 L520.4,723 L521.4,724.2 L522.4,725.4 L523.4,726.6 L524.4,727.9 L525.4,729.1 L526.4,730.2 L527.4,731.4 L528.4,732.6 L529.4,733.7 L530.4,734.8 L531.4,735.9 L532.4,737 L533.4,738 L534.4,739.1 L535.4,740.1 L536.4,741 L537.4,742 L538.4,742.9 L539.4,743.8 L540.4,744.7 L541.4,745.6 L542.4,746.4 L543.4,747.2 L544.4,748 L545.4,748.8 L546.4,749.6 L547.4,750.3 L548.4,751 L549.4,751.7 L550.4,752.4 L551.4,753 L552.4,753.7 L553.4,754.3 L554.4,754.9 L555.4,755.4 L556.4,756 L557.4,756.5 L558.4,757 L559.4,757.4 L560.4,757.8 L561.4,758.2 L562.4,758.6 L563.4,758.9 L564.4,759.3 L565.4,759.5 L566.4,759.8 L567.4,760 L568.4,760.2 L569.4,760.3 L570.4,760.4 L571.4,760.5 L572.4,760.5 L573.4,760.5 L574.4,760.5 L575.4,760.5 L576.4,760.4 L577.4,760.3 L578.4,760.1 L579.4,760 L580.4,759.8 L581.4,759.6 L582.4,759.4 L583.4,759.1 L584.4,758.9 L585.4,758.6 L586.4,758.3 L587.4,758 L588.4,757.7 L589.4,757.4 L590.4,757.1 L591.4,756.7 L592.4,756.3 L593.4,755.9 L594.4,755.5 L595.4,755.1 L596.4,754.7 L597.4,754.3 L598.4,753.8 L599.4,753.3 L600.4,752.8" stroke="#ff0000" stroke-opacity="0.6" stroke-width="1.2" stroke-dasharray="3.8 1.8"/><path d="M344.4,747.3 L345.4,746.8 L346.4,746.3 L347.4,745.7 L348.4,745.2 L349.4,744.6 L350.4,744 L351.4,743.4 L352.4,742.7 L353.4,742 L354.4,741.3 L355.4,740.6 L356.4,739.9 L357.4,739.1 L358.4,738.3 L359.4,737.5 L360.4,736.6 L361.4,735.7 L362.4,734.8 L363.4,733.9 L364.4,732.9 L365.4,731.9 L366.4,730.9 L367.4,729.8 L368.4,728.7 L369.4,727.6 L370.4,726.5 L371.4,725.3 L372.4,724.2 L373.4,723 L374.4,721.9 L375.4,720.7 L376.4,719.6 L377.4,718.4 L378.4,717.3 L379.4,716.3 L380.4,715.2 L381.4,714.2 L382.4,713.2 L383.4,712.2 L384.4,711.3 L385.4,710.4 L386.4,709.4 L387.4,708.5 L388.4,707.6 L389.4,706.7 L390.4,705.8 L391.4,704.9 L392.4,704 L393.4,703 L394.4,702.1 L395.4,701.2 L396.4,700.2 L397.4,699.2 L398.4,698.2 L399.4,697.2 L400.4,696.3 L401.4,695.3 L402.4,694.2 L403.4,693.2 L404.4,692.2 L405.4,691.2 L406.4,690.2 L407.4,689.2 L408.4,688.2 L409.4,687.2 L410.4,686.2 L411.4,685.2 L412.4,684.2 L413.4,683.2 L414.4,682.2 L415.4,681.3 L416.4,680.3 L417.4,679.4 L418.4,678.4 L419.4,677.5 L420.4,676.6 L421.4,675.7 L422.4,674.8 L423.4,673.9 L424.4,673 L425.4,672.2 L426.4,671.3 L427.4,670.5 L428.4,669.7 L429.4,668.8 L430.4,668.1 L431.4,667.3 L432.4,666.5 L433.4,665.8 L434.4,665.1 L435.4,664.5 L436.4,663.8 L437.4,663.2 L438.4,662.7 L439.4,662.1 L440.4,661.7 L441.4,661.2 L442.4,660.8 L443.4,660.5 L444.4,660.2 L445.4,660 L446.4,659.8 L447.4,659.6 L448.4,659.6 L449.4,659.5 L450.4,659.6 L451.4,659.6 L452.4,659.7 L453.4,659.8 L454.4,660 L455.4,660.2 L456.4,660.4 L457.4,660.6 L458.4,660.9 L459.4,661.2 L460.4,661.5 L461.4,661.8 L462.4,662.1 L463.4,662.5 L464.4,662.9 L465.4,663.2 L466.4,663.7 L467.4,664.1 L468.4,664.6 L469.4,665.1 L470.4,665.6 L471.4,666.2 L472.4,666.8 L473.4,667.4 L474.4,668.1 L475.4,668.8 L476.4,669.6 L477.4,670.4 L478.4,671.3 L479.4,672.2 L480.4,673.1 L481.4,674.1 L482.4,675.1 L483.4,676.2 L484.4,677.3 L485.4,678.4 L486.4,679.5 L487.4,680.6 L488.4,681.8 L489.4,683 L490.4,684.1 L491.4,685.3 L492.4,686.5 L493.4,687.6 L494.4,688.8 L495.4,689.9 L496.4,691 L497.4,692.1 L498.4,693.2 L499.4,694.3 L500.4,695.4 L501.4,696.4 L502.4,697.5 L503.4,698.5 L504.4,699.6 L505.4,700.6 L506.4,701.7 L507.4,702.8 L508.4,703.8 L509.4,704.9 L510.4,706 L511.4,707.1 L512.4,708.3 L513.4,709.4 L514.4,710.6 L515.4,711.7 L516.4,712.9 L517.4,714.1 L518.4,715.3 L519.4,716.5 L520.4,717.8 L521.4,719 L522.4,720.2 L523.4,721.4 L524.4,722.6 L525.4,723.8 L526.4,725 L527.4,726.2 L528.4,727.3 L529.4,728.5 L530.4,729.6 L531.4,730.7 L532.4,731.8 L533.4,732.8 L534.4,733.8 L535.4,734.8 L536.4,735.8 L537.4,736.8 L538.4,737.7 L539.4,738.6 L540.4,739.5 L541.4,740.3 L542.4,741.2 L543.4,742 L544.4,742.8 L545.4,743.6 L546.4,744.3 L547.4,745.1 L548.4,745.8 L549.4,746.5 L550.4,747.2 L551.4,747.8 L552.4,748.4 L553.4,749.1 L554.4,749.6 L555.4,750.2 L556.4,750.7 L557.4,751.2 L558.4,751.7 L559.4,752.2 L560.4,752.6 L561.4,753 L562.4,753.4 L563.4,753.7 L564.4,754 L565.4,754.3 L566.4,754.5 L567.4,754.8 L568.4,754.9 L569.4,755.1 L570.4,755.2 L571.4,755.3 L572.4,755.3 L573.4,755.3 L574.4,755.3 L575.4,755.2 L576.4,755.1 L577.4,755 L578.4,754.9 L579.4,754.7 L580.4,754.6 L581.4,754.4 L582.4,754.1 L583.4,753.9 L584.4,753.6 L585.4,753.4 L586.4,753.1 L587.4,752.8 L588.4,752.5 L589.4,752.2 L590.4,751.8 L591.4,751.5 L592.4,751.1 L593.4,750.7 L594.4,750.3 L595.4,749.9 L596.4,749.5 L597.4,749 L598.4,748.6 L599.4,748.1 L600.4,747.6" stroke="#ff0000" stroke-opacity="0.6" stroke-width="1.1"/><path d="M344.4,736.8 L345.4,736.1 L346.4,735.4 L347.4,734.7 L348.4,734 L349.4,733.3 L350.4,732.5 L351.4,731.8 L352.4,731 L353.4,730.2 L354.4,729.4 L355.4,728.6 L356.4,727.7 L357.4,726.8 L358.4,725.9 L359.4,724.9 L360.4,724 L361.4,723 L362.4,721.9 L363.4,720.9 L364.4,719.9 L365.4,718.8 L366.4,717.7 L367.4,716.6 L368.4,715.5 L369.4,714.3 L370.4,713.2 L371.4,712.1 L372.4,710.9 L373.4,709.8 L374.4,708.7 L375.4,707.5 L376.4,706.4 L377.4,705.3 L378.4,704.2 L379.4,703.1 L380.4,702 L381.4,700.9 L382.4,699.9 L383.4,698.8 L384.4,697.8 L385.4,696.8 L386.4,695.8 L387.4,694.8 L388.4,693.8 L389.4,692.9 L390.4,691.9 L391.4,691 L392.4,690.1 L393.4,689.1 L394.4,688.2 L395.4,687.3 L396.4,686.3 L397.4,685.4 L398.4,684.4 L399.4,683.5 L400.4,682.5 L401.4,681.5 L402.4,680.6 L403.4,679.6 L404.4,678.6 L405.4,677.7 L406.4,676.7 L407.4,675.7 L408.4,674.8 L409.4,673.8 L410.4,672.8 L411.4,671.9 L412.4,670.9 L413.4,670 L414.4,669 L415.4,668.1 L416.4,667.2 L417.4,666.3 L418.4,665.4 L419.4,664.5 L420.4,663.7 L421.4,662.8 L422.4,662.1 L423.4,661.3 L424.4,660.6 L425.4,659.9 L426.4,659.3 L427.4,658.7 L428.4,658.1 L429.4,657.5 L430.4,656.9 L431.4,656.4 L432.4,655.8 L433.4,655.2 L434.4,654.7 L435.4,654.1 L436.4,653.5 L437.4,653 L438.4,652.4 L439.4,651.9 L440.4,651.5 L441.4,651.1 L442.4,650.7 L443.4,650.4 L444.4,650.2 L445.4,650 L446.4,650 L447.4,650 L448.4,650.1 L449.4,650.2 L450.4,650.4 L451.4,650.7 L452.4,650.9 L453.4,651.3 L454.4,651.6 L455.4,652 L456.4,652.4 L457.4,652.8 L458.4,653.3 L459.4,653.7 L460.4,654.1 L461.4,654.5 L462.4,654.9 L463.4,655.3 L464.4,655.7 L465.4,656.1 L466.4,656.5 L467.4,656.9 L468.4,657.4 L469.4,657.8 L470.4,658.3 L471.4,658.9 L472.4,659.4 L473.4,660 L474.4,660.7 L475.4,661.4 L476.4,662.1 L477.4,662.9 L478.4,663.8 L479.4,664.7 L480.4,665.7 L481.4,666.8 L482.4,667.8 L483.4,669 L484.4,670.1 L485.4,671.3 L486.4,672.6 L487.4,673.8 L488.4,675.1 L489.4,676.3 L490.4,677.6 L491.4,678.9 L492.4,680.1 L493.4,681.4 L494.4,682.6 L495.4,683.8 L496.4,684.9 L497.4,686.1 L498.4,687.2 L499.4,688.3 L500.4,689.4 L501.4,690.4 L502.4,691.5 L503.4,692.5 L504.4,693.6 L505.4,694.6 L506.4,695.7 L507.4,696.7 L508.4,697.7 L509.4,698.8 L510.4,699.8 L511.4,700.9 L512.4,702 L513.4,703.1 L514.4,704.2 L515.4,705.4 L516.4,706.5 L517.4,707.7 L518.4,708.8 L519.4,710 L520.4,711.2 L521.4,712.4 L522.4,713.6 L523.4,714.8 L524.4,715.9 L525.4,717.1 L526.4,718.3 L527.4,719.4 L528.4,720.6 L529.4,721.7 L530.4,722.8 L531.4,723.9 L532.4,724.9 L533.4,726 L534.4,727 L535.4,728 L536.4,729 L537.4,729.9 L538.4,730.9 L539.4,731.8 L540.4,732.7 L541.4,733.5 L542.4,734.4 L543.4,735.2 L544.4,736 L545.4,736.8 L546.4,737.5 L547.4,738.3 L548.4,739 L549.4,739.7 L550.4,740.3 L551.4,741 L552.4,741.6 L553.4,742.2 L554.4,742.7 L555.4,743.3 L556.4,743.8 L557.4,744.3 L558.4,744.7 L559.4,745.2 L560.4,745.6 L561.4,746 L562.4,746.3 L563.4,746.6 L564.4,746.9 L565.4,747.2 L566.4,747.4 L567.4,747.7 L568.4,747.8 L569.4,748 L570.4,748.1 L571.4,748.2 L572.4,748.3 L573.4,748.3 L574.4,748.3 L575.4,748.3 L576.4,748.2 L577.4,748.1 L578.4,748 L579.4,747.8 L580.4,747.6 L581.4,747.4 L582.4,747.1 L583.4,746.8 L584.4,746.5 L585.4,746.1 L586.4,745.7 L587.4,745.2 L588.4,744.7 L589.4,744.2 L590.4,743.7 L591.4,743.1 L592.4,742.5 L593.4,741.9 L594.4,741.3 L595.4,740.6 L596.4,740 L597.4,739.3 L598.4,738.6 L599.4,737.9 L600.4,737.3" stroke="#0000ff" stroke-opacity="0.6" stroke-width="1.2" stroke-dasharray="3.8 1.8"/><path d="M344.4,746.3 L345.4,745.6 L346.4,744.9 L347.4,744.1 L348.4,743.4 L349.4,742.7 L350.4,742 L351.4,741.2 L352.4,740.4 L353.4,739.6 L354.4,738.8 L355.4,738 L356.4,737.1 L357.4,736.2 L358.4,735.3 L359.4,734.4 L360.4,733.4 L361.4,732.4 L362.4,731.4 L363.4,730.3 L364.4,729.3 L365.4,728.2 L366.4,727.1 L367.4,726 L368.4,724.9 L369.4,723.8 L370.4,722.6 L371.4,721.5 L372.4,720.4 L373.4,719.2 L374.4,718.1 L375.4,716.9 L376.4,715.8 L377.4,714.7 L378.4,713.6 L379.4,712.5 L380.4,711.4 L381.4,710.3 L382.4,709.3 L383.4,708.3 L384.4,707.2 L385.4,706.2 L386.4,705.2 L387.4,704.2 L388.4,703.3 L389.4,702.3 L390.4,701.4 L391.4,700.4 L392.4,699.5 L393.4,698.6 L394.4,697.6 L395.4,696.7 L396.4,695.8 L397.4,694.8 L398.4,693.9 L399.4,692.9 L400.4,691.9 L401.4,691 L402.4,690 L403.4,689 L404.4,688.1 L405.4,687.1 L406.4,686.1 L407.4,685.2 L408.4,684.2 L409.4,683.2 L410.4,682.3 L411.4,681.3 L412.4,680.3 L413.4,679.4 L414.4,678.5 L415.4,677.5 L416.4,676.6 L417.4,675.7 L418.4,674.8 L419.4,673.9 L420.4,673.1 L421.4,672.3 L422.4,671.5 L423.4,670.7 L424.4,670 L425.4,669.4 L426.4,668.7 L427.4,668.1 L428.4,667.5 L429.4,666.9 L430.4,666.4 L431.4,665.8 L432.4,665.2 L433.4,664.7 L434.4,664.1 L435.4,663.5 L436.4,662.9 L437.4,662.4 L438.4,661.8 L439.4,661.4 L440.4,660.9 L441.4,660.5 L442.4,660.1 L443.4,659.8 L444.4,659.6 L445.4,659.5 L446.4,659.4 L447.4,659.4 L448.4,659.5 L449.4,659.6 L450.4,659.8 L451.4,660.1 L452.4,660.4 L453.4,660.7 L454.4,661.1 L455.4,661.5 L456.4,661.9 L457.4,662.3 L458.4,662.7 L459.4,663.1 L460.4,663.5 L461.4,663.9 L462.4,664.3 L463.4,664.7 L464.4,665.1 L465.4,665.5 L466.4,665.9 L467.4,666.3 L468.4,666.8 L469.4,667.2 L470.4,667.7 L471.4,668.3 L472.4,668.8 L473.4,669.4 L474.4,670.1 L475.4,670.8 L476.4,671.5 L477.4,672.4 L478.4,673.2 L479.4,674.1 L480.4,675.1 L481.4,676.2 L482.4,677.3 L483.4,678.4 L484.4,679.6 L485.4,680.8 L486.4,682 L487.4,683.2 L488.4,684.5 L489.4,685.8 L490.4,687 L491.4,688.3 L492.4,689.5 L493.4,690.8 L494.4,692 L495.4,693.2 L496.4,694.4 L497.4,695.5 L498.4,696.6 L499.4,697.7 L500.4,698.8 L501.4,699.9 L502.4,700.9 L503.4,702 L504.4,703 L505.4,704 L506.4,705.1 L507.4,706.1 L508.4,707.2 L509.4,708.2 L510.4,709.3 L511.4,710.3 L512.4,711.4 L513.4,712.5 L514.4,713.6 L515.4,714.8 L516.4,715.9 L517.4,717.1 L518.4,718.3 L519.4,719.4 L520.4,720.6 L521.4,721.8 L522.4,723 L523.4,724.2 L524.4,725.4 L525.4,726.5 L526.4,727.7 L527.4,728.8 L528.4,730 L529.4,731.1 L530.4,732.2 L531.4,733.3 L532.4,734.4 L533.4,735.4 L534.4,736.4 L535.4,737.4 L536.4,738.4 L537.4,739.4 L538.4,740.3 L539.4,741.2 L540.4,742.1 L541.4,743 L542.4,743.8 L543.4,744.6 L544.4,745.4 L545.4,746.2 L546.4,747 L547.4,747.7 L548.4,748.4 L549.4,749.1 L550.4,749.8 L551.4,750.4 L552.4,751 L553.4,751.6 L554.4,752.2 L555.4,752.7 L556.4,753.2 L557.4,753.7 L558.4,754.2 L559.4,754.6 L560.4,755 L561.4,755.4 L562.4,755.7 L563.4,756.1 L564.4,756.4 L565.4,756.6 L566.4,756.9 L567.4,757.1 L568.4,757.3 L569.4,757.4 L570.4,757.5 L571.4,757.6 L572.4,757.7 L573.4,757.7 L574.4,757.7 L575.4,757.7 L576.4,757.6 L577.4,757.5 L578.4,757.4 L579.4,757.2 L580.4,757 L581.4,756.8 L582.4,756.5 L583.4,756.2 L584.4,755.9 L585.4,755.5 L586.4,755.1 L587.4,754.6 L588.4,754.2 L589.4,753.6 L590.4,753.1 L591.4,752.5 L592.4,752 L593.4,751.3 L594.4,750.7 L595.4,750.1 L596.4,749.4 L597.4,748.7 L598.4,748.1 L599.4,747.4 L600.4,746.7" stroke="#0000ff" stroke-opacity="0.6" stroke-width="1.2" stroke-dasharray="3.8 1.8"/><path d="M344.4,741.5 L345.4,740.8 L346.4,740.1 L347.4,739.4 L348.4,738.7 L349.4,738 L350.4,737.2 L351.4,736.5 L352.4,735.7 L353.4,734.9 L354.4,734.1 L355.4,733.3 L356.4,732.4 L357.4,731.5 L358.4,730.6 L359.4,729.6 L360.4,728.7 L361.4,727.7 L362.4,726.7 L363.4,725.6 L364.4,724.6 L365.4,723.5 L366.4,722.4 L367.4,721.3 L368.4,720.2 L369.4,719.1 L370.4,717.9 L371.4,716.8 L372.4,715.6 L373.4,714.5 L374.4,713.4 L375.4,712.2 L376.4,711.1 L377.4,710 L378.4,708.9 L379.4,707.8 L380.4,706.7 L381.4,705.6 L382.4,704.6 L383.4,703.5 L384.4,702.5 L385.4,701.5 L386.4,700.5 L387.4,699.5 L388.4,698.6 L389.4,697.6 L390.4,696.7 L391.4,695.7 L392.4,694.8 L393.4,693.8 L394.4,692.9 L395.4,692 L396.4,691 L397.4,690.1 L398.4,689.1 L399.4,688.2 L400.4,687.2 L401.4,686.3 L402.4,685.3 L403.4,684.3 L404.4,683.4 L405.4,682.4 L406.4,681.4 L407.4,680.4 L408.4,679.5 L409.4,678.5 L410.4,677.5 L411.4,676.6 L412.4,675.6 L413.4,674.7 L414.4,673.7 L415.4,672.8 L416.4,671.9 L417.4,671 L418.4,670.1 L419.4,669.2 L420.4,668.4 L421.4,667.6 L422.4,666.8 L423.4,666 L424.4,665.3 L425.4,664.7 L426.4,664 L427.4,663.4 L428.4,662.8 L429.4,662.2 L430.4,661.6 L431.4,661.1 L432.4,660.5 L433.4,659.9 L434.4,659.4 L435.4,658.8 L436.4,658.2 L437.4,657.7 L438.4,657.1 L439.4,656.6 L440.4,656.2 L441.4,655.8 L442.4,655.4 L443.4,655.1 L444.4,654.9 L445.4,654.7 L446.4,654.7 L447.4,654.7 L448.4,654.8 L449.4,654.9 L450.4,655.1 L451.4,655.4 L452.4,655.7 L453.4,656 L454.4,656.4 L455.4,656.7 L456.4,657.1 L457.4,657.6 L458.4,658 L459.4,658.4 L460.4,658.8 L461.4,659.2 L462.4,659.6 L463.4,660 L464.4,660.4 L465.4,660.8 L466.4,661.2 L467.4,661.6 L468.4,662.1 L469.4,662.5 L470.4,663 L471.4,663.6 L472.4,664.1 L473.4,664.7 L474.4,665.4 L475.4,666.1 L476.4,666.8 L477.4,667.6 L478.4,668.5 L479.4,669.4 L480.4,670.4 L481.4,671.5 L482.4,672.6 L483.4,673.7 L484.4,674.9 L485.4,676.1 L486.4,677.3 L487.4,678.5 L488.4,679.8 L489.4,681 L490.4,682.3 L491.4,683.6 L492.4,684.8 L493.4,686.1 L494.4,687.3 L495.4,688.5 L496.4,689.7 L497.4,690.8 L498.4,691.9 L499.4,693 L500.4,694.1 L501.4,695.2 L502.4,696.2 L503.4,697.3 L504.4,698.3 L505.4,699.3 L506.4,700.4 L507.4,701.4 L508.4,702.4 L509.4,703.5 L510.4,704.5 L511.4,705.6 L512.4,706.7 L513.4,707.8 L514.4,708.9 L515.4,710.1 L516.4,711.2 L517.4,712.4 L518.4,713.5 L519.4,714.7 L520.4,715.9 L521.4,717.1 L522.4,718.3 L523.4,719.5 L524.4,720.6 L525.4,721.8 L526.4,723 L527.4,724.1 L528.4,725.3 L529.4,726.4 L530.4,727.5 L531.4,728.6 L532.4,729.6 L533.4,730.7 L534.4,731.7 L535.4,732.7 L536.4,733.7 L537.4,734.6 L538.4,735.6 L539.4,736.5 L540.4,737.4 L541.4,738.3 L542.4,739.1 L543.4,739.9 L544.4,740.7 L545.4,741.5 L546.4,742.3 L547.4,743 L548.4,743.7 L549.4,744.4 L550.4,745 L551.4,745.7 L552.4,746.3 L553.4,746.9 L554.4,747.4 L555.4,748 L556.4,748.5 L557.4,749 L558.4,749.4 L559.4,749.9 L560.4,750.3 L561.4,750.7 L562.4,751 L563.4,751.3 L564.4,751.6 L565.4,751.9 L566.4,752.2 L567.4,752.4 L568.4,752.6 L569.4,752.7 L570.4,752.8 L571.4,752.9 L572.4,753 L573.4,753 L574.4,753 L575.4,753 L576.4,752.9 L577.4,752.8 L578.4,752.7 L579.4,752.5 L580.4,752.3 L581.4,752.1 L582.4,751.8 L583.4,751.5 L584.4,751.2 L585.4,750.8 L586.4,750.4 L587.4,749.9 L588.4,749.4 L589.4,748.9 L590.4,748.4 L591.4,747.8 L592.4,747.2 L593.4,746.6 L594.4,746 L595.4,745.4 L596.4,744.7 L597.4,744 L598.4,743.4 L599.4,742.7 L600.4,742" stroke="#0000ff" stroke-opacity="0.6" stroke-width="1.1"/><path d="M344.4,737 L345.4,736.3 L346.4,735.6 L347.4,734.9 L348.4,734.2 L349.4,733.4 L350.4,732.7 L351.4,731.9 L352.4,731.2 L353.4,730.4 L354.4,729.5 L355.4,728.7 L356.4,727.8 L357.4,726.9 L358.4,726 L359.4,725.1 L360.4,724.1 L361.4,723.1 L362.4,722.1 L363.4,721 L364.4,720 L365.4,718.9 L366.4,717.8 L367.4,716.7 L368.4,715.6 L369.4,714.5 L370.4,713.3 L371.4,712.2 L372.4,711.1 L373.4,709.9 L374.4,708.8 L375.4,707.7 L376.4,706.5 L377.4,705.4 L378.4,704.3 L379.4,703.2 L380.4,702.1 L381.4,701 L382.4,700 L383.4,699 L384.4,697.9 L385.4,696.9 L386.4,695.9 L387.4,695 L388.4,694 L389.4,693 L390.4,692.1 L391.4,691.1 L392.4,690.2 L393.4,689.3 L394.4,688.3 L395.4,687.4 L396.4,686.5 L397.4,685.5 L398.4,684.6 L399.4,683.6 L400.4,682.6 L401.4,681.7 L402.4,680.7 L403.4,679.7 L404.4,678.8 L405.4,677.8 L406.4,676.8 L407.4,675.9 L408.4,674.9 L409.4,673.9 L410.4,673 L411.4,672 L412.4,671 L413.4,670.1 L414.4,669.2 L415.4,668.2 L416.4,667.3 L417.4,666.4 L418.4,665.5 L419.4,664.6 L420.4,663.8 L421.4,663 L422.4,662.2 L423.4,661.5 L424.4,660.7 L425.4,660.1 L426.4,659.4 L427.4,658.8 L428.4,658.2 L429.4,657.6 L430.4,657.1 L431.4,656.5 L432.4,655.9 L433.4,655.4 L434.4,654.8 L435.4,654.2 L436.4,653.7 L437.4,653.1 L438.4,652.6 L439.4,652.1 L440.4,651.6 L441.4,651.2 L442.4,650.9 L443.4,650.6 L444.4,650.3 L445.4,650.2 L446.4,650.1 L447.4,650 L448.4,650.1 L449.4,650.2 L450.4,650.4 L451.4,650.6 L452.4,650.8 L453.4,651.1 L454.4,651.4 L455.4,651.8 L456.4,652.2 L457.4,652.5 L458.4,652.9 L459.4,653.3 L460.4,653.7 L461.4,654.1 L462.4,654.4 L463.4,654.8 L464.4,655.2 L465.4,655.6 L466.4,656 L467.4,656.4 L468.4,656.9 L469.4,657.4 L470.4,657.9 L471.4,658.4 L472.4,659 L473.4,659.6 L474.4,660.2 L475.4,661 L476.4,661.7 L477.4,662.5 L478.4,663.4 L479.4,664.3 L480.4,665.3 L481.4,666.4 L482.4,667.5 L483.4,668.6 L484.4,669.8 L485.4,671 L486.4,672.2 L487.4,673.4 L488.4,674.7 L489.4,676 L490.4,677.2 L491.4,678.5 L492.4,679.7 L493.4,681 L494.4,682.2 L495.4,683.4 L496.4,684.5 L497.4,685.7 L498.4,686.8 L499.4,687.9 L500.4,689 L501.4,690 L502.4,691.1 L503.4,692.1 L504.4,693.2 L505.4,694.2 L506.4,695.3 L507.4,696.3 L508.4,697.3 L509.4,698.4 L510.4,699.4 L511.4,700.5 L512.4,701.6 L513.4,702.7 L514.4,703.8 L515.4,705 L516.4,706.1 L517.4,707.3 L518.4,708.4 L519.4,709.6 L520.4,710.8 L521.4,712 L522.4,713.2 L523.4,714.4 L524.4,715.5 L525.4,716.7 L526.4,717.9 L527.4,719 L528.4,720.2 L529.4,721.3 L530.4,722.4 L531.4,723.5 L532.4,724.5 L533.4,725.6 L534.4,726.6 L535.4,727.6 L536.4,728.6 L537.4,729.5 L538.4,730.5 L539.4,731.4 L540.4,732.3 L541.4,733.1 L542.4,734 L543.4,734.8 L544.4,735.6 L545.4,736.4 L546.4,737.2 L547.4,737.9 L548.4,738.6 L549.4,739.3 L550.4,739.9 L551.4,740.6 L552.4,741.2 L553.4,741.8 L554.4,742.4 L555.4,742.9 L556.4,743.4 L557.4,743.9 L558.4,744.4 L559.4,744.8 L560.4,745.2 L561.4,745.6 L562.4,745.9 L563.4,746.3 L564.4,746.6 L565.4,746.8 L566.4,747.1 L567.4,747.3 L568.4,747.5 L569.4,747.6 L570.4,747.7 L571.4,747.8 L572.4,747.9 L573.4,747.9 L574.4,747.9 L575.4,747.8 L576.4,747.8 L577.4,747.7 L578.4,747.5 L579.4,747.4 L580.4,747.2 L581.4,747 L582.4,746.7 L583.4,746.4 L584.4,746.1 L585.4,745.7 L586.4,745.3 L587.4,744.9 L588.4,744.4 L589.4,744 L590.4,743.5 L591.4,742.9 L592.4,742.4 L593.4,741.8 L594.4,741.2 L595.4,740.6 L596.4,740 L597.4,739.4 L598.4,738.7 L599.4,738 L600.4,737.4" stroke="#008000" stroke-opacity="0.6" stroke-width="1.2" stroke-dasharray="3.8 1.8"/><path d="M344.4,746.1 L345.4,745.4 L346.4,744.8 L347.4,744 L348.4,743.3 L349.4,742.6 L350.4,741.9 L351.4,741.1 L352.4,740.3 L353.4,739.5 L354.4,738.7 L355.4,737.9 L356.4,737 L357.4,736.1 L358.4,735.2 L359.4,734.2 L360.4,733.2 L361.4,732.3 L362.4,731.2 L363.4,730.2 L364.4,729.1 L365.4,728.1 L366.4,727 L367.4,725.9 L368.4,724.8 L369.4,723.6 L370.4,722.5 L371.4,721.4 L372.4,720.2 L373.4,719.1 L374.4,718 L375.4,716.8 L376.4,715.7 L377.4,714.6 L378.4,713.5 L379.4,712.4 L380.4,711.3 L381.4,710.2 L382.4,709.2 L383.4,708.1 L384.4,707.1 L385.4,706.1 L386.4,705.1 L387.4,704.1 L388.4,703.1 L389.4,702.2 L390.4,701.2 L391.4,700.3 L392.4,699.4 L393.4,698.4 L394.4,697.5 L395.4,696.6 L396.4,695.6 L397.4,694.7 L398.4,693.7 L399.4,692.8 L400.4,691.8 L401.4,690.8 L402.4,689.9 L403.4,688.9 L404.4,687.9 L405.4,687 L406.4,686 L407.4,685 L408.4,684.1 L409.4,683.1 L410.4,682.1 L411.4,681.2 L412.4,680.2 L413.4,679.3 L414.4,678.3 L415.4,677.4 L416.4,676.5 L417.4,675.6 L418.4,674.7 L419.4,673.8 L420.4,673 L421.4,672.1 L422.4,671.4 L423.4,670.6 L424.4,669.9 L425.4,669.2 L426.4,668.6 L427.4,668 L428.4,667.4 L429.4,666.8 L430.4,666.2 L431.4,665.7 L432.4,665.1 L433.4,664.5 L434.4,664 L435.4,663.4 L436.4,662.8 L437.4,662.3 L438.4,661.8 L439.4,661.3 L440.4,660.8 L441.4,660.4 L442.4,660 L443.4,659.7 L444.4,659.5 L445.4,659.3 L446.4,659.2 L447.4,659.2 L448.4,659.3 L449.4,659.4 L450.4,659.5 L451.4,659.7 L452.4,660 L453.4,660.3 L454.4,660.6 L455.4,661 L456.4,661.3 L457.4,661.7 L458.4,662.1 L459.4,662.5 L460.4,662.8 L461.4,663.2 L462.4,663.6 L463.4,664 L464.4,664.4 L465.4,664.8 L466.4,665.2 L467.4,665.6 L468.4,666 L469.4,666.5 L470.4,667 L471.4,667.6 L472.4,668.1 L473.4,668.8 L474.4,669.4 L475.4,670.1 L476.4,670.9 L477.4,671.7 L478.4,672.6 L479.4,673.5 L480.4,674.5 L481.4,675.5 L482.4,676.6 L483.4,677.8 L484.4,678.9 L485.4,680.1 L486.4,681.4 L487.4,682.6 L488.4,683.9 L489.4,685.1 L490.4,686.4 L491.4,687.6 L492.4,688.9 L493.4,690.1 L494.4,691.4 L495.4,692.5 L496.4,693.7 L497.4,694.8 L498.4,696 L499.4,697.1 L500.4,698.1 L501.4,699.2 L502.4,700.3 L503.4,701.3 L504.4,702.4 L505.4,703.4 L506.4,704.4 L507.4,705.5 L508.4,706.5 L509.4,707.5 L510.4,708.6 L511.4,709.7 L512.4,710.8 L513.4,711.9 L514.4,713 L515.4,714.1 L516.4,715.3 L517.4,716.4 L518.4,717.6 L519.4,718.8 L520.4,720 L521.4,721.2 L522.4,722.3 L523.4,723.5 L524.4,724.7 L525.4,725.9 L526.4,727 L527.4,728.2 L528.4,729.3 L529.4,730.5 L530.4,731.6 L531.4,732.6 L532.4,733.7 L533.4,734.7 L534.4,735.8 L535.4,736.8 L536.4,737.7 L537.4,738.7 L538.4,739.6 L539.4,740.6 L540.4,741.4 L541.4,742.3 L542.4,743.2 L543.4,744 L544.4,744.8 L545.4,745.6 L546.4,746.3 L547.4,747 L548.4,747.8 L549.4,748.4 L550.4,749.1 L551.4,749.7 L552.4,750.4 L553.4,750.9 L554.4,751.5 L555.4,752.1 L556.4,752.6 L557.4,753.1 L558.4,753.5 L559.4,754 L560.4,754.4 L561.4,754.7 L562.4,755.1 L563.4,755.4 L564.4,755.7 L565.4,756 L566.4,756.2 L567.4,756.4 L568.4,756.6 L569.4,756.8 L570.4,756.9 L571.4,757 L572.4,757 L573.4,757.1 L574.4,757 L575.4,757 L576.4,756.9 L577.4,756.8 L578.4,756.7 L579.4,756.5 L580.4,756.3 L581.4,756.1 L582.4,755.9 L583.4,755.6 L584.4,755.2 L585.4,754.9 L586.4,754.5 L587.4,754.1 L588.4,753.6 L589.4,753.1 L590.4,752.6 L591.4,752.1 L592.4,751.5 L593.4,751 L594.4,750.4 L595.4,749.8 L596.4,749.2 L597.4,748.5 L598.4,747.9 L599.4,747.2 L600.4,746.5" stroke="#008000" stroke-opacity="0.6" stroke-width="1.2" stroke-dasharray="3.8 1.8"/><path d="M344.4,741.5 L345.4,740.9 L346.4,740.2 L347.4,739.5 L348.4,738.8 L349.4,738 L350.4,737.3 L351.4,736.5 L352.4,735.7 L353.4,734.9 L354.4,734.1 L355.4,733.3 L356.4,732.4 L357.4,731.5 L358.4,730.6 L359.4,729.6 L360.4,728.7 L361.4,727.7 L362.4,726.7 L363.4,725.6 L364.4,724.6 L365.4,723.5 L366.4,722.4 L367.4,721.3 L368.4,720.2 L369.4,719.1 L370.4,717.9 L371.4,716.8 L372.4,715.7 L373.4,714.5 L374.4,713.4 L375.4,712.2 L376.4,711.1 L377.4,710 L378.4,708.9 L379.4,707.8 L380.4,706.7 L381.4,705.6 L382.4,704.6 L383.4,703.5 L384.4,702.5 L385.4,701.5 L386.4,700.5 L387.4,699.5 L388.4,698.6 L389.4,697.6 L390.4,696.7 L391.4,695.7 L392.4,694.8 L393.4,693.8 L394.4,692.9 L395.4,692 L396.4,691 L397.4,690.1 L398.4,689.1 L399.4,688.2 L400.4,687.2 L401.4,686.3 L402.4,685.3 L403.4,684.3 L404.4,683.4 L405.4,682.4 L406.4,681.4 L407.4,680.4 L408.4,679.5 L409.4,678.5 L410.4,677.5 L411.4,676.6 L412.4,675.6 L413.4,674.7 L414.4,673.7 L415.4,672.8 L416.4,671.9 L417.4,671 L418.4,670.1 L419.4,669.2 L420.4,668.4 L421.4,667.6 L422.4,666.8 L423.4,666 L424.4,665.3 L425.4,664.6 L426.4,664 L427.4,663.4 L428.4,662.8 L429.4,662.2 L430.4,661.6 L431.4,661.1 L432.4,660.5 L433.4,659.9 L434.4,659.4 L435.4,658.8 L436.4,658.2 L437.4,657.7 L438.4,657.2 L439.4,656.7 L440.4,656.2 L441.4,655.8 L442.4,655.4 L443.4,655.1 L444.4,654.9 L445.4,654.7 L446.4,654.6 L447.4,654.6 L448.4,654.7 L449.4,654.8 L450.4,655 L451.4,655.2 L452.4,655.4 L453.4,655.7 L454.4,656 L455.4,656.4 L456.4,656.7 L457.4,657.1 L458.4,657.5 L459.4,657.9 L460.4,658.3 L461.4,658.6 L462.4,659 L463.4,659.4 L464.4,659.8 L465.4,660.2 L466.4,660.6 L467.4,661 L468.4,661.5 L469.4,661.9 L470.4,662.4 L471.4,663 L472.4,663.6 L473.4,664.2 L474.4,664.8 L475.4,665.5 L476.4,666.3 L477.4,667.1 L478.4,668 L479.4,668.9 L480.4,669.9 L481.4,671 L482.4,672.1 L483.4,673.2 L484.4,674.4 L485.4,675.6 L486.4,676.8 L487.4,678 L488.4,679.3 L489.4,680.5 L490.4,681.8 L491.4,683.1 L492.4,684.3 L493.4,685.6 L494.4,686.8 L495.4,688 L496.4,689.1 L497.4,690.3 L498.4,691.4 L499.4,692.5 L500.4,693.6 L501.4,694.6 L502.4,695.7 L503.4,696.7 L504.4,697.8 L505.4,698.8 L506.4,699.8 L507.4,700.9 L508.4,701.9 L509.4,703 L510.4,704 L511.4,705.1 L512.4,706.2 L513.4,707.3 L514.4,708.4 L515.4,709.5 L516.4,710.7 L517.4,711.9 L518.4,713 L519.4,714.2 L520.4,715.4 L521.4,716.6 L522.4,717.8 L523.4,718.9 L524.4,720.1 L525.4,721.3 L526.4,722.5 L527.4,723.6 L528.4,724.7 L529.4,725.9 L530.4,727 L531.4,728.1 L532.4,729.1 L533.4,730.2 L534.4,731.2 L535.4,732.2 L536.4,733.2 L537.4,734.1 L538.4,735.1 L539.4,736 L540.4,736.9 L541.4,737.7 L542.4,738.6 L543.4,739.4 L544.4,740.2 L545.4,741 L546.4,741.7 L547.4,742.5 L548.4,743.2 L549.4,743.9 L550.4,744.5 L551.4,745.2 L552.4,745.8 L553.4,746.4 L554.4,746.9 L555.4,747.5 L556.4,748 L557.4,748.5 L558.4,748.9 L559.4,749.4 L560.4,749.8 L561.4,750.2 L562.4,750.5 L563.4,750.8 L564.4,751.1 L565.4,751.4 L566.4,751.6 L567.4,751.9 L568.4,752 L569.4,752.2 L570.4,752.3 L571.4,752.4 L572.4,752.4 L573.4,752.5 L574.4,752.5 L575.4,752.4 L576.4,752.4 L577.4,752.3 L578.4,752.1 L579.4,752 L580.4,751.8 L581.4,751.5 L582.4,751.3 L583.4,751 L584.4,750.7 L585.4,750.3 L586.4,749.9 L587.4,749.5 L588.4,749 L589.4,748.5 L590.4,748 L591.4,747.5 L592.4,747 L593.4,746.4 L594.4,745.8 L595.4,745.2 L596.4,744.6 L597.4,743.9 L598.4,743.3 L599.4,742.6 L600.4,742" stroke="#008000" stroke-opacity="0.6" stroke-width="1.1"/></g><path d="M344.4,638.4 H478.2 M344.4,638.4 V769.3 H478.2" stroke="#9a9a9a" stroke-width="1" fill="none"/><path d="M478.2,638.4 H600.8 M478.2,769.3 H600.8" stroke="#6c6c6c" stroke-width="1" fill="none"/><path d="M600.3,638.4 V769.3" stroke="#6c6c6c" stroke-width="1" fill="none"/><path d="M341.9,769.3 H344.4" stroke="#9a9a9a" stroke-width="1"/><text x="340.4" y="772.5" font-size="9.3" text-anchor="end">6.4</text><path d="M341.9,743.12 H344.4" stroke="#9a9a9a" stroke-width="1"/><text x="340.4" y="746.32" font-size="9.3" text-anchor="end">6.6</text><path d="M341.9,716.94 H344.4" stroke="#9a9a9a" stroke-width="1"/><text x="340.4" y="720.14" font-size="9.3" text-anchor="end">6.8</text><path d="M341.9,690.76 H344.4" stroke="#9a9a9a" stroke-width="1"/><text x="340.4" y="693.96" font-size="9.3" text-anchor="end">7</text><path d="M341.9,664.58 H344.4" stroke="#9a9a9a" stroke-width="1"/><text x="340.4" y="667.78" font-size="9.3" text-anchor="end">7.2</text><path d="M341.9,638.4 H344.4" stroke="#9a9a9a" stroke-width="1"/><text x="340.4" y="641.6" font-size="9.3" text-anchor="end">7.4</text><path d="M344.4,769.3 V771.8 M478.2,769.3 V771.8" stroke="#9a9a9a" stroke-width="1"/><text x="344.4" y="780.1" font-size="9.3" text-anchor="middle">Sunrise</text><text x="478.2" y="779.9" font-size="9.3" text-anchor="middle">Sunset</text><text x="472.6" y="789.7" font-size="9.3" text-anchor="middle">Time of day</text><text transform="translate(322.9,703.85) rotate(-90) scale(0.92,1)" font-size="10.1" text-anchor="middle">AH (g m<tspan font-size="6.5" dy="-3.8">-3</tspan><tspan dy="3.8">)</tspan></text><text transform="translate(306.2,631.9) scale(0.93,1)" font-size="14.5">(h)</text><rect x="381.5" y="796.2" width="184.2" height="14.5" fill="#fff" stroke="#c2c2c2" stroke-width="1.6"/><path d="M381.5,795.7 V811.2 M565.7,795.7 V811.2" stroke="#9a9a9a" stroke-width="1" fill="none"/><path d="M384.8,803.5 H409" stroke="#0000ff" stroke-opacity="0.7" stroke-width="1.0"/><text x="413" y="806.7" font-size="9.3">Control</text><path d="M452.7,803.5 H476.8" stroke="#ff0000" stroke-opacity="0.7" stroke-width="1.0"/><text x="481.1" y="806.7" font-size="9.3">Gap</text><path d="M508.7,803.5 H532.9" stroke="#008000" stroke-opacity="0.7" stroke-width="1.0"/><text x="537.3" y="806.7" font-size="9.3">Under</text></g>
</svg></body></html>
